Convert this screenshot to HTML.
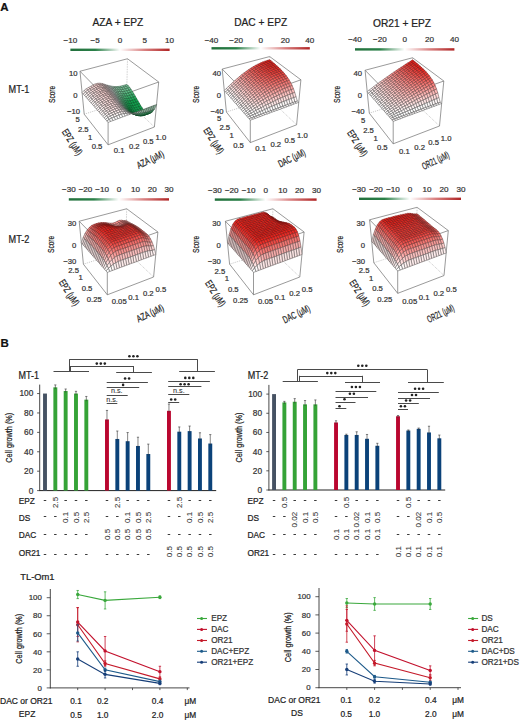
<!DOCTYPE html>
<html><head><meta charset="utf-8"><style>
html,body{margin:0;padding:0;background:#fff;}
svg{display:block;font-family:"Liberation Sans", sans-serif;}
text{stroke:currentColor;stroke-width:0.22px;}
</style></head><body>
<svg width="520" height="720" viewBox="0 0 520 720">
<rect width="520" height="720" fill="#fff"/>
<text x="0.30" y="11.30" font-size="11.5" text-anchor="start" font-weight="bold" fill="#111" color="#111" >A</text>
<defs><linearGradient id="cbg" x1="0" x2="1" y1="0" y2="0"><stop offset="0" stop-color="#22703c"/><stop offset="0.25" stop-color="#2a8048"/><stop offset="0.5" stop-color="#ffffff"/><stop offset="0.75" stop-color="#d98080"/><stop offset="1" stop-color="#b02424"/></linearGradient></defs>
<text x="117.90" y="26.20" font-size="10.2" text-anchor="middle" font-weight="normal" fill="#222" color="#222" >AZA + EPZ</text>
<text x="260.70" y="26.20" font-size="10.2" text-anchor="middle" font-weight="normal" fill="#222" color="#222" >DAC + EPZ</text>
<text x="402.00" y="26.50" font-size="10.2" text-anchor="middle" font-weight="normal" fill="#222" color="#222" >OR21 + EPZ</text>
<rect x="70.40" y="48.60" width="99.20" height="2.4" fill="url(#cbg)"/>
<text x="70.40" y="42.70" font-size="8.1" text-anchor="middle" font-weight="normal" fill="#333" color="#333" >−10</text>
<text x="95.20" y="42.70" font-size="8.1" text-anchor="middle" font-weight="normal" fill="#333" color="#333" >−5</text>
<text x="120.00" y="42.70" font-size="8.1" text-anchor="middle" font-weight="normal" fill="#333" color="#333" >0</text>
<text x="144.80" y="42.70" font-size="8.1" text-anchor="middle" font-weight="normal" fill="#333" color="#333" >5</text>
<text x="169.60" y="42.70" font-size="8.1" text-anchor="middle" font-weight="normal" fill="#333" color="#333" >10</text>
<rect x="211.50" y="47.10" width="98.30" height="2.4" fill="url(#cbg)"/>
<text x="211.50" y="42.70" font-size="8.1" text-anchor="middle" font-weight="normal" fill="#333" color="#333" >−40</text>
<text x="236.07" y="42.70" font-size="8.1" text-anchor="middle" font-weight="normal" fill="#333" color="#333" >−20</text>
<text x="260.65" y="42.70" font-size="8.1" text-anchor="middle" font-weight="normal" fill="#333" color="#333" >0</text>
<text x="285.23" y="42.70" font-size="8.1" text-anchor="middle" font-weight="normal" fill="#333" color="#333" >20</text>
<text x="309.80" y="42.70" font-size="8.1" text-anchor="middle" font-weight="normal" fill="#333" color="#333" >40</text>
<rect x="355.00" y="48.20" width="99.40" height="2.4" fill="url(#cbg)"/>
<text x="355.00" y="42.30" font-size="8.1" text-anchor="middle" font-weight="normal" fill="#333" color="#333" >−40</text>
<text x="379.85" y="42.30" font-size="8.1" text-anchor="middle" font-weight="normal" fill="#333" color="#333" >−20</text>
<text x="404.70" y="42.30" font-size="8.1" text-anchor="middle" font-weight="normal" fill="#333" color="#333" >0</text>
<text x="429.55" y="42.30" font-size="8.1" text-anchor="middle" font-weight="normal" fill="#333" color="#333" >20</text>
<text x="454.40" y="42.30" font-size="8.1" text-anchor="middle" font-weight="normal" fill="#333" color="#333" >40</text>
<rect x="68.80" y="198.20" width="100.20" height="2.4" fill="url(#cbg)"/>
<text x="68.80" y="192.30" font-size="8.1" text-anchor="middle" font-weight="normal" fill="#333" color="#333" >−30</text>
<text x="85.50" y="192.30" font-size="8.1" text-anchor="middle" font-weight="normal" fill="#333" color="#333" >−20</text>
<text x="102.20" y="192.30" font-size="8.1" text-anchor="middle" font-weight="normal" fill="#333" color="#333" >−10</text>
<text x="118.90" y="192.30" font-size="8.1" text-anchor="middle" font-weight="normal" fill="#333" color="#333" >0</text>
<text x="135.60" y="192.30" font-size="8.1" text-anchor="middle" font-weight="normal" fill="#333" color="#333" >10</text>
<text x="152.30" y="192.30" font-size="8.1" text-anchor="middle" font-weight="normal" fill="#333" color="#333" >20</text>
<text x="169.00" y="192.30" font-size="8.1" text-anchor="middle" font-weight="normal" fill="#333" color="#333" >30</text>
<rect x="214.80" y="198.40" width="101.80" height="2.4" fill="url(#cbg)"/>
<text x="214.80" y="192.50" font-size="8.1" text-anchor="middle" font-weight="normal" fill="#333" color="#333" >−30</text>
<text x="231.77" y="192.50" font-size="8.1" text-anchor="middle" font-weight="normal" fill="#333" color="#333" >−20</text>
<text x="248.73" y="192.50" font-size="8.1" text-anchor="middle" font-weight="normal" fill="#333" color="#333" >−10</text>
<text x="265.70" y="192.50" font-size="8.1" text-anchor="middle" font-weight="normal" fill="#333" color="#333" >0</text>
<text x="282.67" y="192.50" font-size="8.1" text-anchor="middle" font-weight="normal" fill="#333" color="#333" >10</text>
<text x="299.63" y="192.50" font-size="8.1" text-anchor="middle" font-weight="normal" fill="#333" color="#333" >20</text>
<text x="316.60" y="192.50" font-size="8.1" text-anchor="middle" font-weight="normal" fill="#333" color="#333" >30</text>
<rect x="359.00" y="197.60" width="102.00" height="2.4" fill="url(#cbg)"/>
<text x="359.00" y="191.70" font-size="8.1" text-anchor="middle" font-weight="normal" fill="#333" color="#333" >−30</text>
<text x="376.00" y="191.70" font-size="8.1" text-anchor="middle" font-weight="normal" fill="#333" color="#333" >−20</text>
<text x="393.00" y="191.70" font-size="8.1" text-anchor="middle" font-weight="normal" fill="#333" color="#333" >−10</text>
<text x="410.00" y="191.70" font-size="8.1" text-anchor="middle" font-weight="normal" fill="#333" color="#333" >0</text>
<text x="427.00" y="191.70" font-size="8.1" text-anchor="middle" font-weight="normal" fill="#333" color="#333" >10</text>
<text x="444.00" y="191.70" font-size="8.1" text-anchor="middle" font-weight="normal" fill="#333" color="#333" >20</text>
<text x="461.00" y="191.70" font-size="8.1" text-anchor="middle" font-weight="normal" fill="#333" color="#333" >30</text>
<text x="8.60" y="92.60" font-size="10" text-anchor="start" font-weight="normal" fill="#222" color="#222" textLength="20.8" lengthAdjust="spacingAndGlyphs">MT-1</text>
<text x="8.60" y="243.00" font-size="10" text-anchor="start" font-weight="normal" fill="#222" color="#222" textLength="20.8" lengthAdjust="spacingAndGlyphs">MT-2</text>
<line x1="80.00" y1="71.25" x2="127.50" y2="58.75" stroke="#6e6e6e" stroke-width="0.7" />
<line x1="127.50" y1="58.75" x2="158.70" y2="82.00" stroke="#6e6e6e" stroke-width="0.7" />
<line x1="158.70" y1="82.00" x2="108.10" y2="100.00" stroke="#6e6e6e" stroke-width="0.7" />
<line x1="108.10" y1="100.00" x2="80.00" y2="71.25" stroke="#6e6e6e" stroke-width="0.7" />
<line x1="84.20" y1="114.20" x2="108.10" y2="144.80" stroke="#6e6e6e" stroke-width="0.7" />
<line x1="108.10" y1="144.80" x2="154.40" y2="127.00" stroke="#6e6e6e" stroke-width="0.7" />
<line x1="84.20" y1="114.20" x2="126.50" y2="100.50" stroke="#999" stroke-width="0.55" stroke-dasharray="1,1"/>
<line x1="126.50" y1="100.50" x2="154.40" y2="127.00" stroke="#999" stroke-width="0.55" stroke-dasharray="1,1"/>
<line x1="80.00" y1="71.25" x2="84.20" y2="114.20" stroke="#6e6e6e" stroke-width="0.7" />
<line x1="158.70" y1="82.00" x2="154.40" y2="127.00" stroke="#6e6e6e" stroke-width="0.7" />
<line x1="108.10" y1="100.00" x2="108.10" y2="144.80" stroke="#6e6e6e" stroke-width="0.7" />
<line x1="127.50" y1="58.75" x2="126.50" y2="100.50" stroke="#aaa" stroke-width="0.55" stroke-dasharray="1.5,1"/>
<g stroke-width="0.55">
<polygon points="126.1,86.5 128.3,85.8 126.9,84.4 124.7,85.0" fill="#7dcb9e" stroke="#385c47"/>
<polygon points="123.9,87.1 126.1,86.5 124.7,85.0 122.5,85.7" fill="#7dcb9e" stroke="#385c47"/>
<polygon points="127.6,88.2 129.8,87.5 128.3,85.8 126.1,86.5" fill="#78cc9b" stroke="#365d46"/>
<polygon points="121.7,87.7 123.9,87.1 122.5,85.7 120.2,86.2" fill="#7ecb9e" stroke="#395c47"/>
<polygon points="125.3,88.8 127.6,88.2 126.1,86.5 123.9,87.1" fill="#79cc9b" stroke="#375c46"/>
<polygon points="119.4,88.0 121.7,87.7 120.2,86.2 118.0,86.5" fill="#81caa0" stroke="#3a5b48"/>
<polygon points="129.0,90.2 131.2,89.5 129.8,87.5 127.6,88.2" fill="#6dc994" stroke="#325d44"/>
<polygon points="123.1,89.4 125.3,88.8 123.9,87.1 121.7,87.7" fill="#7acc9c" stroke="#375c47"/>
<polygon points="117.2,88.1 119.4,88.0 118.0,86.5 115.8,86.6" fill="#89cba5" stroke="#3d5b4a"/>
<polygon points="126.7,90.8 129.0,90.2 127.6,88.2 125.3,88.8" fill="#6ec994" stroke="#325c44"/>
<polygon points="120.9,89.8 123.1,89.4 121.7,87.7 119.4,88.0" fill="#7dcb9d" stroke="#385c47"/>
<polygon points="115.0,87.9 117.2,88.1 115.8,86.6 113.6,86.5" fill="#96cead" stroke="#425a4c"/>
<polygon points="130.4,92.4 132.6,91.7 131.2,89.5 129.0,90.2" fill="#5dc488" stroke="#2c5c40"/>
<polygon points="124.5,91.4 126.7,90.8 125.3,88.8 123.1,89.4" fill="#6fc994" stroke="#335c44"/>
<polygon points="118.6,89.8 120.9,89.8 119.4,88.0 117.2,88.1" fill="#85cba2" stroke="#3c5b49"/>
<polygon points="112.7,87.6 115.0,87.9 113.6,86.5 111.3,86.1" fill="#a8d2ba" stroke="#485a50"/>
<polygon points="128.2,93.0 130.4,92.4 129.0,90.2 126.7,90.8" fill="#5ec488" stroke="#2c5c40"/>
<polygon points="122.3,91.7 124.5,91.4 123.1,89.4 120.9,89.8" fill="#72c896" stroke="#345c45"/>
<polygon points="110.5,87.1 112.7,87.6 111.3,86.1 109.1,85.6" fill="#c0dacb" stroke="#4f5a54"/>
<polygon points="116.4,89.6 118.6,89.8 117.2,88.1 115.0,87.9" fill="#92ceab" stroke="#405b4b"/>
<polygon points="131.8,94.7 134.0,94.0 132.6,91.7 130.4,92.4" fill="#4abc7a" stroke="#245b3b"/>
<polygon points="125.9,93.6 128.2,93.0 126.7,90.8 124.5,91.4" fill="#5fc389" stroke="#2c5c40"/>
<polygon points="120.0,91.7 122.3,91.7 120.9,89.8 118.6,89.8" fill="#7bc99b" stroke="#385b46"/>
<polygon points="108.2,86.4 110.5,87.1 109.1,85.6 106.8,85.0" fill="#e0e5e2" stroke="#575958"/>
<polygon points="114.1,89.2 116.4,89.6 115.0,87.9 112.7,87.6" fill="#a4d2b8" stroke="#465a4f"/>
<polygon points="129.6,95.4 131.8,94.7 130.4,92.4 128.2,93.0" fill="#4abd7a" stroke="#245c3b"/>
<polygon points="123.7,93.9 125.9,93.6 124.5,91.4 122.3,91.7" fill="#63c38b" stroke="#2e5b41"/>
<polygon points="105.9,85.6 108.2,86.4 106.8,85.0 104.5,84.2" fill="#e6dddd" stroke="#5b5757"/>
<polygon points="117.8,91.5 120.0,91.7 118.6,89.8 116.4,89.6" fill="#89cba4" stroke="#3d5b49"/>
<polygon points="111.9,88.7 114.1,89.2 112.7,87.6 110.5,87.1" fill="#bddac9" stroke="#4e5a53"/>
<polygon points="133.2,97.1 135.4,96.4 134.0,94.0 131.8,94.7" fill="#35b46a" stroke="#1a5a35"/>
<polygon points="127.3,96.0 129.6,95.4 128.2,93.0 125.9,93.6" fill="#4cbc7b" stroke="#245b3b"/>
<polygon points="121.5,93.8 123.7,93.9 122.3,91.7 120.0,91.7" fill="#6cc390" stroke="#325b43"/>
<polygon points="103.6,84.9 105.9,85.6 104.5,84.2 102.2,83.5" fill="#e6d4d4" stroke="#5c5555"/>
<polygon points="115.5,91.0 117.8,91.5 116.4,89.6 114.1,89.2" fill="#9cd0b1" stroke="#445b4d"/>
<polygon points="109.6,87.9 111.9,88.7 110.5,87.1 108.2,86.4" fill="#dde4e0" stroke="#575a58"/>
<polygon points="130.9,97.8 133.2,97.1 131.8,94.7 129.6,95.4" fill="#35b46a" stroke="#1a5a35"/>
<polygon points="125.1,96.2 127.3,96.0 125.9,93.6 123.7,93.9" fill="#50bb7d" stroke="#265a3c"/>
<polygon points="101.2,84.6 103.6,84.9 102.2,83.5 99.8,83.2" fill="#eacecd" stroke="#5f5453"/>
<polygon points="119.2,93.5 121.5,93.8 120.0,91.7 117.8,91.5" fill="#7bc69a" stroke="#385a46"/>
<polygon points="107.3,87.1 109.6,87.9 108.2,86.4 105.9,85.6" fill="#e7dfdf" stroke="#5b5858"/>
<polygon points="113.3,90.4 115.5,91.0 114.1,89.2 111.9,88.7" fill="#b5d8c3" stroke="#4c5a52"/>
<polygon points="134.6,99.6 136.8,98.9 135.4,96.4 133.2,97.1" fill="#1fac59" stroke="#10592e"/>
<polygon points="128.7,98.4 130.9,97.8 129.6,95.4 127.3,96.0" fill="#36b46b" stroke="#1b5a35"/>
<polygon points="122.8,96.1 125.1,96.2 123.7,93.9 121.5,93.8" fill="#5bbc83" stroke="#2b5a3e"/>
<polygon points="98.9,84.7 101.2,84.6 99.8,83.2 97.5,83.3" fill="#f0cccb" stroke="#615352"/>
<polygon points="117.0,92.9 119.2,93.5 117.8,91.5 115.5,91.0" fill="#90cba8" stroke="#405a4b"/>
<polygon points="105.0,86.4 107.3,87.1 105.9,85.6 103.6,84.9" fill="#e7d5d5" stroke="#5d5555"/>
<polygon points="111.0,89.6 113.3,90.4 111.9,88.7 109.6,87.9" fill="#d4e1da" stroke="#545a57"/>
<polygon points="132.3,100.3 134.6,99.6 133.2,97.1 130.9,97.8" fill="#1fac5a" stroke="#10592e"/>
<polygon points="126.5,98.6 128.7,98.4 127.3,96.0 125.1,96.2" fill="#3cb36d" stroke="#1e5936"/>
<polygon points="96.6,85.3 98.9,84.7 97.5,83.3 95.3,83.9" fill="#f6cfcd" stroke="#635352"/>
<polygon points="120.6,95.6 122.8,96.1 121.5,93.8 119.2,93.5" fill="#6bbf8e" stroke="#325a42"/>
<polygon points="102.6,86.0 105.0,86.4 103.6,84.9 101.2,84.6" fill="#eacece" stroke="#5f5353"/>
<polygon points="114.7,92.2 117.0,92.9 115.5,91.0 113.3,90.4" fill="#aad3bb" stroke="#485a50"/>
<polygon points="108.7,88.7 111.0,89.6 109.6,87.9 107.3,87.1" fill="#e7e0e0" stroke="#5b5858"/>
<polygon points="135.9,102.1 138.2,101.3 136.8,98.9 134.6,99.6" fill="#10a64f" stroke="#085729"/>
<polygon points="130.1,100.9 132.3,100.3 130.9,97.8 128.7,98.4" fill="#21ac5b" stroke="#11582f"/>
<polygon points="124.2,98.4 126.5,98.6 125.1,96.2 122.8,96.1" fill="#47b475" stroke="#235939"/>
<polygon points="94.4,86.4 96.6,85.3 95.3,83.9 93.0,84.9" fill="#fad4d3" stroke="#635453"/>
<polygon points="118.4,94.9 120.6,95.6 119.2,93.5 117.0,92.9" fill="#81c59d" stroke="#3b5a47"/>
<polygon points="100.3,86.1 102.6,86.0 101.2,84.6 98.9,84.7" fill="#f0cccb" stroke="#615352"/>
<polygon points="112.4,91.3 114.7,92.2 113.3,90.4 111.0,89.6" fill="#c9ddd2" stroke="#525a55"/>
<polygon points="106.4,87.9 108.7,88.7 107.3,87.1 105.0,86.4" fill="#e7d6d5" stroke="#5c5655"/>
<polygon points="133.7,102.8 135.9,102.1 134.6,99.6 132.3,100.3" fill="#10a64f" stroke="#085729"/>
<polygon points="127.8,101.1 130.1,100.9 128.7,98.4 126.5,98.6" fill="#26ab5d" stroke="#13582f"/>
<polygon points="92.1,87.6 94.4,86.4 93.0,84.9 90.8,86.2" fill="#fcdad9" stroke="#625554"/>
<polygon points="122.0,97.9 124.2,98.4 122.8,96.1 120.6,95.6" fill="#59b780" stroke="#2b583e"/>
<polygon points="98.0,86.7 100.3,86.1 98.9,84.7 96.6,85.3" fill="#f6cfcd" stroke="#635352"/>
<polygon points="116.1,94.1 118.4,94.9 117.0,92.9 114.7,92.2" fill="#9ccdb1" stroke="#445a4d"/>
<polygon points="104.0,87.4 106.4,87.9 105.0,86.4 102.6,86.0" fill="#eacfce" stroke="#5f5453"/>
<polygon points="110.1,90.3 112.4,91.3 111.0,89.6 108.7,88.7" fill="#e7e1e1" stroke="#5a5858"/>
<polygon points="137.3,104.5 139.6,103.7 138.2,101.3 135.9,102.1" fill="#10a64f" stroke="#085729"/>
<polygon points="131.4,103.4 133.7,102.8 132.3,100.3 130.1,100.9" fill="#10a54e" stroke="#085729"/>
<polygon points="125.6,100.8 127.8,101.1 126.5,98.6 124.2,98.4" fill="#33ac65" stroke="#195733"/>
<polygon points="89.9,88.8 92.1,87.6 90.8,86.2 88.6,87.4" fill="#fde0df" stroke="#615656"/>
<polygon points="119.7,97.0 122.0,97.9 120.6,95.6 118.4,94.9" fill="#71bd91" stroke="#355844"/>
<polygon points="95.7,87.8 98.0,86.7 96.6,85.3 94.4,86.4" fill="#fad4d3" stroke="#635453"/>
<polygon points="113.8,93.1 116.1,94.1 114.7,92.2 112.4,91.3" fill="#bdd7c8" stroke="#4f5953"/>
<polygon points="101.7,87.5 104.0,87.4 102.6,86.0 100.3,86.1" fill="#efcccb" stroke="#615352"/>
<polygon points="107.7,89.4 110.1,90.3 108.7,88.7 106.4,87.9" fill="#e6d7d6" stroke="#5c5656"/>
<polygon points="135.0,105.3 137.3,104.5 135.9,102.1 133.7,102.8" fill="#10a64f" stroke="#085729"/>
<polygon points="129.2,103.5 131.4,103.4 130.1,100.9 127.8,101.1" fill="#11a24e" stroke="#095629"/>
<polygon points="87.7,90.2 89.9,88.8 88.6,87.4 86.4,88.7" fill="#fee6e6" stroke="#605757"/>
<polygon points="123.4,100.1 125.6,100.8 124.2,98.4 122.0,97.9" fill="#47af72" stroke="#235738"/>
<polygon points="93.5,89.0 95.7,87.8 94.4,86.4 92.1,87.6" fill="#fcdad9" stroke="#625554"/>
<polygon points="117.5,96.1 119.7,97.0 118.4,94.9 116.1,94.1" fill="#8ec6a5" stroke="#40594a"/>
<polygon points="99.4,88.1 101.7,87.5 100.3,86.1 98.0,86.7" fill="#f6cfcd" stroke="#635352"/>
<polygon points="111.5,91.9 113.8,93.1 112.4,91.3 110.1,90.3" fill="#e6e2e2" stroke="#5a5858"/>
<polygon points="105.4,88.9 107.7,89.4 106.4,87.9 104.0,87.4" fill="#e9cfce" stroke="#5e5453"/>
<polygon points="138.7,106.8 140.9,106.0 139.6,103.7 137.3,104.5" fill="#10a64e" stroke="#085729"/>
<polygon points="132.8,105.9 135.0,105.3 133.7,102.8 131.4,103.4" fill="#10a54e" stroke="#085729"/>
<polygon points="127.0,103.2 129.2,103.5 127.8,101.1 125.6,100.8" fill="#1fa356" stroke="#10552d"/>
<polygon points="85.5,91.8 87.7,90.2 86.4,88.7 84.2,90.4" fill="#ffeeee" stroke="#5f5959"/>
<polygon points="121.1,99.2 123.4,100.1 122.0,97.9 119.7,97.0" fill="#60b684" stroke="#2e573f"/>
<polygon points="91.3,90.3 93.5,89.0 92.1,87.6 89.9,88.8" fill="#fde0df" stroke="#615656"/>
<polygon points="115.2,94.9 117.5,96.1 116.1,94.1 113.8,93.1" fill="#b0d1be" stroke="#4b5951"/>
<polygon points="97.1,89.2 99.4,88.1 98.0,86.7 95.7,87.8" fill="#fad4d3" stroke="#635453"/>
<polygon points="109.1,90.9 111.5,91.9 110.1,90.3 107.7,89.4" fill="#e5d7d7" stroke="#5c5656"/>
<polygon points="103.1,88.9 105.4,88.9 104.0,87.4 101.7,87.5" fill="#efcccb" stroke="#615352"/>
<polygon points="136.4,107.6 138.7,106.8 137.3,104.5 135.0,105.3" fill="#10a64e" stroke="#085729"/>
<polygon points="130.6,106.0 132.8,105.9 131.4,103.4 129.2,103.5" fill="#10a14c" stroke="#085528"/>
<polygon points="83.4,94.2 85.5,91.8 84.2,90.4 82.1,92.7" fill="#fff8f7" stroke="#5d5a5a"/>
<polygon points="124.8,102.4 127.0,103.2 125.6,100.8 123.4,100.1" fill="#34a764" stroke="#1a5533"/>
<polygon points="89.0,91.6 91.3,90.3 89.9,88.8 87.7,90.2" fill="#fee6e6" stroke="#605757"/>
<polygon points="118.9,98.1 121.1,99.2 119.7,97.0 117.5,96.1" fill="#7fc09a" stroke="#3a5847"/>
<polygon points="140.0,108.9 142.3,108.1 140.9,106.0 138.7,106.8" fill="#10a54e" stroke="#085729"/>
<polygon points="94.9,90.5 97.1,89.2 95.7,87.8 93.5,89.0" fill="#fcdad9" stroke="#625554"/>
<polygon points="112.9,93.6 115.2,94.9 113.8,93.1 111.5,91.9" fill="#e1e2e1" stroke="#585958"/>
<polygon points="100.8,89.5 103.1,88.9 101.7,87.5 99.4,88.1" fill="#f6cfcd" stroke="#635352"/>
<polygon points="106.8,90.3 109.1,90.9 107.7,89.4 105.4,88.9" fill="#e8cfce" stroke="#5e5454"/>
<polygon points="134.2,108.2 136.4,107.6 135.0,105.3 132.8,105.9" fill="#10a54e" stroke="#085729"/>
<polygon points="128.3,105.5 130.6,106.0 129.2,103.5 127.0,103.2" fill="#0f9c4a" stroke="#085327"/>
<polygon points="122.5,101.4 124.8,102.4 123.4,100.1 121.1,99.2" fill="#4fae77" stroke="#27563b"/>
<polygon points="86.8,93.3 89.0,91.6 87.7,90.2 85.5,91.8" fill="#ffeeee" stroke="#5f5959"/>
<polygon points="116.6,96.7 118.9,98.1 117.5,96.1 115.2,94.9" fill="#a2cbb3" stroke="#47594e"/>
<polygon points="92.6,91.7 94.9,90.5 93.5,89.0 91.3,90.3" fill="#fde0df" stroke="#615656"/>
<polygon points="110.5,92.5 112.9,93.6 111.5,91.9 109.1,90.9" fill="#e4d8d7" stroke="#5b5656"/>
<polygon points="98.5,90.6 100.8,89.5 99.4,88.1 97.1,89.2" fill="#fad4d3" stroke="#635453"/>
<polygon points="137.8,109.7 140.0,108.9 138.7,106.8 136.4,107.6" fill="#10a54e" stroke="#085729"/>
<polygon points="104.5,90.3 106.8,90.3 105.4,88.9 103.1,88.9" fill="#eecccb" stroke="#615352"/>
<polygon points="131.9,108.2 134.2,108.2 132.8,105.9 130.6,106.0" fill="#10a04c" stroke="#085528"/>
<polygon points="126.1,104.7 128.3,105.5 127.0,103.2 124.8,102.4" fill="#239f57" stroke="#12532d"/>
<polygon points="141.4,110.7 143.7,109.9 142.3,108.1 140.0,108.9" fill="#10a34d" stroke="#085628"/>
<polygon points="84.7,95.6 86.8,93.3 85.5,91.8 83.4,94.2" fill="#fff8f7" stroke="#5d5a5a"/>
<polygon points="120.3,100.1 122.5,101.4 121.1,99.2 118.9,98.1" fill="#6fb98e" stroke="#345743"/>
<polygon points="90.4,93.1 92.6,91.7 91.3,90.3 89.0,91.6" fill="#fee6e6" stroke="#605757"/>
<polygon points="114.3,95.3 116.6,96.7 115.2,94.9 112.9,93.6" fill="#d1dbd5" stroke="#545956"/>
<polygon points="96.2,91.9 98.5,90.6 97.1,89.2 94.9,90.5" fill="#fcdad9" stroke="#625554"/>
<polygon points="108.2,91.8 110.5,92.5 109.1,90.9 106.8,90.3" fill="#e7cfce" stroke="#5e5454"/>
<polygon points="102.1,90.9 104.5,90.3 103.1,88.9 100.8,89.5" fill="#f6cfcd" stroke="#635352"/>
<polygon points="135.5,110.3 137.8,109.7 136.4,107.6 134.2,108.2" fill="#10a44e" stroke="#085629"/>
<polygon points="129.7,107.8 131.9,108.2 130.6,106.0 128.3,105.5" fill="#0f9b49" stroke="#085327"/>
<polygon points="123.9,103.5 126.1,104.7 124.8,102.4 122.5,101.4" fill="#3fa76b" stroke="#205436"/>
<polygon points="118.0,98.7 120.3,100.1 118.9,98.1 116.6,96.7" fill="#95c5a9" stroke="#42584b"/>
<polygon points="139.1,111.5 141.4,110.7 140.0,108.9 137.8,109.7" fill="#10a34d" stroke="#085628"/>
<polygon points="88.1,94.8 90.4,93.1 89.0,91.6 86.8,93.3" fill="#ffeeee" stroke="#5f5959"/>
<polygon points="111.9,94.1 114.3,95.3 112.9,93.6 110.5,92.5" fill="#e3d9d8" stroke="#5b5756"/>
<polygon points="93.9,93.2 96.2,91.9 94.9,90.5 92.6,91.7" fill="#fde0df" stroke="#615656"/>
<polygon points="105.9,91.7 108.2,91.8 106.8,90.3 104.5,90.3" fill="#edcccb" stroke="#605352"/>
<polygon points="99.8,92.0 102.1,90.9 100.8,89.5 98.5,90.6" fill="#fad4d3" stroke="#635453"/>
<polygon points="133.3,110.4 135.5,110.3 134.2,108.2 131.9,108.2" fill="#0f9f4b" stroke="#085528"/>
<polygon points="127.5,106.9 129.7,107.8 128.3,105.5 126.1,104.7" fill="#14984b" stroke="#0a5128"/>
<polygon points="142.8,112.2 145.1,111.4 143.7,109.9 141.4,110.7" fill="#10a14c" stroke="#085528"/>
<polygon points="121.6,102.2 123.9,103.5 122.5,101.4 120.3,100.1" fill="#61b283" stroke="#2f563f"/>
<polygon points="86.0,97.1 88.1,94.8 86.8,93.3 84.7,95.6" fill="#fff8f7" stroke="#5d5a5a"/>
<polygon points="115.7,97.1 118.0,98.7 116.6,96.7 114.3,95.3" fill="#c3d5cb" stroke="#515854"/>
<polygon points="136.9,112.2 139.1,111.5 137.8,109.7 135.5,110.3" fill="#10a24d" stroke="#085628"/>
<polygon points="91.7,94.5 93.9,93.2 92.6,91.7 90.4,93.1" fill="#fee6e6" stroke="#605757"/>
<polygon points="109.6,93.3 111.9,94.1 110.5,92.5 108.2,91.8" fill="#e6d0cf" stroke="#5d5454"/>
<polygon points="97.6,93.3 99.8,92.0 98.5,90.6 96.2,91.9" fill="#fcdad9" stroke="#625554"/>
<polygon points="103.5,92.3 105.9,91.7 104.5,90.3 102.1,90.9" fill="#f5cecd" stroke="#625352"/>
<polygon points="131.1,109.9 133.3,110.4 131.9,108.2 129.7,107.8" fill="#0f9949" stroke="#085227"/>
<polygon points="125.3,105.6 127.5,106.9 126.1,104.7 123.9,103.5" fill="#31a05f" stroke="#195331"/>
<polygon points="140.5,113.0 142.8,112.2 141.4,110.7 139.1,111.5" fill="#10a14c" stroke="#085528"/>
<polygon points="119.4,100.6 121.6,102.2 120.3,100.1 118.0,98.7" fill="#87bf9e" stroke="#3e5748"/>
<polygon points="113.3,95.8 115.7,97.1 114.3,95.3 111.9,94.1" fill="#e2dada" stroke="#5a5757"/>
<polygon points="89.5,96.2 91.7,94.5 90.4,93.1 88.1,94.8" fill="#ffeeee" stroke="#5f5959"/>
<polygon points="107.2,93.1 109.6,93.3 108.2,91.8 105.9,91.7" fill="#edcccb" stroke="#605352"/>
<polygon points="95.3,94.6 97.6,93.3 96.2,91.9 93.9,93.2" fill="#fde0df" stroke="#615656"/>
<polygon points="101.2,93.4 103.5,92.3 102.1,90.9 99.8,92.0" fill="#fad4d3" stroke="#635453"/>
<polygon points="134.6,112.2 136.9,112.2 135.5,110.3 133.3,110.4" fill="#0f9d4a" stroke="#085427"/>
<polygon points="128.8,108.9 131.1,109.9 129.7,107.8 127.5,106.9" fill="#0e9546" stroke="#075025"/>
<polygon points="144.2,113.2 146.5,112.4 145.1,111.4 142.8,112.2" fill="#0f9c4a" stroke="#085327"/>
<polygon points="123.0,104.2 125.3,105.6 123.9,103.5 121.6,102.2" fill="#53ab78" stroke="#29543b"/>
<polygon points="138.3,113.7 140.5,113.0 139.1,111.5 136.9,112.2" fill="#10a04c" stroke="#085528"/>
<polygon points="117.0,99.0 119.4,100.6 118.0,98.7 115.7,97.1" fill="#b6cfc0" stroke="#4d5852"/>
<polygon points="87.3,98.6 89.5,96.2 88.1,94.8 86.0,97.1" fill="#fff8f7" stroke="#5d5a5a"/>
<polygon points="111.0,94.9 113.3,95.8 111.9,94.1 109.6,93.3" fill="#e6d1d0" stroke="#5d5554"/>
<polygon points="93.0,96.0 95.3,94.6 93.9,93.2 91.7,94.5" fill="#fee6e6" stroke="#605757"/>
<polygon points="104.9,93.7 107.2,93.1 105.9,91.7 103.5,92.3" fill="#f6cfce" stroke="#635352"/>
<polygon points="98.9,94.7 101.2,93.4 99.8,92.0 97.6,93.3" fill="#fcdad9" stroke="#625554"/>
<polygon points="132.4,111.7 134.6,112.2 133.3,110.4 131.1,109.9" fill="#0f9748" stroke="#085126"/>
<polygon points="126.6,107.6 128.8,108.9 127.5,106.9 125.3,105.6" fill="#259a55" stroke="#13512c"/>
<polygon points="142.0,114.0 144.2,113.2 142.8,112.2 140.5,113.0" fill="#0f9c4a" stroke="#085327"/>
<polygon points="120.7,102.6 123.0,104.2 121.6,102.2 119.4,100.6" fill="#7ab994" stroke="#395645"/>
<polygon points="114.7,97.5 117.0,99.0 115.7,97.1 113.3,95.8" fill="#e2dcdb" stroke="#5a5757"/>
<polygon points="136.0,113.7 138.3,113.7 136.9,112.2 134.6,112.2" fill="#0f9a49" stroke="#085227"/>
<polygon points="108.6,94.7 111.0,94.9 109.6,93.3 107.2,93.1" fill="#edcdcc" stroke="#605353"/>
<polygon points="90.8,97.7 93.0,96.0 91.7,94.5 89.5,96.2" fill="#ffeeee" stroke="#5f5959"/>
<polygon points="102.6,94.9 104.9,93.7 103.5,92.3 101.2,93.4" fill="#fbd4d3" stroke="#635453"/>
<polygon points="96.6,96.0 98.9,94.7 97.6,93.3 95.3,94.6" fill="#fde0df" stroke="#615656"/>
<polygon points="145.7,113.8 148.0,113.0 146.5,112.4 144.2,113.2" fill="#0f9747" stroke="#085126"/>
<polygon points="130.2,110.7 132.4,111.7 131.1,109.9 128.8,108.9" fill="#0e9345" stroke="#074f25"/>
<polygon points="124.4,106.1 126.6,107.6 125.3,105.6 123.0,104.2" fill="#47a66f" stroke="#235338"/>
<polygon points="139.7,114.7 142.0,114.0 140.5,113.0 138.3,113.7" fill="#0f9b49" stroke="#085327"/>
<polygon points="118.4,100.8 120.7,102.6 119.4,100.6 117.0,99.0" fill="#a9c9b6" stroke="#49574f"/>
<polygon points="112.4,96.5 114.7,97.5 113.3,95.8 111.0,94.9" fill="#e5d2d2" stroke="#5d5555"/>
<polygon points="88.6,100.1 90.8,97.7 89.5,96.2 87.3,98.6" fill="#fff8f7" stroke="#5d5a5a"/>
<polygon points="133.8,113.2 136.0,113.7 134.6,112.2 132.4,111.7" fill="#0e9546" stroke="#075025"/>
<polygon points="106.3,95.2 108.6,94.7 107.2,93.1 104.9,93.7" fill="#f6d0cf" stroke="#625353"/>
<polygon points="94.3,97.5 96.6,96.0 95.3,94.6 93.0,96.0" fill="#fee6e6" stroke="#605757"/>
<polygon points="100.3,96.2 102.6,94.9 101.2,93.4 98.9,94.7" fill="#fcdad9" stroke="#625554"/>
<polygon points="128.0,109.4 130.2,110.7 128.8,108.9 126.6,107.6" fill="#1b954e" stroke="#0e5029"/>
<polygon points="143.4,114.6 145.7,113.8 144.2,113.2 142.0,114.0" fill="#0f9747" stroke="#085126"/>
<polygon points="122.1,104.5 124.4,106.1 123.0,104.2 120.7,102.6" fill="#6fb38b" stroke="#355542"/>
<polygon points="137.4,114.8 139.7,114.7 138.3,113.7 136.0,113.7" fill="#0f9647" stroke="#085126"/>
<polygon points="116.1,99.3 118.4,100.8 117.0,99.0 114.7,97.5" fill="#e1dddd" stroke="#595858"/>
<polygon points="110.0,96.2 112.4,96.5 111.0,94.9 108.6,94.7" fill="#eccecd" stroke="#605353"/>
<polygon points="147.2,114.0 149.5,113.2 148.0,113.0 145.7,113.8" fill="#0e9245" stroke="#074f25"/>
<polygon points="103.9,96.3 106.3,95.2 104.9,93.7 102.6,94.9" fill="#fbd5d4" stroke="#635453"/>
<polygon points="92.1,99.2 94.3,97.5 93.0,96.0 90.8,97.7" fill="#ffeeee" stroke="#5f5959"/>
<polygon points="98.0,97.5 100.3,96.2 98.9,94.7 96.6,96.0" fill="#fde0df" stroke="#615656"/>
<polygon points="131.6,112.3 133.8,113.2 132.4,111.7 130.2,110.7" fill="#0e9144" stroke="#074f25"/>
<polygon points="125.7,108.0 128.0,109.4 126.6,107.6 124.4,106.1" fill="#3ea167" stroke="#1f5234"/>
<polygon points="141.1,115.3 143.4,114.6 142.0,114.0 139.7,114.7" fill="#0f9647" stroke="#085126"/>
<polygon points="119.8,102.7 122.1,104.5 120.7,102.6 118.4,100.8" fill="#9dc4ad" stroke="#46574d"/>
<polygon points="113.8,98.2 116.1,99.3 114.7,97.5 112.4,96.5" fill="#e4d4d4" stroke="#5c5555"/>
<polygon points="135.2,114.4 137.4,114.8 136.0,113.7 133.8,113.2" fill="#0e9145" stroke="#074f25"/>
<polygon points="107.7,96.7 110.0,96.2 108.6,94.7 106.3,95.2" fill="#f6d1d0" stroke="#625353"/>
<polygon points="89.9,101.6 92.1,99.2 90.8,97.7 88.6,100.1" fill="#fff8f7" stroke="#5d5a5a"/>
<polygon points="101.6,97.6 103.9,96.3 102.6,94.9 100.3,96.2" fill="#fcdbda" stroke="#625555"/>
<polygon points="95.7,98.9 98.0,97.5 96.6,96.0 94.3,97.5" fill="#fee6e6" stroke="#605757"/>
<polygon points="144.9,114.9 147.2,114.0 145.7,113.8 143.4,114.6" fill="#0e9245" stroke="#074f25"/>
<polygon points="129.4,111.0 131.6,112.3 130.2,110.7 128.0,109.4" fill="#159149" stroke="#0b4e27"/>
<polygon points="123.5,106.3 125.7,108.0 124.4,106.1 122.1,104.5" fill="#65af84" stroke="#315540"/>
<polygon points="138.8,115.5 141.1,115.3 139.7,114.7 137.4,114.8" fill="#0e9245" stroke="#074f25"/>
<polygon points="117.5,101.1 119.8,102.7 118.4,100.8 116.1,99.3" fill="#dbdddc" stroke="#575858"/>
<polygon points="148.8,113.7 151.1,112.8 149.5,113.2 147.2,114.0" fill="#0d8b42" stroke="#074c24"/>
<polygon points="111.4,97.8 113.8,98.2 112.4,96.5 110.0,96.2" fill="#ecd0cf" stroke="#5f5453"/>
<polygon points="133.0,113.5 135.2,114.4 133.8,113.2 131.6,112.3" fill="#0e8e43" stroke="#074d24"/>
<polygon points="105.3,97.8 107.7,96.7 106.3,95.2 103.9,96.3" fill="#fcd6d5" stroke="#635454"/>
<polygon points="99.3,99.0 101.6,97.6 100.3,96.2 98.0,97.5" fill="#fde0e0" stroke="#615656"/>
<polygon points="93.4,100.6 95.7,98.9 94.3,97.5 92.1,99.2" fill="#ffeeee" stroke="#5f5959"/>
<polygon points="142.6,115.6 144.9,114.9 143.4,114.6 141.1,115.3" fill="#0e9145" stroke="#074f25"/>
<polygon points="127.1,109.6 129.4,111.0 128.0,109.4 125.7,108.0" fill="#379d62" stroke="#1c5132"/>
<polygon points="121.2,104.5 123.5,106.3 122.1,104.5 119.8,102.7" fill="#93c0a5" stroke="#42574a"/>
<polygon points="136.6,115.1 138.8,115.5 137.4,114.8 135.2,114.4" fill="#0e8e43" stroke="#074d24"/>
<polygon points="115.1,99.9 117.5,101.1 116.1,99.3 113.8,98.2" fill="#e4d6d6" stroke="#5b5656"/>
<polygon points="146.4,114.5 148.8,113.7 147.2,114.0 144.9,114.9" fill="#0d8b42" stroke="#074c24"/>
<polygon points="109.0,98.3 111.4,97.8 110.0,96.2 107.7,96.7" fill="#f6d3d2" stroke="#625453"/>
<polygon points="103.0,99.1 105.3,97.8 103.9,96.3 101.6,97.6" fill="#fddcdb" stroke="#625555"/>
<polygon points="130.7,112.3 133.0,113.5 131.6,112.3 129.4,111.0" fill="#148f47" stroke="#0a4d26"/>
<polygon points="91.2,103.1 93.4,100.6 92.1,99.2 89.9,101.6" fill="#fff8f7" stroke="#5d5a5a"/>
<polygon points="97.0,100.4 99.3,99.0 98.0,97.5 95.7,98.9" fill="#fee7e6" stroke="#605757"/>
<polygon points="124.8,108.0 127.1,109.6 125.7,108.0 123.5,106.3" fill="#5eab7e" stroke="#2e543d"/>
<polygon points="140.3,115.8 142.6,115.6 141.1,115.3 138.8,115.5" fill="#0e8e43" stroke="#074d24"/>
<polygon points="150.4,112.5 152.7,111.6 151.1,112.8 148.8,113.7" fill="#118541" stroke="#094923"/>
<polygon points="118.9,102.8 121.2,104.5 119.8,102.7 117.5,101.1" fill="#ccd7d1" stroke="#535856"/>
<polygon points="134.4,114.4 136.6,115.1 135.2,114.4 133.0,113.5" fill="#0e8c42" stroke="#074c24"/>
<polygon points="112.8,99.5 115.1,99.9 113.8,98.2 111.4,97.8" fill="#ebd1d1" stroke="#5f5454"/>
<polygon points="106.7,99.3 109.0,98.3 107.7,96.7 105.3,97.8" fill="#fcd8d7" stroke="#635454"/>
<polygon points="144.1,115.3 146.4,114.5 144.9,114.9 142.6,115.6" fill="#0d8b42" stroke="#074c24"/>
<polygon points="100.7,100.4 103.0,99.1 101.6,97.6 99.3,99.0" fill="#fde1e0" stroke="#615656"/>
<polygon points="94.7,102.1 97.0,100.4 95.7,98.9 93.4,100.6" fill="#ffeeee" stroke="#5f5959"/>
<polygon points="128.5,111.0 130.7,112.3 129.4,111.0 127.1,109.6" fill="#359b5f" stroke="#1b5031"/>
<polygon points="122.6,106.2 124.8,108.0 123.5,106.3 121.2,104.5" fill="#8bbc9f" stroke="#3f5649"/>
<polygon points="138.0,115.6 140.3,115.8 138.8,115.5 136.6,115.1" fill="#0d8b42" stroke="#074c24"/>
<polygon points="116.5,101.6 118.9,102.8 117.5,101.1 115.1,99.9" fill="#e3d8d7" stroke="#5b5656"/>
<polygon points="148.0,113.3 150.4,112.5 148.8,113.7 146.4,114.5" fill="#118541" stroke="#094923"/>
<polygon points="110.4,99.8 112.8,99.5 111.4,97.8 109.0,98.3" fill="#f6d4d3" stroke="#625454"/>
<polygon points="132.1,113.4 134.4,114.4 133.0,113.5 130.7,112.3" fill="#188e49" stroke="#0d4d27"/>
<polygon points="104.3,100.6 106.7,99.3 105.3,97.8 103.0,99.1" fill="#fddddc" stroke="#625555"/>
<polygon points="98.3,101.9 100.7,100.4 99.3,99.0 97.0,100.4" fill="#fee7e6" stroke="#605757"/>
<polygon points="92.5,104.5 94.7,102.1 93.4,100.6 91.2,103.1" fill="#fff8f8" stroke="#5d5a5a"/>
<polygon points="141.8,115.6 144.1,115.3 142.6,115.6 140.3,115.8" fill="#0d8941" stroke="#074b23"/>
<polygon points="126.2,109.4 128.5,111.0 127.1,109.6 124.8,108.0" fill="#5aa97b" stroke="#2c533c"/>
<polygon points="152.2,109.9 154.5,109.1 152.7,111.6 150.4,112.5" fill="#3d9261" stroke="#1f4c32"/>
<polygon points="120.2,104.5 122.6,106.2 121.2,104.5 118.9,102.8" fill="#c2d2c9" stroke="#515854"/>
<polygon points="135.8,115.0 138.0,115.6 136.6,115.1 134.4,114.4" fill="#0d8a41" stroke="#074c23"/>
<polygon points="114.2,101.1 116.5,101.6 115.1,99.9 112.8,99.5" fill="#ead3d3" stroke="#5e5555"/>
<polygon points="145.7,114.1 148.0,113.3 146.4,114.5 144.1,115.3" fill="#128542" stroke="#094924"/>
<polygon points="108.0,100.9 110.4,99.8 109.0,98.3 106.7,99.3" fill="#fcd9d8" stroke="#625554"/>
<polygon points="129.9,112.2 132.1,113.4 130.7,112.3 128.5,111.0" fill="#379a60" stroke="#1c5032"/>
<polygon points="102.0,101.9 104.3,100.6 103.0,99.1 100.7,100.4" fill="#fde1e1" stroke="#615656"/>
<polygon points="96.0,103.6 98.3,101.9 97.0,100.4 94.7,102.1" fill="#ffefee" stroke="#5f5958"/>
<polygon points="139.5,115.5 141.8,115.6 140.3,115.8 138.0,115.6" fill="#0d8740" stroke="#074a23"/>
<polygon points="123.9,107.8 126.2,109.4 124.8,108.0 122.6,106.2" fill="#85b99b" stroke="#3d5548"/>
<polygon points="149.8,110.8 152.2,109.9 150.4,112.5 148.0,113.3" fill="#3d9261" stroke="#1f4c32"/>
<polygon points="117.9,103.3 120.2,104.5 118.9,102.8 116.5,101.6" fill="#e2d9d9" stroke="#5a5757"/>
<polygon points="133.5,114.1 135.8,115.0 134.4,114.4 132.1,113.4" fill="#20904f" stroke="#114d2a"/>
<polygon points="111.8,101.4 114.2,101.1 112.8,99.5 110.4,99.8" fill="#f6d6d5" stroke="#615454"/>
<polygon points="105.7,102.1 108.0,100.9 106.7,99.3 104.3,100.6" fill="#fddedd" stroke="#625655"/>
<polygon points="143.3,114.6 145.7,114.1 144.1,115.3 141.8,115.6" fill="#168544" stroke="#0c4925"/>
<polygon points="99.7,103.3 102.0,101.9 100.7,100.4 98.3,101.9" fill="#fee7e7" stroke="#605757"/>
<polygon points="154.1,105.4 156.6,104.5 154.5,109.1 152.2,109.9" fill="#89b099" stroke="#405247"/>
<polygon points="127.6,110.8 129.9,112.2 128.5,111.0 126.2,109.4" fill="#5aa87a" stroke="#2c533c"/>
<polygon points="93.8,106.0 96.0,103.6 94.7,102.1 92.5,104.5" fill="#fff8f8" stroke="#5d5a5a"/>
<polygon points="121.6,106.2 123.9,107.8 122.6,106.2 120.2,104.5" fill="#bacfc3" stroke="#4f5852"/>
<polygon points="137.2,115.1 139.5,115.5 138.0,115.6 135.8,115.0" fill="#168a47" stroke="#0c4b26"/>
<polygon points="147.4,111.7 149.8,110.8 148.0,113.3 145.7,114.1" fill="#3d9361" stroke="#1f4d32"/>
<polygon points="115.5,102.8 117.9,103.3 116.5,101.6 114.2,101.1" fill="#ead5d5" stroke="#5e5555"/>
<polygon points="131.3,113.1 133.5,114.1 132.1,113.4 129.9,112.2" fill="#3c9c64" stroke="#1f5033"/>
<polygon points="109.4,102.5 111.8,101.4 110.4,99.8 108.0,100.9" fill="#fddbda" stroke="#625555"/>
<polygon points="103.3,103.4 105.7,102.1 104.3,100.6 102.0,101.9" fill="#fde2e1" stroke="#615656"/>
<polygon points="97.4,105.1 99.7,103.3 98.3,101.9 96.0,103.6" fill="#ffefee" stroke="#5f5958"/>
<polygon points="141.0,114.7 143.3,114.6 141.8,115.6 139.5,115.5" fill="#1f894b" stroke="#104a28"/>
<polygon points="125.3,109.2 127.6,110.8 126.2,109.4 123.9,107.8" fill="#83b899" stroke="#3d5547"/>
<polygon points="151.7,106.3 154.1,105.4 152.2,109.9 149.8,110.8" fill="#89b099" stroke="#405247"/>
<polygon points="119.3,105.0 121.6,106.2 120.2,104.5 117.9,103.3" fill="#e2dbdb" stroke="#5a5757"/>
<polygon points="135.0,114.5 137.2,115.1 135.8,115.0 133.5,114.1" fill="#2c9357" stroke="#174e2e"/>
<polygon points="113.2,103.1 115.5,102.8 114.2,101.1 111.8,101.4" fill="#f6d8d7" stroke="#615555"/>
<polygon points="145.0,112.3 147.4,111.7 145.7,114.1 143.3,114.6" fill="#409463" stroke="#214d33"/>
<polygon points="107.0,103.7 109.4,102.5 108.0,100.9 105.7,102.1" fill="#fedfde" stroke="#625655"/>
<polygon points="129.0,111.9 131.3,113.1 129.9,112.2 127.6,110.8" fill="#5da97d" stroke="#2d533d"/>
<polygon points="101.0,104.8 103.3,103.4 102.0,101.9 99.7,103.3" fill="#fee8e7" stroke="#605857"/>
<polygon points="95.1,107.5 97.4,105.1 96.0,103.6 93.8,106.0" fill="#fff8f8" stroke="#5d5a5a"/>
<polygon points="138.7,114.6 141.0,114.7 139.5,115.5 137.2,115.1" fill="#2d8f56" stroke="#184c2d"/>
<polygon points="123.0,107.8 125.3,109.2 123.9,107.8 121.6,106.2" fill="#b5cdbf" stroke="#4d5751"/>
<polygon points="149.3,107.2 151.7,106.3 149.8,110.8 147.4,111.7" fill="#89b099" stroke="#405247"/>
<polygon points="116.9,104.5 119.3,105.0 117.9,103.3 115.5,102.8" fill="#ead7d7" stroke="#5d5656"/>
<polygon points="132.7,113.8 135.0,114.5 133.5,114.1 131.3,113.1" fill="#469e6b" stroke="#235036"/>
<polygon points="110.8,104.0 113.2,103.1 111.8,101.4 109.4,102.5" fill="#fddddc" stroke="#625555"/>
<polygon points="142.7,112.7 145.0,112.3 143.3,114.6 141.0,114.7" fill="#479768" stroke="#244e35"/>
<polygon points="104.7,104.9 107.0,103.7 105.7,102.1 103.3,103.4" fill="#fee3e2" stroke="#615756"/>
<polygon points="126.7,110.6 129.0,111.9 127.6,110.8 125.3,109.2" fill="#84b99a" stroke="#3d5647"/>
<polygon points="98.7,106.6 101.0,104.8 99.7,103.3 97.4,105.1" fill="#ffefef" stroke="#5f5959"/>
<polygon points="120.7,106.7 123.0,107.8 121.6,106.2 119.3,105.0" fill="#e3dddd" stroke="#5a5757"/>
<polygon points="136.4,114.3 138.7,114.6 137.2,115.1 135.0,114.5" fill="#409764" stroke="#214e33"/>
<polygon points="146.9,108.1 149.3,107.2 147.4,111.7 145.0,112.3" fill="#8bb19a" stroke="#415248"/>
<polygon points="114.5,104.7 116.9,104.5 115.5,102.8 113.2,103.1" fill="#f6dada" stroke="#605555"/>
<polygon points="130.4,112.9 132.7,113.8 131.3,113.1 129.0,111.9" fill="#64ab82" stroke="#30533f"/>
<polygon points="108.4,105.2 110.8,104.0 109.4,102.5 107.0,103.7" fill="#fee0e0" stroke="#625656"/>
<polygon points="102.3,106.3 104.7,104.9 103.3,103.4 101.0,104.8" fill="#fee8e8" stroke="#605757"/>
<polygon points="140.3,113.0 142.7,112.7 141.0,114.7 138.7,114.6" fill="#529b70" stroke="#294e39"/>
<polygon points="96.4,109.0 98.7,106.6 97.4,105.1 95.1,107.5" fill="#fff8f8" stroke="#5d5a5a"/>
<polygon points="124.4,109.3 126.7,110.6 125.3,109.2 123.0,107.8" fill="#b3cdbe" stroke="#4c5851"/>
<polygon points="118.3,106.2 120.7,106.7 119.3,105.0 116.9,104.5" fill="#eadad9" stroke="#5d5656"/>
<polygon points="134.1,113.9 136.4,114.3 135.0,114.5 132.7,113.8" fill="#56a276" stroke="#2b513b"/>
<polygon points="144.4,109.0 146.9,108.1 145.0,112.3 142.7,112.7" fill="#8eb29d" stroke="#425249"/>
<polygon points="112.1,105.7 114.5,104.7 113.2,103.1 110.8,104.0" fill="#fddfde" stroke="#615655"/>
<polygon points="128.1,111.8 130.4,112.9 129.0,111.9 126.7,110.6" fill="#88ba9d" stroke="#3e5648"/>
<polygon points="106.0,106.4 108.4,105.2 107.0,103.7 104.7,104.9" fill="#fee4e3" stroke="#615756"/>
<polygon points="100.0,108.1 102.3,106.3 101.0,104.8 98.7,106.6" fill="#fff0ef" stroke="#5e5959"/>
<polygon points="138.0,113.2 140.3,113.0 138.7,114.6 136.4,114.3" fill="#5fa07a" stroke="#2f4f3c"/>
<polygon points="122.0,108.4 124.4,109.3 123.0,107.8 120.7,106.7" fill="#e4dfdf" stroke="#5a5858"/>
<polygon points="115.9,106.4 118.3,106.2 116.9,104.5 114.5,104.7" fill="#f6dddc" stroke="#605656"/>
<polygon points="131.8,113.4 134.1,113.9 132.7,113.8 130.4,112.9" fill="#71af8a" stroke="#365442"/>
<polygon points="109.8,106.8 112.1,105.7 110.8,104.0 108.4,105.2" fill="#fee2e1" stroke="#615656"/>
<polygon points="142.0,109.9 144.4,109.0 142.7,112.7 140.3,113.0" fill="#92b4a0" stroke="#43534a"/>
<polygon points="103.7,107.8 106.0,106.4 104.7,104.9 102.3,106.3" fill="#ffe9e8" stroke="#605857"/>
<polygon points="125.7,110.8 128.1,111.8 126.7,110.6 124.4,109.3" fill="#b4cebe" stroke="#4d5851"/>
<polygon points="97.7,110.5 100.0,108.1 98.7,106.6 96.4,109.0" fill="#fff8f8" stroke="#5d5a5a"/>
<polygon points="135.6,113.3 138.0,113.2 136.4,114.3 134.1,113.9" fill="#70a887" stroke="#365141"/>
<polygon points="119.7,107.9 122.0,108.4 120.7,106.7 118.3,106.2" fill="#ebdddd" stroke="#5c5757"/>
<polygon points="113.5,107.3 115.9,106.4 114.5,104.7 112.1,105.7" fill="#fde1e1" stroke="#615656"/>
<polygon points="129.5,112.8 131.8,113.4 130.4,112.9 128.1,111.8" fill="#91bea3" stroke="#42564a"/>
<polygon points="107.4,108.0 109.8,106.8 108.4,105.2 106.0,106.4" fill="#fee5e5" stroke="#605757"/>
<polygon points="139.6,110.8 142.0,109.9 140.3,113.0 138.0,113.2" fill="#98b6a5" stroke="#45534b"/>
<polygon points="101.3,109.6 103.7,107.8 102.3,106.3 100.0,108.1" fill="#fff0f0" stroke="#5e5959"/>
<polygon points="123.4,110.0 125.7,110.8 124.4,109.3 122.0,108.4" fill="#e6e2e2" stroke="#5a5858"/>
<polygon points="117.3,108.2 119.7,107.9 118.3,106.2 115.9,106.4" fill="#f7e0e0" stroke="#5f5656"/>
<polygon points="133.2,113.4 135.6,113.3 134.1,113.9 131.8,113.4" fill="#85b499" stroke="#3e5447"/>
<polygon points="111.1,108.4 113.5,107.3 112.1,105.7 109.8,106.8" fill="#fee4e3" stroke="#615756"/>
<polygon points="127.1,112.1 129.5,112.8 128.1,111.8 125.7,110.8" fill="#b8d1c2" stroke="#4e5852"/>
<polygon points="105.0,109.4 107.4,108.0 106.0,106.4 103.7,107.8" fill="#ffeae9" stroke="#605857"/>
<polygon points="99.0,112.0 101.3,109.6 100.0,108.1 97.7,110.5" fill="#fff8f8" stroke="#5d5a5a"/>
<polygon points="137.2,111.7 139.6,110.8 138.0,113.2 135.6,113.3" fill="#9fb9aa" stroke="#48534d"/>
<polygon points="121.0,109.7 123.4,110.0 122.0,108.4 119.7,107.9" fill="#eee1e1" stroke="#5c5757"/>
<polygon points="114.9,109.0 117.3,108.2 115.9,106.4 113.5,107.3" fill="#fee4e4" stroke="#615757"/>
<polygon points="130.9,113.4 133.2,113.4 131.8,113.4 129.5,112.8" fill="#a0c3af" stroke="#47564d"/>
<polygon points="108.7,109.6 111.1,108.4 109.8,106.8 107.4,108.0" fill="#ffe7e6" stroke="#605757"/>
<polygon points="102.6,111.1 105.0,109.4 103.7,107.8 101.3,109.6" fill="#fff1f0" stroke="#5e5959"/>
<polygon points="124.8,111.7 127.1,112.1 125.7,110.8 123.4,110.0" fill="#e9e5e5" stroke="#5a5959"/>
<polygon points="134.7,112.6 137.2,111.7 135.6,113.3 133.2,113.4" fill="#a9beb2" stroke="#4b544f"/>
<polygon points="118.6,110.0 121.0,109.7 119.7,107.9 117.3,108.2" fill="#f8e5e4" stroke="#5f5757"/>
<polygon points="112.5,110.1 114.9,109.0 113.5,107.3 111.1,108.4" fill="#ffe7e6" stroke="#605757"/>
<polygon points="128.5,113.3 130.9,113.4 129.5,112.8 127.1,112.1" fill="#c3d6cb" stroke="#515954"/>
<polygon points="106.3,110.9 108.7,109.6 107.4,108.0 105.0,109.4" fill="#ffebeb" stroke="#605858"/>
<polygon points="100.3,113.5 102.6,111.1 101.3,109.6 99.0,112.0" fill="#fff9f9" stroke="#5d5a5a"/>
<polygon points="122.4,111.6 124.8,111.7 123.4,110.0 121.0,109.7" fill="#f1e7e7" stroke="#5c5858"/>
<polygon points="132.3,113.5 134.7,112.6 133.2,113.4 130.9,113.4" fill="#bdccc3" stroke="#505653"/>
<polygon points="116.2,110.9 118.6,110.0 117.3,108.2 114.9,109.0" fill="#ffe9e8" stroke="#605857"/>
<polygon points="110.1,111.2 112.5,110.1 111.1,108.4 108.7,109.6" fill="#ffe9e9" stroke="#605858"/>
<polygon points="126.1,113.4 128.5,113.3 127.1,112.1 124.8,111.7" fill="#eeebeb" stroke="#5b5959"/>
<polygon points="103.9,112.6 106.3,110.9 105.0,109.4 102.6,111.1" fill="#fff2f1" stroke="#5e5959"/>
<polygon points="120.0,112.0 122.4,111.6 121.0,109.7 118.6,110.0" fill="#fbebea" stroke="#5e5858"/>
<polygon points="113.8,111.9 116.2,110.9 114.9,109.0 112.5,110.1" fill="#ffebea" stroke="#605858"/>
<polygon points="129.9,114.3 132.3,113.5 130.9,113.4 128.5,113.3" fill="#d7e1db" stroke="#555957"/>
<polygon points="107.7,112.5 110.1,111.2 108.7,109.6 106.3,110.9" fill="#ffeded" stroke="#5f5858"/>
<polygon points="123.7,113.7 126.1,113.4 124.8,111.7 122.4,111.6" fill="#f8f0f0" stroke="#5c5959"/>
<polygon points="101.6,115.0 103.9,112.6 102.6,111.1 100.3,113.5" fill="#fff9f9" stroke="#5d5a5a"/>
<polygon points="117.6,112.8 120.0,112.0 118.6,110.0 116.2,110.9" fill="#ffeeee" stroke="#5f5959"/>
<polygon points="111.4,113.0 113.8,111.9 112.5,110.1 110.1,111.2" fill="#ffedec" stroke="#5f5858"/>
<polygon points="127.5,115.2 129.9,114.3 128.5,113.3 126.1,113.4" fill="#f8f5f5" stroke="#5b5a5a"/>
<polygon points="105.3,114.2 107.7,112.5 106.3,110.9 103.9,112.6" fill="#fff3f3" stroke="#5e5959"/>
<polygon points="121.3,114.3 123.7,113.7 122.4,111.6 120.0,112.0" fill="#fff4f4" stroke="#5e5a5a"/>
<polygon points="115.1,113.8 117.6,112.8 116.2,110.9 113.8,111.9" fill="#fff0f0" stroke="#5e5959"/>
<polygon points="109.0,114.2 111.4,113.0 110.1,111.2 107.7,112.5" fill="#fff0ef" stroke="#5e5959"/>
<polygon points="125.1,116.1 127.5,115.2 126.1,113.4 123.7,113.7" fill="#fffdfd" stroke="#5c5b5b"/>
<polygon points="102.9,116.5 105.3,114.2 103.9,112.6 101.6,115.0" fill="#fffafa" stroke="#5c5b5b"/>
<polygon points="118.9,115.1 121.3,114.3 120.0,112.0 117.6,112.8" fill="#fff7f6" stroke="#5d5a5a"/>
<polygon points="112.7,114.9 115.1,113.8 113.8,111.9 111.4,113.0" fill="#fff2f1" stroke="#5e5959"/>
<polygon points="106.6,115.8 109.0,114.2 107.7,112.5 105.3,114.2" fill="#fff5f5" stroke="#5d5a5a"/>
<polygon points="122.6,117.0 125.1,116.1 123.7,113.7 121.3,114.3" fill="#ffffff" stroke="#5b5b5b"/>
<polygon points="116.5,116.1 118.9,115.1 117.6,112.8 115.1,113.8" fill="#fff8f7" stroke="#5d5a5a"/>
<polygon points="110.3,116.1 112.7,114.9 111.4,113.0 109.0,114.2" fill="#fff4f4" stroke="#5e5a5a"/>
<polygon points="104.2,117.9 106.6,115.8 105.3,114.2 102.9,116.5" fill="#fffbfb" stroke="#5c5b5b"/>
<polygon points="120.2,117.9 122.6,117.0 121.3,114.3 118.9,115.1" fill="#ffffff" stroke="#5b5b5b"/>
<polygon points="114.1,117.1 116.5,116.1 115.1,113.8 112.7,114.9" fill="#fff9f8" stroke="#5d5a5a"/>
<polygon points="107.9,117.5 110.3,116.1 109.0,114.2 106.6,115.8" fill="#fff8f8" stroke="#5d5a5a"/>
<polygon points="117.8,118.8 120.2,117.9 118.9,115.1 116.5,116.1" fill="#ffffff" stroke="#5b5b5b"/>
<polygon points="111.6,118.1 114.1,117.1 112.7,114.9 110.3,116.1" fill="#fffafa" stroke="#5c5b5b"/>
<polygon points="105.5,119.4 107.9,117.5 106.6,115.8 104.2,117.9" fill="#fffdfd" stroke="#5c5b5b"/>
<polygon points="115.4,119.7 117.8,118.8 116.5,116.1 114.1,117.1" fill="#ffffff" stroke="#5b5b5b"/>
<polygon points="109.2,119.4 111.6,118.1 110.3,116.1 107.9,117.5" fill="#fffdfd" stroke="#5c5b5b"/>
<polygon points="112.9,120.6 115.4,119.7 114.1,117.1 111.6,118.1" fill="#ffffff" stroke="#5b5b5b"/>
<polygon points="106.8,120.9 109.2,119.4 107.9,117.5 105.5,119.4" fill="#ffffff" stroke="#5b5b5b"/>
<polygon points="110.5,121.5 112.9,120.6 111.6,118.1 109.2,119.4" fill="#ffffff" stroke="#5b5b5b"/>
<polygon points="108.1,122.4 110.5,121.5 109.2,119.4 106.8,120.9" fill="#ffffff" stroke="#5b5b5b"/>
</g>
<text x="77.50" y="75.80" font-size="7.7" text-anchor="end" font-weight="normal" fill="#333" color="#333" >10</text>
<text x="77.50" y="97.50" font-size="7.7" text-anchor="end" font-weight="normal" fill="#333" color="#333" >0</text>
<text x="80.00" y="113.75" font-size="7.7" text-anchor="end" font-weight="normal" fill="#333" color="#333" >−10</text>
<text transform="translate(52.00,94.40) rotate(-90)" x="0" y="3.31" font-size="9.2" text-anchor="middle" fill="#222" color="#222" textLength="17.2" lengthAdjust="spacingAndGlyphs">Score</text>
<text x="77.75" y="122.00" font-size="7.7" text-anchor="middle" font-weight="normal" fill="#333" color="#333" >5</text>
<text x="83.25" y="131.90" font-size="7.7" text-anchor="middle" font-weight="normal" fill="#333" color="#333" >2.5</text>
<text x="90.25" y="139.50" font-size="7.7" text-anchor="middle" font-weight="normal" fill="#333" color="#333" >1</text>
<text x="97.00" y="149.10" font-size="7.7" text-anchor="middle" font-weight="normal" fill="#333" color="#333" >0.5</text>
<text x="119.10" y="152.50" font-size="7.7" text-anchor="middle" font-weight="normal" fill="#333" color="#333" >0.1</text>
<text x="134.30" y="148.90" font-size="7.7" text-anchor="middle" font-weight="normal" fill="#333" color="#333" >0.2</text>
<text x="148.30" y="144.20" font-size="7.7" text-anchor="middle" font-weight="normal" fill="#333" color="#333" >0.5</text>
<text x="160.90" y="139.50" font-size="7.7" text-anchor="middle" font-weight="normal" fill="#333" color="#333" >1.0</text>
<text transform="translate(72.30,142.00) rotate(57)" x="0" y="3.60" font-size="10.0" text-anchor="middle" fill="#222" color="#222" textLength="29" lengthAdjust="spacingAndGlyphs">EPZ (μM)</text>
<text transform="translate(150.10,159.35) rotate(-26)" x="0" y="3.60" font-size="10.0" text-anchor="middle" fill="#222" color="#222" textLength="29" lengthAdjust="spacingAndGlyphs">AZA (μM)</text>
<line x1="222.20" y1="69.05" x2="269.70" y2="56.55" stroke="#6e6e6e" stroke-width="0.7" />
<line x1="269.70" y1="56.55" x2="300.90" y2="79.80" stroke="#6e6e6e" stroke-width="0.7" />
<line x1="300.90" y1="79.80" x2="250.30" y2="97.80" stroke="#6e6e6e" stroke-width="0.7" />
<line x1="250.30" y1="97.80" x2="222.20" y2="69.05" stroke="#6e6e6e" stroke-width="0.7" />
<line x1="226.40" y1="112.00" x2="250.30" y2="142.60" stroke="#6e6e6e" stroke-width="0.7" />
<line x1="250.30" y1="142.60" x2="296.60" y2="124.80" stroke="#6e6e6e" stroke-width="0.7" />
<line x1="226.40" y1="112.00" x2="268.70" y2="98.30" stroke="#999" stroke-width="0.55" stroke-dasharray="1,1"/>
<line x1="268.70" y1="98.30" x2="296.60" y2="124.80" stroke="#999" stroke-width="0.55" stroke-dasharray="1,1"/>
<line x1="222.20" y1="69.05" x2="226.40" y2="112.00" stroke="#6e6e6e" stroke-width="0.7" />
<line x1="300.90" y1="79.80" x2="296.60" y2="124.80" stroke="#6e6e6e" stroke-width="0.7" />
<line x1="250.30" y1="97.80" x2="250.30" y2="142.60" stroke="#6e6e6e" stroke-width="0.7" />
<line x1="269.70" y1="56.55" x2="268.70" y2="98.30" stroke="#aaa" stroke-width="0.55" stroke-dasharray="1.5,1"/>
<g stroke-width="0.55">
<polygon points="268.8,61.6 271.2,60.9 269.6,59.7 267.3,60.4" fill="#e3231d" stroke="#7d1310"/>
<polygon points="266.4,62.4 268.8,61.6 267.3,60.4 264.9,61.2" fill="#e4251f" stroke="#7d1411"/>
<polygon points="270.3,62.9 272.7,62.2 271.2,60.9 268.8,61.6" fill="#e3241e" stroke="#7d1310"/>
<polygon points="264.1,63.4 266.4,62.4 264.9,61.2 262.6,62.1" fill="#e52822" stroke="#7d1512"/>
<polygon points="268.0,63.8 270.3,62.9 268.8,61.6 266.4,62.4" fill="#e42620" stroke="#7d1411"/>
<polygon points="261.7,64.4 264.1,63.4 262.6,62.1 260.2,63.1" fill="#e62d27" stroke="#7c1815"/>
<polygon points="271.9,64.2 274.3,63.5 272.7,62.2 270.3,62.9" fill="#e42620" stroke="#7d1411"/>
<polygon points="265.6,64.7 268.0,63.8 266.4,62.4 264.1,63.4" fill="#e62924" stroke="#7d1613"/>
<polygon points="259.4,65.5 261.7,64.4 260.2,63.1 257.9,64.2" fill="#e8342e" stroke="#7c1b18"/>
<polygon points="269.5,65.1 271.9,64.2 270.3,62.9 268.0,63.8" fill="#e52822" stroke="#7d1512"/>
<polygon points="263.2,65.7 265.6,64.7 264.1,63.4 261.7,64.4" fill="#e72f29" stroke="#7c1916"/>
<polygon points="257.0,66.7 259.4,65.5 257.9,64.2 255.5,65.4" fill="#e93c37" stroke="#7b1f1d"/>
<polygon points="273.4,65.6 275.8,64.9 274.3,63.5 271.9,64.2" fill="#e52822" stroke="#7d1512"/>
<polygon points="267.1,66.0 269.5,65.1 268.0,63.8 265.6,64.7" fill="#e62b25" stroke="#7d1714"/>
<polygon points="260.9,66.9 263.2,65.7 261.7,64.4 259.4,65.5" fill="#e83530" stroke="#7c1c19"/>
<polygon points="254.7,68.1 257.0,66.7 255.5,65.4 253.2,66.7" fill="#eb4540" stroke="#7a2321"/>
<polygon points="271.0,66.4 273.4,65.6 271.9,64.2 269.5,65.1" fill="#e62a24" stroke="#7d1613"/>
<polygon points="264.7,67.1 267.1,66.0 265.6,64.7 263.2,65.7" fill="#e7302b" stroke="#7c1917"/>
<polygon points="252.3,69.5 254.7,68.1 253.2,66.7 250.9,68.1" fill="#ec504c" stroke="#782826"/>
<polygon points="258.5,68.1 260.9,66.9 259.4,65.5 257.0,66.7" fill="#ea3d38" stroke="#7b201d"/>
<polygon points="274.9,67.0 277.3,66.2 275.8,64.9 273.4,65.6" fill="#e52b25" stroke="#7c1714"/>
<polygon points="268.6,67.4 271.0,66.4 269.5,65.1 267.1,66.0" fill="#e72d28" stroke="#7d1815"/>
<polygon points="262.4,68.2 264.7,67.1 263.2,65.7 260.9,66.9" fill="#e93731" stroke="#7c1d1a"/>
<polygon points="250.0,71.0 252.3,69.5 250.9,68.1 248.6,69.7" fill="#ee5c58" stroke="#772e2c"/>
<polygon points="256.2,69.4 258.5,68.1 257.0,66.7 254.7,68.1" fill="#eb4742" stroke="#7a2422"/>
<polygon points="272.5,67.8 274.9,67.0 273.4,65.6 271.0,66.4" fill="#e62d27" stroke="#7c1815"/>
<polygon points="266.2,68.5 268.6,67.4 267.1,66.0 264.7,67.1" fill="#e8322d" stroke="#7c1a18"/>
<polygon points="247.7,72.6 250.0,71.0 248.6,69.7 246.3,71.2" fill="#ef6965" stroke="#753331"/>
<polygon points="260.0,69.5 262.4,68.2 260.9,66.9 258.5,68.1" fill="#ea3f3a" stroke="#7b211e"/>
<polygon points="253.8,70.9 256.2,69.4 254.7,68.1 252.3,69.5" fill="#ec524d" stroke="#782927"/>
<polygon points="276.5,68.4 278.9,67.6 277.3,66.2 274.9,67.0" fill="#e62e29" stroke="#7c1816"/>
<polygon points="270.1,68.8 272.5,67.8 271.0,66.4 268.6,67.4" fill="#e8302a" stroke="#7d1916"/>
<polygon points="263.9,69.6 266.2,68.5 264.7,67.1 262.4,68.2" fill="#e93933" stroke="#7b1e1b"/>
<polygon points="245.4,74.3 247.7,72.6 246.3,71.2 244.0,72.9" fill="#f17774" stroke="#733837"/>
<polygon points="257.6,70.8 260.0,69.5 258.5,68.1 256.2,69.4" fill="#eb4843" stroke="#792522"/>
<polygon points="251.5,72.4 253.8,70.9 252.3,69.5 250.0,71.0" fill="#ee5e59" stroke="#762e2c"/>
<polygon points="274.1,69.3 276.5,68.4 274.9,67.0 272.5,67.8" fill="#e7302a" stroke="#7c1916"/>
<polygon points="267.8,69.9 270.1,68.8 268.6,67.4 266.2,68.5" fill="#e9352f" stroke="#7c1c19"/>
<polygon points="243.2,76.1 245.4,74.3 244.0,72.9 241.7,74.7" fill="#f38683" stroke="#703e3c"/>
<polygon points="261.5,70.9 263.9,69.6 262.4,68.2 260.0,69.5" fill="#eb413c" stroke="#7b221f"/>
<polygon points="249.2,74.0 251.5,72.4 250.0,71.0 247.7,72.6" fill="#f06b66" stroke="#753431"/>
<polygon points="255.3,72.3 257.6,70.8 256.2,69.4 253.8,70.9" fill="#ed534e" stroke="#782a27"/>
<polygon points="278.0,69.9 280.4,69.1 278.9,67.6 276.5,68.4" fill="#e8332d" stroke="#7c1b18"/>
<polygon points="271.7,70.3 274.1,69.3 272.5,67.8 270.1,68.8" fill="#e9332e" stroke="#7c1b18"/>
<polygon points="265.4,71.0 267.8,69.9 266.2,68.5 263.9,69.6" fill="#ea3c36" stroke="#7b1f1c"/>
<polygon points="240.9,77.9 243.2,76.1 241.7,74.7 239.5,76.5" fill="#f49592" stroke="#6e4341"/>
<polygon points="259.1,72.2 261.5,70.9 260.0,69.5 257.6,70.8" fill="#ec4a45" stroke="#792623"/>
<polygon points="246.9,75.7 249.2,74.0 247.7,72.6 245.4,74.3" fill="#f17875" stroke="#723937"/>
<polygon points="252.9,73.8 255.3,72.3 253.8,70.9 251.5,72.4" fill="#ee5f5a" stroke="#762f2c"/>
<polygon points="275.6,70.8 278.0,69.9 276.5,68.4 274.1,69.3" fill="#e9342f" stroke="#7c1b19"/>
<polygon points="269.3,71.3 271.7,70.3 270.1,68.8 267.8,69.9" fill="#ea3833" stroke="#7c1d1b"/>
<polygon points="238.7,79.8 240.9,77.9 239.5,76.5 237.3,78.4" fill="#f6a5a2" stroke="#6b4846"/>
<polygon points="263.0,72.3 265.4,71.0 263.9,69.6 261.5,70.9" fill="#eb433e" stroke="#7a2320"/>
<polygon points="244.6,77.5 246.9,75.7 245.4,74.3 243.2,76.1" fill="#f38784" stroke="#703e3d"/>
<polygon points="256.7,73.7 259.1,72.2 257.6,70.8 255.3,72.3" fill="#ed5550" stroke="#782b28"/>
<polygon points="250.6,75.5 252.9,73.8 251.5,72.4 249.2,74.0" fill="#f06c68" stroke="#743432"/>
<polygon points="279.5,71.5 281.9,70.7 280.4,69.1 278.0,69.9" fill="#e93832" stroke="#7c1d1a"/>
<polygon points="273.2,71.8 275.6,70.8 274.1,69.3 271.7,70.3" fill="#ea3832" stroke="#7c1d1a"/>
<polygon points="266.9,72.5 269.3,71.3 267.8,69.9 265.4,71.0" fill="#eb3f39" stroke="#7b211d"/>
<polygon points="236.4,81.8 238.7,79.8 237.3,78.4 235.1,80.3" fill="#f8b4b2" stroke="#694c4b"/>
<polygon points="260.6,73.7 263.0,72.3 261.5,70.9 259.1,72.2" fill="#ed4d48" stroke="#792724"/>
<polygon points="242.3,79.3 244.6,77.5 243.2,76.1 240.9,77.9" fill="#f59693" stroke="#6e4342"/>
<polygon points="254.4,75.3 256.7,73.7 255.3,72.3 252.9,73.8" fill="#ef615c" stroke="#76302d"/>
<polygon points="248.3,77.2 250.6,75.5 249.2,74.0 246.9,75.7" fill="#f27a76" stroke="#723938"/>
<polygon points="277.1,72.4 279.5,71.5 278.0,69.9 275.6,70.8" fill="#ea3934" stroke="#7c1e1b"/>
<polygon points="270.8,72.9 273.2,71.8 271.7,70.3 269.3,71.3" fill="#eb3c37" stroke="#7c1f1d"/>
<polygon points="234.2,83.7 236.4,81.8 235.1,80.3 232.9,82.3" fill="#fac4c2" stroke="#66504f"/>
<polygon points="264.5,73.8 266.9,72.5 265.4,71.0 263.0,72.3" fill="#ec4741" stroke="#7a2421"/>
<polygon points="240.0,81.2 242.3,79.3 240.9,77.9 238.7,79.8" fill="#f6a5a3" stroke="#6b4847"/>
<polygon points="258.2,75.2 260.6,73.7 259.1,72.2 256.7,73.7" fill="#ee5753" stroke="#782b29"/>
<polygon points="246.0,78.9 248.3,77.2 246.9,75.7 244.6,77.5" fill="#f38885" stroke="#703e3d"/>
<polygon points="252.1,76.9 254.4,75.3 252.9,73.8 250.6,75.5" fill="#f06d69" stroke="#743433"/>
<polygon points="281.0,73.1 283.4,72.3 281.9,70.7 279.5,71.5" fill="#eb3e39" stroke="#7b201e"/>
<polygon points="274.7,73.4 277.1,72.4 275.6,70.8 273.2,71.8" fill="#eb3d37" stroke="#7b201d"/>
<polygon points="268.3,74.0 270.8,72.9 269.3,71.3 266.9,72.5" fill="#ec433d" stroke="#7b221f"/>
<polygon points="232.0,85.8 234.2,83.7 232.9,82.3 230.7,84.3" fill="#fbd3d2" stroke="#635353"/>
<polygon points="262.1,75.2 264.5,73.8 263.0,72.3 260.6,73.7" fill="#ee504b" stroke="#792826"/>
<polygon points="237.8,83.2 240.0,81.2 238.7,79.8 236.4,81.8" fill="#f8b5b3" stroke="#694c4b"/>
<polygon points="255.9,76.7 258.2,75.2 256.7,73.7 254.4,75.3" fill="#f0635e" stroke="#76302e"/>
<polygon points="243.7,80.8 246.0,78.9 244.6,77.5 242.3,79.3" fill="#f59794" stroke="#6e4342"/>
<polygon points="249.7,78.6 252.1,76.9 250.6,75.5 248.3,77.2" fill="#f27b77" stroke="#723a38"/>
<polygon points="278.6,74.0 281.0,73.1 279.5,71.5 277.1,72.4" fill="#ec403a" stroke="#7b211e"/>
<polygon points="272.3,74.4 274.7,73.4 273.2,71.8 270.8,72.9" fill="#ec413c" stroke="#7b221f"/>
<polygon points="229.9,87.8 232.0,85.8 230.7,84.3 228.5,86.4" fill="#fde1e0" stroke="#615656"/>
<polygon points="265.9,75.3 268.3,74.0 266.9,72.5 264.5,73.8" fill="#ed4a45" stroke="#7a2623"/>
<polygon points="235.6,85.2 237.8,83.2 236.4,81.8 234.2,83.7" fill="#fac4c3" stroke="#665050"/>
<polygon points="259.7,76.7 262.1,75.2 260.6,73.7 258.2,75.2" fill="#ef5a55" stroke="#782d2a"/>
<polygon points="241.4,82.7 243.7,80.8 242.3,79.3 240.0,81.2" fill="#f7a6a4" stroke="#6b4847"/>
<polygon points="253.5,78.4 255.9,76.7 254.4,75.3 252.1,76.9" fill="#f16f6b" stroke="#743533"/>
<polygon points="247.4,80.4 249.7,78.6 248.3,77.2 246.0,78.9" fill="#f48986" stroke="#703f3d"/>
<polygon points="282.5,74.9 284.9,74.1 283.4,72.3 281.0,73.1" fill="#ed4640" stroke="#7b2421"/>
<polygon points="276.2,75.0 278.6,74.0 277.1,72.4 274.7,73.4" fill="#ed433e" stroke="#7b2220"/>
<polygon points="269.8,75.6 272.3,74.4 270.8,72.9 268.3,74.0" fill="#ed4742" stroke="#7a2422"/>
<polygon points="227.7,89.9 229.9,87.8 228.5,86.4 226.4,88.4" fill="#ffeeee" stroke="#5f5959"/>
<polygon points="263.5,76.7 265.9,75.3 264.5,73.8 262.1,75.2" fill="#ef534e" stroke="#792a27"/>
<polygon points="233.4,87.2 235.6,85.2 234.2,83.7 232.0,85.8" fill="#fcd3d2" stroke="#645353"/>
<polygon points="257.3,78.2 259.7,76.7 258.2,75.2 255.9,76.7" fill="#f06561" stroke="#76312f"/>
<polygon points="239.2,84.7 241.4,82.7 240.0,81.2 237.8,83.2" fill="#f8b6b4" stroke="#684c4c"/>
<polygon points="251.2,80.1 253.5,78.4 252.1,76.9 249.7,78.6" fill="#f37d79" stroke="#723a39"/>
<polygon points="245.1,82.2 247.4,80.4 246.0,78.9 243.7,80.8" fill="#f59895" stroke="#6d4442"/>
<polygon points="280.1,75.8 282.5,74.9 281.0,73.1 278.6,74.0" fill="#ed4742" stroke="#7a2422"/>
<polygon points="273.7,76.1 276.2,75.0 274.7,73.4 272.3,74.4" fill="#ee4742" stroke="#7b2422"/>
<polygon points="225.6,92.0 227.7,89.9 226.4,88.4 224.3,90.5" fill="#fff9f9" stroke="#5d5a5a"/>
<polygon points="267.4,76.9 269.8,75.6 268.3,74.0 265.9,75.3" fill="#ef4f4a" stroke="#7a2825"/>
<polygon points="231.2,89.3 233.4,87.2 232.0,85.8 229.9,87.8" fill="#fde1e1" stroke="#615656"/>
<polygon points="261.1,78.2 263.5,76.7 262.1,75.2 259.7,76.7" fill="#f05d59" stroke="#772e2c"/>
<polygon points="284.0,76.8 286.4,75.9 284.9,74.1 282.5,74.9" fill="#ef4f4a" stroke="#7a2825"/>
<polygon points="237.0,86.7 239.2,84.7 237.8,83.2 235.6,85.2" fill="#fac5c3" stroke="#66504f"/>
<polygon points="254.9,79.9 257.3,78.2 255.9,76.7 253.5,78.4" fill="#f2726e" stroke="#743634"/>
<polygon points="242.8,84.2 245.1,82.2 243.7,80.8 241.4,82.7" fill="#f7a7a5" stroke="#6b4847"/>
<polygon points="248.8,81.9 251.2,80.1 249.7,78.6 247.4,80.4" fill="#f48b88" stroke="#703f3e"/>
<polygon points="277.7,76.8 280.1,75.8 278.6,74.0 276.2,75.0" fill="#ee4a45" stroke="#7a2623"/>
<polygon points="271.3,77.3 273.7,76.1 272.3,74.4 269.8,75.6" fill="#ef4d48" stroke="#7a2724"/>
<polygon points="265.0,78.3 267.4,76.9 265.9,75.3 263.5,76.7" fill="#f05853" stroke="#782c29"/>
<polygon points="229.0,91.4 231.2,89.3 229.9,87.8 227.7,89.9" fill="#ffefee" stroke="#5f5958"/>
<polygon points="258.8,79.8 261.1,78.2 259.7,76.7 257.3,78.2" fill="#f16964" stroke="#753330"/>
<polygon points="234.7,88.7 237.0,86.7 235.6,85.2 233.4,87.2" fill="#fcd4d2" stroke="#635453"/>
<polygon points="252.6,81.6 254.9,79.9 253.5,78.4 251.2,80.1" fill="#f37f7c" stroke="#723b3a"/>
<polygon points="240.6,86.1 242.8,84.2 241.4,82.7 239.2,84.7" fill="#f9b6b4" stroke="#694c4c"/>
<polygon points="281.6,77.7 284.0,76.8 282.5,74.9 280.1,75.8" fill="#f0514c" stroke="#7a2926"/>
<polygon points="246.5,83.7 248.8,81.9 247.4,80.4 245.1,82.2" fill="#f69a97" stroke="#6d4443"/>
<polygon points="275.2,77.9 277.7,76.8 276.2,75.0 273.7,76.1" fill="#f04f4a" stroke="#7a2825"/>
<polygon points="268.9,78.6 271.3,77.3 269.8,75.6 267.4,76.9" fill="#f05550" stroke="#792b28"/>
<polygon points="285.5,78.8 287.9,78.0 286.4,75.9 284.0,76.8" fill="#f15b56" stroke="#782d2b"/>
<polygon points="226.9,93.5 229.0,91.4 227.7,89.9 225.6,92.0" fill="#fffaf9" stroke="#5c5b5a"/>
<polygon points="262.6,79.8 265.0,78.3 263.5,76.7 261.1,78.2" fill="#f1625d" stroke="#77302e"/>
<polygon points="232.5,90.8 234.7,88.7 233.4,87.2 231.2,89.3" fill="#fde2e1" stroke="#615656"/>
<polygon points="256.4,81.4 258.8,79.8 257.3,78.2 254.9,79.9" fill="#f37571" stroke="#743736"/>
<polygon points="238.3,88.1 240.6,86.1 239.2,84.7 237.0,86.7" fill="#fac6c4" stroke="#665050"/>
<polygon points="250.3,83.4 252.6,81.6 251.2,80.1 248.8,81.9" fill="#f58d8a" stroke="#70403f"/>
<polygon points="244.2,85.6 246.5,83.7 245.1,82.2 242.8,84.2" fill="#f7a9a6" stroke="#6b4948"/>
<polygon points="279.1,78.7 281.6,77.7 280.1,75.8 277.7,76.8" fill="#f1544f" stroke="#7a2a28"/>
<polygon points="272.8,79.1 275.2,77.9 273.7,76.1 271.3,77.3" fill="#f15550" stroke="#792a28"/>
<polygon points="266.5,80.0 268.9,78.6 267.4,76.9 265.0,78.3" fill="#f15d59" stroke="#782e2c"/>
<polygon points="260.2,81.4 262.6,79.8 261.1,78.2 258.8,79.8" fill="#f26d69" stroke="#753432"/>
<polygon points="283.0,79.8 285.5,78.8 284.0,76.8 281.6,77.7" fill="#f25c58" stroke="#782d2b"/>
<polygon points="230.4,92.9 232.5,90.8 231.2,89.3 229.0,91.4" fill="#ffefee" stroke="#5f5958"/>
<polygon points="254.0,83.1 256.4,81.4 254.9,79.9 252.6,81.6" fill="#f4827e" stroke="#723c3a"/>
<polygon points="236.1,90.2 238.3,88.1 237.0,86.7 234.7,88.7" fill="#fcd4d3" stroke="#635453"/>
<polygon points="247.9,85.2 250.3,83.4 248.8,81.9 246.5,83.7" fill="#f69b99" stroke="#6d4544"/>
<polygon points="241.9,87.6 244.2,85.6 242.8,84.2 240.6,86.1" fill="#f9b8b6" stroke="#684d4c"/>
<polygon points="276.7,79.8 279.1,78.7 277.7,76.8 275.2,77.9" fill="#f15853" stroke="#792c29"/>
<polygon points="270.4,80.4 272.8,79.1 271.3,77.3 268.9,78.6" fill="#f25c57" stroke="#782d2b"/>
<polygon points="286.9,81.1 289.4,80.3 287.9,78.0 285.5,78.8" fill="#f36964" stroke="#763330"/>
<polygon points="264.1,81.5 266.5,80.0 265.0,78.3 262.6,79.8" fill="#f26763" stroke="#763230"/>
<polygon points="228.2,95.0 230.4,92.9 229.0,91.4 226.9,93.5" fill="#fffaf9" stroke="#5c5b5a"/>
<polygon points="257.8,83.0 260.2,81.4 258.8,79.8 256.4,81.4" fill="#f47975" stroke="#733937"/>
<polygon points="280.6,80.8 283.0,79.8 281.6,77.7 279.1,78.7" fill="#f25f5a" stroke="#782f2c"/>
<polygon points="233.9,92.3 236.1,90.2 234.7,88.7 232.5,90.8" fill="#fde2e1" stroke="#615656"/>
<polygon points="251.7,84.9 254.0,83.1 252.6,81.6 250.3,83.4" fill="#f5908c" stroke="#6f413f"/>
<polygon points="239.7,89.6 241.9,87.6 240.6,86.1 238.3,88.1" fill="#fbc6c5" stroke="#665050"/>
<polygon points="245.6,87.1 247.9,85.2 246.5,83.7 244.2,85.6" fill="#f8aaa8" stroke="#6b4948"/>
<polygon points="274.3,81.0 276.7,79.8 275.2,77.9 272.8,79.1" fill="#f25d59" stroke="#782e2c"/>
<polygon points="267.9,81.8 270.4,80.4 268.9,78.6 266.5,80.0" fill="#f3645f" stroke="#77312e"/>
<polygon points="284.5,82.0 286.9,81.1 285.5,78.8 283.0,79.8" fill="#f36a65" stroke="#763331"/>
<polygon points="261.7,83.0 264.1,81.5 262.6,79.8 260.2,81.4" fill="#f4726e" stroke="#753634"/>
<polygon points="255.5,84.7 257.8,83.0 256.4,81.4 254.0,83.1" fill="#f58582" stroke="#713d3c"/>
<polygon points="231.7,94.4 233.9,92.3 232.5,90.8 230.4,92.9" fill="#ffefef" stroke="#5f5959"/>
<polygon points="249.3,86.8 251.7,84.9 250.3,83.4 247.9,85.2" fill="#f79e9b" stroke="#6d4644"/>
<polygon points="237.4,91.7 239.7,89.6 238.3,88.1 236.1,90.2" fill="#fcd5d4" stroke="#635453"/>
<polygon points="243.3,89.1 245.6,87.1 244.2,85.6 241.9,87.6" fill="#f9b9b7" stroke="#684d4c"/>
<polygon points="278.2,81.9 280.6,80.8 279.1,78.7 276.7,79.8" fill="#f3635e" stroke="#77302e"/>
<polygon points="271.8,82.3 274.3,81.0 272.8,79.1 270.4,80.4" fill="#f3645f" stroke="#77312e"/>
<polygon points="288.4,83.6 290.8,82.8 289.4,80.3 286.9,81.1" fill="#f57975" stroke="#743937"/>
<polygon points="265.5,83.2 267.9,81.8 266.5,80.0 264.1,81.5" fill="#f46d69" stroke="#763432"/>
<polygon points="282.1,83.0 284.5,82.0 283.0,79.8 280.6,80.8" fill="#f46c68" stroke="#763432"/>
<polygon points="259.3,84.6 261.7,83.0 260.2,81.4 257.8,83.0" fill="#f57d79" stroke="#733a39"/>
<polygon points="229.5,96.5 231.7,94.4 230.4,92.9 228.2,95.0" fill="#fffafa" stroke="#5c5b5b"/>
<polygon points="253.1,86.5 255.5,84.7 254.0,83.1 251.7,84.9" fill="#f69390" stroke="#6f4241"/>
<polygon points="235.2,93.7 237.4,91.7 236.1,90.2 233.9,92.3" fill="#fee3e2" stroke="#615756"/>
<polygon points="247.0,88.7 249.3,86.8 247.9,85.2 245.6,87.1" fill="#f8acaa" stroke="#6a4a49"/>
<polygon points="241.0,91.1 243.3,89.1 241.9,87.6 239.7,89.6" fill="#fbc7c6" stroke="#665150"/>
<polygon points="275.7,83.1 278.2,81.9 276.7,79.8 274.3,81.0" fill="#f36863" stroke="#763230"/>
<polygon points="269.4,83.6 271.8,82.3 270.4,80.4 267.9,81.8" fill="#f46c67" stroke="#763432"/>
<polygon points="285.9,84.6 288.4,83.6 286.9,81.1 284.5,82.0" fill="#f57a76" stroke="#743937"/>
<polygon points="263.1,84.8 265.5,83.2 264.1,81.5 261.7,83.0" fill="#f57874" stroke="#743937"/>
<polygon points="256.9,86.3 259.3,84.6 257.8,83.0 255.5,84.7" fill="#f68986" stroke="#713f3d"/>
<polygon points="279.6,84.1 282.1,83.0 280.6,80.8 278.2,81.9" fill="#f4706c" stroke="#753634"/>
<polygon points="250.7,88.3 253.1,86.5 251.7,84.9 249.3,86.8" fill="#f8a09e" stroke="#6d4645"/>
<polygon points="233.0,95.8 235.2,93.7 233.9,92.3 231.7,94.4" fill="#ffefef" stroke="#5f5959"/>
<polygon points="244.7,90.6 247.0,88.7 245.6,87.1 243.3,89.1" fill="#fabab9" stroke="#684d4d"/>
<polygon points="238.8,93.2 241.0,91.1 239.7,89.6 237.4,91.7" fill="#fcd6d5" stroke="#635454"/>
<polygon points="289.8,86.5 292.2,85.6 290.8,82.8 288.4,83.6" fill="#f88d89" stroke="#71403e"/>
<polygon points="273.3,84.3 275.7,83.1 274.3,81.0 271.8,82.3" fill="#f46e6a" stroke="#763533"/>
<polygon points="267.0,85.1 269.4,83.6 267.9,81.8 265.5,83.2" fill="#f57571" stroke="#753735"/>
<polygon points="283.5,85.6 285.9,84.6 284.5,82.0 282.1,83.0" fill="#f67c78" stroke="#743a38"/>
<polygon points="260.7,86.4 263.1,84.8 261.7,83.0 259.3,84.6" fill="#f6837f" stroke="#723d3b"/>
<polygon points="254.5,88.1 256.9,86.3 255.5,84.7 253.1,86.5" fill="#f79693" stroke="#6f4342"/>
<polygon points="230.8,97.9 233.0,95.8 231.7,94.4 229.5,96.5" fill="#fffafa" stroke="#5c5b5b"/>
<polygon points="277.2,85.3 279.6,84.1 278.2,81.9 275.7,83.1" fill="#f57470" stroke="#753735"/>
<polygon points="248.4,90.2 250.7,88.3 249.3,86.8 247.0,88.7" fill="#f9aeac" stroke="#6a4a49"/>
<polygon points="236.5,95.2 238.8,93.2 237.4,91.7 235.2,93.7" fill="#fee3e2" stroke="#615756"/>
<polygon points="242.4,92.6 244.7,90.6 243.3,89.1 241.0,91.1" fill="#fbc9c7" stroke="#655150"/>
<polygon points="270.8,85.7 273.3,84.3 271.8,82.3 269.4,83.6" fill="#f57571" stroke="#753735"/>
<polygon points="287.3,87.4 289.8,86.5 288.4,83.6 285.9,84.6" fill="#f88e8a" stroke="#71403e"/>
<polygon points="264.6,86.6 267.0,85.1 265.5,83.2 263.1,84.8" fill="#f67e7b" stroke="#733b39"/>
<polygon points="281.0,86.6 283.5,85.6 282.1,83.0 279.6,84.1" fill="#f67f7c" stroke="#733b3a"/>
<polygon points="258.3,88.1 260.7,86.4 259.3,84.6 256.9,86.3" fill="#f78f8b" stroke="#70413f"/>
<polygon points="252.1,89.9 254.5,88.1 253.1,86.5 250.7,88.3" fill="#f9a4a1" stroke="#6c4746"/>
<polygon points="291.1,89.7 293.5,88.8 292.2,85.6 289.8,86.5" fill="#fba4a2" stroke="#6d4746"/>
<polygon points="246.1,92.2 248.4,90.2 247.0,88.7 244.7,90.6" fill="#fbbcbb" stroke="#684e4d"/>
<polygon points="234.3,97.3 236.5,95.2 235.2,93.7 233.0,95.8" fill="#fff0ef" stroke="#5e5959"/>
<polygon points="240.1,94.7 242.4,92.6 241.0,91.1 238.8,93.2" fill="#fdd7d6" stroke="#635454"/>
<polygon points="274.7,86.6 277.2,85.3 275.7,83.1 273.3,84.3" fill="#f57a76" stroke="#743937"/>
<polygon points="268.4,87.1 270.8,85.7 269.4,83.6 267.0,85.1" fill="#f67d7a" stroke="#733a39"/>
<polygon points="284.9,88.4 287.3,87.4 285.9,84.6 283.5,85.6" fill="#f88f8c" stroke="#70413f"/>
<polygon points="262.1,88.2 264.6,86.6 263.1,84.8 260.7,86.4" fill="#f78986" stroke="#713f3d"/>
<polygon points="255.9,89.8 258.3,88.1 256.9,86.3 254.5,88.1" fill="#f99b98" stroke="#6e4443"/>
<polygon points="278.6,87.8 281.0,86.6 279.6,84.1 277.2,85.3" fill="#f78380" stroke="#723c3b"/>
<polygon points="249.8,91.8 252.1,89.9 250.7,88.3 248.4,90.2" fill="#fab1af" stroke="#6a4b4a"/>
<polygon points="232.1,99.4 234.3,97.3 233.0,95.8 230.8,97.9" fill="#fffafa" stroke="#5c5b5b"/>
<polygon points="243.8,94.2 246.1,92.2 244.7,90.6 242.4,92.6" fill="#fccac9" stroke="#665151"/>
<polygon points="237.9,96.7 240.1,94.7 238.8,93.2 236.5,95.2" fill="#fee4e3" stroke="#615756"/>
<polygon points="288.7,90.6 291.1,89.7 289.8,86.5 287.3,87.4" fill="#fba5a2" stroke="#6d4746"/>
<polygon points="272.3,87.9 274.7,86.6 273.3,84.3 270.8,85.7" fill="#f6817d" stroke="#723c3a"/>
<polygon points="266.0,88.6 268.4,87.1 267.0,85.1 264.6,86.6" fill="#f78783" stroke="#723e3c"/>
<polygon points="282.4,89.4 284.9,88.4 283.5,85.6 281.0,86.6" fill="#f8928f" stroke="#704240"/>
<polygon points="259.7,89.9 262.1,88.2 260.7,86.4 258.3,88.1" fill="#f99592" stroke="#704341"/>
<polygon points="292.4,93.4 294.8,92.5 293.5,88.8 291.1,89.7" fill="#febfbd" stroke="#684e4e"/>
<polygon points="253.6,91.6 255.9,89.8 254.5,88.1 252.1,89.9" fill="#faa8a5" stroke="#6c4847"/>
<polygon points="276.1,89.0 278.6,87.8 277.2,85.3 274.7,86.6" fill="#f78985" stroke="#713f3d"/>
<polygon points="247.5,93.8 249.8,91.8 248.4,90.2 246.1,92.2" fill="#fbbfbd" stroke="#684f4e"/>
<polygon points="241.5,96.2 243.8,94.2 242.4,92.6 240.1,94.7" fill="#fdd8d7" stroke="#635454"/>
<polygon points="235.6,98.8 237.9,96.7 236.5,95.2 234.3,97.3" fill="#fff0f0" stroke="#5e5959"/>
<polygon points="286.2,91.6 288.7,90.6 287.3,87.4 284.9,88.4" fill="#fba6a4" stroke="#6d4847"/>
<polygon points="269.8,89.3 272.3,87.9 270.8,85.7 268.4,87.1" fill="#f78885" stroke="#713e3d"/>
<polygon points="263.6,90.1 266.0,88.6 264.6,86.6 262.1,88.2" fill="#f8918e" stroke="#704140"/>
<polygon points="280.0,90.6 282.4,89.4 281.0,86.6 278.6,87.8" fill="#f99693" stroke="#6f4341"/>
<polygon points="257.3,91.6 259.7,89.9 258.3,88.1 255.9,89.8" fill="#faa19e" stroke="#6d4645"/>
<polygon points="290.0,94.3 292.4,93.4 291.1,89.7 288.7,90.6" fill="#fec0be" stroke="#684f4e"/>
<polygon points="251.2,93.5 253.6,91.6 252.1,89.9 249.8,91.8" fill="#fbb5b3" stroke="#6a4c4b"/>
<polygon points="245.1,95.7 247.5,93.8 246.1,92.2 243.8,94.2" fill="#fdcccb" stroke="#655251"/>
<polygon points="273.7,90.3 276.1,89.0 274.7,86.6 272.3,87.9" fill="#f88f8b" stroke="#70413f"/>
<polygon points="233.4,100.9 235.6,98.8 234.3,97.3 232.1,99.4" fill="#fffafa" stroke="#5c5b5b"/>
<polygon points="239.2,98.2 241.5,96.2 240.1,94.7 237.9,96.7" fill="#fee5e4" stroke="#615757"/>
<polygon points="267.4,90.7 269.8,89.3 268.4,87.1 266.0,88.6" fill="#f8918e" stroke="#704140"/>
<polygon points="283.8,92.6 286.2,91.6 284.9,88.4 282.4,89.4" fill="#fba9a6" stroke="#6c4947"/>
<polygon points="293.6,97.7 296.1,96.8 294.8,92.5 292.4,93.4" fill="#ffdddc" stroke="#625555"/>
<polygon points="261.2,91.8 263.6,90.1 262.1,88.2 259.7,89.9" fill="#fa9c99" stroke="#6e4543"/>
<polygon points="277.5,91.7 280.0,90.6 278.6,87.8 276.1,89.0" fill="#f99a97" stroke="#6e4443"/>
<polygon points="255.0,93.4 257.3,91.6 255.9,89.8 253.6,91.6" fill="#fbadaa" stroke="#6b4a48"/>
<polygon points="248.8,95.4 251.2,93.5 249.8,91.8 247.5,93.8" fill="#fcc2c0" stroke="#674f4f"/>
<polygon points="287.5,95.3 290.0,94.3 288.7,90.6 286.2,91.6" fill="#fec1bf" stroke="#684f4e"/>
<polygon points="242.8,97.7 245.1,95.7 243.8,94.2 241.5,96.2" fill="#fed9d8" stroke="#635554"/>
<polygon points="236.9,100.3 239.2,98.2 237.9,96.7 235.6,98.8" fill="#fff0f0" stroke="#5e5959"/>
<polygon points="271.3,91.6 273.7,90.3 272.3,87.9 269.8,89.3" fill="#f99592" stroke="#704341"/>
<polygon points="265.0,92.2 267.4,90.7 266.0,88.6 263.6,90.1" fill="#f99a97" stroke="#6e4443"/>
<polygon points="281.4,93.7 283.8,92.6 282.4,89.4 280.0,90.6" fill="#fcaba9" stroke="#6c4948"/>
<polygon points="258.7,93.5 261.2,91.8 259.7,89.9 257.3,91.6" fill="#fba7a4" stroke="#6d4847"/>
<polygon points="291.2,98.6 293.6,97.7 292.4,93.4 290.0,94.3" fill="#ffdddc" stroke="#625555"/>
<polygon points="252.6,95.2 255.0,93.4 253.6,91.6 251.2,93.5" fill="#fcb9b7" stroke="#694d4c"/>
<polygon points="275.1,93.0 277.5,91.7 276.1,89.0 273.7,90.3" fill="#fa9f9c" stroke="#6e4644"/>
<polygon points="246.5,97.3 248.8,95.4 247.5,93.8 245.1,95.7" fill="#fdcfcd" stroke="#655252"/>
<polygon points="240.5,99.8 242.8,97.7 241.5,96.2 239.2,98.2" fill="#ffe6e5" stroke="#615757"/>
<polygon points="234.7,102.4 236.9,100.3 235.6,98.8 233.4,100.9" fill="#fffafa" stroke="#5c5b5b"/>
<polygon points="285.1,96.3 287.5,95.3 286.2,91.6 283.8,92.6" fill="#ffc3c1" stroke="#684f4f"/>
<polygon points="268.8,93.0 271.3,91.6 269.8,89.3 267.4,90.7" fill="#fa9d9a" stroke="#6e4544"/>
<polygon points="294.9,101.9 297.3,101.1 296.1,96.8 293.6,97.7" fill="#fff9f8" stroke="#5d5a5a"/>
<polygon points="262.6,93.8 265.0,92.2 263.6,90.1 261.2,91.8" fill="#fba4a1" stroke="#6d4746"/>
<polygon points="278.9,94.8 281.4,93.7 280.0,90.6 277.5,91.7" fill="#fcafad" stroke="#6b4a49"/>
<polygon points="256.4,95.2 258.7,93.5 257.3,91.6 255.0,93.4" fill="#fdb3b0" stroke="#6b4b4a"/>
<polygon points="288.8,99.5 291.2,98.6 290.0,94.3 287.5,95.3" fill="#ffdedd" stroke="#625555"/>
<polygon points="250.2,97.1 252.6,95.2 251.2,93.5 248.8,95.4" fill="#fdc6c4" stroke="#67504f"/>
<polygon points="272.7,94.3 275.1,93.0 273.7,90.3 271.3,91.6" fill="#fba5a2" stroke="#6d4746"/>
<polygon points="244.2,99.3 246.5,97.3 245.1,95.7 242.8,97.7" fill="#fedbda" stroke="#635555"/>
<polygon points="238.3,101.8 240.5,99.8 239.2,98.2 236.9,100.3" fill="#fff1f1" stroke="#5e5959"/>
<polygon points="282.7,97.3 285.1,96.3 283.8,92.6 281.4,93.7" fill="#ffc5c3" stroke="#68504f"/>
<polygon points="266.4,94.5 268.8,93.0 267.4,90.7 265.0,92.2" fill="#fba5a3" stroke="#6d4747"/>
<polygon points="292.4,102.8 294.9,101.9 293.6,97.7 291.2,98.6" fill="#fff9f8" stroke="#5d5a5a"/>
<polygon points="260.2,95.5 262.6,93.8 261.2,91.8 258.7,93.5" fill="#fcaeac" stroke="#6b4a49"/>
<polygon points="276.5,96.0 278.9,94.8 277.5,91.7 275.1,93.0" fill="#fdb3b1" stroke="#6b4b4a"/>
<polygon points="254.0,97.0 256.4,95.2 255.0,93.4 252.6,95.2" fill="#febebc" stroke="#694e4d"/>
<polygon points="247.9,99.0 250.2,97.1 248.8,95.4 246.5,97.3" fill="#fed2d0" stroke="#655352"/>
<polygon points="286.4,100.5 288.8,99.5 287.5,95.3 285.1,96.3" fill="#ffdfde" stroke="#625655"/>
<polygon points="241.9,101.3 244.2,99.3 242.8,97.7 240.5,99.8" fill="#ffe7e6" stroke="#605757"/>
<polygon points="296.3,103.2 298.8,102.3 297.3,101.1 294.9,101.9" fill="#fcf9f9" stroke="#5c5b5b"/>
<polygon points="270.2,95.6 272.7,94.3 271.3,91.6 268.8,93.0" fill="#fcaca9" stroke="#6c4948"/>
<polygon points="236.0,103.9 238.3,101.8 236.9,100.3 234.7,102.4" fill="#fffafa" stroke="#5c5b5b"/>
<polygon points="264.0,96.0 266.4,94.5 265.0,92.2 262.6,93.8" fill="#fcaeac" stroke="#6b4a49"/>
<polygon points="280.2,98.3 282.7,97.3 281.4,93.7 278.9,94.8" fill="#ffc7c5" stroke="#675050"/>
<polygon points="290.0,103.7 292.4,102.8 291.2,98.6 288.8,99.5" fill="#fff9f9" stroke="#5d5a5a"/>
<polygon points="257.7,97.1 260.2,95.5 258.7,93.5 256.4,95.2" fill="#fdb9b7" stroke="#694d4c"/>
<polygon points="274.0,97.2 276.5,96.0 275.1,93.0 272.7,94.3" fill="#fdb8b6" stroke="#6a4d4c"/>
<polygon points="251.6,98.8 254.0,97.0 252.6,95.2 250.2,97.1" fill="#ffcac8" stroke="#665150"/>
<polygon points="245.5,100.9 247.9,99.0 246.5,97.3 244.2,99.3" fill="#ffdedd" stroke="#625555"/>
<polygon points="239.6,103.3 241.9,101.3 240.5,99.8 238.3,101.8" fill="#fff2f1" stroke="#5e5959"/>
<polygon points="283.9,101.4 286.4,100.5 285.1,96.3 282.7,97.3" fill="#ffe0df" stroke="#625656"/>
<polygon points="267.8,97.0 270.2,95.6 268.8,93.0 266.4,94.5" fill="#fdb3b0" stroke="#6b4b4a"/>
<polygon points="293.9,104.1 296.3,103.2 294.9,101.9 292.4,102.8" fill="#fcf9f9" stroke="#5c5b5b"/>
<polygon points="261.5,97.6 264.0,96.0 262.6,93.8 260.2,95.5" fill="#fdb7b5" stroke="#6a4c4c"/>
<polygon points="277.8,99.4 280.2,98.3 278.9,94.8 276.5,96.0" fill="#ffcac9" stroke="#665151"/>
<polygon points="255.4,98.9 257.7,97.1 256.4,95.2 254.0,97.0" fill="#ffc4c2" stroke="#68504f"/>
<polygon points="287.6,104.6 290.0,103.7 288.8,99.5 286.4,100.5" fill="#fff9f9" stroke="#5d5a5a"/>
<polygon points="249.2,100.7 251.6,98.8 250.2,97.1 247.9,99.0" fill="#ffd5d4" stroke="#645453"/>
<polygon points="271.6,98.5 274.0,97.2 272.7,94.3 270.2,95.6" fill="#febdbb" stroke="#694e4d"/>
<polygon points="243.2,102.9 245.5,100.9 244.2,99.3 241.9,101.3" fill="#ffe9e8" stroke="#605857"/>
<polygon points="237.3,105.4 239.6,103.3 238.3,101.8 236.0,103.9" fill="#fffbfb" stroke="#5c5b5b"/>
<polygon points="281.5,102.4 283.9,101.4 282.7,97.3 280.2,98.3" fill="#ffe2e1" stroke="#615656"/>
<polygon points="265.4,98.4 267.8,97.0 266.4,94.5 264.0,96.0" fill="#fdbab8" stroke="#694d4c"/>
<polygon points="291.5,105.0 293.9,104.1 292.4,102.8 290.0,103.7" fill="#fcf9f9" stroke="#5c5b5b"/>
<polygon points="259.1,99.2 261.5,97.6 260.2,95.5 257.7,97.1" fill="#fec1bf" stroke="#684f4e"/>
<polygon points="275.4,100.6 277.8,99.4 276.5,96.0 274.0,97.2" fill="#ffcdcc" stroke="#665251"/>
<polygon points="253.0,100.6 255.4,98.9 254.0,97.0 251.6,98.8" fill="#ffcfce" stroke="#655252"/>
<polygon points="285.2,105.5 287.6,104.6 286.4,100.5 283.9,101.4" fill="#fffafa" stroke="#5c5b5b"/>
<polygon points="246.9,102.6 249.2,100.7 247.9,99.0 245.5,100.9" fill="#ffe0df" stroke="#625656"/>
<polygon points="269.2,99.8 271.6,98.5 270.2,95.6 267.8,97.0" fill="#ffc3c1" stroke="#684f4f"/>
<polygon points="240.9,104.9 243.2,102.9 241.9,101.3 239.6,103.3" fill="#fff3f2" stroke="#5e5959"/>
<polygon points="262.9,99.9 265.4,98.4 264.0,96.0 261.5,97.6" fill="#fec2c0" stroke="#684f4e"/>
<polygon points="279.1,103.4 281.5,102.4 280.2,98.3 277.8,99.4" fill="#ffe4e3" stroke="#615756"/>
<polygon points="289.1,105.9 291.5,105.0 290.0,103.7 287.6,104.6" fill="#fcf9f9" stroke="#5c5b5b"/>
<polygon points="256.7,100.9 259.1,99.2 257.7,97.1 255.4,98.9" fill="#ffcbc9" stroke="#665151"/>
<polygon points="272.9,101.7 275.4,100.6 274.0,97.2 271.6,98.5" fill="#ffd1d0" stroke="#655352"/>
<polygon points="250.6,102.4 253.0,100.6 251.6,98.8 249.2,100.7" fill="#ffdad8" stroke="#635554"/>
<polygon points="244.5,104.5 246.9,102.6 245.5,100.9 243.2,102.9" fill="#ffebea" stroke="#605858"/>
<polygon points="282.8,106.4 285.2,105.5 283.9,101.4 281.5,102.4" fill="#fffbfa" stroke="#5c5b5a"/>
<polygon points="238.6,106.8 240.9,104.9 239.6,103.3 237.3,105.4" fill="#fffbfb" stroke="#5c5b5b"/>
<polygon points="266.7,101.1 269.2,99.8 267.8,97.0 265.4,98.4" fill="#ffc9c7" stroke="#675150"/>
<polygon points="260.5,101.4 262.9,99.9 261.5,97.6 259.1,99.2" fill="#ffcac9" stroke="#665151"/>
<polygon points="276.7,104.4 279.1,103.4 277.8,99.4 275.4,100.6" fill="#ffe6e5" stroke="#615757"/>
<polygon points="286.6,106.8 289.1,105.9 287.6,104.6 285.2,105.5" fill="#fcf9f9" stroke="#5c5b5b"/>
<polygon points="254.3,102.5 256.7,100.9 255.4,98.9 253.0,100.6" fill="#ffd5d4" stroke="#645453"/>
<polygon points="270.5,102.9 272.9,101.7 271.6,98.5 269.2,99.8" fill="#ffd5d4" stroke="#645453"/>
<polygon points="248.2,104.2 250.6,102.4 249.2,100.7 246.9,102.6" fill="#ffe4e3" stroke="#615756"/>
<polygon points="242.2,106.4 244.5,104.5 243.2,102.9 240.9,104.9" fill="#fff4f3" stroke="#5e5a59"/>
<polygon points="280.4,107.2 282.8,106.4 281.5,102.4 279.1,103.4" fill="#fffbfb" stroke="#5c5b5b"/>
<polygon points="264.3,102.5 266.7,101.1 265.4,98.4 262.9,99.9" fill="#ffcfce" stroke="#655252"/>
<polygon points="258.1,103.0 260.5,101.4 259.1,99.2 256.7,100.9" fill="#ffd3d2" stroke="#655353"/>
<polygon points="274.3,105.4 276.7,104.4 275.4,100.6 272.9,101.7" fill="#ffe8e7" stroke="#605757"/>
<polygon points="251.9,104.3 254.3,102.5 253.0,100.6 250.6,102.4" fill="#ffdfde" stroke="#625655"/>
<polygon points="284.2,107.7 286.6,106.8 285.2,105.5 282.8,106.4" fill="#fcf9f9" stroke="#5c5b5b"/>
<polygon points="245.9,106.1 248.2,104.2 246.9,102.6 244.5,104.5" fill="#ffedec" stroke="#5f5858"/>
<polygon points="268.1,104.1 270.5,102.9 269.2,99.8 266.7,101.1" fill="#ffdad8" stroke="#635554"/>
<polygon points="239.9,108.3 242.2,106.4 240.9,104.9 238.6,106.8" fill="#fffbfb" stroke="#5c5b5b"/>
<polygon points="278.0,108.1 280.4,107.2 279.1,103.4 276.7,104.4" fill="#fffcfc" stroke="#5c5b5b"/>
<polygon points="261.9,103.9 264.3,102.5 262.9,99.9 260.5,101.4" fill="#ffd6d4" stroke="#645453"/>
<polygon points="255.7,104.6 258.1,103.0 256.7,100.9 254.3,102.5" fill="#ffdbda" stroke="#635554"/>
<polygon points="271.8,106.4 274.3,105.4 272.9,101.7 270.5,102.9" fill="#ffeae9" stroke="#605857"/>
<polygon points="249.6,106.0 251.9,104.3 250.6,102.4 248.2,104.2" fill="#ffe7e7" stroke="#605757"/>
<polygon points="281.8,108.6 284.2,107.7 282.8,106.4 280.4,107.2" fill="#fcf9f9" stroke="#5c5b5b"/>
<polygon points="243.5,107.9 245.9,106.1 244.5,104.5 242.2,106.4" fill="#fff5f5" stroke="#5d5a5a"/>
<polygon points="265.7,105.3 268.1,104.1 266.7,101.1 264.3,102.5" fill="#ffdedd" stroke="#625555"/>
<polygon points="259.5,105.3 261.9,103.9 260.5,101.4 258.1,103.0" fill="#ffdddb" stroke="#635555"/>
<polygon points="275.5,109.0 278.0,108.1 276.7,104.4 274.3,105.4" fill="#fffdfc" stroke="#5c5b5b"/>
<polygon points="253.3,106.2 255.7,104.6 254.3,102.5 251.9,104.3" fill="#ffe4e3" stroke="#615756"/>
<polygon points="269.4,107.5 271.8,106.4 270.5,102.9 268.1,104.1" fill="#ffedec" stroke="#5f5858"/>
<polygon points="247.2,107.8 249.6,106.0 248.2,104.2 245.9,106.1" fill="#fff0ef" stroke="#5e5959"/>
<polygon points="241.2,109.8 243.5,107.9 242.2,106.4 239.9,108.3" fill="#fffcfc" stroke="#5c5b5b"/>
<polygon points="279.4,109.5 281.8,108.6 280.4,107.2 278.0,108.1" fill="#fcf9f9" stroke="#5c5b5b"/>
<polygon points="263.2,106.6 265.7,105.3 264.3,102.5 261.9,103.9" fill="#ffe3e2" stroke="#615656"/>
<polygon points="257.1,106.8 259.5,105.3 258.1,103.0 255.7,104.6" fill="#ffe3e2" stroke="#615656"/>
<polygon points="273.1,109.9 275.5,109.0 274.3,105.4 271.8,106.4" fill="#fffdfd" stroke="#5c5b5b"/>
<polygon points="250.9,107.8 253.3,106.2 251.9,104.3 249.6,106.0" fill="#ffeceb" stroke="#5f5858"/>
<polygon points="244.8,109.5 247.2,107.8 245.9,106.1 243.5,107.9" fill="#fff7f6" stroke="#5d5a5a"/>
<polygon points="267.0,108.5 269.4,107.5 268.1,104.1 265.7,105.3" fill="#ffefee" stroke="#5f5958"/>
<polygon points="276.9,110.4 279.4,109.5 278.0,108.1 275.5,109.0" fill="#fcf9f9" stroke="#5c5b5b"/>
<polygon points="260.8,107.9 263.2,106.6 261.9,103.9 259.5,105.3" fill="#ffe8e7" stroke="#605757"/>
<polygon points="254.7,108.2 257.1,106.8 255.7,104.6 253.3,106.2" fill="#ffeae9" stroke="#605857"/>
<polygon points="270.7,110.8 273.1,109.9 271.8,106.4 269.4,107.5" fill="#fffefe" stroke="#5c5b5b"/>
<polygon points="248.5,109.5 250.9,107.8 249.6,106.0 247.2,107.8" fill="#fff3f2" stroke="#5e5959"/>
<polygon points="242.5,111.3 244.8,109.5 243.5,107.9 241.2,109.8" fill="#fffcfc" stroke="#5c5b5b"/>
<polygon points="264.6,109.6 267.0,108.5 265.7,105.3 263.2,106.6" fill="#fff2f1" stroke="#5e5959"/>
<polygon points="274.5,111.2 276.9,110.4 275.5,109.0 273.1,109.9" fill="#fcf9f9" stroke="#5c5b5b"/>
<polygon points="258.4,109.1 260.8,107.9 259.5,105.3 257.1,106.8" fill="#ffedec" stroke="#5f5858"/>
<polygon points="252.3,109.7 254.7,108.2 253.3,106.2 250.9,107.8" fill="#fff1f0" stroke="#5e5959"/>
<polygon points="268.3,111.7 270.7,110.8 269.4,107.5 267.0,108.5" fill="#fffefe" stroke="#5c5b5b"/>
<polygon points="246.2,111.1 248.5,109.5 247.2,107.8 244.8,109.5" fill="#fff8f8" stroke="#5d5a5a"/>
<polygon points="262.2,110.7 264.6,109.6 263.2,106.6 260.8,107.9" fill="#fff4f4" stroke="#5e5a5a"/>
<polygon points="256.0,110.4 258.4,109.1 257.1,106.8 254.7,108.2" fill="#fff1f1" stroke="#5e5959"/>
<polygon points="272.1,112.1 274.5,111.2 273.1,109.9 270.7,110.8" fill="#fcf9f9" stroke="#5c5b5b"/>
<polygon points="249.9,111.2 252.3,109.7 250.9,107.8 248.5,109.5" fill="#fff6f6" stroke="#5d5a5a"/>
<polygon points="265.9,112.5 268.3,111.7 267.0,108.5 264.6,109.6" fill="#ffffff" stroke="#5b5b5b"/>
<polygon points="243.8,112.8 246.2,111.1 244.8,109.5 242.5,111.3" fill="#fffdfd" stroke="#5c5b5b"/>
<polygon points="259.7,111.7 262.2,110.7 260.8,107.9 258.4,109.1" fill="#fff7f7" stroke="#5d5a5a"/>
<polygon points="253.6,111.8 256.0,110.4 254.7,108.2 252.3,109.7" fill="#fff6f6" stroke="#5d5a5a"/>
<polygon points="269.7,113.0 272.1,112.1 270.7,110.8 268.3,111.7" fill="#fcf9f9" stroke="#5c5b5b"/>
<polygon points="247.5,112.7 249.9,111.2 248.5,109.5 246.2,111.1" fill="#fffafa" stroke="#5c5b5b"/>
<polygon points="263.5,113.4 265.9,112.5 264.6,109.6 262.2,110.7" fill="#ffffff" stroke="#5b5b5b"/>
<polygon points="257.3,112.8 259.7,111.7 258.4,109.1 256.0,110.4" fill="#fffaf9" stroke="#5c5b5a"/>
<polygon points="251.2,113.1 253.6,111.8 252.3,109.7 249.9,111.2" fill="#fffafa" stroke="#5c5b5b"/>
<polygon points="267.3,113.9 269.7,113.0 268.3,111.7 265.9,112.5" fill="#fcf9f9" stroke="#5c5b5b"/>
<polygon points="245.1,114.3 247.5,112.7 246.2,111.1 243.8,112.8" fill="#fffdfd" stroke="#5c5b5b"/>
<polygon points="261.1,114.3 263.5,113.4 262.2,110.7 259.7,111.7" fill="#ffffff" stroke="#5b5b5b"/>
<polygon points="254.9,113.9 257.3,112.8 256.0,110.4 253.6,111.8" fill="#fffcfc" stroke="#5c5b5b"/>
<polygon points="248.8,114.4 251.2,113.1 249.9,111.2 247.5,112.7" fill="#fffcfc" stroke="#5c5b5b"/>
<polygon points="264.8,114.8 267.3,113.9 265.9,112.5 263.5,113.4" fill="#fcf9f9" stroke="#5c5b5b"/>
<polygon points="258.7,115.2 261.1,114.3 259.7,111.7 257.3,112.8" fill="#ffffff" stroke="#5b5b5b"/>
<polygon points="252.5,115.0 254.9,113.9 253.6,111.8 251.2,113.1" fill="#fffefe" stroke="#5c5b5b"/>
<polygon points="246.4,115.7 248.8,114.4 247.5,112.7 245.1,114.3" fill="#fffdfd" stroke="#5c5b5b"/>
<polygon points="262.4,115.7 264.8,114.8 263.5,113.4 261.1,114.3" fill="#fcf9f9" stroke="#5c5b5b"/>
<polygon points="256.2,116.1 258.7,115.2 257.3,112.8 254.9,113.9" fill="#ffffff" stroke="#5b5b5b"/>
<polygon points="250.1,116.1 252.5,115.0 251.2,113.1 248.8,114.4" fill="#fffefe" stroke="#5c5b5b"/>
<polygon points="260.0,116.6 262.4,115.7 261.1,114.3 258.7,115.2" fill="#fcf9f9" stroke="#5c5b5b"/>
<polygon points="253.8,117.0 256.2,116.1 254.9,113.9 252.5,115.0" fill="#ffffff" stroke="#5b5b5b"/>
<polygon points="247.7,117.2 250.1,116.1 248.8,114.4 246.4,115.7" fill="#fffdfd" stroke="#5c5b5b"/>
<polygon points="257.6,117.5 260.0,116.6 258.7,115.2 256.2,116.1" fill="#fcf9f9" stroke="#5c5b5b"/>
<polygon points="251.4,117.8 253.8,117.0 252.5,115.0 250.1,116.1" fill="#fffefe" stroke="#5c5b5b"/>
<polygon points="255.1,118.4 257.6,117.5 256.2,116.1 253.8,117.0" fill="#fcf9f9" stroke="#5c5b5b"/>
<polygon points="249.0,118.7 251.4,117.8 250.1,116.1 247.7,117.2" fill="#fffcfc" stroke="#5c5b5b"/>
<polygon points="252.7,119.3 255.1,118.4 253.8,117.0 251.4,117.8" fill="#fcf9f9" stroke="#5c5b5b"/>
<polygon points="250.3,120.2 252.7,119.3 251.4,117.8 249.0,118.7" fill="#fcf9f9" stroke="#5c5b5b"/>
</g>
<text x="221.00" y="75.80" font-size="7.7" text-anchor="end" font-weight="normal" fill="#333" color="#333" >40</text>
<text x="221.00" y="97.50" font-size="7.7" text-anchor="end" font-weight="normal" fill="#333" color="#333" >0</text>
<text x="223.50" y="113.75" font-size="7.7" text-anchor="end" font-weight="normal" fill="#333" color="#333" >−40</text>
<text transform="translate(195.50,94.40) rotate(-90)" x="0" y="3.31" font-size="9.2" text-anchor="middle" fill="#222" color="#222" textLength="17.2" lengthAdjust="spacingAndGlyphs">Score</text>
<text x="219.25" y="120.50" font-size="7.7" text-anchor="middle" font-weight="normal" fill="#333" color="#333" >5</text>
<text x="224.75" y="130.40" font-size="7.7" text-anchor="middle" font-weight="normal" fill="#333" color="#333" >2.5</text>
<text x="231.75" y="138.00" font-size="7.7" text-anchor="middle" font-weight="normal" fill="#333" color="#333" >1</text>
<text x="238.50" y="147.60" font-size="7.7" text-anchor="middle" font-weight="normal" fill="#333" color="#333" >0.5</text>
<text x="260.60" y="151.00" font-size="7.7" text-anchor="middle" font-weight="normal" fill="#333" color="#333" >0.1</text>
<text x="275.80" y="147.40" font-size="7.7" text-anchor="middle" font-weight="normal" fill="#333" color="#333" >0.2</text>
<text x="289.80" y="142.70" font-size="7.7" text-anchor="middle" font-weight="normal" fill="#333" color="#333" >0.5</text>
<text x="302.40" y="138.00" font-size="7.7" text-anchor="middle" font-weight="normal" fill="#333" color="#333" >1.0</text>
<text transform="translate(213.80,140.50) rotate(57)" x="0" y="3.60" font-size="10.0" text-anchor="middle" fill="#222" color="#222" textLength="29" lengthAdjust="spacingAndGlyphs">EPZ (μM)</text>
<text transform="translate(291.60,157.85) rotate(-26)" x="0" y="3.60" font-size="10.0" text-anchor="middle" fill="#222" color="#222" textLength="29" lengthAdjust="spacingAndGlyphs">DAC (μM)</text>
<line x1="365.10" y1="70.25" x2="412.60" y2="57.75" stroke="#6e6e6e" stroke-width="0.7" />
<line x1="412.60" y1="57.75" x2="443.80" y2="81.00" stroke="#6e6e6e" stroke-width="0.7" />
<line x1="443.80" y1="81.00" x2="393.20" y2="99.00" stroke="#6e6e6e" stroke-width="0.7" />
<line x1="393.20" y1="99.00" x2="365.10" y2="70.25" stroke="#6e6e6e" stroke-width="0.7" />
<line x1="369.30" y1="113.20" x2="393.20" y2="143.80" stroke="#6e6e6e" stroke-width="0.7" />
<line x1="393.20" y1="143.80" x2="439.50" y2="126.00" stroke="#6e6e6e" stroke-width="0.7" />
<line x1="369.30" y1="113.20" x2="411.60" y2="99.50" stroke="#999" stroke-width="0.55" stroke-dasharray="1,1"/>
<line x1="411.60" y1="99.50" x2="439.50" y2="126.00" stroke="#999" stroke-width="0.55" stroke-dasharray="1,1"/>
<line x1="365.10" y1="70.25" x2="369.30" y2="113.20" stroke="#6e6e6e" stroke-width="0.7" />
<line x1="443.80" y1="81.00" x2="439.50" y2="126.00" stroke="#6e6e6e" stroke-width="0.7" />
<line x1="393.20" y1="99.00" x2="393.20" y2="143.80" stroke="#6e6e6e" stroke-width="0.7" />
<line x1="412.60" y1="57.75" x2="411.60" y2="99.50" stroke="#aaa" stroke-width="0.55" stroke-dasharray="1.5,1"/>
<g stroke-width="0.55">
<polygon points="411.7,62.6 414.1,61.1 412.6,59.8 410.2,61.4" fill="#e6221c" stroke="#7e120f"/>
<polygon points="409.3,64.2 411.7,62.6 410.2,61.4 407.8,62.9" fill="#e72721" stroke="#7e1512"/>
<polygon points="413.2,63.9 415.6,62.3 414.1,61.1 411.7,62.6" fill="#e7221c" stroke="#7f120f"/>
<polygon points="407.0,65.7 409.3,64.2 407.8,62.9 405.4,64.4" fill="#e9352f" stroke="#7c1c19"/>
<polygon points="410.9,65.4 413.2,63.9 411.7,62.6 409.3,64.2" fill="#e72823" stroke="#7e1513"/>
<polygon points="404.6,67.3 407.0,65.7 405.4,64.4 403.1,66.0" fill="#ea433d" stroke="#7a231f"/>
<polygon points="414.8,65.2 417.2,63.6 415.6,62.3 413.2,63.9" fill="#e7221c" stroke="#7f120f"/>
<polygon points="408.5,67.0 410.9,65.4 409.3,64.2 407.0,65.7" fill="#e93631" stroke="#7c1c1a"/>
<polygon points="402.3,68.8 404.6,67.3 403.1,66.0 400.8,67.5" fill="#ec504b" stroke="#782826"/>
<polygon points="412.4,66.7 414.8,65.2 413.2,63.9 410.9,65.4" fill="#e82a24" stroke="#7e1613"/>
<polygon points="406.1,68.6 408.5,67.0 407.0,65.7 404.6,67.3" fill="#eb443e" stroke="#7a2320"/>
<polygon points="399.9,70.4 402.3,68.8 400.8,67.5 398.5,69.1" fill="#ee5d59" stroke="#762e2c"/>
<polygon points="416.3,66.5 418.7,64.9 417.2,63.6 414.8,65.2" fill="#e7221c" stroke="#7f120f"/>
<polygon points="410.0,68.3 412.4,66.7 410.9,65.4 408.5,67.0" fill="#e93832" stroke="#7c1d1a"/>
<polygon points="403.8,70.1 406.1,68.6 404.6,67.3 402.3,68.8" fill="#ec514c" stroke="#782926"/>
<polygon points="397.6,71.9 399.9,70.4 398.5,69.1 396.1,70.6" fill="#ef6a66" stroke="#743331"/>
<polygon points="413.9,68.1 416.3,66.5 414.8,65.2 412.4,66.7" fill="#e82c26" stroke="#7d1714"/>
<polygon points="407.6,69.9 410.0,68.3 408.5,67.0 406.1,68.6" fill="#eb4540" stroke="#7a2321"/>
<polygon points="395.3,73.5 397.6,71.9 396.1,70.6 393.8,72.2" fill="#f17774" stroke="#733837"/>
<polygon points="401.4,71.7 403.8,70.1 402.3,68.8 399.9,70.4" fill="#ee5e5a" stroke="#762e2c"/>
<polygon points="417.9,67.8 420.3,66.3 418.7,64.9 416.3,66.5" fill="#e8221c" stroke="#7f120f"/>
<polygon points="411.5,69.6 413.9,68.1 412.4,66.7 410.0,68.3" fill="#ea3934" stroke="#7c1e1b"/>
<polygon points="405.3,71.5 407.6,69.9 406.1,68.6 403.8,70.1" fill="#ed524d" stroke="#782927"/>
<polygon points="393.0,75.1 395.3,73.5 393.8,72.2 391.6,73.7" fill="#f28481" stroke="#703d3c"/>
<polygon points="399.1,73.3 401.4,71.7 399.9,70.4 397.6,71.9" fill="#ef6b67" stroke="#743432"/>
<polygon points="415.4,69.4 417.9,67.8 416.3,66.5 413.9,68.1" fill="#e92e28" stroke="#7d1815"/>
<polygon points="409.1,71.2 411.5,69.6 410.0,68.3 407.6,69.9" fill="#ec4741" stroke="#7a2421"/>
<polygon points="390.7,76.7 393.0,75.1 391.6,73.7 389.3,75.3" fill="#f4918e" stroke="#6e4140"/>
<polygon points="402.9,73.1 405.3,71.5 403.8,70.1 401.4,71.7" fill="#ee5f5b" stroke="#762f2d"/>
<polygon points="396.8,74.9 399.1,73.3 397.6,71.9 395.3,73.5" fill="#f17874" stroke="#723937"/>
<polygon points="419.4,69.2 421.8,67.7 420.3,66.3 417.9,67.8" fill="#e8231d" stroke="#7f130f"/>
<polygon points="413.0,71.0 415.4,69.4 413.9,68.1 411.5,69.6" fill="#eb3b36" stroke="#7c1f1c"/>
<polygon points="406.7,72.8 409.1,71.2 407.6,69.9 405.3,71.5" fill="#ed544f" stroke="#782a28"/>
<polygon points="388.4,78.3 390.7,76.7 389.3,75.3 387.0,76.9" fill="#f59d9a" stroke="#6c4544"/>
<polygon points="400.5,74.6 402.9,73.1 401.4,71.7 399.1,73.3" fill="#f06c68" stroke="#743432"/>
<polygon points="394.4,76.5 396.8,74.9 395.3,73.5 393.0,75.1" fill="#f28581" stroke="#703d3c"/>
<polygon points="417.0,70.8 419.4,69.2 417.9,67.8 415.4,69.4" fill="#ea312b" stroke="#7d1a17"/>
<polygon points="410.6,72.6 413.0,71.0 411.5,69.6 409.1,71.2" fill="#ec4943" stroke="#7a2522"/>
<polygon points="386.2,79.9 388.4,78.3 387.0,76.9 384.8,78.5" fill="#f7a9a7" stroke="#6b4948"/>
<polygon points="404.4,74.4 406.7,72.8 405.3,71.5 402.9,73.1" fill="#ef615c" stroke="#76302d"/>
<polygon points="392.1,78.1 394.4,76.5 393.0,75.1 390.7,76.7" fill="#f4918e" stroke="#6e4140"/>
<polygon points="398.2,76.2 400.5,74.6 399.1,73.3 396.8,74.9" fill="#f17975" stroke="#723937"/>
<polygon points="420.9,70.7 423.4,69.1 421.8,67.7 419.4,69.2" fill="#e92721" stroke="#7f1512"/>
<polygon points="414.5,72.4 417.0,70.8 415.4,69.4 413.0,71.0" fill="#eb3e39" stroke="#7b201e"/>
<polygon points="408.2,74.2 410.6,72.6 409.1,71.2 406.7,72.8" fill="#ee5651" stroke="#782b28"/>
<polygon points="383.9,81.5 386.2,79.9 384.8,78.5 382.5,80.1" fill="#f8b5b3" stroke="#694c4b"/>
<polygon points="402.0,76.0 404.4,74.4 402.9,73.1 400.5,74.6" fill="#f06e6a" stroke="#743533"/>
<polygon points="389.9,79.7 392.1,78.1 390.7,76.7 388.4,78.3" fill="#f59d9b" stroke="#6c4544"/>
<polygon points="395.9,77.8 398.2,76.2 396.8,74.9 394.4,76.5" fill="#f38682" stroke="#703e3c"/>
<polygon points="418.5,72.3 420.9,70.7 419.4,69.2 417.0,70.8" fill="#eb342f" stroke="#7d1b19"/>
<polygon points="412.1,74.0 414.5,72.4 413.0,71.0 410.6,72.6" fill="#ed4b46" stroke="#7a2624"/>
<polygon points="381.7,83.1 383.9,81.5 382.5,80.1 380.3,81.7" fill="#fac0be" stroke="#674f4e"/>
<polygon points="405.9,75.8 408.2,74.2 406.7,72.8 404.4,74.4" fill="#ef635e" stroke="#76302e"/>
<polygon points="387.6,81.3 389.9,79.7 388.4,78.3 386.2,79.9" fill="#f7a9a7" stroke="#6b4948"/>
<polygon points="399.7,77.6 402.0,76.0 400.5,74.6 398.2,76.2" fill="#f27a77" stroke="#723938"/>
<polygon points="393.6,79.4 395.9,77.8 394.4,76.5 392.1,78.1" fill="#f4928f" stroke="#6e4240"/>
<polygon points="422.4,72.2 424.9,70.6 423.4,69.1 420.9,70.7" fill="#eb2c26" stroke="#7f1714"/>
<polygon points="416.0,73.9 418.5,72.3 417.0,70.8 414.5,72.4" fill="#ec413c" stroke="#7b221f"/>
<polygon points="409.7,75.6 412.1,74.0 410.6,72.6 408.2,74.2" fill="#ee5853" stroke="#772c29"/>
<polygon points="379.4,84.7 381.7,83.1 380.3,81.7 378.1,83.3" fill="#fbcbca" stroke="#655251"/>
<polygon points="403.5,77.4 405.9,75.8 404.4,74.4 402.0,76.0" fill="#f16f6b" stroke="#743533"/>
<polygon points="385.3,82.9 387.6,81.3 386.2,79.9 383.9,81.5" fill="#f8b5b3" stroke="#694c4b"/>
<polygon points="397.3,79.2 399.7,77.6 398.2,76.2 395.9,77.8" fill="#f38783" stroke="#703e3c"/>
<polygon points="391.3,81.1 393.6,79.4 392.1,78.1 389.9,79.7" fill="#f69e9c" stroke="#6d4645"/>
<polygon points="420.0,73.8 422.4,72.2 420.9,70.7 418.5,72.3" fill="#ec3933" stroke="#7d1e1b"/>
<polygon points="413.6,75.5 416.0,73.9 414.5,72.4 412.1,74.0" fill="#ee4e49" stroke="#792725"/>
<polygon points="377.2,86.4 379.4,84.7 378.1,83.3 375.9,84.9" fill="#fcd6d5" stroke="#635454"/>
<polygon points="407.3,77.2 409.7,75.6 408.2,74.2 405.9,75.8" fill="#f06560" stroke="#76312f"/>
<polygon points="383.1,84.5 385.3,82.9 383.9,81.5 381.7,83.1" fill="#fac1bf" stroke="#674f4e"/>
<polygon points="401.1,79.0 403.5,77.4 402.0,76.0 399.7,77.6" fill="#f27c78" stroke="#723a38"/>
<polygon points="389.0,82.7 391.3,81.1 389.9,79.7 387.6,81.3" fill="#f7aaa8" stroke="#6a4948"/>
<polygon points="395.0,80.9 397.3,79.2 395.9,77.8 393.6,79.4" fill="#f59390" stroke="#6e4241"/>
<polygon points="423.9,73.8 426.4,72.2 424.9,70.6 422.4,72.2" fill="#ec322c" stroke="#7e1a17"/>
<polygon points="417.5,75.4 420.0,73.8 418.5,72.3 416.0,73.9" fill="#ee4640" stroke="#7b2421"/>
<polygon points="411.2,77.1 413.6,75.5 412.1,74.0 409.7,75.6" fill="#ef5b56" stroke="#772d2b"/>
<polygon points="375.0,88.0 377.2,86.4 375.9,84.9 373.7,86.6" fill="#fde0e0" stroke="#615656"/>
<polygon points="405.0,78.9 407.3,77.2 405.9,75.8 403.5,77.4" fill="#f1716d" stroke="#743634"/>
<polygon points="380.8,86.2 383.1,84.5 381.7,83.1 379.4,84.7" fill="#fbccca" stroke="#655251"/>
<polygon points="398.8,80.7 401.1,79.0 399.7,77.6 397.3,79.2" fill="#f48885" stroke="#703e3d"/>
<polygon points="386.7,84.3 389.0,82.7 387.6,81.3 385.3,82.9" fill="#f8b6b4" stroke="#684c4c"/>
<polygon points="392.7,82.5 395.0,80.9 393.6,79.4 391.3,81.1" fill="#f69f9c" stroke="#6c4645"/>
<polygon points="421.5,75.4 423.9,73.8 422.4,72.2 420.0,73.8" fill="#ee3e39" stroke="#7d201d"/>
<polygon points="415.1,77.0 417.5,75.4 416.0,73.9 413.6,75.5" fill="#ef524d" stroke="#792927"/>
<polygon points="372.8,89.7 375.0,88.0 373.7,86.6 371.5,88.3" fill="#ffeaea" stroke="#605858"/>
<polygon points="408.8,78.7 411.2,77.1 409.7,75.6 407.3,77.2" fill="#f16863" stroke="#763230"/>
<polygon points="378.6,87.8 380.8,86.2 379.4,84.7 377.2,86.4" fill="#fcd6d5" stroke="#635454"/>
<polygon points="402.6,80.5 405.0,78.9 403.5,77.4 401.1,79.0" fill="#f37e7a" stroke="#723b39"/>
<polygon points="384.4,86.0 386.7,84.3 385.3,82.9 383.1,84.5" fill="#fac1bf" stroke="#674f4e"/>
<polygon points="396.4,82.3 398.8,80.7 397.3,79.2 395.0,80.9" fill="#f59491" stroke="#6e4241"/>
<polygon points="390.4,84.1 392.7,82.5 391.3,81.1 389.0,82.7" fill="#f7aba9" stroke="#6a4949"/>
<polygon points="425.4,75.5 427.9,73.9 426.4,72.2 423.9,73.8" fill="#ed3933" stroke="#7d1e1b"/>
<polygon points="419.0,77.0 421.5,75.4 420.0,73.8 417.5,75.4" fill="#ef4b46" stroke="#7a2624"/>
<polygon points="412.7,78.6 415.1,77.0 413.6,75.5 411.2,77.1" fill="#f05f5a" stroke="#772f2c"/>
<polygon points="370.7,91.4 372.8,89.7 371.5,88.3 369.3,89.9" fill="#fff3f3" stroke="#5e5959"/>
<polygon points="406.4,80.3 408.8,78.7 407.3,77.2 405.0,78.9" fill="#f27470" stroke="#743735"/>
<polygon points="376.4,89.5 378.6,87.8 377.2,86.4 375.0,88.0" fill="#fde1e0" stroke="#615656"/>
<polygon points="400.2,82.1 402.6,80.5 401.1,79.0 398.8,80.7" fill="#f48a87" stroke="#703f3e"/>
<polygon points="382.2,87.6 384.4,86.0 383.1,84.5 380.8,86.2" fill="#fbcccb" stroke="#655251"/>
<polygon points="394.1,83.9 396.4,82.3 395.0,80.9 392.7,82.5" fill="#f6a09e" stroke="#6c4645"/>
<polygon points="388.1,85.8 390.4,84.1 389.0,82.7 386.7,84.3" fill="#f9b6b4" stroke="#694c4c"/>
<polygon points="423.0,77.1 425.4,75.5 423.9,73.8 421.5,75.4" fill="#ef4540" stroke="#7c2321"/>
<polygon points="416.6,78.6 419.0,77.0 417.5,75.4 415.1,77.0" fill="#f05752" stroke="#792b29"/>
<polygon points="368.5,93.2 370.7,91.4 369.3,89.9 367.2,91.7" fill="#fffbfb" stroke="#5c5b5b"/>
<polygon points="410.3,80.2 412.7,78.6 411.2,77.1 408.8,78.7" fill="#f26b67" stroke="#753432"/>
<polygon points="374.2,91.2 376.4,89.5 375.0,88.0 372.8,89.7" fill="#ffeaea" stroke="#605858"/>
<polygon points="404.0,81.9 406.4,80.3 405.0,78.9 402.6,80.5" fill="#f3807d" stroke="#723c3a"/>
<polygon points="426.9,77.4 429.4,75.8 427.9,73.9 425.4,75.5" fill="#ee423c" stroke="#7c221f"/>
<polygon points="379.9,89.3 382.2,87.6 380.8,86.2 378.6,87.8" fill="#fcd7d6" stroke="#635454"/>
<polygon points="397.9,83.7 400.2,82.1 398.8,80.7 396.4,82.3" fill="#f59693" stroke="#6e4342"/>
<polygon points="385.8,87.4 388.1,85.8 386.7,84.3 384.4,86.0" fill="#fac2c0" stroke="#674f4f"/>
<polygon points="391.8,85.6 394.1,83.9 392.7,82.5 390.4,84.1" fill="#f8acaa" stroke="#6a4a49"/>
<polygon points="420.5,78.7 423.0,77.1 421.5,75.4 419.0,77.0" fill="#f0514c" stroke="#7a2926"/>
<polygon points="414.2,80.2 416.6,78.6 415.1,77.0 412.7,78.6" fill="#f2635f" stroke="#77302e"/>
<polygon points="407.9,81.8 410.3,80.2 408.8,78.7 406.4,80.3" fill="#f37773" stroke="#733836"/>
<polygon points="372.0,92.9 374.2,91.2 372.8,89.7 370.7,91.4" fill="#fff3f3" stroke="#5e5959"/>
<polygon points="401.7,83.6 404.0,81.9 402.6,80.5 400.2,82.1" fill="#f58c89" stroke="#70403e"/>
<polygon points="377.7,91.0 379.9,89.3 378.6,87.8 376.4,89.5" fill="#fee1e0" stroke="#615656"/>
<polygon points="395.5,85.4 397.9,83.7 396.4,82.3 394.1,83.9" fill="#f7a29f" stroke="#6c4745"/>
<polygon points="383.6,89.1 385.8,87.4 384.4,86.0 382.2,87.6" fill="#fbcdcb" stroke="#655251"/>
<polygon points="424.5,78.9 426.9,77.4 425.4,75.5 423.0,77.1" fill="#f04e48" stroke="#7a2724"/>
<polygon points="389.5,87.2 391.8,85.6 390.4,84.1 388.1,85.8" fill="#f9b7b5" stroke="#684d4c"/>
<polygon points="418.1,80.3 420.5,78.7 419.0,77.0 416.6,78.6" fill="#f25d59" stroke="#782e2c"/>
<polygon points="411.8,81.8 414.2,80.2 412.7,78.6 410.3,80.2" fill="#f36f6b" stroke="#753533"/>
<polygon points="428.4,79.4 430.9,77.9 429.4,75.8 426.9,77.4" fill="#f04d48" stroke="#7b2724"/>
<polygon points="369.8,94.7 372.0,92.9 370.7,91.4 368.5,93.2" fill="#fffbfb" stroke="#5c5b5b"/>
<polygon points="405.5,83.5 407.9,81.8 406.4,80.3 404.0,81.9" fill="#f48380" stroke="#713d3b"/>
<polygon points="375.5,92.6 377.7,91.0 376.4,89.5 374.2,91.2" fill="#ffeaea" stroke="#605858"/>
<polygon points="399.3,85.2 401.7,83.6 400.2,82.1 397.9,83.7" fill="#f69895" stroke="#6e4442"/>
<polygon points="381.3,90.7 383.6,89.1 382.2,87.6 379.9,89.3" fill="#fdd7d6" stroke="#635454"/>
<polygon points="393.2,87.0 395.5,85.4 394.1,83.9 391.8,85.6" fill="#f8adab" stroke="#6a4a49"/>
<polygon points="387.2,88.9 389.5,87.2 388.1,85.8 385.8,87.4" fill="#fac2c1" stroke="#674f4f"/>
<polygon points="422.0,80.5 424.5,78.9 423.0,77.1 420.5,78.7" fill="#f15954" stroke="#792c2a"/>
<polygon points="415.6,81.9 418.1,80.3 416.6,78.6 414.2,80.2" fill="#f36965" stroke="#763331"/>
<polygon points="409.3,83.4 411.8,81.8 410.3,80.2 407.9,81.8" fill="#f47b77" stroke="#733a38"/>
<polygon points="403.1,85.1 405.5,83.5 404.0,81.9 401.7,83.6" fill="#f68f8c" stroke="#70413f"/>
<polygon points="425.9,80.9 428.4,79.4 426.9,77.4 424.5,78.9" fill="#f15853" stroke="#792c29"/>
<polygon points="373.3,94.4 375.5,92.6 374.2,91.2 372.0,92.9" fill="#fff3f3" stroke="#5e5959"/>
<polygon points="397.0,86.8 399.3,85.2 397.9,83.7 395.5,85.4" fill="#f7a3a1" stroke="#6c4746"/>
<polygon points="379.1,92.4 381.3,90.7 379.9,89.3 377.7,91.0" fill="#fee1e0" stroke="#615656"/>
<polygon points="390.9,88.7 393.2,87.0 391.8,85.6 389.5,87.2" fill="#f9b8b6" stroke="#684d4c"/>
<polygon points="384.9,90.5 387.2,88.9 385.8,87.4 383.6,89.1" fill="#fccdcc" stroke="#655252"/>
<polygon points="419.6,82.1 422.0,80.5 420.5,78.7 418.1,80.3" fill="#f36560" stroke="#77312f"/>
<polygon points="413.2,83.5 415.6,81.9 414.2,80.2 411.8,81.8" fill="#f47571" stroke="#743736"/>
<polygon points="429.9,81.6 432.4,80.1 430.9,77.9 428.4,79.4" fill="#f15b56" stroke="#782d2b"/>
<polygon points="406.9,85.0 409.3,83.4 407.9,81.8 405.5,83.5" fill="#f58783" stroke="#713e3c"/>
<polygon points="371.1,96.2 373.3,94.4 372.0,92.9 369.8,94.7" fill="#fffbfb" stroke="#5c5b5b"/>
<polygon points="400.7,86.7 403.1,85.1 401.7,83.6 399.3,85.2" fill="#f79a98" stroke="#6e4443"/>
<polygon points="423.5,82.5 425.9,80.9 424.5,78.9 422.0,80.5" fill="#f3635e" stroke="#77302e"/>
<polygon points="376.8,94.1 379.1,92.4 377.7,91.0 375.5,92.6" fill="#ffebea" stroke="#605858"/>
<polygon points="394.6,88.5 397.0,86.8 395.5,85.4 393.2,87.0" fill="#f9afad" stroke="#6a4a4a"/>
<polygon points="382.7,92.2 384.9,90.5 383.6,89.1 381.3,90.7" fill="#fdd8d6" stroke="#635454"/>
<polygon points="388.6,90.3 390.9,88.7 389.5,87.2 387.2,88.9" fill="#fbc3c2" stroke="#67504f"/>
<polygon points="417.1,83.7 419.6,82.1 418.1,80.3 415.6,81.9" fill="#f4706c" stroke="#753634"/>
<polygon points="410.8,85.1 413.2,83.5 411.8,81.8 409.3,83.4" fill="#f6807d" stroke="#733b3a"/>
<polygon points="427.4,83.1 429.9,81.6 428.4,79.4 425.9,80.9" fill="#f36560" stroke="#77312f"/>
<polygon points="404.5,86.7 406.9,85.0 405.5,83.5 403.1,85.1" fill="#f7928f" stroke="#6f4240"/>
<polygon points="398.4,88.4 400.7,86.7 399.3,85.2 397.0,86.8" fill="#f8a6a3" stroke="#6c4847"/>
<polygon points="374.6,95.8 376.8,94.1 375.5,92.6 373.3,94.4" fill="#fff3f3" stroke="#5e5959"/>
<polygon points="392.3,90.1 394.6,88.5 393.2,87.0 390.9,88.7" fill="#fabab8" stroke="#684d4d"/>
<polygon points="380.4,93.9 382.7,92.2 381.3,90.7 379.1,92.4" fill="#fee1e1" stroke="#615656"/>
<polygon points="386.3,92.0 388.6,90.3 387.2,88.9 384.9,90.5" fill="#fccecd" stroke="#655252"/>
<polygon points="421.0,84.0 423.5,82.5 422.0,80.5 419.6,82.1" fill="#f46e6a" stroke="#763533"/>
<polygon points="414.7,85.2 417.1,83.7 415.6,81.9 413.2,83.5" fill="#f67b77" stroke="#743a38"/>
<polygon points="431.3,84.1 433.8,82.7 432.4,80.1 429.9,81.6" fill="#f46b67" stroke="#763432"/>
<polygon points="408.4,86.7 410.8,85.1 409.3,83.4 406.9,85.0" fill="#f78b88" stroke="#713f3e"/>
<polygon points="424.9,84.7 427.4,83.1 425.9,80.9 423.5,82.5" fill="#f46f6b" stroke="#753533"/>
<polygon points="402.2,88.3 404.5,86.7 403.1,85.1 400.7,86.7" fill="#f89d9b" stroke="#6d4544"/>
<polygon points="372.4,97.7 374.6,95.8 373.3,94.4 371.1,96.2" fill="#fffbfb" stroke="#5c5b5b"/>
<polygon points="396.0,90.0 398.4,88.4 397.0,86.8 394.6,88.5" fill="#f9b1af" stroke="#6a4b4a"/>
<polygon points="378.1,95.6 380.4,93.9 379.1,92.4 376.8,94.1" fill="#ffebea" stroke="#605858"/>
<polygon points="390.0,91.8 392.3,90.1 390.9,88.7 388.6,90.3" fill="#fbc5c3" stroke="#66504f"/>
<polygon points="384.0,93.7 386.3,92.0 384.9,90.5 382.7,92.2" fill="#fdd8d7" stroke="#635454"/>
<polygon points="418.6,85.6 421.0,84.0 419.6,82.1 417.1,83.7" fill="#f57875" stroke="#743937"/>
<polygon points="412.2,86.8 414.7,85.2 413.2,83.5 410.8,85.1" fill="#f78683" stroke="#723e3c"/>
<polygon points="428.8,85.6 431.3,84.1 429.9,81.6 427.4,83.1" fill="#f57571" stroke="#753735"/>
<polygon points="406.0,88.3 408.4,86.7 406.9,85.0 404.5,86.7" fill="#f89694" stroke="#6f4342"/>
<polygon points="399.8,89.9 402.2,88.3 400.7,86.7 398.4,88.4" fill="#f9a8a6" stroke="#6c4848"/>
<polygon points="422.5,86.2 424.9,84.7 423.5,82.5 421.0,84.0" fill="#f57975" stroke="#743937"/>
<polygon points="393.7,91.6 396.0,90.0 394.6,88.5 392.3,90.1" fill="#fabcba" stroke="#684e4d"/>
<polygon points="375.9,97.3 378.1,95.6 376.8,94.1 374.6,95.8" fill="#fff4f3" stroke="#5e5a59"/>
<polygon points="387.7,93.5 390.0,91.8 388.6,90.3 386.3,92.0" fill="#fccfce" stroke="#645252"/>
<polygon points="381.7,95.4 384.0,93.7 382.7,92.2 380.4,93.9" fill="#fee2e1" stroke="#615656"/>
<polygon points="432.7,87.0 435.2,85.6 433.8,82.7 431.3,84.1" fill="#f6807c" stroke="#733b3a"/>
<polygon points="416.1,87.1 418.6,85.6 417.1,83.7 414.7,85.2" fill="#f7837f" stroke="#723c3b"/>
<polygon points="409.8,88.4 412.2,86.8 410.8,85.1 408.4,86.7" fill="#f8918e" stroke="#704140"/>
<polygon points="426.4,87.1 428.8,85.6 427.4,83.1 424.9,84.7" fill="#f67e7a" stroke="#733b39"/>
<polygon points="403.6,89.9 406.0,88.3 404.5,86.7 402.2,88.3" fill="#f9a19f" stroke="#6d4645"/>
<polygon points="397.4,91.5 399.8,89.9 398.4,88.4 396.0,90.0" fill="#fab3b1" stroke="#6a4c4b"/>
<polygon points="373.7,99.1 375.9,97.3 374.6,95.8 372.4,97.7" fill="#fffbfb" stroke="#5c5b5b"/>
<polygon points="420.0,87.7 422.5,86.2 421.0,84.0 418.6,85.6" fill="#f7837f" stroke="#723c3b"/>
<polygon points="391.4,93.3 393.7,91.6 392.3,90.1 390.0,91.8" fill="#fbc6c4" stroke="#665050"/>
<polygon points="379.5,97.1 381.7,95.4 380.4,93.9 378.1,95.6" fill="#ffebeb" stroke="#605858"/>
<polygon points="385.4,95.2 387.7,93.5 386.3,92.0 384.0,93.7" fill="#fdd9d8" stroke="#635554"/>
<polygon points="413.7,88.7 416.1,87.1 414.7,85.2 412.2,86.8" fill="#f88d8a" stroke="#71403f"/>
<polygon points="430.2,88.4 432.7,87.0 431.3,84.1 428.8,85.6" fill="#f78885" stroke="#713e3d"/>
<polygon points="407.4,90.0 409.8,88.4 408.4,86.7 406.0,88.3" fill="#f99c99" stroke="#6e4543"/>
<polygon points="423.9,88.5 426.4,87.1 424.9,84.7 422.5,86.2" fill="#f78783" stroke="#723e3c"/>
<polygon points="401.2,91.5 403.6,89.9 402.2,88.3 399.8,89.9" fill="#faacaa" stroke="#6b4a49"/>
<polygon points="395.1,93.2 397.4,91.5 396.0,90.0 393.7,91.6" fill="#fbbebc" stroke="#684e4e"/>
<polygon points="434.1,90.3 436.5,89.0 435.2,85.6 432.7,87.0" fill="#f99996" stroke="#6f4442"/>
<polygon points="389.0,95.0 391.4,93.3 390.0,91.8 387.7,93.5" fill="#fdd0cf" stroke="#655352"/>
<polygon points="377.2,98.8 379.5,97.1 378.1,95.6 375.9,97.3" fill="#fff4f3" stroke="#5e5a59"/>
<polygon points="383.1,96.8 385.4,95.2 384.0,93.7 381.7,95.4" fill="#fee3e2" stroke="#615756"/>
<polygon points="417.6,89.2 420.0,87.7 418.6,85.6 416.1,87.1" fill="#f88d89" stroke="#71403e"/>
<polygon points="411.3,90.3 413.7,88.7 412.2,86.8 409.8,88.4" fill="#f99895" stroke="#6f4342"/>
<polygon points="427.8,89.8 430.2,88.4 428.8,85.6 426.4,87.1" fill="#f8908d" stroke="#704140"/>
<polygon points="405.0,91.6 407.4,90.0 406.0,88.3 403.6,89.9" fill="#faa6a4" stroke="#6c4847"/>
<polygon points="398.8,93.1 401.2,91.5 399.8,89.9 397.4,91.5" fill="#fbb6b4" stroke="#694c4b"/>
<polygon points="421.4,90.0 423.9,88.5 422.5,86.2 420.0,87.7" fill="#f8908c" stroke="#70413f"/>
<polygon points="392.7,94.8 395.1,93.2 393.7,91.6 391.4,93.3" fill="#fcc8c6" stroke="#665150"/>
<polygon points="375.0,100.6 377.2,98.8 375.9,97.3 373.7,99.1" fill="#fffbfb" stroke="#5c5b5b"/>
<polygon points="386.7,96.7 389.0,95.0 387.7,93.5 385.4,95.2" fill="#fedad9" stroke="#635554"/>
<polygon points="380.8,98.6 383.1,96.8 381.7,95.4 379.5,97.1" fill="#ffeceb" stroke="#5f5858"/>
<polygon points="431.6,91.6 434.1,90.3 432.7,87.0 430.2,88.4" fill="#faa09d" stroke="#6e4645"/>
<polygon points="415.1,90.7 417.6,89.2 416.1,87.1 413.7,88.7" fill="#f99693" stroke="#6f4341"/>
<polygon points="408.8,91.8 411.3,90.3 409.8,88.4 407.4,90.0" fill="#faa29f" stroke="#6d4745"/>
<polygon points="425.3,91.2 427.8,89.8 426.4,87.1 423.9,88.5" fill="#f99895" stroke="#6f4342"/>
<polygon points="402.6,93.2 405.0,91.6 403.6,89.9 401.2,91.5" fill="#fbb0ae" stroke="#6b4b4a"/>
<polygon points="435.3,94.1 437.8,92.9 436.5,89.0 434.1,90.3" fill="#fdb7b5" stroke="#6a4c4c"/>
<polygon points="396.5,94.8 398.8,93.1 397.4,91.5 395.1,93.2" fill="#fcc0bf" stroke="#684f4e"/>
<polygon points="419.0,91.5 421.4,90.0 420.0,87.7 417.6,89.2" fill="#f99996" stroke="#6f4442"/>
<polygon points="390.4,96.5 392.7,94.8 391.4,93.3 389.0,95.0" fill="#fdd2d0" stroke="#645352"/>
<polygon points="384.4,98.3 386.7,96.7 385.4,95.2 383.1,96.8" fill="#fee3e3" stroke="#615757"/>
<polygon points="378.5,100.3 380.8,98.6 379.5,97.1 377.2,98.8" fill="#fff4f4" stroke="#5e5a5a"/>
<polygon points="429.1,92.9 431.6,91.6 430.2,88.4 427.8,89.8" fill="#fba6a3" stroke="#6d4846"/>
<polygon points="412.7,92.2 415.1,90.7 413.7,88.7 411.3,90.3" fill="#faa09d" stroke="#6e4645"/>
<polygon points="406.4,93.4 408.8,91.8 407.4,90.0 405.0,91.6" fill="#fcaca9" stroke="#6c4948"/>
<polygon points="422.8,92.6 425.3,91.2 423.9,88.5 421.4,90.0" fill="#fa9f9d" stroke="#6e4645"/>
<polygon points="400.2,94.8 402.6,93.2 401.2,91.5 398.8,93.1" fill="#fcbab8" stroke="#694d4c"/>
<polygon points="432.9,95.3 435.3,94.1 434.1,90.3 431.6,91.6" fill="#febcba" stroke="#694e4d"/>
<polygon points="394.1,96.4 396.5,94.8 395.1,93.2 392.7,94.8" fill="#fdcac9" stroke="#665151"/>
<polygon points="388.1,98.2 390.4,96.5 389.0,95.0 386.7,96.7" fill="#fedbda" stroke="#635555"/>
<polygon points="416.5,92.9 419.0,91.5 417.6,89.2 415.1,90.7" fill="#faa19f" stroke="#6d4645"/>
<polygon points="376.3,102.1 378.5,100.3 377.2,98.8 375.0,100.6" fill="#fffbfb" stroke="#5c5b5b"/>
<polygon points="382.1,100.1 384.4,98.3 383.1,96.8 380.8,98.6" fill="#ffecec" stroke="#5f5858"/>
<polygon points="410.3,93.8 412.7,92.2 411.3,90.3 408.8,91.8" fill="#fba9a7" stroke="#6c4948"/>
<polygon points="426.7,94.2 429.1,92.9 427.8,89.8 425.3,91.2" fill="#fcacaa" stroke="#6c4949"/>
<polygon points="436.6,98.7 439.0,97.6 437.8,92.9 435.3,94.1" fill="#ffd8d7" stroke="#645454"/>
<polygon points="404.0,95.0 406.4,93.4 405.0,91.6 402.6,93.2" fill="#fdb6b3" stroke="#6a4c4b"/>
<polygon points="420.4,94.0 422.8,92.6 421.4,90.0 419.0,91.5" fill="#fba7a4" stroke="#6d4847"/>
<polygon points="397.9,96.4 400.2,94.8 398.8,93.1 396.5,94.8" fill="#fdc4c2" stroke="#67504f"/>
<polygon points="391.8,98.1 394.1,96.4 392.7,94.8 390.4,96.5" fill="#fed4d2" stroke="#645353"/>
<polygon points="430.4,96.5 432.9,95.3 431.6,91.6 429.1,92.9" fill="#fec0be" stroke="#684f4e"/>
<polygon points="385.8,99.9 388.1,98.2 386.7,96.7 384.4,98.3" fill="#ffe4e4" stroke="#615757"/>
<polygon points="379.9,101.8 382.1,100.1 380.8,98.6 378.5,100.3" fill="#fff4f4" stroke="#5e5a5a"/>
<polygon points="414.1,94.4 416.5,92.9 415.1,90.7 412.7,92.2" fill="#fbaaa7" stroke="#6c4948"/>
<polygon points="407.8,95.3 410.3,93.8 408.8,91.8 406.4,93.4" fill="#fcb2b0" stroke="#6b4b4a"/>
<polygon points="424.2,95.5 426.7,94.2 425.3,91.2 422.8,92.6" fill="#fcb3b0" stroke="#6a4b4a"/>
<polygon points="401.6,96.5 404.0,95.0 402.6,93.2 400.2,94.8" fill="#fdbfbd" stroke="#684f4e"/>
<polygon points="434.1,99.7 436.6,98.7 435.3,94.1 432.9,95.3" fill="#ffdbda" stroke="#635554"/>
<polygon points="395.5,98.0 397.9,96.4 396.5,94.8 394.1,96.4" fill="#fecdcc" stroke="#665251"/>
<polygon points="417.9,95.4 420.4,94.0 419.0,91.5 416.5,92.9" fill="#fcafac" stroke="#6b4a49"/>
<polygon points="389.4,99.7 391.8,98.1 390.4,96.5 388.1,98.2" fill="#fedddc" stroke="#625555"/>
<polygon points="383.5,101.6 385.8,99.9 384.4,98.3 382.1,100.1" fill="#ffedec" stroke="#5f5858"/>
<polygon points="377.6,103.6 379.9,101.8 378.5,100.3 376.3,102.1" fill="#fffbfb" stroke="#5c5b5b"/>
<polygon points="428.0,97.7 430.4,96.5 429.1,92.9 426.7,94.2" fill="#ffc5c3" stroke="#68504f"/>
<polygon points="411.7,95.9 414.1,94.4 412.7,92.2 410.3,93.8" fill="#fcb2b0" stroke="#6b4b4a"/>
<polygon points="437.8,103.1 440.2,102.3 439.0,97.6 436.6,98.7" fill="#fff7f6" stroke="#5d5a5a"/>
<polygon points="405.4,96.8 407.8,95.3 406.4,93.4 404.0,95.0" fill="#febcba" stroke="#694e4d"/>
<polygon points="421.8,96.8 424.2,95.5 422.8,92.6 420.4,94.0" fill="#fdb9b7" stroke="#694d4c"/>
<polygon points="399.3,98.1 401.6,96.5 400.2,94.8 397.9,96.4" fill="#fec8c6" stroke="#675150"/>
<polygon points="431.7,100.7 434.1,99.7 432.9,95.3 430.4,96.5" fill="#ffdedd" stroke="#625555"/>
<polygon points="393.1,99.7 395.5,98.0 394.1,96.4 391.8,98.1" fill="#fed6d5" stroke="#645453"/>
<polygon points="415.5,96.8 417.9,95.4 416.5,92.9 414.1,94.4" fill="#fdb6b4" stroke="#6a4c4b"/>
<polygon points="387.1,101.4 389.4,99.7 388.1,98.2 385.8,99.9" fill="#ffe5e5" stroke="#615757"/>
<polygon points="381.2,103.3 383.5,101.6 382.1,100.1 379.9,101.8" fill="#fff5f4" stroke="#5d5a59"/>
<polygon points="425.6,98.9 428.0,97.7 426.7,94.2 424.2,95.5" fill="#ffc9c8" stroke="#675150"/>
<polygon points="409.3,97.3 411.7,95.9 410.3,93.8 407.8,95.3" fill="#febbb9" stroke="#694d4d"/>
<polygon points="435.3,104.0 437.8,103.1 436.6,98.7 434.1,99.7" fill="#fff8f8" stroke="#5d5a5a"/>
<polygon points="403.0,98.4 405.4,96.8 404.0,95.0 401.6,96.5" fill="#ffc4c3" stroke="#68504f"/>
<polygon points="419.3,98.1 421.8,96.8 420.4,94.0 417.9,95.4" fill="#febfbd" stroke="#684e4e"/>
<polygon points="396.9,99.7 399.3,98.1 397.9,96.4 395.5,98.0" fill="#ffd1cf" stroke="#655352"/>
<polygon points="390.8,101.3 393.1,99.7 391.8,98.1 389.4,99.7" fill="#ffdfde" stroke="#625655"/>
<polygon points="429.3,101.8 431.7,100.7 430.4,96.5 428.0,97.7" fill="#ffe1e0" stroke="#625656"/>
<polygon points="384.8,103.1 387.1,101.4 385.8,99.9 383.5,101.6" fill="#ffeeed" stroke="#5f5958"/>
<polygon points="439.2,104.4 441.7,103.5 440.2,102.3 437.8,103.1" fill="#fcf9f9" stroke="#5c5b5b"/>
<polygon points="413.1,98.2 415.5,96.8 414.1,94.4 411.7,95.9" fill="#febdbb" stroke="#694e4d"/>
<polygon points="378.9,105.1 381.2,103.3 379.9,101.8 377.6,103.6" fill="#fffcfb" stroke="#5c5b5b"/>
<polygon points="406.8,98.8 409.3,97.3 407.8,95.3 405.4,96.8" fill="#ffc3c1" stroke="#684f4f"/>
<polygon points="423.1,100.1 425.6,98.9 424.2,95.5 421.8,96.8" fill="#ffcecc" stroke="#665251"/>
<polygon points="432.9,104.9 435.3,104.0 434.1,99.7 431.7,100.7" fill="#fff9f9" stroke="#5d5a5a"/>
<polygon points="400.6,99.9 403.0,98.4 401.6,96.5 399.3,98.1" fill="#ffcdcb" stroke="#665251"/>
<polygon points="416.9,99.4 419.3,98.1 417.9,95.4 415.5,96.8" fill="#ffc5c3" stroke="#68504f"/>
<polygon points="394.5,101.3 396.9,99.7 395.5,98.0 393.1,99.7" fill="#ffd9d8" stroke="#635454"/>
<polygon points="388.5,102.9 390.8,101.3 389.4,99.7 387.1,101.4" fill="#ffe7e6" stroke="#605757"/>
<polygon points="382.5,104.8 384.8,103.1 383.5,101.6 381.2,103.3" fill="#fff5f5" stroke="#5d5a5a"/>
<polygon points="426.8,102.8 429.3,101.8 428.0,97.7 425.6,98.9" fill="#ffe3e2" stroke="#615656"/>
<polygon points="410.6,99.6 413.1,98.2 411.7,95.9 409.3,97.3" fill="#ffc4c3" stroke="#68504f"/>
<polygon points="436.8,105.3 439.2,104.4 437.8,103.1 435.3,104.0" fill="#fcf9f9" stroke="#5c5b5b"/>
<polygon points="404.4,100.3 406.8,98.8 405.4,96.8 403.0,98.4" fill="#ffcbc9" stroke="#665151"/>
<polygon points="420.7,101.3 423.1,100.1 421.8,96.8 419.3,98.1" fill="#ffd2d1" stroke="#655353"/>
<polygon points="398.3,101.5 400.6,99.9 399.3,98.1 396.9,99.7" fill="#ffd5d4" stroke="#645453"/>
<polygon points="430.5,105.8 432.9,104.9 431.7,100.7 429.3,101.8" fill="#fffafa" stroke="#5c5b5b"/>
<polygon points="392.1,102.9 394.5,101.3 393.1,99.7 390.8,101.3" fill="#ffe1e0" stroke="#625656"/>
<polygon points="414.5,100.7 416.9,99.4 415.5,96.8 413.1,98.2" fill="#ffcbc9" stroke="#665151"/>
<polygon points="386.1,104.6 388.5,102.9 387.1,101.4 384.8,103.1" fill="#ffefee" stroke="#5f5958"/>
<polygon points="380.2,106.6 382.5,104.8 381.2,103.3 378.9,105.1" fill="#fffcfc" stroke="#5c5b5b"/>
<polygon points="424.4,103.8 426.8,102.8 425.6,98.9 423.1,100.1" fill="#ffe6e5" stroke="#615757"/>
<polygon points="408.2,101.0 410.6,99.6 409.3,97.3 406.8,98.8" fill="#ffccca" stroke="#665251"/>
<polygon points="434.4,106.2 436.8,105.3 435.3,104.0 432.9,104.9" fill="#fcf9f9" stroke="#5c5b5b"/>
<polygon points="402.0,101.8 404.4,100.3 403.0,98.4 400.6,99.9" fill="#ffd3d1" stroke="#655352"/>
<polygon points="418.2,102.4 420.7,101.3 419.3,98.1 416.9,99.4" fill="#ffd6d5" stroke="#645453"/>
<polygon points="395.9,103.0 398.3,101.5 396.9,99.7 394.5,101.3" fill="#ffdddc" stroke="#625555"/>
<polygon points="428.1,106.7 430.5,105.8 429.3,101.8 426.8,102.8" fill="#fffbfb" stroke="#5c5b5b"/>
<polygon points="389.8,104.5 392.1,102.9 390.8,101.3 388.5,102.9" fill="#ffe9e8" stroke="#605857"/>
<polygon points="412.0,102.1 414.5,100.7 413.1,98.2 410.6,99.6" fill="#ffd1cf" stroke="#655352"/>
<polygon points="383.8,106.3 386.1,104.6 384.8,103.1 382.5,104.8" fill="#fff6f5" stroke="#5d5a5a"/>
<polygon points="405.8,102.4 408.2,101.0 406.8,98.8 404.4,100.3" fill="#ffd2d1" stroke="#655353"/>
<polygon points="422.0,104.9 424.4,103.8 423.1,100.1 420.7,101.3" fill="#ffe8e7" stroke="#605757"/>
<polygon points="432.0,107.1 434.4,106.2 432.9,104.9 430.5,105.8" fill="#fcf9f9" stroke="#5c5b5b"/>
<polygon points="399.6,103.3 402.0,101.8 400.6,99.9 398.3,101.5" fill="#ffdad9" stroke="#635554"/>
<polygon points="415.8,103.6 418.2,102.4 416.9,99.4 414.5,100.7" fill="#ffdbd9" stroke="#635554"/>
<polygon points="393.5,104.6 395.9,103.0 394.5,101.3 392.1,102.9" fill="#ffe4e3" stroke="#615756"/>
<polygon points="387.5,106.2 389.8,104.5 388.5,102.9 386.1,104.6" fill="#fff0ef" stroke="#5e5959"/>
<polygon points="425.7,107.6 428.1,106.7 426.8,102.8 424.4,103.8" fill="#fffcfc" stroke="#5c5b5b"/>
<polygon points="381.5,108.0 383.8,106.3 382.5,104.8 380.2,106.6" fill="#fffcfc" stroke="#5c5b5b"/>
<polygon points="409.6,103.4 412.0,102.1 410.6,99.6 408.2,101.0" fill="#ffd6d5" stroke="#645453"/>
<polygon points="403.4,103.8 405.8,102.4 404.4,100.3 402.0,101.8" fill="#ffd9d8" stroke="#635454"/>
<polygon points="419.6,105.9 422.0,104.9 420.7,101.3 418.2,102.4" fill="#ffebea" stroke="#605858"/>
<polygon points="429.5,108.0 432.0,107.1 430.5,105.8 428.1,106.7" fill="#fcf9f9" stroke="#5c5b5b"/>
<polygon points="397.2,104.8 399.6,103.3 398.3,101.5 395.9,103.0" fill="#ffe1e0" stroke="#625656"/>
<polygon points="413.4,104.8 415.8,103.6 414.5,100.7 412.0,102.1" fill="#ffdfde" stroke="#625655"/>
<polygon points="391.1,106.1 393.5,104.6 392.1,102.9 389.8,104.5" fill="#ffebea" stroke="#605858"/>
<polygon points="385.1,107.8 387.5,106.2 386.1,104.6 383.8,106.3" fill="#fff6f6" stroke="#5d5a5a"/>
<polygon points="423.3,108.4 425.7,107.6 424.4,103.8 422.0,104.9" fill="#fffdfc" stroke="#5c5b5b"/>
<polygon points="407.2,104.7 409.6,103.4 408.2,101.0 405.8,102.4" fill="#ffdcdb" stroke="#635555"/>
<polygon points="401.0,105.2 403.4,103.8 402.0,101.8 399.6,103.3" fill="#ffe0df" stroke="#625656"/>
<polygon points="417.1,106.9 419.6,105.9 418.2,102.4 415.8,103.6" fill="#ffedec" stroke="#5f5858"/>
<polygon points="394.9,106.3 397.2,104.8 395.9,103.0 393.5,104.6" fill="#ffe8e7" stroke="#605757"/>
<polygon points="427.1,108.9 429.5,108.0 428.1,106.7 425.7,107.6" fill="#fcf9f9" stroke="#5c5b5b"/>
<polygon points="388.8,107.7 391.1,106.1 389.8,104.5 387.5,106.2" fill="#fff1f1" stroke="#5e5959"/>
<polygon points="411.0,106.0 413.4,104.8 412.0,102.1 409.6,103.4" fill="#ffe3e2" stroke="#615656"/>
<polygon points="382.8,109.5 385.1,107.8 383.8,106.3 381.5,108.0" fill="#fffcfc" stroke="#5c5b5b"/>
<polygon points="420.9,109.3 423.3,108.4 422.0,104.9 419.6,105.9" fill="#fffdfd" stroke="#5c5b5b"/>
<polygon points="404.8,106.0 407.2,104.7 405.8,102.4 403.4,103.8" fill="#ffe1e0" stroke="#625656"/>
<polygon points="398.6,106.7 401.0,105.2 399.6,103.3 397.2,104.8" fill="#ffe6e5" stroke="#615757"/>
<polygon points="414.7,108.0 417.1,106.9 415.8,103.6 413.4,104.8" fill="#ffefef" stroke="#5f5959"/>
<polygon points="392.5,107.8 394.9,106.3 393.5,104.6 391.1,106.1" fill="#ffeeed" stroke="#5f5958"/>
<polygon points="424.7,109.8 427.1,108.9 425.7,107.6 423.3,108.4" fill="#fcf9f9" stroke="#5c5b5b"/>
<polygon points="386.4,109.3 388.8,107.7 387.5,106.2 385.1,107.8" fill="#fff7f7" stroke="#5d5a5a"/>
<polygon points="408.5,107.2 411.0,106.0 409.6,103.4 407.2,104.7" fill="#ffe7e6" stroke="#605757"/>
<polygon points="402.4,107.3 404.8,106.0 403.4,103.8 401.0,105.2" fill="#ffe7e6" stroke="#605757"/>
<polygon points="418.4,110.2 420.9,109.3 419.6,105.9 417.1,106.9" fill="#fffefe" stroke="#5c5b5b"/>
<polygon points="396.2,108.1 398.6,106.7 397.2,104.8 394.9,106.3" fill="#ffeceb" stroke="#5f5858"/>
<polygon points="412.3,109.0 414.7,108.0 413.4,104.8 411.0,106.0" fill="#fff1f1" stroke="#5e5959"/>
<polygon points="390.1,109.3 392.5,107.8 391.1,106.1 388.8,107.7" fill="#fff3f3" stroke="#5e5959"/>
<polygon points="384.1,111.0 386.4,109.3 385.1,107.8 382.8,109.5" fill="#fffcfc" stroke="#5c5b5b"/>
<polygon points="422.3,110.7 424.7,109.8 423.3,108.4 420.9,109.3" fill="#fcf9f9" stroke="#5c5b5b"/>
<polygon points="406.1,108.4 408.5,107.2 407.2,104.7 404.8,106.0" fill="#ffebea" stroke="#605858"/>
<polygon points="400.0,108.7 402.4,107.3 401.0,105.2 398.6,106.7" fill="#ffeceb" stroke="#5f5858"/>
<polygon points="416.0,111.1 418.4,110.2 417.1,106.9 414.7,108.0" fill="#fffefe" stroke="#5c5b5b"/>
<polygon points="393.8,109.5 396.2,108.1 394.9,106.3 392.5,107.8" fill="#fff1f0" stroke="#5e5959"/>
<polygon points="387.8,110.9 390.1,109.3 388.8,107.7 386.4,109.3" fill="#fff8f8" stroke="#5d5a5a"/>
<polygon points="409.9,110.0 412.3,109.0 411.0,106.0 408.5,107.2" fill="#fff4f3" stroke="#5e5a59"/>
<polygon points="419.8,111.6 422.3,110.7 420.9,109.3 418.4,110.2" fill="#fcf9f9" stroke="#5c5b5b"/>
<polygon points="403.7,109.6 406.1,108.4 404.8,106.0 402.4,107.3" fill="#ffefee" stroke="#5f5958"/>
<polygon points="397.6,110.0 400.0,108.7 398.6,106.7 396.2,108.1" fill="#fff1f0" stroke="#5e5959"/>
<polygon points="413.6,112.0 416.0,111.1 414.7,108.0 412.3,109.0" fill="#ffffff" stroke="#5b5b5b"/>
<polygon points="391.4,111.0 393.8,109.5 392.5,107.8 390.1,109.3" fill="#fff5f5" stroke="#5d5a5a"/>
<polygon points="385.4,112.5 387.8,110.9 386.4,109.3 384.1,111.0" fill="#fffcfc" stroke="#5c5b5b"/>
<polygon points="407.5,111.1 409.9,110.0 408.5,107.2 406.1,108.4" fill="#fff6f6" stroke="#5d5a5a"/>
<polygon points="417.4,112.5 419.8,111.6 418.4,110.2 416.0,111.1" fill="#fcf9f9" stroke="#5c5b5b"/>
<polygon points="401.3,110.8 403.7,109.6 402.4,107.3 400.0,108.7" fill="#fff2f2" stroke="#5e5959"/>
<polygon points="395.2,111.4 397.6,110.0 396.2,108.1 393.8,109.5" fill="#fff5f4" stroke="#5d5a59"/>
<polygon points="411.2,112.9 413.6,112.0 412.3,109.0 409.9,110.0" fill="#ffffff" stroke="#5b5b5b"/>
<polygon points="389.1,112.5 391.4,111.0 390.1,109.3 387.8,110.9" fill="#fff9f9" stroke="#5d5a5a"/>
<polygon points="405.1,112.1 407.5,111.1 406.1,108.4 403.7,109.6" fill="#fff8f8" stroke="#5d5a5a"/>
<polygon points="398.9,112.0 401.3,110.8 400.0,108.7 397.6,110.0" fill="#fff6f6" stroke="#5d5a5a"/>
<polygon points="415.0,113.3 417.4,112.5 416.0,111.1 413.6,112.0" fill="#fcf9f9" stroke="#5c5b5b"/>
<polygon points="392.8,112.7 395.2,111.4 393.8,109.5 391.4,111.0" fill="#fff8f8" stroke="#5d5a5a"/>
<polygon points="408.8,113.7 411.2,112.9 409.9,110.0 407.5,111.1" fill="#ffffff" stroke="#5b5b5b"/>
<polygon points="386.7,114.0 389.1,112.5 387.8,110.9 385.4,112.5" fill="#fffdfd" stroke="#5c5b5b"/>
<polygon points="402.6,113.2 405.1,112.1 403.7,109.6 401.3,110.8" fill="#fffafa" stroke="#5c5b5b"/>
<polygon points="396.5,113.2 398.9,112.0 397.6,110.0 395.2,111.4" fill="#fff9f9" stroke="#5d5a5a"/>
<polygon points="412.6,114.2 415.0,113.3 413.6,112.0 411.2,112.9" fill="#fcf9f9" stroke="#5c5b5b"/>
<polygon points="390.4,114.1 392.8,112.7 391.4,111.0 389.1,112.5" fill="#fffbfb" stroke="#5c5b5b"/>
<polygon points="406.4,114.6 408.8,113.7 407.5,111.1 405.1,112.1" fill="#ffffff" stroke="#5b5b5b"/>
<polygon points="400.2,114.2 402.6,113.2 401.3,110.8 398.9,112.0" fill="#fffcfc" stroke="#5c5b5b"/>
<polygon points="394.1,114.5 396.5,113.2 395.2,111.4 392.8,112.7" fill="#fffbfb" stroke="#5c5b5b"/>
<polygon points="410.2,115.1 412.6,114.2 411.2,112.9 408.8,113.7" fill="#fcf9f9" stroke="#5c5b5b"/>
<polygon points="388.0,115.5 390.4,114.1 389.1,112.5 386.7,114.0" fill="#fffdfd" stroke="#5c5b5b"/>
<polygon points="404.0,115.5 406.4,114.6 405.1,112.1 402.6,113.2" fill="#ffffff" stroke="#5b5b5b"/>
<polygon points="397.8,115.3 400.2,114.2 398.9,112.0 396.5,113.2" fill="#fffefe" stroke="#5c5b5b"/>
<polygon points="391.7,115.7 394.1,114.5 392.8,112.7 390.4,114.1" fill="#fffcfc" stroke="#5c5b5b"/>
<polygon points="407.7,116.0 410.2,115.1 408.8,113.7 406.4,114.6" fill="#fcf9f9" stroke="#5c5b5b"/>
<polygon points="401.6,116.4 404.0,115.5 402.6,113.2 400.2,114.2" fill="#ffffff" stroke="#5b5b5b"/>
<polygon points="395.4,116.3 397.8,115.3 396.5,113.2 394.1,114.5" fill="#fffefe" stroke="#5c5b5b"/>
<polygon points="389.3,116.9 391.7,115.7 390.4,114.1 388.0,115.5" fill="#fffdfd" stroke="#5c5b5b"/>
<polygon points="405.3,116.9 407.7,116.0 406.4,114.6 404.0,115.5" fill="#fcf9f9" stroke="#5c5b5b"/>
<polygon points="399.1,117.3 401.6,116.4 400.2,114.2 397.8,115.3" fill="#ffffff" stroke="#5b5b5b"/>
<polygon points="393.0,117.4 395.4,116.3 394.1,114.5 391.7,115.7" fill="#fffefd" stroke="#5c5b5b"/>
<polygon points="402.9,117.8 405.3,116.9 404.0,115.5 401.6,116.4" fill="#fcf9f9" stroke="#5c5b5b"/>
<polygon points="396.7,118.2 399.1,117.3 397.8,115.3 395.4,116.3" fill="#ffffff" stroke="#5b5b5b"/>
<polygon points="390.6,118.4 393.0,117.4 391.7,115.7 389.3,116.9" fill="#fffcfc" stroke="#5c5b5b"/>
<polygon points="400.5,118.7 402.9,117.8 401.6,116.4 399.1,117.3" fill="#fcf9f9" stroke="#5c5b5b"/>
<polygon points="394.3,119.0 396.7,118.2 395.4,116.3 393.0,117.4" fill="#fffdfd" stroke="#5c5b5b"/>
<polygon points="398.0,119.6 400.5,118.7 399.1,117.3 396.7,118.2" fill="#fcf9f9" stroke="#5c5b5b"/>
<polygon points="391.9,119.9 394.3,119.0 393.0,117.4 390.6,118.4" fill="#fefbfb" stroke="#5c5b5b"/>
<polygon points="395.6,120.5 398.0,119.6 396.7,118.2 394.3,119.0" fill="#fcf9f9" stroke="#5c5b5b"/>
<polygon points="393.2,121.4 395.6,120.5 394.3,119.0 391.9,119.9" fill="#fcf9f9" stroke="#5c5b5b"/>
</g>
<text x="362.00" y="75.80" font-size="7.7" text-anchor="end" font-weight="normal" fill="#333" color="#333" >40</text>
<text x="362.00" y="97.50" font-size="7.7" text-anchor="end" font-weight="normal" fill="#333" color="#333" >0</text>
<text x="364.50" y="113.75" font-size="7.7" text-anchor="end" font-weight="normal" fill="#333" color="#333" >−40</text>
<text transform="translate(336.50,94.40) rotate(-90)" x="0" y="3.31" font-size="9.2" text-anchor="middle" fill="#222" color="#222" textLength="17.2" lengthAdjust="spacingAndGlyphs">Score</text>
<text x="363.05" y="123.00" font-size="7.7" text-anchor="middle" font-weight="normal" fill="#333" color="#333" >5</text>
<text x="368.55" y="132.90" font-size="7.7" text-anchor="middle" font-weight="normal" fill="#333" color="#333" >2.5</text>
<text x="375.55" y="140.50" font-size="7.7" text-anchor="middle" font-weight="normal" fill="#333" color="#333" >1</text>
<text x="382.30" y="150.10" font-size="7.7" text-anchor="middle" font-weight="normal" fill="#333" color="#333" >0.5</text>
<text x="404.40" y="153.50" font-size="7.7" text-anchor="middle" font-weight="normal" fill="#333" color="#333" >0.1</text>
<text x="419.60" y="149.90" font-size="7.7" text-anchor="middle" font-weight="normal" fill="#333" color="#333" >0.2</text>
<text x="433.60" y="145.20" font-size="7.7" text-anchor="middle" font-weight="normal" fill="#333" color="#333" >0.5</text>
<text x="446.20" y="140.50" font-size="7.7" text-anchor="middle" font-weight="normal" fill="#333" color="#333" >1.0</text>
<text transform="translate(357.60,143.00) rotate(57)" x="0" y="3.60" font-size="10.0" text-anchor="middle" fill="#222" color="#222" textLength="29" lengthAdjust="spacingAndGlyphs">EPZ (μM)</text>
<text transform="translate(435.40,160.35) rotate(-26)" x="0" y="3.60" font-size="10.0" text-anchor="middle" fill="#222" color="#222" textLength="29" lengthAdjust="spacingAndGlyphs">OR21 (μM)</text>
<line x1="79.20" y1="221.25" x2="126.70" y2="208.75" stroke="#6e6e6e" stroke-width="0.7" />
<line x1="126.70" y1="208.75" x2="157.90" y2="232.00" stroke="#6e6e6e" stroke-width="0.7" />
<line x1="157.90" y1="232.00" x2="107.30" y2="250.00" stroke="#6e6e6e" stroke-width="0.7" />
<line x1="107.30" y1="250.00" x2="79.20" y2="221.25" stroke="#6e6e6e" stroke-width="0.7" />
<line x1="83.40" y1="264.20" x2="107.30" y2="294.80" stroke="#6e6e6e" stroke-width="0.7" />
<line x1="107.30" y1="294.80" x2="153.60" y2="277.00" stroke="#6e6e6e" stroke-width="0.7" />
<line x1="83.40" y1="264.20" x2="125.70" y2="250.50" stroke="#999" stroke-width="0.55" stroke-dasharray="1,1"/>
<line x1="125.70" y1="250.50" x2="153.60" y2="277.00" stroke="#999" stroke-width="0.55" stroke-dasharray="1,1"/>
<line x1="79.20" y1="221.25" x2="83.40" y2="264.20" stroke="#6e6e6e" stroke-width="0.7" />
<line x1="157.90" y1="232.00" x2="153.60" y2="277.00" stroke="#6e6e6e" stroke-width="0.7" />
<line x1="107.30" y1="250.00" x2="107.30" y2="294.80" stroke="#6e6e6e" stroke-width="0.7" />
<line x1="126.70" y1="208.75" x2="125.70" y2="250.50" stroke="#aaa" stroke-width="0.55" stroke-dasharray="1.5,1"/>
<g stroke-width="0.55">
<polygon points="125.6,221.7 127.9,221.5 126.4,220.4 124.1,220.6" fill="#e9928f" stroke="#6a4241"/>
<polygon points="123.3,221.5 125.6,221.7 124.1,220.6 121.8,220.3" fill="#e28683" stroke="#6a3f3d"/>
<polygon points="127.1,222.7 129.5,222.4 127.9,221.5 125.6,221.7" fill="#e68e8c" stroke="#6a4140"/>
<polygon points="121.0,221.8 123.3,221.5 121.8,220.3 119.5,220.3" fill="#e9817e" stroke="#6d3c3b"/>
<polygon points="124.8,222.5 127.1,222.7 125.6,221.7 123.3,221.5" fill="#df8380" stroke="#693e3c"/>
<polygon points="118.7,222.9 121.0,221.8 119.5,220.3 117.2,221.2" fill="#f48784" stroke="#703e3d"/>
<polygon points="128.7,223.5 131.0,223.3 129.5,222.4 127.1,222.7" fill="#e38986" stroke="#6a403e"/>
<polygon points="122.5,222.8 124.8,222.5 123.3,221.5 121.0,221.8" fill="#e57f7c" stroke="#6c3c3a"/>
<polygon points="116.4,224.3 118.7,222.9 117.2,221.2 114.9,222.5" fill="#f8908d" stroke="#704140"/>
<polygon points="126.4,223.3 128.7,223.5 127.1,222.7 124.8,222.5" fill="#da7c79" stroke="#683b3a"/>
<polygon points="120.2,224.0 122.5,222.8 121.0,221.8 118.7,222.9" fill="#ef8582" stroke="#6f3e3c"/>
<polygon points="114.1,224.9 116.4,224.3 114.9,222.5 112.6,223.1" fill="#f69390" stroke="#6f4241"/>
<polygon points="130.2,224.2 132.5,224.0 131.0,223.3 128.7,223.5" fill="#e0827f" stroke="#6a3d3c"/>
<polygon points="124.0,223.5 126.4,223.3 124.8,222.5 122.5,222.8" fill="#de7774" stroke="#6b3938"/>
<polygon points="117.9,225.5 120.2,224.0 118.7,222.9 116.4,224.3" fill="#f28f8c" stroke="#6e4140"/>
<polygon points="111.7,224.9 114.1,224.9 112.6,223.1 110.3,223.2" fill="#ec8986" stroke="#6d3f3e"/>
<polygon points="127.9,223.8 130.2,224.2 128.7,223.5 126.4,223.3" fill="#d67471" stroke="#683837"/>
<polygon points="121.7,224.7 124.0,223.5 122.5,222.8 120.2,224.0" fill="#e67c78" stroke="#6d3b39"/>
<polygon points="109.4,224.4 111.7,224.9 110.3,223.2 107.9,222.9" fill="#e27a77" stroke="#6c3a39"/>
<polygon points="115.5,226.2 117.9,225.5 116.4,224.3 114.1,224.9" fill="#ef928f" stroke="#6c4241"/>
<polygon points="131.7,224.9 134.1,224.8 132.5,224.0 130.2,224.2" fill="#de7b78" stroke="#6a3b39"/>
<polygon points="125.5,223.8 127.9,223.8 126.4,223.3 124.0,223.5" fill="#d76c68" stroke="#6a3533"/>
<polygon points="119.3,226.1 121.7,224.7 120.2,224.0 117.9,225.5" fill="#e78481" stroke="#6c3e3c"/>
<polygon points="107.0,223.8 109.4,224.4 107.9,222.9 105.6,222.6" fill="#dd6a67" stroke="#6d3432"/>
<polygon points="113.2,226.1 115.5,226.2 114.1,224.9 111.7,224.9" fill="#e38784" stroke="#6a3f3d"/>
<polygon points="129.4,224.3 131.7,224.9 130.2,224.2 127.9,223.8" fill="#d26b68" stroke="#683533"/>
<polygon points="123.2,224.8 125.5,223.8 124.0,223.5 121.7,224.7" fill="#dd6d6a" stroke="#6c3534"/>
<polygon points="104.7,223.5 107.0,223.8 105.6,222.6 103.2,222.5" fill="#db5d5a" stroke="#6e2f2d"/>
<polygon points="117.0,226.8 119.3,226.1 117.9,225.5 115.5,226.2" fill="#e38683" stroke="#6a3e3d"/>
<polygon points="110.8,225.4 113.2,226.1 111.7,224.9 109.4,224.4" fill="#d97572" stroke="#693937"/>
<polygon points="133.3,225.6 135.6,225.6 134.1,224.8 131.7,224.9" fill="#dd7572" stroke="#6b3837"/>
<polygon points="127.1,224.1 129.4,224.3 127.9,223.8 125.5,223.8" fill="#d15f5c" stroke="#6a302e"/>
<polygon points="120.8,226.2 123.2,224.8 121.7,224.7 119.3,226.1" fill="#dc7471" stroke="#6b3837"/>
<polygon points="102.3,223.5 104.7,223.5 103.2,222.5 100.9,222.6" fill="#da5450" stroke="#702b29"/>
<polygon points="114.7,226.7 117.0,226.8 115.5,226.2 113.2,226.1" fill="#d87c79" stroke="#683b3a"/>
<polygon points="108.5,224.7 110.8,225.4 109.4,224.4 107.0,223.8" fill="#d46461" stroke="#6a3230"/>
<polygon points="130.9,224.9 133.3,225.6 131.7,224.9 129.4,224.3" fill="#d06360" stroke="#693230"/>
<polygon points="124.7,224.8 127.1,224.1 125.5,223.8 123.2,224.8" fill="#d65e5a" stroke="#6c2f2d"/>
<polygon points="99.9,223.8 102.3,223.5 100.9,222.6 98.5,223.0" fill="#db4f4a" stroke="#712826"/>
<polygon points="118.5,226.9 120.8,226.2 119.3,226.1 117.0,226.8" fill="#d77572" stroke="#683937"/>
<polygon points="106.1,224.2 108.5,224.7 107.0,223.8 104.7,223.5" fill="#d25552" stroke="#6c2b2a"/>
<polygon points="112.3,226.0 114.7,226.7 113.2,226.1 110.8,225.4" fill="#d06c69" stroke="#673534"/>
<polygon points="134.8,226.5 137.1,226.5 135.6,225.6 133.3,225.6" fill="#de716d" stroke="#6c3735"/>
<polygon points="128.6,224.3 130.9,224.9 129.4,224.3 127.1,224.1" fill="#cd5450" stroke="#6a2b29"/>
<polygon points="122.3,226.0 124.7,224.8 123.2,224.8 120.8,226.2" fill="#d5625e" stroke="#6b312f"/>
<polygon points="97.6,224.4 99.9,223.8 98.5,223.0 96.2,223.6" fill="#dd4d49" stroke="#722725"/>
<polygon points="116.1,226.9 118.5,226.9 117.0,226.8 114.7,226.7" fill="#cf6d6a" stroke="#663634"/>
<polygon points="103.7,224.1 106.1,224.2 104.7,223.5 102.3,223.5" fill="#d24b46" stroke="#6e2724"/>
<polygon points="109.9,225.3 112.3,226.0 110.8,225.4 108.5,224.7" fill="#cc5b57" stroke="#682e2c"/>
<polygon points="132.5,225.6 134.8,226.5 133.3,225.6 130.9,224.9" fill="#cf5d59" stroke="#692f2d"/>
<polygon points="126.2,224.8 128.6,224.3 127.1,224.1 124.7,224.8" fill="#d24f4b" stroke="#6d2927"/>
<polygon points="95.3,225.3 97.6,224.4 96.2,223.6 93.9,224.4" fill="#df4f4b" stroke="#732826"/>
<polygon points="120.0,226.7 122.3,226.0 120.8,226.2 118.5,226.9" fill="#d0635f" stroke="#693230"/>
<polygon points="101.4,224.3 103.7,224.1 102.3,223.5 99.9,223.8" fill="#d44440" stroke="#702421"/>
<polygon points="113.8,226.4 116.1,226.9 114.7,226.7 112.3,226.0" fill="#ca5f5c" stroke="#67302e"/>
<polygon points="107.5,224.7 109.9,225.3 108.5,224.7 106.1,224.2" fill="#cc4b47" stroke="#6b2725"/>
<polygon points="136.3,227.5 138.7,227.5 137.1,226.5 134.8,226.5" fill="#e06f6c" stroke="#6d3634"/>
<polygon points="130.1,224.8 132.5,225.6 130.9,224.9 128.6,224.3" fill="#cc4b47" stroke="#6b2725"/>
<polygon points="123.8,225.8 126.2,224.8 124.7,224.8 122.3,226.0" fill="#d2514d" stroke="#6d2a28"/>
<polygon points="93.0,226.5 95.3,225.3 93.9,224.4 91.6,225.5" fill="#e45652" stroke="#742b29"/>
<polygon points="117.6,226.8 120.0,226.7 118.5,226.9 116.1,226.9" fill="#ca5d59" stroke="#672f2d"/>
<polygon points="99.0,224.9 101.4,224.3 99.9,223.8 97.6,224.4" fill="#d6423e" stroke="#712320"/>
<polygon points="111.4,225.7 113.8,226.4 112.3,226.0 109.9,225.3" fill="#c8504c" stroke="#682927"/>
<polygon points="105.1,224.5 107.5,224.7 106.1,224.2 103.7,224.1" fill="#cd403b" stroke="#6d221f"/>
<polygon points="134.0,226.5 136.3,227.5 134.8,226.5 132.5,225.6" fill="#d05a56" stroke="#6a2e2c"/>
<polygon points="127.8,225.0 130.1,224.8 128.6,224.3 126.2,224.8" fill="#d3433e" stroke="#702320"/>
<polygon points="90.7,228.5 93.0,226.5 91.6,225.5 89.3,227.4" fill="#e96460" stroke="#73312f"/>
<polygon points="121.5,226.5 123.8,225.8 122.3,226.0 120.0,226.7" fill="#ce514d" stroke="#6b2a28"/>
<polygon points="96.7,225.9 99.0,224.9 97.6,224.4 95.3,225.3" fill="#da4540" stroke="#722421"/>
<polygon points="115.2,226.5 117.6,226.8 116.1,226.9 113.8,226.4" fill="#c7524e" stroke="#682a28"/>
<polygon points="102.8,224.7 105.1,224.5 103.7,224.1 101.4,224.3" fill="#d03833" stroke="#701e1b"/>
<polygon points="109.0,225.2 111.4,225.7 109.9,225.3 107.5,224.7" fill="#c9413d" stroke="#6b2220"/>
<polygon points="137.8,228.7 140.2,228.7 138.7,227.5 136.3,227.5" fill="#e16f6b" stroke="#6e3634"/>
<polygon points="131.7,225.6 134.0,226.5 132.5,225.6 130.1,224.8" fill="#cd4642" stroke="#6c2523"/>
<polygon points="125.4,226.0 127.8,225.0 126.2,224.8 123.8,225.8" fill="#d5433e" stroke="#702320"/>
<polygon points="88.5,231.2 90.7,228.5 89.3,227.4 87.2,229.9" fill="#ec7a76" stroke="#703a38"/>
<polygon points="119.1,226.8 121.5,226.5 120.0,226.7 117.6,226.8" fill="#ca4d49" stroke="#6a2826"/>
<polygon points="94.3,227.3 96.7,225.9 95.3,225.3 93.0,226.5" fill="#df4d48" stroke="#732725"/>
<polygon points="112.8,226.1 115.2,226.5 113.8,226.4 111.4,225.7" fill="#c74440" stroke="#6a2422"/>
<polygon points="100.4,225.4 102.8,224.7 101.4,224.3 99.0,224.9" fill="#d33631" stroke="#721d1a"/>
<polygon points="106.6,225.0 109.0,225.2 107.5,224.7 105.1,224.5" fill="#cb3530" stroke="#6e1c1a"/>
<polygon points="135.5,227.7 137.8,228.7 136.3,227.5 134.0,226.5" fill="#d15955" stroke="#6b2d2b"/>
<polygon points="129.3,225.7 131.7,225.6 130.1,224.8 127.8,225.0" fill="#d63b36" stroke="#721f1c"/>
<polygon points="86.4,234.6 88.5,231.2 87.2,229.9 85.1,233.3" fill="#ed9794" stroke="#6b4442"/>
<polygon points="123.0,226.7 125.4,226.0 123.8,225.8 121.5,226.5" fill="#d1433f" stroke="#6f2321"/>
<polygon points="92.1,229.4 94.3,227.3 93.0,226.5 90.7,228.5" fill="#e45c58" stroke="#722e2c"/>
<polygon points="116.7,226.8 119.1,226.8 117.6,226.8 115.2,226.5" fill="#c94541" stroke="#6b2422"/>
<polygon points="98.0,226.4 100.4,225.4 99.0,224.9 96.7,225.9" fill="#d73934" stroke="#731e1b"/>
<polygon points="110.4,225.8 112.8,226.1 111.4,225.7 109.0,225.2" fill="#ca3732" stroke="#6d1d1b"/>
<polygon points="104.2,225.2 106.6,225.0 105.1,224.5 102.8,224.7" fill="#cf2d28" stroke="#711816"/>
<polygon points="139.4,229.9 141.7,229.9 140.2,228.7 137.8,228.7" fill="#e16f6b" stroke="#6e3634"/>
<polygon points="133.2,226.7 135.5,227.7 134.0,226.5 131.7,225.6" fill="#ce443f" stroke="#6d2421"/>
<polygon points="126.9,226.6 129.3,225.7 127.8,225.0 125.4,226.0" fill="#db3a35" stroke="#751f1c"/>
<polygon points="84.5,238.9 86.4,234.6 85.1,233.3 83.1,237.5" fill="#efbbb9" stroke="#644e4e"/>
<polygon points="120.6,227.1 123.0,226.7 121.5,226.5 119.1,226.8" fill="#cf403c" stroke="#6e2220"/>
<polygon points="89.9,232.2 92.1,229.4 90.7,228.5 88.5,231.2" fill="#e87470" stroke="#703836"/>
<polygon points="114.3,226.7 116.7,226.8 115.2,226.5 112.8,226.1" fill="#cb3a36" stroke="#6d1f1d"/>
<polygon points="95.7,227.9 98.0,226.4 96.7,225.9 94.3,227.3" fill="#dc423d" stroke="#742220"/>
<polygon points="108.0,225.7 110.4,225.8 109.0,225.2 106.6,225.0" fill="#cd2b26" stroke="#711715"/>
<polygon points="101.8,225.9 104.2,225.2 102.8,224.7 100.4,225.4" fill="#d32b25" stroke="#741714"/>
<polygon points="137.0,228.9 139.4,229.9 137.8,228.7 135.5,227.7" fill="#d15855" stroke="#6b2d2b"/>
<polygon points="130.8,226.7 133.2,226.7 131.7,225.6 129.3,225.7" fill="#d93833" stroke="#741e1b"/>
<polygon points="82.6,244.2 84.5,238.9 83.1,237.5 81.3,242.7" fill="#f2e1e1" stroke="#5e5757"/>
<polygon points="124.5,227.3 126.9,226.6 125.4,226.0 123.0,226.7" fill="#d93a35" stroke="#741f1c"/>
<polygon points="87.8,235.8 89.9,232.2 88.5,231.2 86.4,234.6" fill="#eb9390" stroke="#6b4341"/>
<polygon points="118.2,227.4 120.6,227.1 119.1,226.8 116.7,226.8" fill="#cf3a36" stroke="#6f1f1d"/>
<polygon points="140.9,231.1 143.2,231.1 141.7,229.9 139.4,229.9" fill="#e16e6b" stroke="#6e3534"/>
<polygon points="93.4,230.2 95.7,227.9 94.3,227.3 92.1,229.4" fill="#e1534e" stroke="#732a28"/>
<polygon points="111.9,226.6 114.3,226.7 112.8,226.1 110.4,225.8" fill="#ce2f2a" stroke="#711917"/>
<polygon points="99.4,226.9 101.8,225.9 100.4,225.4 98.0,226.4" fill="#d72e28" stroke="#751915"/>
<polygon points="105.6,225.9 108.0,225.7 106.6,225.0 104.2,225.2" fill="#d2241e" stroke="#741410"/>
<polygon points="134.7,227.9 137.0,228.9 135.5,227.7 133.2,226.7" fill="#ce433e" stroke="#6d2321"/>
<polygon points="128.4,227.5 130.8,226.7 129.3,225.7 126.9,226.6" fill="#e03530" stroke="#781c19"/>
<polygon points="122.1,227.9 124.5,227.3 123.0,226.7 120.6,227.1" fill="#d83833" stroke="#741e1b"/>
<polygon points="85.8,240.3 87.8,235.8 86.4,234.6 84.5,238.9" fill="#eeb8b7" stroke="#654e4d"/>
<polygon points="115.8,227.5 118.2,227.4 116.7,226.8 114.3,226.7" fill="#d1332e" stroke="#711b19"/>
<polygon points="91.2,233.2 93.4,230.2 92.1,229.4 89.9,232.2" fill="#e56c69" stroke="#703433"/>
<polygon points="109.5,226.6 111.9,226.6 110.4,225.8 108.0,225.7" fill="#d2251f" stroke="#741411"/>
<polygon points="97.1,228.5 99.4,226.9 98.0,226.4 95.7,227.9" fill="#dc3732" stroke="#761d1a"/>
<polygon points="138.6,230.1 140.9,231.1 139.4,229.9 137.0,228.9" fill="#d15854" stroke="#6b2d2b"/>
<polygon points="103.2,226.6 105.6,225.9 104.2,225.2 101.8,225.9" fill="#d7211c" stroke="#77120f"/>
<polygon points="132.3,227.8 134.7,227.9 133.2,226.7 130.8,226.7" fill="#d93631" stroke="#751d1a"/>
<polygon points="126.0,228.3 128.4,227.5 126.9,226.6 124.5,227.3" fill="#df3530" stroke="#781c19"/>
<polygon points="142.4,232.3 144.8,232.3 143.2,231.1 140.9,231.1" fill="#e16e6b" stroke="#6e3534"/>
<polygon points="83.9,245.7 85.8,240.3 84.5,238.9 82.6,244.2" fill="#f1e0e0" stroke="#5e5757"/>
<polygon points="119.6,228.3 122.1,227.9 120.6,227.1 118.2,227.4" fill="#d8342f" stroke="#741c19"/>
<polygon points="89.1,236.9 91.2,233.2 89.9,232.2 87.8,235.8" fill="#e98d8b" stroke="#6b4140"/>
<polygon points="113.4,227.6 115.8,227.5 114.3,226.7 111.9,226.6" fill="#d42a25" stroke="#741714"/>
<polygon points="94.8,230.9 97.1,228.5 95.7,227.9 93.4,230.2" fill="#e04945" stroke="#742623"/>
<polygon points="107.1,226.9 109.5,226.6 108.0,225.7 105.6,225.9" fill="#d7201a" stroke="#78110e"/>
<polygon points="100.8,227.7 103.2,226.6 101.8,225.9 99.4,226.9" fill="#da241f" stroke="#781311"/>
<polygon points="136.2,229.1 138.6,230.1 137.0,228.9 134.7,227.9" fill="#ce423e" stroke="#6d2321"/>
<polygon points="129.9,228.6 132.3,227.8 130.8,226.7 128.4,227.5" fill="#e1332d" stroke="#791b18"/>
<polygon points="123.5,228.9 126.0,228.3 124.5,227.3 122.1,227.9" fill="#de342f" stroke="#771c19"/>
<polygon points="117.2,228.7 119.6,228.3 118.2,227.4 115.8,227.5" fill="#da2f2a" stroke="#761916"/>
<polygon points="140.1,231.3 142.4,232.3 140.9,231.1 138.6,230.1" fill="#d15854" stroke="#6b2d2b"/>
<polygon points="87.1,241.5 89.1,236.9 87.8,235.8 85.8,240.3" fill="#edb5b3" stroke="#654d4c"/>
<polygon points="110.9,227.9 113.4,227.6 111.9,226.6 109.5,226.6" fill="#d8221c" stroke="#78120f"/>
<polygon points="92.6,234.1 94.8,230.9 93.4,230.2 91.2,233.2" fill="#e46461" stroke="#713130"/>
<polygon points="104.7,227.7 107.1,226.9 105.6,225.9 103.2,226.6" fill="#dc211b" stroke="#7a120f"/>
<polygon points="98.5,229.3 100.8,227.7 99.4,226.9 97.1,228.5" fill="#dd2e29" stroke="#781916"/>
<polygon points="133.8,229.0 136.2,229.1 134.7,227.9 132.3,227.8" fill="#d93530" stroke="#751c19"/>
<polygon points="127.5,229.4 129.9,228.6 128.4,227.5 126.0,228.3" fill="#e1332d" stroke="#791b18"/>
<polygon points="143.9,233.5 146.3,233.5 144.8,232.3 142.4,232.3" fill="#e16f6b" stroke="#6e3634"/>
<polygon points="121.1,229.5 123.5,228.9 122.1,227.9 119.6,228.3" fill="#df322d" stroke="#781b18"/>
<polygon points="85.2,247.2 87.1,241.5 85.8,240.3 83.9,245.7" fill="#f1dfdf" stroke="#5e5757"/>
<polygon points="114.8,229.0 117.2,228.7 115.8,227.5 113.4,227.6" fill="#dc2923" stroke="#781613"/>
<polygon points="137.7,230.3 140.1,231.3 138.6,230.1 136.2,229.1" fill="#ce423d" stroke="#6d2320"/>
<polygon points="90.4,238.0 92.6,234.1 91.2,233.2 89.1,236.9" fill="#e78885" stroke="#6b3f3e"/>
<polygon points="108.5,228.3 110.9,227.9 109.5,226.6 107.1,226.9" fill="#dd211b" stroke="#7a120f"/>
<polygon points="96.2,231.8 98.5,229.3 97.1,228.5 94.8,230.9" fill="#e0413c" stroke="#76221f"/>
<polygon points="102.3,228.7 104.7,227.7 103.2,226.6 100.8,227.7" fill="#df211b" stroke="#7b120e"/>
<polygon points="131.4,229.8 133.8,229.0 132.3,227.8 129.9,228.6" fill="#e2322c" stroke="#7a1a17"/>
<polygon points="125.0,230.1 127.5,229.4 126.0,228.3 123.5,228.9" fill="#e1322d" stroke="#791b18"/>
<polygon points="141.6,232.5 143.9,233.5 142.4,232.3 140.1,231.3" fill="#d15854" stroke="#6b2d2b"/>
<polygon points="118.7,230.1 121.1,229.5 119.6,228.3 117.2,228.7" fill="#e02f29" stroke="#791916"/>
<polygon points="112.4,229.4 114.8,229.0 113.4,227.6 110.9,227.9" fill="#df231d" stroke="#7b1310"/>
<polygon points="88.4,242.8 90.4,238.0 89.1,236.9 87.1,241.5" fill="#ebb1af" stroke="#654c4b"/>
<polygon points="106.1,229.1 108.5,228.3 107.1,226.9 104.7,227.7" fill="#e2221c" stroke="#7c120f"/>
<polygon points="93.9,235.0 96.2,231.8 94.8,230.9 92.6,234.1" fill="#e35d59" stroke="#722e2c"/>
<polygon points="99.9,230.3 102.3,228.7 100.8,227.7 98.5,229.3" fill="#e12822" stroke="#7b1512"/>
<polygon points="135.3,230.2 137.7,230.3 136.2,229.1 133.8,229.0" fill="#d93530" stroke="#751c19"/>
<polygon points="129.0,230.6 131.4,229.8 129.9,228.6 127.5,229.4" fill="#e2322c" stroke="#7a1a17"/>
<polygon points="145.4,235.0 147.8,234.9 146.3,233.5 143.9,233.5" fill="#e4726e" stroke="#6e3735"/>
<polygon points="122.6,230.8 125.0,230.1 123.5,228.9 121.1,229.5" fill="#e1312c" stroke="#791a17"/>
<polygon points="139.3,231.5 141.6,232.5 140.1,231.3 137.7,230.3" fill="#ce423d" stroke="#6d2320"/>
<polygon points="116.3,230.6 118.7,230.1 117.2,228.7 114.8,229.0" fill="#e12b25" stroke="#7a1714"/>
<polygon points="86.5,248.7 88.4,242.8 87.1,241.5 85.2,247.2" fill="#f0dedd" stroke="#5e5756"/>
<polygon points="110.0,230.0 112.4,229.4 110.9,227.9 108.5,228.3" fill="#e2221c" stroke="#7c120f"/>
<polygon points="91.8,239.0 93.9,235.0 92.6,234.1 90.4,238.0" fill="#e6827f" stroke="#6c3d3b"/>
<polygon points="103.7,230.1 106.1,229.1 104.7,227.7 102.3,228.7" fill="#e3221c" stroke="#7d120f"/>
<polygon points="97.6,232.7 99.9,230.3 98.5,229.3 96.2,231.8" fill="#e23b35" stroke="#781f1c"/>
<polygon points="132.9,231.0 135.3,230.2 133.8,229.0 131.4,229.8" fill="#e3312c" stroke="#7a1a17"/>
<polygon points="126.5,231.3 129.0,230.6 127.5,229.4 125.0,230.1" fill="#e2312c" stroke="#7a1a17"/>
<polygon points="143.1,234.0 145.4,235.0 143.9,233.5 141.6,232.5" fill="#d45b57" stroke="#6c2e2c"/>
<polygon points="120.2,231.5 122.6,230.8 121.1,229.5 118.7,230.1" fill="#e22f2a" stroke="#7a1916"/>
<polygon points="113.9,231.1 116.3,230.6 114.8,229.0 112.4,229.4" fill="#e32721" stroke="#7c1512"/>
<polygon points="136.9,231.5 139.3,231.5 137.7,230.3 135.3,230.2" fill="#da352f" stroke="#751c19"/>
<polygon points="107.6,230.7 110.0,230.0 108.5,228.3 106.1,229.1" fill="#e6221c" stroke="#7e120f"/>
<polygon points="89.7,244.0 91.8,239.0 90.4,238.0 88.4,242.8" fill="#ebaeac" stroke="#654b4a"/>
<polygon points="101.3,231.6 103.7,230.1 102.3,228.7 99.9,230.3" fill="#e52620" stroke="#7d1411"/>
<polygon points="95.3,236.0 97.6,232.7 96.2,231.8 93.9,235.0" fill="#e45753" stroke="#732c2a"/>
<polygon points="146.9,236.9 149.3,236.8 147.8,234.9 145.4,235.0" fill="#ea7a77" stroke="#6f3a38"/>
<polygon points="130.5,231.8 132.9,231.0 131.4,229.8 129.0,230.6" fill="#e3312c" stroke="#7a1a17"/>
<polygon points="124.1,232.1 126.5,231.3 125.0,230.1 122.6,230.8" fill="#e2312b" stroke="#7a1a17"/>
<polygon points="140.8,233.0 143.1,234.0 141.6,232.5 139.3,231.5" fill="#d24541" stroke="#6f2422"/>
<polygon points="117.7,232.1 120.2,231.5 118.7,230.1 116.3,230.6" fill="#e32d28" stroke="#7b1815"/>
<polygon points="111.4,231.8 113.9,231.1 112.4,229.4 110.0,230.0" fill="#e5241e" stroke="#7e1310"/>
<polygon points="87.8,250.1 89.7,244.0 88.4,242.8 86.5,248.7" fill="#efdcdc" stroke="#5e5656"/>
<polygon points="134.4,232.3 136.9,231.5 135.3,230.2 132.9,231.0" fill="#e3312c" stroke="#7a1a17"/>
<polygon points="105.1,231.7 107.6,230.7 106.1,229.1 103.7,230.1" fill="#e7221c" stroke="#7f120f"/>
<polygon points="93.1,240.1 95.3,236.0 93.9,235.0 91.8,239.0" fill="#e67d7a" stroke="#6d3b3a"/>
<polygon points="99.0,233.9 101.3,231.6 99.9,230.3 97.6,232.7" fill="#e53732" stroke="#7a1d1a"/>
<polygon points="128.0,232.6 130.5,231.8 129.0,230.6 126.5,231.3" fill="#e3312c" stroke="#7a1a17"/>
<polygon points="144.6,236.0 146.9,236.9 145.4,235.0 143.1,234.0" fill="#db6460" stroke="#6d3230"/>
<polygon points="121.6,232.8 124.1,232.1 122.6,230.8 120.2,231.5" fill="#e3302a" stroke="#7a1916"/>
<polygon points="138.3,233.0 140.8,233.0 139.3,231.5 136.9,231.5" fill="#de3833" stroke="#771e1b"/>
<polygon points="115.3,232.7 117.7,232.1 116.3,230.6 113.9,231.1" fill="#e42b25" stroke="#7c1714"/>
<polygon points="109.0,232.5 111.4,231.8 110.0,230.0 107.6,230.7" fill="#e7241e" stroke="#7e1310"/>
<polygon points="148.3,239.3 150.7,239.2 149.3,236.8 146.9,236.9" fill="#f08986" stroke="#6f3f3e"/>
<polygon points="102.7,233.1 105.1,231.7 103.7,230.1 101.3,231.6" fill="#e82721" stroke="#7e1512"/>
<polygon points="91.1,245.3 93.1,240.1 91.8,239.0 89.7,244.0" fill="#eaaba9" stroke="#664a49"/>
<polygon points="96.7,237.2 99.0,233.9 97.6,232.7 95.3,236.0" fill="#e5544f" stroke="#742a28"/>
<polygon points="131.9,233.1 134.4,232.3 132.9,231.0 130.5,231.8" fill="#e3312c" stroke="#7a1a17"/>
<polygon points="125.6,233.4 128.0,232.6 126.5,231.3 124.1,232.1" fill="#e3312b" stroke="#7a1a17"/>
<polygon points="142.2,235.2 144.6,236.0 143.1,234.0 140.8,233.0" fill="#d94e4a" stroke="#702826"/>
<polygon points="119.2,233.5 121.6,232.8 120.2,231.5 117.7,232.1" fill="#e32f29" stroke="#7b1916"/>
<polygon points="112.9,233.4 115.3,232.7 113.9,231.1 111.4,231.8" fill="#e52924" stroke="#7d1613"/>
<polygon points="135.9,233.9 138.3,233.0 136.9,231.5 134.4,232.3" fill="#e8352f" stroke="#7c1c19"/>
<polygon points="106.6,233.4 109.0,232.5 107.6,230.7 105.1,231.7" fill="#e8251f" stroke="#7f1411"/>
<polygon points="89.1,251.6 91.1,245.3 89.7,244.0 87.8,250.1" fill="#efdbdb" stroke="#5e5656"/>
<polygon points="100.4,235.3 102.7,233.1 101.3,231.6 99.0,233.9" fill="#e83732" stroke="#7b1d1a"/>
<polygon points="94.5,241.4 96.7,237.2 95.3,236.0 93.1,240.1" fill="#e77a77" stroke="#6e3a38"/>
<polygon points="146.0,238.7 148.3,239.3 146.9,236.9 144.6,236.0" fill="#e37470" stroke="#6e3836"/>
<polygon points="129.5,233.9 131.9,233.1 130.5,231.8 128.0,232.6" fill="#e3312c" stroke="#7a1a17"/>
<polygon points="123.1,234.2 125.6,233.4 124.1,232.1 121.6,232.8" fill="#e3312b" stroke="#7a1a17"/>
<polygon points="139.8,235.2 142.2,235.2 140.8,233.0 138.3,233.0" fill="#e5423d" stroke="#782220"/>
<polygon points="116.8,234.3 119.2,233.5 117.7,232.1 115.3,232.7" fill="#e42e28" stroke="#7b1815"/>
<polygon points="149.7,242.4 152.1,242.1 150.7,239.2 148.3,239.3" fill="#f59d9a" stroke="#6c4544"/>
<polygon points="110.5,234.2 112.9,233.4 111.4,231.8 109.0,232.5" fill="#e62923" stroke="#7d1613"/>
<polygon points="133.4,234.7 135.9,233.9 134.4,232.3 131.9,233.1" fill="#e8352f" stroke="#7c1c19"/>
<polygon points="104.2,234.7 106.6,233.4 105.1,231.7 102.7,233.1" fill="#ea2b25" stroke="#7f1714"/>
<polygon points="98.1,238.5 100.4,235.3 99.0,233.9 96.7,237.2" fill="#e7534e" stroke="#752a27"/>
<polygon points="92.4,246.6 94.5,241.4 93.1,240.1 91.1,245.3" fill="#eaa8a6" stroke="#664948"/>
<polygon points="143.6,238.0 146.0,238.7 144.6,236.0 142.2,235.2" fill="#e1605c" stroke="#70302e"/>
<polygon points="127.0,234.7 129.5,233.9 128.0,232.6 125.6,233.4" fill="#e3312c" stroke="#7a1a17"/>
<polygon points="120.7,234.9 123.1,234.2 121.6,232.8 119.2,233.5" fill="#e3302a" stroke="#7a1916"/>
<polygon points="137.3,236.1 139.8,235.2 138.3,233.0 135.9,233.9" fill="#ee3f3a" stroke="#7c211e"/>
<polygon points="114.3,235.0 116.8,234.3 115.3,232.7 112.9,233.4" fill="#e52d27" stroke="#7c1815"/>
<polygon points="147.3,242.0 149.7,242.4 148.3,239.3 146.0,238.7" fill="#ea8b88" stroke="#6c403f"/>
<polygon points="108.0,235.0 110.5,234.2 109.0,232.5 106.6,233.4" fill="#e72a24" stroke="#7d1613"/>
<polygon points="101.8,236.9 104.2,234.7 102.7,233.1 100.4,235.3" fill="#ea3a34" stroke="#7c1e1b"/>
<polygon points="131.0,235.5 133.4,234.7 131.9,233.1 129.5,233.9" fill="#e8352f" stroke="#7c1c19"/>
<polygon points="90.4,253.1 92.4,246.6 91.1,245.3 89.1,251.6" fill="#eedada" stroke="#5e5656"/>
<polygon points="95.8,242.7 98.1,238.5 96.7,237.2 94.5,241.4" fill="#e87975" stroke="#6f3938"/>
<polygon points="124.6,235.5 127.0,234.7 125.6,233.4 123.1,234.2" fill="#e3312b" stroke="#7a1a17"/>
<polygon points="141.2,238.1 143.6,238.0 142.2,235.2 139.8,235.2" fill="#eb5550" stroke="#772b28"/>
<polygon points="151.0,246.1 153.4,245.6 152.1,242.1 149.7,242.4" fill="#f9b7b5" stroke="#684d4c"/>
<polygon points="118.2,235.7 120.7,234.9 119.2,233.5 116.8,234.3" fill="#e4302a" stroke="#7b1916"/>
<polygon points="134.9,236.9 137.3,236.1 135.9,233.9 133.4,234.7" fill="#ee3f3a" stroke="#7c211e"/>
<polygon points="111.9,235.8 114.3,235.0 112.9,233.4 110.5,234.2" fill="#e52d27" stroke="#7c1815"/>
<polygon points="105.6,236.3 108.0,235.0 106.6,233.4 104.2,234.7" fill="#e92f29" stroke="#7d1916"/>
<polygon points="145.0,241.6 147.3,242.0 146.0,238.7 143.6,238.0" fill="#e97a76" stroke="#6f3a38"/>
<polygon points="99.5,240.0 101.8,236.9 100.4,235.3 98.1,238.5" fill="#e9544f" stroke="#762a28"/>
<polygon points="93.7,248.1 95.8,242.7 94.5,241.4 92.4,246.6" fill="#eba8a6" stroke="#674948"/>
<polygon points="128.5,236.3 131.0,235.5 129.5,233.9 127.0,234.7" fill="#e8352f" stroke="#7c1c19"/>
<polygon points="122.1,236.3 124.6,235.5 123.1,234.2 120.7,234.9" fill="#e3312b" stroke="#7a1a17"/>
<polygon points="138.7,239.0 141.2,238.1 139.8,235.2 137.3,236.1" fill="#f0524d" stroke="#7a2927"/>
<polygon points="115.8,236.5 118.2,235.7 116.8,234.3 114.3,235.0" fill="#e42f29" stroke="#7b1916"/>
<polygon points="148.6,246.0 151.0,246.1 149.7,242.4 147.3,242.0" fill="#f2a9a7" stroke="#694948"/>
<polygon points="109.5,236.6 111.9,235.8 110.5,234.2 108.0,235.0" fill="#e62d28" stroke="#7c1815"/>
<polygon points="132.4,237.7 134.9,236.9 133.4,234.7 131.0,235.5" fill="#ee3f3a" stroke="#7c211e"/>
<polygon points="103.2,238.4 105.6,236.3 104.2,234.7 101.8,236.9" fill="#ea3c37" stroke="#7b1f1d"/>
<polygon points="97.2,244.2 99.5,240.0 98.1,238.5 95.8,242.7" fill="#e97976" stroke="#6f3938"/>
<polygon points="91.7,254.6 93.7,248.1 92.4,246.6 90.4,253.1" fill="#efdada" stroke="#5e5656"/>
<polygon points="142.5,241.8 145.0,241.6 143.6,238.0 141.2,238.1" fill="#ef716d" stroke="#733634"/>
<polygon points="126.1,237.1 128.5,236.3 127.0,234.7 124.6,235.5" fill="#e8342f" stroke="#7c1b19"/>
<polygon points="152.2,250.4 154.6,249.7 153.4,245.6 151.0,246.1" fill="#fdd5d3" stroke="#645453"/>
<polygon points="119.7,237.1 122.1,236.3 120.7,234.9 118.2,235.7" fill="#e3302b" stroke="#7a1917"/>
<polygon points="136.3,239.8 138.7,239.0 137.3,236.1 134.9,236.9" fill="#f0524d" stroke="#7a2927"/>
<polygon points="113.3,237.3 115.8,236.5 114.3,235.0 111.9,235.8" fill="#e42f29" stroke="#7b1916"/>
<polygon points="146.2,245.9 148.6,246.0 147.3,242.0 145.0,241.6" fill="#f09c99" stroke="#6b4544"/>
<polygon points="107.0,237.8 109.5,236.6 108.0,235.0 105.6,236.3" fill="#e8312c" stroke="#7c1a17"/>
<polygon points="130.0,238.6 132.4,237.7 131.0,235.5 128.5,236.3" fill="#ee3f3a" stroke="#7c211e"/>
<polygon points="100.9,241.5 103.2,238.4 101.8,236.9 99.5,240.0" fill="#e95551" stroke="#762b29"/>
<polygon points="95.1,249.5 97.2,244.2 95.8,242.7 93.7,248.1" fill="#eba8a6" stroke="#674948"/>
<polygon points="140.1,242.7 142.5,241.8 141.2,238.1 138.7,239.0" fill="#f46f6b" stroke="#753533"/>
<polygon points="123.6,237.9 126.1,237.1 124.6,235.5 122.1,236.3" fill="#e8342f" stroke="#7c1b19"/>
<polygon points="149.8,250.7 152.2,250.4 151.0,246.1 148.6,246.0" fill="#f9cccb" stroke="#645252"/>
<polygon points="117.2,237.9 119.7,237.1 118.2,235.7 115.8,236.5" fill="#e4302b" stroke="#7b1917"/>
<polygon points="133.8,240.7 136.3,239.8 134.9,236.9 132.4,237.7" fill="#f0524d" stroke="#7a2927"/>
<polygon points="110.9,238.1 113.3,237.3 111.9,235.8 109.5,236.6" fill="#e52f2a" stroke="#7b1916"/>
<polygon points="104.6,239.8 107.0,237.8 105.6,236.3 103.2,238.4" fill="#ea3e39" stroke="#7b201e"/>
<polygon points="143.8,246.4 146.2,245.9 145.0,241.6 142.5,241.8" fill="#f49592" stroke="#6e4341"/>
<polygon points="98.6,245.6 100.9,241.5 99.5,240.0 97.2,244.2" fill="#e97a76" stroke="#6f3a38"/>
<polygon points="153.3,255.4 155.8,254.5 154.6,249.7 152.2,250.4" fill="#fff3f3" stroke="#5e5959"/>
<polygon points="127.5,239.4 130.0,238.6 128.5,236.3 126.1,237.1" fill="#ee3f3a" stroke="#7c211e"/>
<polygon points="93.0,256.1 95.1,249.5 93.7,248.1 91.7,254.6" fill="#efdada" stroke="#5e5656"/>
<polygon points="121.1,238.8 123.6,237.9 122.1,236.3 119.7,237.1" fill="#e8342f" stroke="#7c1b19"/>
<polygon points="137.6,243.6 140.1,242.7 138.7,239.0 136.3,239.8" fill="#f46f6b" stroke="#753533"/>
<polygon points="147.4,251.1 149.8,250.7 148.6,246.0 146.2,245.9" fill="#f7c3c2" stroke="#65504f"/>
<polygon points="114.8,238.7 117.2,237.9 115.8,236.5 113.3,237.3" fill="#e4302b" stroke="#7b1917"/>
<polygon points="131.4,241.5 133.8,240.7 132.4,237.7 130.0,238.6" fill="#f0524d" stroke="#7a2927"/>
<polygon points="108.5,239.2 110.9,238.1 109.5,236.6 107.0,237.8" fill="#e7332d" stroke="#7c1b18"/>
<polygon points="102.3,242.9 104.6,239.8 103.2,238.4 100.9,241.5" fill="#e95652" stroke="#762b29"/>
<polygon points="96.4,251.0 98.6,245.6 97.2,244.2 95.1,249.5" fill="#eba8a6" stroke="#674948"/>
<polygon points="141.4,247.2 143.8,246.4 142.5,241.8 140.1,242.7" fill="#f69390" stroke="#6f4241"/>
<polygon points="125.0,240.2 127.5,239.4 126.1,237.1 123.6,237.9" fill="#ee3f3a" stroke="#7c211e"/>
<polygon points="150.9,256.3 153.3,255.4 152.2,250.4 149.8,250.7" fill="#fff0f0" stroke="#5e5959"/>
<polygon points="118.7,239.6 121.1,238.8 119.7,237.1 117.2,237.9" fill="#e8342f" stroke="#7c1b19"/>
<polygon points="135.2,244.4 137.6,243.6 136.3,239.8 133.8,240.7" fill="#f46f6b" stroke="#753533"/>
<polygon points="112.3,239.5 114.8,238.7 113.3,237.3 110.9,238.1" fill="#e4302b" stroke="#7b1917"/>
<polygon points="145.0,251.8 147.4,251.1 146.2,245.9 143.8,246.4" fill="#f8bfbd" stroke="#674f4e"/>
<polygon points="106.0,241.3 108.5,239.2 107.0,237.8 104.6,239.8" fill="#ea3f3a" stroke="#7b211e"/>
<polygon points="128.9,242.4 131.4,241.5 130.0,238.6 127.5,239.4" fill="#f0524d" stroke="#7a2927"/>
<polygon points="99.9,247.1 102.3,242.9 100.9,241.5 98.6,245.6" fill="#e97a77" stroke="#6f3a38"/>
<polygon points="94.3,257.6 96.4,251.0 95.1,249.5 93.0,256.1" fill="#efdada" stroke="#5e5656"/>
<polygon points="138.9,248.1 141.4,247.2 140.1,242.7 137.6,243.6" fill="#f69390" stroke="#6f4241"/>
<polygon points="122.6,241.1 125.0,240.2 123.6,237.9 121.1,238.8" fill="#ee3f3a" stroke="#7c211e"/>
<polygon points="148.5,257.2 150.9,256.3 149.8,250.7 147.4,251.1" fill="#fdeded" stroke="#5f5959"/>
<polygon points="116.2,240.4 118.7,239.6 117.2,237.9 114.8,238.7" fill="#e8342f" stroke="#7c1b19"/>
<polygon points="132.7,245.3 135.2,244.4 133.8,240.7 131.4,241.5" fill="#f46f6b" stroke="#753533"/>
<polygon points="109.9,240.6 112.3,239.5 110.9,238.1 108.5,239.2" fill="#e7342e" stroke="#7b1b18"/>
<polygon points="142.5,252.6 145.0,251.8 143.8,246.4 141.4,247.2" fill="#fabebd" stroke="#674e4e"/>
<polygon points="103.6,244.3 106.0,241.3 104.6,239.8 102.3,242.9" fill="#e95752" stroke="#762c29"/>
<polygon points="126.4,243.2 128.9,242.4 127.5,239.4 125.0,240.2" fill="#f0524d" stroke="#7a2927"/>
<polygon points="97.7,252.4 99.9,247.1 98.6,245.6 96.4,251.0" fill="#eba8a6" stroke="#674948"/>
<polygon points="120.1,241.9 122.6,241.1 121.1,238.8 118.7,239.6" fill="#ee3f3a" stroke="#7c211e"/>
<polygon points="136.5,249.0 138.9,248.1 137.6,243.6 135.2,244.4" fill="#f69390" stroke="#6f4241"/>
<polygon points="146.1,258.1 148.5,257.2 147.4,251.1 145.0,251.8" fill="#fdebeb" stroke="#5f5858"/>
<polygon points="113.8,241.2 116.2,240.4 114.8,238.7 112.3,239.5" fill="#e8342f" stroke="#7c1b19"/>
<polygon points="130.3,246.1 132.7,245.3 131.4,241.5 128.9,242.4" fill="#f46f6b" stroke="#753533"/>
<polygon points="107.4,242.7 109.9,240.6 108.5,239.2 106.0,241.3" fill="#e93f3a" stroke="#7a211e"/>
<polygon points="101.3,248.5 103.6,244.3 102.3,242.9 99.9,247.1" fill="#e97a77" stroke="#6f3a38"/>
<polygon points="140.1,253.5 142.5,252.6 141.4,247.2 138.9,248.1" fill="#fabebd" stroke="#674e4e"/>
<polygon points="95.6,259.0 97.7,252.4 96.4,251.0 94.3,257.6" fill="#efdada" stroke="#5e5656"/>
<polygon points="124.0,244.1 126.4,243.2 125.0,240.2 122.6,241.1" fill="#f0524d" stroke="#7a2927"/>
<polygon points="117.6,242.7 120.1,241.9 118.7,239.6 116.2,240.4" fill="#ee3f3a" stroke="#7c211e"/>
<polygon points="134.0,249.8 136.5,249.0 135.2,244.4 132.7,245.3" fill="#f69390" stroke="#6f4241"/>
<polygon points="143.6,259.0 146.1,258.1 145.0,251.8 142.5,252.6" fill="#fdebea" stroke="#5f5858"/>
<polygon points="111.3,242.4 113.8,241.2 112.3,239.5 109.9,240.6" fill="#eb3732" stroke="#7d1d1a"/>
<polygon points="127.8,247.0 130.3,246.1 128.9,242.4 126.4,243.2" fill="#f46f6b" stroke="#753533"/>
<polygon points="105.0,245.8 107.4,242.7 106.0,241.3 103.6,244.3" fill="#e95752" stroke="#762c29"/>
<polygon points="99.1,253.9 101.3,248.5 99.9,247.1 97.7,252.4" fill="#eba8a6" stroke="#674948"/>
<polygon points="137.7,254.4 140.1,253.5 138.9,248.1 136.5,249.0" fill="#fabebd" stroke="#674e4e"/>
<polygon points="121.5,244.9 124.0,244.1 122.6,241.1 120.1,241.9" fill="#f0524d" stroke="#7a2927"/>
<polygon points="115.2,243.6 117.6,242.7 116.2,240.4 113.8,241.2" fill="#ee3f3a" stroke="#7c211e"/>
<polygon points="131.6,250.7 134.0,249.8 132.7,245.3 130.3,246.1" fill="#f69390" stroke="#6f4241"/>
<polygon points="108.9,244.4 111.3,242.4 109.9,240.6 107.4,242.7" fill="#ed433e" stroke="#7b2220"/>
<polygon points="141.2,259.9 143.6,259.0 142.5,252.6 140.1,253.5" fill="#fdebea" stroke="#5f5858"/>
<polygon points="102.7,250.0 105.0,245.8 103.6,244.3 101.3,248.5" fill="#e97a77" stroke="#6f3a38"/>
<polygon points="125.3,247.9 127.8,247.0 126.4,243.2 124.0,244.1" fill="#f46f6b" stroke="#753533"/>
<polygon points="96.9,260.5 99.1,253.9 97.7,252.4 95.6,259.0" fill="#efdada" stroke="#5e5656"/>
<polygon points="135.2,255.3 137.7,254.4 136.5,249.0 134.0,249.8" fill="#fabebd" stroke="#674e4e"/>
<polygon points="119.1,245.8 121.5,244.9 120.1,241.9 117.6,242.7" fill="#f0524d" stroke="#7a2927"/>
<polygon points="112.7,244.7 115.2,243.6 113.8,241.2 111.3,242.4" fill="#ee423c" stroke="#7c221f"/>
<polygon points="129.1,251.6 131.6,250.7 130.3,246.1 127.8,247.0" fill="#f69390" stroke="#6f4241"/>
<polygon points="106.4,247.5 108.9,244.4 107.4,242.7 105.0,245.8" fill="#ec5a56" stroke="#762d2b"/>
<polygon points="138.8,260.8 141.2,259.9 140.1,253.5 137.7,254.4" fill="#fdebea" stroke="#5f5858"/>
<polygon points="100.4,255.4 102.7,250.0 101.3,248.5 99.1,253.9" fill="#eba8a6" stroke="#674948"/>
<polygon points="122.9,248.7 125.3,247.9 124.0,244.1 121.5,244.9" fill="#f46f6b" stroke="#753533"/>
<polygon points="116.6,246.6 119.1,245.8 117.6,242.7 115.2,243.6" fill="#f0524d" stroke="#7a2927"/>
<polygon points="132.8,256.2 135.2,255.3 134.0,249.8 131.6,250.7" fill="#fabebd" stroke="#674e4e"/>
<polygon points="110.3,246.7 112.7,244.7 111.3,242.4 108.9,244.4" fill="#f04c47" stroke="#7b2724"/>
<polygon points="126.7,252.5 129.1,251.6 127.8,247.0 125.3,247.9" fill="#f69390" stroke="#6f4241"/>
<polygon points="104.1,251.6 106.4,247.5 105.0,245.8 102.7,250.0" fill="#eb7d7a" stroke="#6f3b39"/>
<polygon points="98.2,262.0 100.4,255.4 99.1,253.9 96.9,260.5" fill="#efdada" stroke="#5e5656"/>
<polygon points="136.4,261.7 138.8,260.8 137.7,254.4 135.2,255.3" fill="#fdebea" stroke="#5f5858"/>
<polygon points="120.4,249.6 122.9,248.7 121.5,244.9 119.1,245.8" fill="#f46f6b" stroke="#753533"/>
<polygon points="114.1,247.7 116.6,246.6 115.2,243.6 112.7,244.7" fill="#f1544f" stroke="#7a2a28"/>
<polygon points="130.4,257.1 132.8,256.2 131.6,250.7 129.1,251.6" fill="#fabebd" stroke="#674e4e"/>
<polygon points="107.8,249.6 110.3,246.7 108.9,244.4 106.4,247.5" fill="#f1645f" stroke="#76312e"/>
<polygon points="101.7,256.9 104.1,251.6 102.7,250.0 100.4,255.4" fill="#ecaaa8" stroke="#674a49"/>
<polygon points="124.2,253.3 126.7,252.5 125.3,247.9 122.9,248.7" fill="#f69390" stroke="#6f4241"/>
<polygon points="133.9,262.6 136.4,261.7 135.2,255.3 132.8,256.2" fill="#fdebea" stroke="#5f5858"/>
<polygon points="118.0,250.4 120.4,249.6 119.1,245.8 116.6,246.6" fill="#f46f6b" stroke="#753533"/>
<polygon points="111.7,249.6 114.1,247.7 112.7,244.7 110.3,246.7" fill="#f25e5a" stroke="#782e2c"/>
<polygon points="127.9,257.9 130.4,257.1 129.1,251.6 126.7,252.5" fill="#fabebd" stroke="#674e4e"/>
<polygon points="105.4,253.6 107.8,249.6 106.4,247.5 104.1,251.6" fill="#f08581" stroke="#6f3e3c"/>
<polygon points="99.5,263.5 101.7,256.9 100.4,255.4 98.2,262.0" fill="#efdbda" stroke="#5e5656"/>
<polygon points="121.8,254.2 124.2,253.3 122.9,248.7 120.4,249.6" fill="#f69390" stroke="#6f4241"/>
<polygon points="131.5,263.4 133.9,262.6 132.8,256.2 130.4,257.1" fill="#fdebea" stroke="#5f5858"/>
<polygon points="115.5,251.5 118.0,250.4 116.6,246.6 114.1,247.7" fill="#f4716d" stroke="#753634"/>
<polygon points="109.2,252.4 111.7,249.6 110.3,246.7 107.8,249.6" fill="#f57470" stroke="#753735"/>
<polygon points="125.5,258.8 127.9,257.9 126.7,252.5 124.2,253.3" fill="#fabebd" stroke="#674e4e"/>
<polygon points="103.1,258.7 105.4,253.6 104.1,251.6 101.7,256.9" fill="#efafad" stroke="#674b4a"/>
<polygon points="119.3,255.1 121.8,254.2 120.4,249.6 118.0,250.4" fill="#f69390" stroke="#6f4241"/>
<polygon points="113.0,253.2 115.5,251.5 114.1,247.7 111.7,249.6" fill="#f57975" stroke="#743937"/>
<polygon points="129.1,264.3 131.5,263.4 130.4,257.1 127.9,257.9" fill="#fdebea" stroke="#5f5858"/>
<polygon points="106.8,256.0 109.2,252.4 107.8,249.6 105.4,253.6" fill="#f5938f" stroke="#6e4240"/>
<polygon points="123.0,259.7 125.5,258.8 124.2,253.3 121.8,254.2" fill="#fabebd" stroke="#674e4e"/>
<polygon points="100.8,265.0 103.1,258.7 101.7,256.9 99.5,263.5" fill="#f0dddc" stroke="#5e5656"/>
<polygon points="116.9,256.1 119.3,255.1 118.0,250.4 115.5,251.5" fill="#f89592" stroke="#6f4341"/>
<polygon points="110.6,255.7 113.0,253.2 111.7,249.6 109.2,252.4" fill="#f88b87" stroke="#713f3d"/>
<polygon points="126.7,265.2 129.1,264.3 127.9,257.9 125.5,258.8" fill="#fdebea" stroke="#5f5858"/>
<polygon points="104.4,260.7 106.8,256.0 105.4,253.6 103.1,258.7" fill="#f3b8b6" stroke="#664d4c"/>
<polygon points="120.6,260.6 123.0,259.7 121.8,254.2 119.3,255.1" fill="#fabebd" stroke="#674e4e"/>
<polygon points="114.4,257.6 116.9,256.1 115.5,251.5 113.0,253.2" fill="#fa9c99" stroke="#6e4543"/>
<polygon points="108.2,258.9 110.6,255.7 109.2,252.4 106.8,256.0" fill="#fba7a4" stroke="#6d4847"/>
<polygon points="124.3,266.1 126.7,265.2 125.5,258.8 123.0,259.7" fill="#fdebea" stroke="#5f5858"/>
<polygon points="102.1,266.5 104.4,260.7 103.1,258.7 100.8,265.0" fill="#f2e0e0" stroke="#5e5757"/>
<polygon points="118.2,261.6 120.6,260.6 119.3,255.1 116.9,256.1" fill="#fac0be" stroke="#674f4e"/>
<polygon points="112.0,259.7 114.4,257.6 113.0,253.2 110.6,255.7" fill="#fbaaa7" stroke="#6c4948"/>
<polygon points="105.8,263.0 108.2,258.9 106.8,256.0 104.4,260.7" fill="#f9c6c4" stroke="#655150"/>
<polygon points="121.8,267.0 124.3,266.1 123.0,259.7 120.6,260.6" fill="#fdebea" stroke="#5f5858"/>
<polygon points="115.7,262.8 118.2,261.6 116.9,256.1 114.4,257.6" fill="#fdc5c3" stroke="#67504f"/>
<polygon points="109.5,262.3 112.0,259.7 110.6,255.7 108.2,258.9" fill="#febebc" stroke="#694e4d"/>
<polygon points="103.4,267.9 105.8,263.0 104.4,260.7 102.1,266.5" fill="#f6e6e5" stroke="#5e5857"/>
<polygon points="119.4,267.9 121.8,267.0 120.6,260.6 118.2,261.6" fill="#fdebeb" stroke="#5f5858"/>
<polygon points="113.3,264.3 115.7,262.8 114.4,257.6 112.0,259.7" fill="#ffcecd" stroke="#665252"/>
<polygon points="107.1,265.5 109.5,262.3 108.2,258.9 105.8,263.0" fill="#ffd8d7" stroke="#645454"/>
<polygon points="117.0,268.8 119.4,267.9 118.2,261.6 115.7,262.8" fill="#ffeded" stroke="#5f5858"/>
<polygon points="110.8,266.2 113.3,264.3 112.0,259.7 109.5,262.3" fill="#ffdbda" stroke="#635554"/>
<polygon points="104.7,269.4 107.1,265.5 105.8,263.0 103.4,267.9" fill="#fbeeee" stroke="#5e5959"/>
<polygon points="114.6,269.7 117.0,268.8 115.7,262.8 113.3,264.3" fill="#fff1f1" stroke="#5e5959"/>
<polygon points="108.4,268.4 110.8,266.2 109.5,262.3 107.1,265.5" fill="#ffebea" stroke="#605858"/>
<polygon points="112.1,270.6 114.6,269.7 113.3,264.3 110.8,266.2" fill="#fff8f7" stroke="#5d5a5a"/>
<polygon points="106.0,270.9 108.4,268.4 107.1,265.5 104.7,269.4" fill="#fffaf9" stroke="#5c5b5a"/>
<polygon points="109.7,271.5 112.1,270.6 110.8,266.2 108.4,268.4" fill="#fffdfd" stroke="#5c5b5b"/>
<polygon points="107.3,272.4 109.7,271.5 108.4,268.4 106.0,270.9" fill="#ffffff" stroke="#5b5b5b"/>
</g>
<text x="76.25" y="225.80" font-size="7.7" text-anchor="end" font-weight="normal" fill="#333" color="#333" >30</text>
<text x="76.25" y="247.50" font-size="7.7" text-anchor="end" font-weight="normal" fill="#333" color="#333" >0</text>
<text x="76.25" y="263.75" font-size="7.7" text-anchor="end" font-weight="normal" fill="#333" color="#333" >−30</text>
<text transform="translate(50.75,244.40) rotate(-90)" x="0" y="3.31" font-size="9.2" text-anchor="middle" fill="#222" color="#222" textLength="17.2" lengthAdjust="spacingAndGlyphs">Score</text>
<text x="73.65" y="273.00" font-size="7.7" text-anchor="middle" font-weight="normal" fill="#333" color="#333" >2.5</text>
<text x="80.70" y="280.30" font-size="7.7" text-anchor="middle" font-weight="normal" fill="#333" color="#333" >1</text>
<text x="87.00" y="291.00" font-size="7.7" text-anchor="middle" font-weight="normal" fill="#333" color="#333" >0.5</text>
<text x="94.30" y="301.70" font-size="7.7" text-anchor="middle" font-weight="normal" fill="#333" color="#333" >0.25</text>
<text x="119.20" y="303.60" font-size="7.7" text-anchor="middle" font-weight="normal" fill="#333" color="#333" >0.05</text>
<text x="133.60" y="299.60" font-size="7.7" text-anchor="middle" font-weight="normal" fill="#333" color="#333" >0.1</text>
<text x="148.30" y="295.60" font-size="7.7" text-anchor="middle" font-weight="normal" fill="#333" color="#333" >0.2</text>
<text x="160.90" y="291.50" font-size="7.7" text-anchor="middle" font-weight="normal" fill="#333" color="#333" >0.5</text>
<text transform="translate(69.30,292.50) rotate(57)" x="0" y="3.60" font-size="10.0" text-anchor="middle" fill="#222" color="#222" textLength="29" lengthAdjust="spacingAndGlyphs">EPZ (μM)</text>
<text transform="translate(150.00,313.00) rotate(-26)" x="0" y="3.60" font-size="10.0" text-anchor="middle" fill="#222" color="#222" textLength="29" lengthAdjust="spacingAndGlyphs">AZA (μM)</text>
<line x1="225.40" y1="221.25" x2="272.90" y2="208.75" stroke="#6e6e6e" stroke-width="0.7" />
<line x1="272.90" y1="208.75" x2="304.10" y2="232.00" stroke="#6e6e6e" stroke-width="0.7" />
<line x1="304.10" y1="232.00" x2="253.50" y2="250.00" stroke="#6e6e6e" stroke-width="0.7" />
<line x1="253.50" y1="250.00" x2="225.40" y2="221.25" stroke="#6e6e6e" stroke-width="0.7" />
<line x1="229.60" y1="264.20" x2="253.50" y2="294.80" stroke="#6e6e6e" stroke-width="0.7" />
<line x1="253.50" y1="294.80" x2="299.80" y2="277.00" stroke="#6e6e6e" stroke-width="0.7" />
<line x1="229.60" y1="264.20" x2="271.90" y2="250.50" stroke="#999" stroke-width="0.55" stroke-dasharray="1,1"/>
<line x1="271.90" y1="250.50" x2="299.80" y2="277.00" stroke="#999" stroke-width="0.55" stroke-dasharray="1,1"/>
<line x1="225.40" y1="221.25" x2="229.60" y2="264.20" stroke="#6e6e6e" stroke-width="0.7" />
<line x1="304.10" y1="232.00" x2="299.80" y2="277.00" stroke="#6e6e6e" stroke-width="0.7" />
<line x1="253.50" y1="250.00" x2="253.50" y2="294.80" stroke="#6e6e6e" stroke-width="0.7" />
<line x1="272.90" y1="208.75" x2="271.90" y2="250.50" stroke="#aaa" stroke-width="0.55" stroke-dasharray="1.5,1"/>
<g stroke-width="0.55">
<polygon points="271.9,217.5 274.2,217.9 272.7,216.7 270.4,216.2" fill="#da5a56" stroke="#6f2d2b"/>
<polygon points="269.6,215.7 271.9,217.5 270.4,216.2 268.1,214.5" fill="#c63d39" stroke="#6a201e"/>
<polygon points="273.5,218.7 275.8,219.1 274.2,217.9 271.9,217.5" fill="#db5b57" stroke="#6f2e2c"/>
<polygon points="267.3,213.9 269.6,215.7 268.1,214.5 265.8,212.7" fill="#c31f19" stroke="#6e110e"/>
<polygon points="271.1,217.0 273.5,218.7 271.9,217.5 269.6,215.7" fill="#c73e3a" stroke="#6b211f"/>
<polygon points="264.9,213.5 267.3,213.9 265.8,212.7 263.4,212.2" fill="#d31f1a" stroke="#76110e"/>
<polygon points="275.0,219.8 277.3,220.2 275.8,219.1 273.5,218.7" fill="#d95a56" stroke="#6e2d2b"/>
<polygon points="268.8,215.2 271.1,217.0 269.6,215.7 267.3,213.9" fill="#c31f1a" stroke="#6e110e"/>
<polygon points="262.5,214.1 264.9,213.5 263.4,212.2 261.0,212.8" fill="#e1211b" stroke="#7c120e"/>
<polygon points="272.7,218.2 275.0,219.8 273.5,218.7 271.1,217.0" fill="#c63e3a" stroke="#6a211f"/>
<polygon points="266.5,214.8 268.8,215.2 267.3,213.9 264.9,213.5" fill="#d41f1a" stroke="#76110e"/>
<polygon points="260.2,214.7 262.5,214.1 261.0,212.8 258.7,213.5" fill="#e1211b" stroke="#7c120e"/>
<polygon points="276.5,220.7 278.8,221.0 277.3,220.2 275.0,219.8" fill="#d55551" stroke="#6d2b29"/>
<polygon points="270.3,216.5 272.7,218.2 271.1,217.0 268.8,215.2" fill="#c4201b" stroke="#6e120f"/>
<polygon points="264.1,215.4 266.5,214.8 264.9,213.5 262.5,214.1" fill="#e2221c" stroke="#7c120f"/>
<polygon points="257.8,215.4 260.2,214.7 258.7,213.5 256.3,214.1" fill="#e1211b" stroke="#7c120e"/>
<polygon points="274.2,219.3 276.5,220.7 275.0,219.8 272.7,218.2" fill="#c63c38" stroke="#6b201e"/>
<polygon points="268.0,216.1 270.3,216.5 268.8,215.2 266.5,214.8" fill="#d41f1a" stroke="#76110e"/>
<polygon points="255.4,216.0 257.8,215.4 256.3,214.1 253.9,214.7" fill="#e1211b" stroke="#7c120e"/>
<polygon points="261.7,216.1 264.1,215.4 262.5,214.1 260.2,214.7" fill="#e2221c" stroke="#7c120f"/>
<polygon points="278.1,221.4 280.4,221.5 278.8,221.0 276.5,220.7" fill="#d24e4a" stroke="#6d2826"/>
<polygon points="271.9,217.8 274.2,219.3 272.7,218.2 270.3,216.5" fill="#c4201b" stroke="#6e120f"/>
<polygon points="265.6,216.8 268.0,216.1 266.5,214.8 264.1,215.4" fill="#e3221c" stroke="#7d120f"/>
<polygon points="253.0,216.7 255.4,216.0 253.9,214.7 251.6,215.3" fill="#e1211b" stroke="#7c120e"/>
<polygon points="259.3,216.7 261.7,216.1 260.2,214.7 257.8,215.4" fill="#e2221c" stroke="#7c120f"/>
<polygon points="275.7,220.2 278.1,221.4 276.5,220.7 274.2,219.3" fill="#c63934" stroke="#6b1e1c"/>
<polygon points="269.5,217.5 271.9,217.8 270.3,216.5 268.0,216.1" fill="#d5201a" stroke="#77110e"/>
<polygon points="250.7,217.3 253.0,216.7 251.6,215.3 249.2,216.0" fill="#e1211b" stroke="#7c120e"/>
<polygon points="263.2,217.5 265.6,216.8 264.1,215.4 261.7,216.1" fill="#e3221c" stroke="#7d120f"/>
<polygon points="256.9,217.4 259.3,216.7 257.8,215.4 255.4,216.0" fill="#e2221c" stroke="#7c120f"/>
<polygon points="279.6,221.9 282.0,221.9 280.4,221.5 278.1,221.4" fill="#d14641" stroke="#6e2522"/>
<polygon points="273.4,219.1 275.7,220.2 274.2,219.3 271.9,217.8" fill="#c6201b" stroke="#6f120f"/>
<polygon points="267.1,218.2 269.5,217.5 268.0,216.1 265.6,216.8" fill="#e3221c" stroke="#7d120f"/>
<polygon points="248.3,217.9 250.7,217.3 249.2,216.0 246.8,216.6" fill="#e1211b" stroke="#7c120e"/>
<polygon points="260.8,218.1 263.2,217.5 261.7,216.1 259.3,216.7" fill="#e3221c" stroke="#7d120f"/>
<polygon points="254.5,218.0 256.9,217.4 255.4,216.0 253.0,216.7" fill="#e2221c" stroke="#7c120f"/>
<polygon points="277.3,221.1 279.6,221.9 278.1,221.4 275.7,220.2" fill="#c7342f" stroke="#6c1c19"/>
<polygon points="271.0,218.9 273.4,219.1 271.9,217.8 269.5,217.5" fill="#d7201a" stroke="#78110e"/>
<polygon points="245.9,218.6 248.3,217.9 246.8,216.6 244.4,217.2" fill="#e1211b" stroke="#7c120e"/>
<polygon points="264.7,218.9 267.1,218.2 265.6,216.8 263.2,217.5" fill="#e3221c" stroke="#7d120f"/>
<polygon points="252.1,218.7 254.5,218.0 253.0,216.7 250.7,217.3" fill="#e2221c" stroke="#7c120f"/>
<polygon points="258.4,218.8 260.8,218.1 259.3,216.7 256.9,217.4" fill="#e3221c" stroke="#7d120f"/>
<polygon points="281.2,222.4 283.6,222.2 282.0,221.9 279.6,221.9" fill="#d03c37" stroke="#6f201d"/>
<polygon points="274.9,220.3 277.3,221.1 275.7,220.2 273.4,219.1" fill="#c91f19" stroke="#71110e"/>
<polygon points="268.6,219.6 271.0,218.9 269.5,217.5 267.1,218.2" fill="#e3221c" stroke="#7d120f"/>
<polygon points="243.5,219.2 245.9,218.6 244.4,217.2 242.1,217.9" fill="#e1211b" stroke="#7c120e"/>
<polygon points="262.3,219.5 264.7,218.9 263.2,217.5 260.8,218.1" fill="#e3221c" stroke="#7d120f"/>
<polygon points="249.8,219.4 252.1,218.7 250.7,217.3 248.3,217.9" fill="#e2221c" stroke="#7c120f"/>
<polygon points="256.0,219.5 258.4,218.8 256.9,217.4 254.5,218.0" fill="#e3221c" stroke="#7d120f"/>
<polygon points="278.8,221.9 281.2,222.4 279.6,221.9 277.3,221.1" fill="#ca2e29" stroke="#6f1916"/>
<polygon points="272.5,220.3 274.9,220.3 273.4,219.1 271.0,218.9" fill="#d9201a" stroke="#79110e"/>
<polygon points="241.2,219.9 243.5,219.2 242.1,217.9 239.7,218.5" fill="#e1211b" stroke="#7c120e"/>
<polygon points="266.2,220.3 268.6,219.6 267.1,218.2 264.7,218.9" fill="#e3221c" stroke="#7d120f"/>
<polygon points="247.4,220.0 249.8,219.4 248.3,217.9 245.9,218.6" fill="#e2221c" stroke="#7c120f"/>
<polygon points="259.9,220.2 262.3,219.5 260.8,218.1 258.4,218.8" fill="#e3221c" stroke="#7d120f"/>
<polygon points="253.6,220.1 256.0,219.5 254.5,218.0 252.1,218.7" fill="#e3221c" stroke="#7d120f"/>
<polygon points="282.7,222.8 285.1,222.5 283.6,222.2 281.2,222.4" fill="#d0322d" stroke="#711b18"/>
<polygon points="276.5,221.5 278.8,221.9 277.3,221.1 274.9,220.3" fill="#cd1e19" stroke="#73100e"/>
<polygon points="270.1,221.0 272.5,220.3 271.0,218.9 268.6,219.6" fill="#e3221c" stroke="#7d120f"/>
<polygon points="238.8,220.7 241.2,219.9 239.7,218.5 237.4,219.3" fill="#e3221c" stroke="#7d120f"/>
<polygon points="263.8,221.0 266.2,220.3 264.7,218.9 262.3,219.5" fill="#e3221c" stroke="#7d120f"/>
<polygon points="245.0,220.7 247.4,220.0 245.9,218.6 243.5,219.2" fill="#e2221c" stroke="#7c120f"/>
<polygon points="257.5,220.9 259.9,220.2 258.4,218.8 256.0,219.5" fill="#e3221c" stroke="#7d120f"/>
<polygon points="251.2,220.8 253.6,220.1 252.1,218.7 249.8,219.4" fill="#e3221c" stroke="#7d120f"/>
<polygon points="280.4,222.8 282.7,222.8 281.2,222.4 278.8,221.9" fill="#cd2722" stroke="#721512"/>
<polygon points="274.1,221.7 276.5,221.5 274.9,220.3 272.5,220.3" fill="#db201b" stroke="#79110f"/>
<polygon points="236.5,222.4 238.8,220.7 237.4,219.3 235.1,221.0" fill="#e6221c" stroke="#7e120f"/>
<polygon points="267.7,221.7 270.1,221.0 268.6,219.6 266.2,220.3" fill="#e3221c" stroke="#7d120f"/>
<polygon points="242.6,221.3 245.0,220.7 243.5,219.2 241.2,219.9" fill="#e2221c" stroke="#7c120f"/>
<polygon points="261.4,221.7 263.8,221.0 262.3,219.5 259.9,220.2" fill="#e3221c" stroke="#7d120f"/>
<polygon points="248.8,221.5 251.2,220.8 249.8,219.4 247.4,220.0" fill="#e3221c" stroke="#7d120f"/>
<polygon points="255.1,221.6 257.5,220.9 256.0,219.5 253.6,220.1" fill="#e3221c" stroke="#7d120f"/>
<polygon points="284.3,223.3 286.7,222.8 285.1,222.5 282.7,222.8" fill="#d22722" stroke="#741512"/>
<polygon points="278.0,222.7 280.4,222.8 278.8,221.9 276.5,221.5" fill="#d11f19" stroke="#75110e"/>
<polygon points="271.6,222.4 274.1,221.7 272.5,220.3 270.1,221.0" fill="#e3221c" stroke="#7d120f"/>
<polygon points="234.3,225.6 236.5,222.4 235.1,221.0 232.9,224.1" fill="#e22620" stroke="#7c1411"/>
<polygon points="265.3,222.4 267.7,221.7 266.2,220.3 263.8,221.0" fill="#e3221c" stroke="#7d120f"/>
<polygon points="240.2,222.1 242.6,221.3 241.2,219.9 238.8,220.7" fill="#e4221c" stroke="#7d120f"/>
<polygon points="259.0,222.4 261.4,221.7 259.9,220.2 257.5,220.9" fill="#e3221c" stroke="#7d120f"/>
<polygon points="246.5,222.1 248.8,221.5 247.4,220.0 245.0,220.7" fill="#e3221c" stroke="#7d120f"/>
<polygon points="252.7,222.3 255.1,221.6 253.6,220.1 251.2,220.8" fill="#e3221c" stroke="#7d120f"/>
<polygon points="281.9,223.6 284.3,223.3 282.7,222.8 280.4,222.8" fill="#d1211b" stroke="#75120f"/>
<polygon points="275.6,223.0 278.0,222.7 276.5,221.5 274.1,221.7" fill="#dc211b" stroke="#7a120f"/>
<polygon points="232.3,230.2 234.3,225.6 232.9,224.1 230.9,228.7" fill="#e2524e" stroke="#732a28"/>
<polygon points="269.2,223.1 271.6,222.4 270.1,221.0 267.7,221.7" fill="#e3221c" stroke="#7d120f"/>
<polygon points="237.9,223.9 240.2,222.1 238.8,220.7 236.5,222.4" fill="#e6221c" stroke="#7e120f"/>
<polygon points="262.9,223.1 265.3,222.4 263.8,221.0 261.4,221.7" fill="#e3221c" stroke="#7d120f"/>
<polygon points="244.1,222.8 246.5,222.1 245.0,220.7 242.6,221.3" fill="#e3221c" stroke="#7d120f"/>
<polygon points="256.6,223.1 259.0,222.4 257.5,220.9 255.1,221.6" fill="#e3221c" stroke="#7d120f"/>
<polygon points="250.3,223.0 252.7,222.3 251.2,220.8 248.8,221.5" fill="#e3221c" stroke="#7d120f"/>
<polygon points="285.9,223.9 288.3,223.3 286.7,222.8 284.3,223.3" fill="#d41f1a" stroke="#76110e"/>
<polygon points="279.5,223.8 281.9,223.6 280.4,222.8 278.0,222.7" fill="#d6201a" stroke="#77110e"/>
<polygon points="273.1,223.8 275.6,223.0 274.1,221.7 271.6,222.4" fill="#e3221c" stroke="#7d120f"/>
<polygon points="230.4,236.4 232.3,230.2 230.9,228.7 229.1,234.9" fill="#e58e8b" stroke="#694140"/>
<polygon points="266.8,223.8 269.2,223.1 267.7,221.7 265.3,222.4" fill="#e3221c" stroke="#7d120f"/>
<polygon points="235.7,227.0 237.9,223.9 236.5,222.4 234.3,225.6" fill="#e32721" stroke="#7c1512"/>
<polygon points="260.5,223.8 262.9,223.1 261.4,221.7 259.0,222.4" fill="#e3221c" stroke="#7d120f"/>
<polygon points="241.7,223.6 244.1,222.8 242.6,221.3 240.2,222.1" fill="#e4221c" stroke="#7d120f"/>
<polygon points="254.2,223.8 256.6,223.1 255.1,221.6 252.7,222.3" fill="#e3221c" stroke="#7d120f"/>
<polygon points="247.9,223.6 250.3,223.0 248.8,221.5 246.5,222.1" fill="#e3221c" stroke="#7d120f"/>
<polygon points="283.5,224.4 285.9,223.9 284.3,223.3 281.9,223.6" fill="#d5201a" stroke="#77110e"/>
<polygon points="277.1,224.3 279.5,223.8 278.0,222.7 275.6,223.0" fill="#de211b" stroke="#7b120e"/>
<polygon points="228.8,244.2 230.4,236.4 229.1,234.9 227.5,242.7" fill="#ebd1d0" stroke="#5f5454"/>
<polygon points="270.7,224.5 273.1,223.8 271.6,222.4 269.2,223.1" fill="#e3221c" stroke="#7d120f"/>
<polygon points="233.7,231.6 235.7,227.0 234.3,225.6 232.3,230.2" fill="#e2534f" stroke="#732a28"/>
<polygon points="264.4,224.6 266.8,223.8 265.3,222.4 262.9,223.1" fill="#e3221c" stroke="#7d120f"/>
<polygon points="287.5,224.7 289.9,223.9 288.3,223.3 285.9,223.9" fill="#d8201a" stroke="#78110e"/>
<polygon points="239.4,225.4 241.7,223.6 240.2,222.1 237.9,223.9" fill="#e7221c" stroke="#7f120f"/>
<polygon points="258.1,224.5 260.5,223.8 259.0,222.4 256.6,223.1" fill="#e3221c" stroke="#7d120f"/>
<polygon points="245.5,224.3 247.9,223.6 246.5,222.1 244.1,222.8" fill="#e3221c" stroke="#7d120f"/>
<polygon points="251.8,224.5 254.2,223.8 252.7,222.3 250.3,223.0" fill="#e3221c" stroke="#7d120f"/>
<polygon points="281.0,224.9 283.5,224.4 281.9,223.6 279.5,223.8" fill="#d9201a" stroke="#79110e"/>
<polygon points="274.7,225.1 277.1,224.3 275.6,223.0 273.1,223.8" fill="#e2221c" stroke="#7c120f"/>
<polygon points="268.3,225.2 270.7,224.5 269.2,223.1 266.8,223.8" fill="#e3221c" stroke="#7d120f"/>
<polygon points="231.8,237.8 233.7,231.6 232.3,230.2 230.4,236.4" fill="#e68e8c" stroke="#6a4140"/>
<polygon points="262.0,225.3 264.4,224.6 262.9,223.1 260.5,223.8" fill="#e3221c" stroke="#7d120f"/>
<polygon points="237.1,228.6 239.4,225.4 237.9,223.9 235.7,227.0" fill="#e32923" stroke="#7c1613"/>
<polygon points="255.7,225.3 258.1,224.5 256.6,223.1 254.2,223.8" fill="#e3221c" stroke="#7d120f"/>
<polygon points="243.1,225.1 245.5,224.3 244.1,222.8 241.7,223.6" fill="#e4221c" stroke="#7d120f"/>
<polygon points="285.0,225.4 287.5,224.7 285.9,223.9 283.5,224.4" fill="#da201b" stroke="#79110f"/>
<polygon points="249.4,225.2 251.8,224.5 250.3,223.0 247.9,223.6" fill="#e3221c" stroke="#7d120f"/>
<polygon points="278.6,225.6 281.0,224.9 279.5,223.8 277.1,224.3" fill="#df211b" stroke="#7b120e"/>
<polygon points="272.2,225.8 274.7,225.1 273.1,223.8 270.7,224.5" fill="#e2221c" stroke="#7c120f"/>
<polygon points="289.0,225.7 291.5,224.9 289.9,223.9 287.5,224.7" fill="#de211b" stroke="#7b120e"/>
<polygon points="230.1,245.7 231.8,237.8 230.4,236.4 228.8,244.2" fill="#ebd1d0" stroke="#5f5454"/>
<polygon points="265.9,226.0 268.3,225.2 266.8,223.8 264.4,224.6" fill="#e3221c" stroke="#7d120f"/>
<polygon points="235.0,233.2 237.1,228.6 235.7,227.0 233.7,231.6" fill="#e35450" stroke="#742a28"/>
<polygon points="259.5,226.0 262.0,225.3 260.5,223.8 258.1,224.5" fill="#e3221c" stroke="#7d120f"/>
<polygon points="240.8,227.0 243.1,225.1 241.7,223.6 239.4,225.4" fill="#e7221c" stroke="#7f120f"/>
<polygon points="253.2,226.0 255.7,225.3 254.2,223.8 251.8,224.5" fill="#e3221c" stroke="#7d120f"/>
<polygon points="247.0,225.9 249.4,225.2 247.9,223.6 245.5,224.3" fill="#e3221c" stroke="#7d120f"/>
<polygon points="282.6,226.1 285.0,225.4 283.5,224.4 281.0,224.9" fill="#dd211b" stroke="#7a120f"/>
<polygon points="276.2,226.4 278.6,225.6 277.1,224.3 274.7,225.1" fill="#e1211b" stroke="#7c120e"/>
<polygon points="269.8,226.6 272.2,225.8 270.7,224.5 268.3,225.2" fill="#e2221c" stroke="#7c120f"/>
<polygon points="263.4,226.7 265.9,226.0 264.4,224.6 262.0,225.3" fill="#e3221c" stroke="#7d120f"/>
<polygon points="286.6,226.5 289.0,225.7 287.5,224.7 285.0,225.4" fill="#df211b" stroke="#7b120e"/>
<polygon points="233.1,239.3 235.0,233.2 233.7,231.6 231.8,237.8" fill="#e68f8c" stroke="#6a4140"/>
<polygon points="257.1,226.7 259.5,226.0 258.1,224.5 255.7,225.3" fill="#e3221c" stroke="#7d120f"/>
<polygon points="238.5,230.1 240.8,227.0 239.4,225.4 237.1,228.6" fill="#e42b25" stroke="#7c1714"/>
<polygon points="250.8,226.7 253.2,226.0 251.8,224.5 249.4,225.2" fill="#e3221c" stroke="#7d120f"/>
<polygon points="244.6,226.7 247.0,225.9 245.5,224.3 243.1,225.1" fill="#e5221c" stroke="#7e120f"/>
<polygon points="280.1,226.8 282.6,226.1 281.0,224.9 278.6,225.6" fill="#e0211b" stroke="#7c120e"/>
<polygon points="273.7,227.1 276.2,226.4 274.7,225.1 272.2,225.8" fill="#e1211b" stroke="#7c120e"/>
<polygon points="290.6,226.9 293.0,226.1 291.5,224.9 289.0,225.7" fill="#e1211b" stroke="#7c120e"/>
<polygon points="267.4,227.3 269.8,226.6 268.3,225.2 265.9,226.0" fill="#e2221c" stroke="#7c120f"/>
<polygon points="231.4,247.2 233.1,239.3 231.8,237.8 230.1,245.7" fill="#ebd1d0" stroke="#5f5454"/>
<polygon points="261.0,227.4 263.4,226.7 262.0,225.3 259.5,226.0" fill="#e3221c" stroke="#7d120f"/>
<polygon points="284.1,227.3 286.6,226.5 285.0,225.4 282.6,226.1" fill="#e0211b" stroke="#7c120e"/>
<polygon points="236.4,234.7 238.5,230.1 237.1,228.6 235.0,233.2" fill="#e35651" stroke="#732b29"/>
<polygon points="254.7,227.5 257.1,226.7 255.7,225.3 253.2,226.0" fill="#e3221c" stroke="#7d120f"/>
<polygon points="242.2,228.5 244.6,226.7 243.1,225.1 240.8,227.0" fill="#e7221c" stroke="#7f120f"/>
<polygon points="248.4,227.4 250.8,226.7 249.4,225.2 247.0,225.9" fill="#e3221c" stroke="#7d120f"/>
<polygon points="277.7,227.6 280.1,226.8 278.6,225.6 276.2,226.4" fill="#e1211b" stroke="#7c120e"/>
<polygon points="271.3,227.9 273.7,227.1 272.2,225.8 269.8,226.6" fill="#e1211b" stroke="#7c120e"/>
<polygon points="288.1,227.7 290.6,226.9 289.0,225.7 286.6,226.5" fill="#e1211b" stroke="#7c120e"/>
<polygon points="264.9,228.1 267.4,227.3 265.9,226.0 263.4,226.7" fill="#e2221c" stroke="#7c120f"/>
<polygon points="258.6,228.2 261.0,227.4 259.5,226.0 257.1,226.7" fill="#e3221c" stroke="#7d120f"/>
<polygon points="234.5,240.9 236.4,234.7 235.0,233.2 233.1,239.3" fill="#e6908d" stroke="#694240"/>
<polygon points="252.3,228.2 254.7,227.5 253.2,226.0 250.8,226.7" fill="#e3221c" stroke="#7d120f"/>
<polygon points="240.0,231.6 242.2,228.5 240.8,227.0 238.5,230.1" fill="#e42d27" stroke="#7b1815"/>
<polygon points="246.0,228.2 248.4,227.4 247.0,225.9 244.6,226.7" fill="#e5221c" stroke="#7e120f"/>
<polygon points="281.6,228.0 284.1,227.3 282.6,226.1 280.1,226.8" fill="#e1211b" stroke="#7c120e"/>
<polygon points="275.2,228.4 277.7,227.6 276.2,226.4 273.7,227.1" fill="#e1211b" stroke="#7c120e"/>
<polygon points="292.1,228.1 294.6,227.3 293.0,226.1 290.6,226.9" fill="#e2221c" stroke="#7c120f"/>
<polygon points="268.8,228.7 271.3,227.9 269.8,226.6 267.4,227.3" fill="#e1211b" stroke="#7c120e"/>
<polygon points="285.6,228.5 288.1,227.7 286.6,226.5 284.1,227.3" fill="#e1211b" stroke="#7c120e"/>
<polygon points="262.5,228.8 264.9,228.1 263.4,226.7 261.0,227.4" fill="#e2221c" stroke="#7c120f"/>
<polygon points="232.7,248.7 234.5,240.9 233.1,239.3 231.4,247.2" fill="#ebd1d1" stroke="#5f5454"/>
<polygon points="256.2,228.9 258.6,228.2 257.1,226.7 254.7,227.5" fill="#e3221c" stroke="#7d120f"/>
<polygon points="237.8,236.2 240.0,231.6 238.5,230.1 236.4,234.7" fill="#e45853" stroke="#732c2a"/>
<polygon points="249.9,228.9 252.3,228.2 250.8,226.7 248.4,227.4" fill="#e3221c" stroke="#7d120f"/>
<polygon points="243.7,230.1 246.0,228.2 244.6,226.7 242.2,228.5" fill="#e8221c" stroke="#7f120f"/>
<polygon points="279.2,228.8 281.6,228.0 280.1,226.8 277.7,227.6" fill="#e1211b" stroke="#7c120e"/>
<polygon points="272.8,229.2 275.2,228.4 273.7,227.1 271.3,227.9" fill="#e1211b" stroke="#7c120e"/>
<polygon points="289.6,229.0 292.1,228.1 290.6,226.9 288.1,227.7" fill="#e2221c" stroke="#7c120f"/>
<polygon points="266.4,229.4 268.8,228.7 267.4,227.3 264.9,228.1" fill="#e1211b" stroke="#7c120e"/>
<polygon points="260.1,229.6 262.5,228.8 261.0,227.4 258.6,228.2" fill="#e2221c" stroke="#7c120f"/>
<polygon points="283.2,229.3 285.6,228.5 284.1,227.3 281.6,228.0" fill="#e1211b" stroke="#7c120e"/>
<polygon points="253.7,229.7 256.2,228.9 254.7,227.5 252.3,228.2" fill="#e3221c" stroke="#7d120f"/>
<polygon points="235.8,242.4 237.8,236.2 236.4,234.7 234.5,240.9" fill="#e6918e" stroke="#694241"/>
<polygon points="247.5,229.8 249.9,228.9 248.4,227.4 246.0,228.2" fill="#e4221c" stroke="#7d120f"/>
<polygon points="241.4,233.2 243.7,230.1 242.2,228.5 240.0,231.6" fill="#e42f29" stroke="#7b1916"/>
<polygon points="293.6,230.1 296.1,229.3 294.6,227.3 292.1,228.1" fill="#e9231c" stroke="#80130f"/>
<polygon points="276.7,229.6 279.2,228.8 277.7,227.6 275.2,228.4" fill="#e1211b" stroke="#7c120e"/>
<polygon points="270.3,229.9 272.8,229.2 271.3,227.9 268.8,228.7" fill="#e1211b" stroke="#7c120e"/>
<polygon points="287.2,229.8 289.6,229.0 288.1,227.7 285.6,228.5" fill="#e2221c" stroke="#7c120f"/>
<polygon points="264.0,230.2 266.4,229.4 264.9,228.1 262.5,228.8" fill="#e1211b" stroke="#7c120e"/>
<polygon points="257.6,230.3 260.1,229.6 258.6,228.2 256.2,228.9" fill="#e2221c" stroke="#7c120f"/>
<polygon points="234.0,250.1 235.8,242.4 234.5,240.9 232.7,248.7" fill="#ebd2d1" stroke="#5e5454"/>
<polygon points="280.7,230.1 283.2,229.3 281.6,228.0 279.2,228.8" fill="#e1211b" stroke="#7c120e"/>
<polygon points="251.3,230.4 253.7,229.7 252.3,228.2 249.9,228.9" fill="#e3221c" stroke="#7d120f"/>
<polygon points="239.2,237.8 241.4,233.2 240.0,231.6 237.8,236.2" fill="#e45955" stroke="#732d2b"/>
<polygon points="245.1,231.6 247.5,229.8 246.0,228.2 243.7,230.1" fill="#e7221c" stroke="#7f120f"/>
<polygon points="274.3,230.4 276.7,229.6 275.2,228.4 272.8,229.2" fill="#e1211b" stroke="#7c120e"/>
<polygon points="291.1,230.9 293.6,230.1 292.1,228.1 289.6,229.0" fill="#e9231c" stroke="#80130f"/>
<polygon points="267.9,230.7 270.3,229.9 268.8,228.7 266.4,229.4" fill="#e1211b" stroke="#7c120e"/>
<polygon points="284.7,230.6 287.2,229.8 285.6,228.5 283.2,229.3" fill="#e2221c" stroke="#7c120f"/>
<polygon points="261.5,230.9 264.0,230.2 262.5,228.8 260.1,229.6" fill="#e1211b" stroke="#7c120e"/>
<polygon points="255.2,231.1 257.6,230.3 256.2,228.9 253.7,229.7" fill="#e2221c" stroke="#7c120f"/>
<polygon points="295.0,233.0 297.5,232.1 296.1,229.3 293.6,230.1" fill="#ec2c26" stroke="#7f1714"/>
<polygon points="248.9,231.3 251.3,230.4 249.9,228.9 247.5,229.8" fill="#e4221c" stroke="#7d120f"/>
<polygon points="237.2,243.9 239.2,237.8 237.8,236.2 235.8,242.4" fill="#e79290" stroke="#694242"/>
<polygon points="242.8,234.7 245.1,231.6 243.7,230.1 241.4,233.2" fill="#e5312b" stroke="#7b1a17"/>
<polygon points="278.2,230.9 280.7,230.1 279.2,228.8 276.7,229.6" fill="#e1211b" stroke="#7c120e"/>
<polygon points="271.8,231.2 274.3,230.4 272.8,229.2 270.3,229.9" fill="#e1211b" stroke="#7c120e"/>
<polygon points="288.6,231.8 291.1,230.9 289.6,229.0 287.2,229.8" fill="#e9231c" stroke="#80130f"/>
<polygon points="265.4,231.5 267.9,230.7 266.4,229.4 264.0,230.2" fill="#e1211b" stroke="#7c120e"/>
<polygon points="259.1,231.7 261.5,230.9 260.1,229.6 257.6,230.3" fill="#e1211b" stroke="#7c120e"/>
<polygon points="282.2,231.4 284.7,230.6 283.2,229.3 280.7,230.1" fill="#e2221c" stroke="#7c120f"/>
<polygon points="252.8,231.8 255.2,231.1 253.7,229.7 251.3,230.4" fill="#e2221c" stroke="#7c120f"/>
<polygon points="235.3,251.6 237.2,243.9 235.8,242.4 234.0,250.1" fill="#ecd2d1" stroke="#5f5454"/>
<polygon points="246.5,233.1 248.9,231.3 247.5,229.8 245.1,231.6" fill="#e7221c" stroke="#7f120f"/>
<polygon points="240.6,239.3 242.8,234.7 241.4,233.2 239.2,237.8" fill="#e45b57" stroke="#732d2b"/>
<polygon points="292.5,233.8 295.0,233.0 293.6,230.1 291.1,230.9" fill="#ec2c26" stroke="#7f1714"/>
<polygon points="275.8,231.7 278.2,230.9 276.7,229.6 274.3,230.4" fill="#e1211b" stroke="#7c120e"/>
<polygon points="269.4,232.0 271.8,231.2 270.3,229.9 267.9,230.7" fill="#e1211b" stroke="#7c120e"/>
<polygon points="286.2,232.6 288.6,231.8 287.2,229.8 284.7,230.6" fill="#e9231c" stroke="#80130f"/>
<polygon points="263.0,232.3 265.4,231.5 264.0,230.2 261.5,230.9" fill="#e1211b" stroke="#7c120e"/>
<polygon points="296.3,236.9 298.8,236.0 297.5,232.1 295.0,233.0" fill="#ef4c46" stroke="#7a2723"/>
<polygon points="256.6,232.5 259.1,231.7 257.6,230.3 255.2,231.1" fill="#e1211b" stroke="#7c120e"/>
<polygon points="279.7,232.2 282.2,231.4 280.7,230.1 278.2,230.9" fill="#e2221c" stroke="#7c120f"/>
<polygon points="250.3,232.7 252.8,231.8 251.3,230.4 248.9,231.3" fill="#e4221c" stroke="#7d120f"/>
<polygon points="244.2,236.3 246.5,233.1 245.1,231.6 242.8,234.7" fill="#e5332d" stroke="#7b1b18"/>
<polygon points="238.5,245.4 240.6,239.3 239.2,237.8 237.2,243.9" fill="#e79391" stroke="#694342"/>
<polygon points="290.0,234.7 292.5,233.8 291.1,230.9 288.6,231.8" fill="#ec2c26" stroke="#7f1714"/>
<polygon points="273.3,232.5 275.8,231.7 274.3,230.4 271.8,231.2" fill="#e1211b" stroke="#7c120e"/>
<polygon points="266.9,232.8 269.4,232.0 267.9,230.7 265.4,231.5" fill="#e1211b" stroke="#7c120e"/>
<polygon points="283.7,233.4 286.2,232.6 284.7,230.6 282.2,231.4" fill="#e9231c" stroke="#80130f"/>
<polygon points="260.5,233.0 263.0,232.3 261.5,230.9 259.1,231.7" fill="#e1211b" stroke="#7c120e"/>
<polygon points="293.8,237.7 296.3,236.9 295.0,233.0 292.5,233.8" fill="#ef4c46" stroke="#7a2723"/>
<polygon points="254.2,233.2 256.6,232.5 255.2,231.1 252.8,231.8" fill="#e1211b" stroke="#7c120e"/>
<polygon points="247.9,234.6 250.3,232.7 248.9,231.3 246.5,233.1" fill="#e7221c" stroke="#7f120f"/>
<polygon points="277.3,233.1 279.7,232.2 278.2,230.9 275.8,231.7" fill="#e2221c" stroke="#7c120f"/>
<polygon points="236.6,253.1 238.5,245.4 237.2,243.9 235.3,251.6" fill="#ecd3d2" stroke="#5f5554"/>
<polygon points="242.0,240.8 244.2,236.3 242.8,234.7 240.6,239.3" fill="#e45c58" stroke="#722e2c"/>
<polygon points="270.8,233.3 273.3,232.5 271.8,231.2 269.4,232.0" fill="#e1211b" stroke="#7c120e"/>
<polygon points="287.6,235.5 290.0,234.7 288.6,231.8 286.2,232.6" fill="#ec2c26" stroke="#7f1714"/>
<polygon points="297.5,241.9 300.0,241.0 298.8,236.0 296.3,236.9" fill="#f17773" stroke="#733836"/>
<polygon points="264.5,233.6 266.9,232.8 265.4,231.5 263.0,232.3" fill="#e1211b" stroke="#7c120e"/>
<polygon points="281.2,234.3 283.7,233.4 282.2,231.4 279.7,232.2" fill="#e9231c" stroke="#80130f"/>
<polygon points="258.1,233.8 260.5,233.0 259.1,231.7 256.6,232.5" fill="#e1211b" stroke="#7c120e"/>
<polygon points="251.8,234.1 254.2,233.2 252.8,231.8 250.3,232.7" fill="#e3221c" stroke="#7d120f"/>
<polygon points="291.4,238.6 293.8,237.7 292.5,233.8 290.0,234.7" fill="#ef4c46" stroke="#7a2723"/>
<polygon points="245.6,237.7 247.9,234.6 246.5,233.1 244.2,236.3" fill="#e5342f" stroke="#7a1b19"/>
<polygon points="239.9,246.9 242.0,240.8 240.6,239.3 238.5,245.4" fill="#e79491" stroke="#694342"/>
<polygon points="274.8,233.9 277.3,233.1 275.8,231.7 273.3,232.5" fill="#e2221c" stroke="#7c120f"/>
<polygon points="268.4,234.1 270.8,233.3 269.4,232.0 266.9,232.8" fill="#e1211b" stroke="#7c120e"/>
<polygon points="285.1,236.4 287.6,235.5 286.2,232.6 283.7,233.4" fill="#ec2c26" stroke="#7f1714"/>
<polygon points="262.0,234.4 264.5,233.6 263.0,232.3 260.5,233.0" fill="#e1211b" stroke="#7c120e"/>
<polygon points="295.1,242.7 297.5,241.9 296.3,236.9 293.8,237.7" fill="#f17773" stroke="#733836"/>
<polygon points="255.6,234.6 258.1,233.8 256.6,232.5 254.2,233.2" fill="#e1211b" stroke="#7c120e"/>
<polygon points="278.7,235.1 281.2,234.3 279.7,232.2 277.3,233.1" fill="#e9231c" stroke="#80130f"/>
<polygon points="249.4,236.0 251.8,234.1 250.3,232.7 247.9,234.6" fill="#e6221c" stroke="#7e120f"/>
<polygon points="243.3,242.3 245.6,237.7 244.2,236.3 242.0,240.8" fill="#e45d59" stroke="#722e2c"/>
<polygon points="237.9,254.6 239.9,246.9 238.5,245.4 236.6,253.1" fill="#ecd3d2" stroke="#5f5554"/>
<polygon points="288.9,239.5 291.4,238.6 290.0,234.7 287.6,235.5" fill="#ef4c46" stroke="#7a2723"/>
<polygon points="272.3,234.7 274.8,233.9 273.3,232.5 270.8,233.3" fill="#e2221c" stroke="#7c120f"/>
<polygon points="298.6,248.0 301.0,247.1 300.0,241.0 297.5,241.9" fill="#f5acaa" stroke="#694a49"/>
<polygon points="265.9,234.9 268.4,234.1 266.9,232.8 264.5,233.6" fill="#e1211b" stroke="#7c120e"/>
<polygon points="282.6,237.2 285.1,236.4 283.7,233.4 281.2,234.3" fill="#ec2c26" stroke="#7f1714"/>
<polygon points="259.5,235.2 262.0,234.4 260.5,233.0 258.1,233.8" fill="#e1211b" stroke="#7c120e"/>
<polygon points="292.6,243.6 295.1,242.7 293.8,237.7 291.4,238.6" fill="#f17773" stroke="#733836"/>
<polygon points="253.2,235.5 255.6,234.6 254.2,233.2 251.8,234.1" fill="#e2221c" stroke="#7c120f"/>
<polygon points="276.3,235.9 278.7,235.1 277.3,233.1 274.8,233.9" fill="#e9231c" stroke="#80130f"/>
<polygon points="247.0,239.2 249.4,236.0 247.9,234.6 245.6,237.7" fill="#e4352f" stroke="#7a1c19"/>
<polygon points="241.2,248.4 243.3,242.3 242.0,240.8 239.9,246.9" fill="#e79592" stroke="#694342"/>
<polygon points="286.4,240.3 288.9,239.5 287.6,235.5 285.1,236.4" fill="#ef4c46" stroke="#7a2723"/>
<polygon points="269.9,235.5 272.3,234.7 270.8,233.3 268.4,234.1" fill="#e2221c" stroke="#7c120f"/>
<polygon points="296.2,248.9 298.6,248.0 297.5,241.9 295.1,242.7" fill="#f5acaa" stroke="#694a49"/>
<polygon points="263.5,235.7 265.9,234.9 264.5,233.6 262.0,234.4" fill="#e1211b" stroke="#7c120e"/>
<polygon points="280.1,238.1 282.6,237.2 281.2,234.3 278.7,235.1" fill="#ec2c26" stroke="#7f1714"/>
<polygon points="257.1,236.0 259.5,235.2 258.1,233.8 255.6,234.6" fill="#e1211b" stroke="#7c120e"/>
<polygon points="250.8,237.4 253.2,235.5 251.8,234.1 249.4,236.0" fill="#e5221c" stroke="#7e120f"/>
<polygon points="290.1,244.5 292.6,243.6 291.4,238.6 288.9,239.5" fill="#f17773" stroke="#733836"/>
<polygon points="244.7,243.8 247.0,239.2 245.6,237.7 243.3,242.3" fill="#e45e5a" stroke="#722f2d"/>
<polygon points="299.5,255.4 302.0,254.5 301.0,247.1 298.6,248.0" fill="#fae4e3" stroke="#605757"/>
<polygon points="273.8,236.8 276.3,235.9 274.8,233.9 272.3,234.7" fill="#e9231c" stroke="#80130f"/>
<polygon points="239.2,256.1 241.2,248.4 239.9,246.9 237.9,254.6" fill="#ecd3d2" stroke="#5f5554"/>
<polygon points="267.4,236.3 269.9,235.5 268.4,234.1 265.9,234.9" fill="#e2221c" stroke="#7c120f"/>
<polygon points="284.0,241.2 286.4,240.3 285.1,236.4 282.6,237.2" fill="#ef4c46" stroke="#7a2723"/>
<polygon points="293.7,249.8 296.2,248.9 295.1,242.7 292.6,243.6" fill="#f5acaa" stroke="#694a49"/>
<polygon points="261.0,236.5 263.5,235.7 262.0,234.4 259.5,235.2" fill="#e1211b" stroke="#7c120e"/>
<polygon points="277.7,238.9 280.1,238.1 278.7,235.1 276.3,235.9" fill="#ec2c26" stroke="#7f1714"/>
<polygon points="254.6,236.9 257.1,236.0 255.6,234.6 253.2,235.5" fill="#e2221c" stroke="#7c120f"/>
<polygon points="248.4,240.6 250.8,237.4 249.4,236.0 247.0,239.2" fill="#e43530" stroke="#7a1c19"/>
<polygon points="242.5,249.9 244.7,243.8 243.3,242.3 241.2,248.4" fill="#e79592" stroke="#694342"/>
<polygon points="287.7,245.4 290.1,244.5 288.9,239.5 286.4,240.3" fill="#f17773" stroke="#733836"/>
<polygon points="271.3,237.6 273.8,236.8 272.3,234.7 269.9,235.5" fill="#e9231c" stroke="#80130f"/>
<polygon points="297.1,256.3 299.5,255.4 298.6,248.0 296.2,248.9" fill="#fae4e3" stroke="#605757"/>
<polygon points="264.9,237.1 267.4,236.3 265.9,234.9 263.5,235.7" fill="#e2221c" stroke="#7c120f"/>
<polygon points="281.5,242.0 284.0,241.2 282.6,237.2 280.1,238.1" fill="#ef4c46" stroke="#7a2723"/>
<polygon points="258.5,237.3 261.0,236.5 259.5,235.2 257.1,236.0" fill="#e1211b" stroke="#7c120e"/>
<polygon points="291.3,250.7 293.7,249.8 292.6,243.6 290.1,244.5" fill="#f5acaa" stroke="#694a49"/>
<polygon points="252.2,238.8 254.6,236.9 253.2,235.5 250.8,237.4" fill="#e5221c" stroke="#7e120f"/>
<polygon points="275.2,239.7 277.7,238.9 276.3,235.9 273.8,236.8" fill="#ec2c26" stroke="#7f1714"/>
<polygon points="246.1,245.2 248.4,240.6 247.0,239.2 244.7,243.8" fill="#e45e5a" stroke="#722f2d"/>
<polygon points="240.5,257.6 242.5,249.9 241.2,248.4 239.2,256.1" fill="#ecd3d2" stroke="#5f5554"/>
<polygon points="285.2,246.2 287.7,245.4 286.4,240.3 284.0,241.2" fill="#f17773" stroke="#733836"/>
<polygon points="268.8,238.4 271.3,237.6 269.9,235.5 267.4,236.3" fill="#e9231c" stroke="#80130f"/>
<polygon points="294.7,257.2 297.1,256.3 296.2,248.9 293.7,249.8" fill="#fae4e3" stroke="#605757"/>
<polygon points="262.4,238.0 264.9,237.1 263.5,235.7 261.0,236.5" fill="#e2221c" stroke="#7c120f"/>
<polygon points="279.0,242.9 281.5,242.0 280.1,238.1 277.7,238.9" fill="#ef4c46" stroke="#7a2723"/>
<polygon points="256.1,238.3 258.5,237.3 257.1,236.0 254.6,236.9" fill="#e2221c" stroke="#7c120f"/>
<polygon points="288.8,251.6 291.3,250.7 290.1,244.5 287.7,245.4" fill="#f5acaa" stroke="#694a49"/>
<polygon points="249.8,242.0 252.2,238.8 250.8,237.4 248.4,240.6" fill="#e43530" stroke="#7a1c19"/>
<polygon points="272.7,240.6 275.2,239.7 273.8,236.8 271.3,237.6" fill="#ec2c26" stroke="#7f1714"/>
<polygon points="243.9,251.3 246.1,245.2 244.7,243.8 242.5,249.9" fill="#e79592" stroke="#694342"/>
<polygon points="266.4,239.3 268.8,238.4 267.4,236.3 264.9,237.1" fill="#e9231c" stroke="#80130f"/>
<polygon points="282.8,247.1 285.2,246.2 284.0,241.2 281.5,242.0" fill="#f17773" stroke="#733836"/>
<polygon points="292.3,258.1 294.7,257.2 293.7,249.8 291.3,250.7" fill="#fae4e3" stroke="#605757"/>
<polygon points="260.0,238.8 262.4,238.0 261.0,236.5 258.5,237.3" fill="#e2221c" stroke="#7c120f"/>
<polygon points="276.6,243.7 279.0,242.9 277.7,238.9 275.2,239.7" fill="#ef4c46" stroke="#7a2723"/>
<polygon points="253.6,240.2 256.1,238.3 254.6,236.9 252.2,238.8" fill="#e5221c" stroke="#7e120f"/>
<polygon points="247.5,246.6 249.8,242.0 248.4,240.6 246.1,245.2" fill="#e45e5a" stroke="#722f2d"/>
<polygon points="286.4,252.4 288.8,251.6 287.7,245.4 285.2,246.2" fill="#f5acaa" stroke="#694a49"/>
<polygon points="241.8,259.0 243.9,251.3 242.5,249.9 240.5,257.6" fill="#ecd3d2" stroke="#5f5554"/>
<polygon points="270.2,241.4 272.7,240.6 271.3,237.6 268.8,238.4" fill="#ec2c26" stroke="#7f1714"/>
<polygon points="263.9,240.1 266.4,239.3 264.9,237.1 262.4,238.0" fill="#e9231c" stroke="#80130f"/>
<polygon points="280.3,248.0 282.8,247.1 281.5,242.0 279.0,242.9" fill="#f17773" stroke="#733836"/>
<polygon points="289.8,259.0 292.3,258.1 291.3,250.7 288.8,251.6" fill="#fae4e3" stroke="#605757"/>
<polygon points="257.5,239.7 260.0,238.8 258.5,237.3 256.1,238.3" fill="#e4221c" stroke="#7d120f"/>
<polygon points="274.1,244.6 276.6,243.7 275.2,239.7 272.7,240.6" fill="#ef4c46" stroke="#7a2723"/>
<polygon points="251.2,243.4 253.6,240.2 252.2,238.8 249.8,242.0" fill="#e43530" stroke="#7a1c19"/>
<polygon points="245.2,252.8 247.5,246.6 246.1,245.2 243.9,251.3" fill="#e79592" stroke="#694342"/>
<polygon points="283.9,253.3 286.4,252.4 285.2,246.2 282.8,247.1" fill="#f5acaa" stroke="#694a49"/>
<polygon points="267.8,242.3 270.2,241.4 268.8,238.4 266.4,239.3" fill="#ec2c26" stroke="#7f1714"/>
<polygon points="261.4,240.9 263.9,240.1 262.4,238.0 260.0,238.8" fill="#e9231c" stroke="#80130f"/>
<polygon points="277.8,248.8 280.3,248.0 279.0,242.9 276.6,243.7" fill="#f17773" stroke="#733836"/>
<polygon points="255.0,241.7 257.5,239.7 256.1,238.3 253.6,240.2" fill="#e7221c" stroke="#7f120f"/>
<polygon points="287.4,259.9 289.8,259.0 288.8,251.6 286.4,252.4" fill="#fae4e3" stroke="#605757"/>
<polygon points="248.8,248.0 251.2,243.4 249.8,242.0 247.5,246.6" fill="#e45e5a" stroke="#722f2d"/>
<polygon points="271.6,245.5 274.1,244.6 272.7,240.6 270.2,241.4" fill="#ef4c46" stroke="#7a2723"/>
<polygon points="243.1,260.5 245.2,252.8 243.9,251.3 241.8,259.0" fill="#ecd3d2" stroke="#5f5554"/>
<polygon points="281.5,254.2 283.9,253.3 282.8,247.1 280.3,248.0" fill="#f5acaa" stroke="#694a49"/>
<polygon points="265.3,243.1 267.8,242.3 266.4,239.3 263.9,240.1" fill="#ec2c26" stroke="#7f1714"/>
<polygon points="258.9,241.9 261.4,240.9 260.0,238.8 257.5,239.7" fill="#ea231d" stroke="#80130f"/>
<polygon points="275.4,249.7 277.8,248.8 276.6,243.7 274.1,244.6" fill="#f17773" stroke="#733836"/>
<polygon points="252.6,244.9 255.0,241.7 253.6,240.2 251.2,243.4" fill="#e53630" stroke="#7a1c19"/>
<polygon points="285.0,260.8 287.4,259.9 286.4,252.4 283.9,253.3" fill="#fae4e3" stroke="#605757"/>
<polygon points="246.6,254.2 248.8,248.0 247.5,246.6 245.2,252.8" fill="#e79592" stroke="#694342"/>
<polygon points="269.1,246.3 271.6,245.5 270.2,241.4 267.8,242.3" fill="#ef4c46" stroke="#7a2723"/>
<polygon points="262.8,244.0 265.3,243.1 263.9,240.1 261.4,240.9" fill="#ec2c26" stroke="#7f1714"/>
<polygon points="279.0,255.1 281.5,254.2 280.3,248.0 277.8,248.8" fill="#f5acaa" stroke="#694a49"/>
<polygon points="256.5,243.8 258.9,241.9 257.5,239.7 255.0,241.7" fill="#eb241e" stroke="#801310"/>
<polygon points="272.9,250.6 275.4,249.7 274.1,244.6 271.6,245.5" fill="#f17773" stroke="#733836"/>
<polygon points="250.2,249.5 252.6,244.9 251.2,243.4 248.8,248.0" fill="#e55f5a" stroke="#722f2d"/>
<polygon points="244.4,262.0 246.6,254.2 245.2,252.8 243.1,260.5" fill="#ecd3d2" stroke="#5f5554"/>
<polygon points="282.6,261.7 285.0,260.8 283.9,253.3 281.5,254.2" fill="#fae4e3" stroke="#605757"/>
<polygon points="266.7,247.2 269.1,246.3 267.8,242.3 265.3,243.1" fill="#ef4c46" stroke="#7a2723"/>
<polygon points="260.3,244.9 262.8,244.0 261.4,240.9 258.9,241.9" fill="#ec2d27" stroke="#7f1815"/>
<polygon points="276.6,256.0 279.0,255.1 277.8,248.8 275.4,249.7" fill="#f5acaa" stroke="#694a49"/>
<polygon points="254.0,246.9 256.5,243.8 255.0,241.7 252.6,244.9" fill="#eb3d37" stroke="#7b201d"/>
<polygon points="247.9,255.7 250.2,249.5 248.8,248.0 246.6,254.2" fill="#e79593" stroke="#694343"/>
<polygon points="270.5,251.5 272.9,250.6 271.6,245.5 269.1,246.3" fill="#f17773" stroke="#733836"/>
<polygon points="280.1,262.6 282.6,261.7 281.5,254.2 279.0,255.1" fill="#fae4e3" stroke="#605757"/>
<polygon points="264.2,248.0 266.7,247.2 265.3,243.1 262.8,244.0" fill="#ef4c46" stroke="#7a2723"/>
<polygon points="257.9,246.8 260.3,244.9 258.9,241.9 256.5,243.8" fill="#ed3630" stroke="#7e1c19"/>
<polygon points="274.2,256.9 276.6,256.0 275.4,249.7 272.9,250.6" fill="#f5acaa" stroke="#694a49"/>
<polygon points="251.6,251.5 254.0,246.9 252.6,244.9 250.2,249.5" fill="#e96460" stroke="#73312f"/>
<polygon points="245.7,263.5 247.9,255.7 246.6,254.2 244.4,262.0" fill="#ecd3d3" stroke="#5f5555"/>
<polygon points="268.0,252.3 270.5,251.5 269.1,246.3 266.7,247.2" fill="#f17773" stroke="#733836"/>
<polygon points="277.7,263.4 280.1,262.6 279.0,255.1 276.6,256.0" fill="#fae4e3" stroke="#605757"/>
<polygon points="261.7,249.0 264.2,248.0 262.8,244.0 260.3,244.9" fill="#f04d48" stroke="#7b2724"/>
<polygon points="255.4,249.7 257.9,246.8 256.5,243.8 254.0,246.9" fill="#f04d48" stroke="#7b2724"/>
<polygon points="271.7,257.7 274.2,256.9 272.9,250.6 270.5,251.5" fill="#f5acaa" stroke="#694a49"/>
<polygon points="249.3,257.4 251.6,251.5 250.2,249.5 247.9,255.7" fill="#ea9997" stroke="#694544"/>
<polygon points="265.5,253.2 268.0,252.3 266.7,247.2 264.2,248.0" fill="#f17773" stroke="#733836"/>
<polygon points="259.3,250.7 261.7,249.0 260.3,244.9 257.9,246.8" fill="#f1544f" stroke="#7a2a28"/>
<polygon points="275.3,264.3 277.7,263.4 276.6,256.0 274.2,256.9" fill="#fae4e3" stroke="#605757"/>
<polygon points="253.0,253.9 255.4,249.7 254.0,246.9 251.6,251.5" fill="#ef726e" stroke="#733635"/>
<polygon points="269.3,258.6 271.7,257.7 270.5,251.5 268.0,252.3" fill="#f5acaa" stroke="#694a49"/>
<polygon points="247.0,265.0 249.3,257.4 247.9,255.7 245.7,263.5" fill="#edd5d4" stroke="#5f5555"/>
<polygon points="263.1,254.2 265.5,253.2 264.2,248.0 261.7,249.0" fill="#f27874" stroke="#733937"/>
<polygon points="256.8,253.3 259.3,250.7 257.9,246.8 255.4,249.7" fill="#f36864" stroke="#763230"/>
<polygon points="272.9,265.2 275.3,264.3 274.2,256.9 271.7,257.7" fill="#fae4e3" stroke="#605757"/>
<polygon points="250.6,259.5 253.0,253.9 251.6,251.5 249.3,257.4" fill="#eea3a0" stroke="#694846"/>
<polygon points="266.8,259.5 269.3,258.6 268.0,252.3 265.5,253.2" fill="#f5acaa" stroke="#694a49"/>
<polygon points="260.6,255.6 263.1,254.2 261.7,249.0 259.3,250.7" fill="#f57f7b" stroke="#733b39"/>
<polygon points="254.4,257.1 256.8,253.3 255.4,249.7 253.0,253.9" fill="#f68986" stroke="#713f3d"/>
<polygon points="270.5,266.1 272.9,265.2 271.7,257.7 269.3,258.6" fill="#fae4e3" stroke="#605757"/>
<polygon points="248.3,266.5 250.6,259.5 249.3,257.4 247.0,265.0" fill="#efd8d8" stroke="#5f5555"/>
<polygon points="264.4,260.4 266.8,259.5 265.5,253.2 263.1,254.2" fill="#f6acaa" stroke="#6a4a49"/>
<polygon points="258.2,257.8 260.6,255.6 259.3,250.7 256.8,253.3" fill="#f88e8b" stroke="#71403f"/>
<polygon points="251.9,261.9 254.4,257.1 253.0,253.9 250.6,259.5" fill="#f4b2b0" stroke="#684c4b"/>
<polygon points="268.0,267.0 270.5,266.1 269.3,258.6 266.8,259.5" fill="#fae4e3" stroke="#605757"/>
<polygon points="261.9,261.7 264.4,260.4 263.1,254.2 260.6,255.6" fill="#f8b1af" stroke="#694b4a"/>
<polygon points="255.7,260.8 258.2,257.8 256.8,253.3 254.4,257.1" fill="#fba8a5" stroke="#6c4847"/>
<polygon points="249.6,267.9 251.9,261.9 250.6,259.5 248.3,266.5" fill="#f2dedd" stroke="#5e5756"/>
<polygon points="265.6,267.9 268.0,267.0 266.8,259.5 264.4,260.4" fill="#fae4e4" stroke="#605757"/>
<polygon points="259.5,263.3 261.9,261.7 260.6,255.6 258.2,257.8" fill="#fcbcba" stroke="#684e4d"/>
<polygon points="253.3,264.7 255.7,260.8 254.4,257.1 251.9,261.9" fill="#fcc8c7" stroke="#665150"/>
<polygon points="263.2,268.8 265.6,267.9 264.4,260.4 261.9,261.7" fill="#fbe6e5" stroke="#5f5757"/>
<polygon points="257.0,265.4 259.5,263.3 258.2,257.8 255.7,260.8" fill="#ffcdcb" stroke="#665251"/>
<polygon points="250.9,269.4 253.3,264.7 251.9,261.9 249.6,267.9" fill="#f7e7e7" stroke="#5e5858"/>
<polygon points="260.8,269.7 263.2,268.8 261.9,261.7 259.5,263.3" fill="#feeaea" stroke="#5f5858"/>
<polygon points="254.6,267.9 257.0,265.4 255.7,260.8 253.3,264.7" fill="#ffe2e1" stroke="#615656"/>
<polygon points="258.3,270.6 260.8,269.7 259.5,263.3 257.0,265.4" fill="#fff1f1" stroke="#5e5959"/>
<polygon points="252.2,270.9 254.6,267.9 253.3,264.7 250.9,269.4" fill="#fff5f5" stroke="#5d5a5a"/>
<polygon points="255.9,271.5 258.3,270.6 257.0,265.4 254.6,267.9" fill="#fffafa" stroke="#5c5b5b"/>
<polygon points="253.5,272.4 255.9,271.5 254.6,267.9 252.2,270.9" fill="#ffffff" stroke="#5b5b5b"/>
</g>
<text x="220.80" y="225.80" font-size="7.7" text-anchor="end" font-weight="normal" fill="#333" color="#333" >30</text>
<text x="220.80" y="247.50" font-size="7.7" text-anchor="end" font-weight="normal" fill="#333" color="#333" >0</text>
<text x="220.80" y="263.75" font-size="7.7" text-anchor="end" font-weight="normal" fill="#333" color="#333" >−30</text>
<text transform="translate(195.30,244.40) rotate(-90)" x="0" y="3.31" font-size="9.2" text-anchor="middle" fill="#222" color="#222" textLength="17.2" lengthAdjust="spacingAndGlyphs">Score</text>
<text x="219.95" y="273.80" font-size="7.7" text-anchor="middle" font-weight="normal" fill="#333" color="#333" >2.5</text>
<text x="227.00" y="281.10" font-size="7.7" text-anchor="middle" font-weight="normal" fill="#333" color="#333" >1</text>
<text x="233.30" y="291.80" font-size="7.7" text-anchor="middle" font-weight="normal" fill="#333" color="#333" >0.5</text>
<text x="240.60" y="302.50" font-size="7.7" text-anchor="middle" font-weight="normal" fill="#333" color="#333" >0.25</text>
<text x="265.50" y="304.40" font-size="7.7" text-anchor="middle" font-weight="normal" fill="#333" color="#333" >0.05</text>
<text x="279.90" y="300.40" font-size="7.7" text-anchor="middle" font-weight="normal" fill="#333" color="#333" >0.1</text>
<text x="294.60" y="296.40" font-size="7.7" text-anchor="middle" font-weight="normal" fill="#333" color="#333" >0.2</text>
<text x="307.20" y="292.30" font-size="7.7" text-anchor="middle" font-weight="normal" fill="#333" color="#333" >0.5</text>
<text transform="translate(215.60,293.30) rotate(57)" x="0" y="3.60" font-size="10.0" text-anchor="middle" fill="#222" color="#222" textLength="29" lengthAdjust="spacingAndGlyphs">EPZ (μM)</text>
<text transform="translate(296.30,313.80) rotate(-26)" x="0" y="3.60" font-size="10.0" text-anchor="middle" fill="#222" color="#222" textLength="29" lengthAdjust="spacingAndGlyphs">DAC (μM)</text>
<line x1="369.60" y1="219.80" x2="417.10" y2="207.30" stroke="#6e6e6e" stroke-width="0.7" />
<line x1="417.10" y1="207.30" x2="448.30" y2="230.55" stroke="#6e6e6e" stroke-width="0.7" />
<line x1="448.30" y1="230.55" x2="397.70" y2="248.55" stroke="#6e6e6e" stroke-width="0.7" />
<line x1="397.70" y1="248.55" x2="369.60" y2="219.80" stroke="#6e6e6e" stroke-width="0.7" />
<line x1="373.80" y1="262.75" x2="397.70" y2="293.35" stroke="#6e6e6e" stroke-width="0.7" />
<line x1="397.70" y1="293.35" x2="444.00" y2="275.55" stroke="#6e6e6e" stroke-width="0.7" />
<line x1="373.80" y1="262.75" x2="416.10" y2="249.05" stroke="#999" stroke-width="0.55" stroke-dasharray="1,1"/>
<line x1="416.10" y1="249.05" x2="444.00" y2="275.55" stroke="#999" stroke-width="0.55" stroke-dasharray="1,1"/>
<line x1="369.60" y1="219.80" x2="373.80" y2="262.75" stroke="#6e6e6e" stroke-width="0.7" />
<line x1="448.30" y1="230.55" x2="444.00" y2="275.55" stroke="#6e6e6e" stroke-width="0.7" />
<line x1="397.70" y1="248.55" x2="397.70" y2="293.35" stroke="#6e6e6e" stroke-width="0.7" />
<line x1="417.10" y1="207.30" x2="416.10" y2="249.05" stroke="#aaa" stroke-width="0.55" stroke-dasharray="1.5,1"/>
<g stroke-width="0.55">
<polygon points="416.1,215.2 418.5,215.0 416.9,213.8 414.6,214.0" fill="#e24e49" stroke="#742825"/>
<polygon points="413.8,214.9 416.1,215.2 414.6,214.0 412.3,213.7" fill="#d9423d" stroke="#722220"/>
<polygon points="417.7,216.4 420.0,216.2 418.5,215.0 416.1,215.2" fill="#e24f4a" stroke="#742826"/>
<polygon points="411.5,214.5 413.8,214.9 412.3,213.7 410.0,213.3" fill="#d7342f" stroke="#741c19"/>
<polygon points="415.3,216.1 417.7,216.4 416.1,215.2 413.8,214.9" fill="#da433e" stroke="#732320"/>
<polygon points="409.1,214.6 411.5,214.5 410.0,213.3 407.6,213.4" fill="#dc2b26" stroke="#781714"/>
<polygon points="419.2,217.7 421.5,217.4 420.0,216.2 417.7,216.4" fill="#e3504b" stroke="#742926"/>
<polygon points="413.0,215.8 415.3,216.1 413.8,214.9 411.5,214.5" fill="#d83530" stroke="#741c19"/>
<polygon points="406.8,215.2 409.1,214.6 407.6,213.4 405.2,213.9" fill="#e12721" stroke="#7b1512"/>
<polygon points="416.9,217.4 419.2,217.7 417.7,216.4 415.3,216.1" fill="#da443f" stroke="#732321"/>
<polygon points="410.6,216.0 413.0,215.8 411.5,214.5 409.1,214.6" fill="#dd2c26" stroke="#781814"/>
<polygon points="404.4,215.7 406.8,215.2 405.2,213.9 402.9,214.4" fill="#e0251f" stroke="#7b1411"/>
<polygon points="420.7,219.0 423.1,218.7 421.5,217.4 419.2,217.7" fill="#e3514c" stroke="#742927"/>
<polygon points="414.5,217.1 416.9,217.4 415.3,216.1 413.0,215.8" fill="#d83631" stroke="#741d1a"/>
<polygon points="408.3,216.5 410.6,216.0 409.1,214.6 406.8,215.2" fill="#e12822" stroke="#7b1512"/>
<polygon points="402.0,216.2 404.4,215.7 402.9,214.4 400.5,214.9" fill="#e0231d" stroke="#7b1310"/>
<polygon points="418.4,218.7 420.7,219.0 419.2,217.7 416.9,217.4" fill="#db4540" stroke="#732421"/>
<polygon points="412.1,217.3 414.5,217.1 413.0,215.8 410.6,216.0" fill="#de2d28" stroke="#791815"/>
<polygon points="399.7,216.7 402.0,216.2 400.5,214.9 398.2,215.4" fill="#e0211b" stroke="#7c120e"/>
<polygon points="405.9,217.0 408.3,216.5 406.8,215.2 404.4,215.7" fill="#e12620" stroke="#7b1411"/>
<polygon points="422.2,220.3 424.6,220.0 423.1,218.7 420.7,219.0" fill="#e4524e" stroke="#742a27"/>
<polygon points="416.0,218.5 418.4,218.7 416.9,217.4 414.5,217.1" fill="#d93833" stroke="#741e1b"/>
<polygon points="409.8,217.8 412.1,217.3 410.6,216.0 408.3,216.5" fill="#e22924" stroke="#7b1613"/>
<polygon points="397.3,217.3 399.7,216.7 398.2,215.4 395.8,215.9" fill="#e1211b" stroke="#7c120e"/>
<polygon points="403.5,217.5 405.9,217.0 404.4,215.7 402.0,216.2" fill="#e1241e" stroke="#7c1310"/>
<polygon points="419.9,220.1 422.2,220.3 420.7,219.0 418.4,218.7" fill="#db4742" stroke="#722522"/>
<polygon points="413.7,218.7 416.0,218.5 414.5,217.1 412.1,217.3" fill="#df2f2a" stroke="#791916"/>
<polygon points="394.9,217.9 397.3,217.3 395.8,215.9 393.5,216.5" fill="#e1211b" stroke="#7c120e"/>
<polygon points="407.4,218.4 409.8,217.8 408.3,216.5 405.9,217.0" fill="#e22822" stroke="#7b1512"/>
<polygon points="401.2,218.1 403.5,217.5 402.0,216.2 399.7,216.7" fill="#e1221c" stroke="#7c120f"/>
<polygon points="423.8,221.6 426.1,221.3 424.6,220.0 422.2,220.3" fill="#e4544f" stroke="#742a28"/>
<polygon points="417.5,219.8 419.9,220.1 418.4,218.7 416.0,218.5" fill="#da3a35" stroke="#741f1c"/>
<polygon points="411.3,219.2 413.7,218.7 412.1,217.3 409.8,217.8" fill="#e32b26" stroke="#7b1714"/>
<polygon points="392.6,218.5 394.9,217.9 393.5,216.5 391.1,217.2" fill="#e2221c" stroke="#7c120f"/>
<polygon points="405.0,218.9 407.4,218.4 405.9,217.0 403.5,217.5" fill="#e22620" stroke="#7c1411"/>
<polygon points="398.8,218.7 401.2,218.1 399.7,216.7 397.3,217.3" fill="#e2221c" stroke="#7c120f"/>
<polygon points="421.4,221.4 423.8,221.6 422.2,220.3 419.9,220.1" fill="#dc4844" stroke="#732523"/>
<polygon points="415.2,220.0 417.5,219.8 416.0,218.5 413.7,218.7" fill="#df312c" stroke="#781a17"/>
<polygon points="390.2,219.2 392.6,218.5 391.1,217.2 388.7,217.8" fill="#e2221c" stroke="#7c120f"/>
<polygon points="408.9,219.8 411.3,219.2 409.8,217.8 407.4,218.4" fill="#e32a24" stroke="#7b1613"/>
<polygon points="396.4,219.3 398.8,218.7 397.3,217.3 394.9,217.9" fill="#e2221c" stroke="#7c120f"/>
<polygon points="402.6,219.5 405.0,218.9 403.5,217.5 401.2,218.1" fill="#e2241e" stroke="#7c1310"/>
<polygon points="425.3,222.9 427.7,222.6 426.1,221.3 423.8,221.6" fill="#e45551" stroke="#742b29"/>
<polygon points="419.1,221.2 421.4,221.4 419.9,220.1 417.5,219.8" fill="#da3b37" stroke="#741f1d"/>
<polygon points="412.8,220.7 415.2,220.0 413.7,218.7 411.3,219.2" fill="#e42e28" stroke="#7b1815"/>
<polygon points="387.8,219.8 390.2,219.2 388.7,217.8 386.4,218.4" fill="#e2221c" stroke="#7c120f"/>
<polygon points="406.5,220.4 408.9,219.8 407.4,218.4 405.0,218.9" fill="#e32822" stroke="#7c1512"/>
<polygon points="394.0,220.0 396.4,219.3 394.9,217.9 392.6,218.5" fill="#e3221c" stroke="#7d120f"/>
<polygon points="400.3,220.1 402.6,219.5 401.2,218.1 398.8,218.7" fill="#e3231d" stroke="#7d1310"/>
<polygon points="422.9,222.7 425.3,222.9 423.8,221.6 421.4,221.4" fill="#dc4a45" stroke="#722624"/>
<polygon points="416.7,221.4 419.1,221.2 417.5,219.8 415.2,220.0" fill="#e0332e" stroke="#781b18"/>
<polygon points="385.5,220.5 387.8,219.8 386.4,218.4 384.0,219.1" fill="#e2221c" stroke="#7c120f"/>
<polygon points="410.4,221.3 412.8,220.7 411.3,219.2 408.9,219.8" fill="#e42c27" stroke="#7c1715"/>
<polygon points="391.7,220.6 394.0,220.0 392.6,218.5 390.2,219.2" fill="#e3221c" stroke="#7d120f"/>
<polygon points="404.1,221.0 406.5,220.4 405.0,218.9 402.6,219.5" fill="#e32721" stroke="#7c1512"/>
<polygon points="397.9,220.8 400.3,220.1 398.8,218.7 396.4,219.3" fill="#e3231d" stroke="#7d1310"/>
<polygon points="426.8,224.2 429.2,223.9 427.7,222.6 425.3,222.9" fill="#e55752" stroke="#742c29"/>
<polygon points="420.6,222.6 422.9,222.7 421.4,221.4 419.1,221.2" fill="#db3d39" stroke="#74201e"/>
<polygon points="414.3,222.1 416.7,221.4 415.2,220.0 412.8,220.7" fill="#e4302b" stroke="#7b1917"/>
<polygon points="383.1,221.5 385.5,220.5 384.0,219.1 381.7,220.0" fill="#e4221c" stroke="#7d120f"/>
<polygon points="408.0,221.9 410.4,221.3 408.9,219.8 406.5,220.4" fill="#e42b25" stroke="#7c1714"/>
<polygon points="389.3,221.3 391.7,220.6 390.2,219.2 387.8,219.8" fill="#e3221c" stroke="#7d120f"/>
<polygon points="401.7,221.6 404.1,221.0 402.6,219.5 400.3,220.1" fill="#e42620" stroke="#7d1411"/>
<polygon points="395.5,221.4 397.9,220.8 396.4,219.3 394.0,220.0" fill="#e3221c" stroke="#7d120f"/>
<polygon points="424.5,224.1 426.8,224.2 425.3,222.9 422.9,222.7" fill="#dd4b47" stroke="#732724"/>
<polygon points="418.2,222.8 420.6,222.6 419.1,221.2 416.7,221.4" fill="#e03630" stroke="#781d19"/>
<polygon points="380.9,223.4 383.1,221.5 381.7,220.0 379.4,222.0" fill="#e72f29" stroke="#7c1916"/>
<polygon points="411.9,222.7 414.3,222.1 412.8,220.7 410.4,221.3" fill="#e52f2a" stroke="#7b1916"/>
<polygon points="386.9,221.9 389.3,221.3 387.8,219.8 385.5,220.5" fill="#e3221c" stroke="#7d120f"/>
<polygon points="405.6,222.5 408.0,221.9 406.5,220.4 404.1,221.0" fill="#e42a24" stroke="#7c1613"/>
<polygon points="393.1,222.1 395.5,221.4 394.0,220.0 391.7,220.6" fill="#e3221c" stroke="#7d120f"/>
<polygon points="399.4,222.3 401.7,221.6 400.3,220.1 397.9,220.8" fill="#e4251f" stroke="#7d1411"/>
<polygon points="428.3,225.5 430.7,225.2 429.2,223.9 426.8,224.2" fill="#e55854" stroke="#742c2a"/>
<polygon points="422.1,223.9 424.5,224.1 422.9,222.7 420.6,222.6" fill="#db3f3a" stroke="#74211e"/>
<polygon points="415.8,223.5 418.2,222.8 416.7,221.4 414.3,222.1" fill="#e5332d" stroke="#7b1b18"/>
<polygon points="378.7,226.4 380.9,223.4 379.4,222.0 377.3,224.9" fill="#e74843" stroke="#782522"/>
<polygon points="409.5,223.4 411.9,222.7 410.4,221.3 408.0,221.9" fill="#e52e28" stroke="#7c1815"/>
<polygon points="384.6,222.9 386.9,221.9 385.5,220.5 383.1,221.5" fill="#e5231d" stroke="#7e130f"/>
<polygon points="403.2,223.2 405.6,222.5 404.1,221.0 401.7,221.6" fill="#e42923" stroke="#7c1613"/>
<polygon points="390.7,222.8 393.1,222.1 391.7,220.6 389.3,221.3" fill="#e3221c" stroke="#7d120f"/>
<polygon points="397.0,223.0 399.4,222.3 397.9,220.8 395.5,221.4" fill="#e4251f" stroke="#7d1411"/>
<polygon points="426.0,225.4 428.3,225.5 426.8,224.2 424.5,224.1" fill="#dd4d48" stroke="#722725"/>
<polygon points="419.7,224.2 422.1,223.9 420.6,222.6 418.2,222.8" fill="#e13833" stroke="#781d1b"/>
<polygon points="376.6,230.6 378.7,226.4 377.3,224.9 375.3,229.1" fill="#e76f6b" stroke="#703634"/>
<polygon points="413.4,224.2 415.8,223.5 414.3,222.1 411.9,222.7" fill="#e5322d" stroke="#7b1a18"/>
<polygon points="382.3,224.9 384.6,222.9 383.1,221.5 380.9,223.4" fill="#e8302a" stroke="#7d1916"/>
<polygon points="407.1,224.0 409.5,223.4 408.0,221.9 405.6,222.5" fill="#e52d27" stroke="#7c1815"/>
<polygon points="388.4,223.5 390.7,222.8 389.3,221.3 386.9,221.9" fill="#e3221c" stroke="#7d120f"/>
<polygon points="400.8,223.8 403.2,223.2 401.7,221.6 399.4,222.3" fill="#e52923" stroke="#7d1613"/>
<polygon points="394.6,223.7 397.0,223.0 395.5,221.4 393.1,222.1" fill="#e4251f" stroke="#7d1411"/>
<polygon points="429.9,226.8 432.2,226.4 430.7,225.2 428.3,225.5" fill="#e55955" stroke="#732d2b"/>
<polygon points="423.6,225.3 426.0,225.4 424.5,224.1 422.1,223.9" fill="#db413c" stroke="#74221f"/>
<polygon points="417.3,224.9 419.7,224.2 418.2,222.8 415.8,223.5" fill="#e53530" stroke="#7a1c19"/>
<polygon points="374.7,236.0 376.6,230.6 375.3,229.1 373.4,234.5" fill="#eaa19f" stroke="#684746"/>
<polygon points="411.0,224.9 413.4,224.2 411.9,222.7 409.5,223.4" fill="#e5312c" stroke="#7b1a17"/>
<polygon points="380.1,227.9 382.3,224.9 380.9,223.4 378.7,226.4" fill="#e74944" stroke="#772523"/>
<polygon points="404.7,224.7 407.1,224.0 405.6,222.5 403.2,223.2" fill="#e52c27" stroke="#7c1715"/>
<polygon points="386.0,224.5 388.4,223.5 386.9,221.9 384.6,222.9" fill="#e6251f" stroke="#7e1411"/>
<polygon points="398.4,224.5 400.8,223.8 399.4,222.3 397.0,223.0" fill="#e52823" stroke="#7d1513"/>
<polygon points="392.2,224.3 394.6,223.7 393.1,222.1 390.7,222.8" fill="#e4251f" stroke="#7d1411"/>
<polygon points="427.5,226.7 429.9,226.8 428.3,225.5 426.0,225.4" fill="#dd4e49" stroke="#722825"/>
<polygon points="421.2,225.6 423.6,225.3 422.1,223.9 419.7,224.2" fill="#e13a35" stroke="#781e1c"/>
<polygon points="373.0,242.8 374.7,236.0 373.4,234.5 371.7,241.3" fill="#eed8d7" stroke="#5e5655"/>
<polygon points="414.9,225.6 417.3,224.9 415.8,223.5 413.4,224.2" fill="#e5352f" stroke="#7a1c19"/>
<polygon points="378.0,232.1 380.1,227.9 378.7,226.4 376.6,230.6" fill="#e8706c" stroke="#703634"/>
<polygon points="408.6,225.5 411.0,224.9 409.5,223.4 407.1,224.0" fill="#e5312b" stroke="#7b1a17"/>
<polygon points="431.4,228.0 433.8,227.7 432.2,226.4 429.9,226.8" fill="#e45a55" stroke="#732d2b"/>
<polygon points="383.7,226.4 386.0,224.5 384.6,222.9 382.3,224.9" fill="#e9322c" stroke="#7d1a17"/>
<polygon points="402.3,225.4 404.7,224.7 403.2,223.2 400.8,223.8" fill="#e52c26" stroke="#7c1714"/>
<polygon points="389.8,225.0 392.2,224.3 390.7,222.8 388.4,223.5" fill="#e4251f" stroke="#7d1411"/>
<polygon points="396.0,225.2 398.4,224.5 397.0,223.0 394.6,223.7" fill="#e52823" stroke="#7d1513"/>
<polygon points="425.1,226.6 427.5,226.7 426.0,225.4 423.6,225.3" fill="#dc423e" stroke="#742220"/>
<polygon points="418.8,226.3 421.2,225.6 419.7,224.2 417.3,224.9" fill="#e53832" stroke="#7a1d1a"/>
<polygon points="412.5,226.3 414.9,225.6 413.4,224.2 411.0,224.9" fill="#e6342f" stroke="#7b1b19"/>
<polygon points="376.1,237.5 378.0,232.1 376.6,230.6 374.7,236.0" fill="#eaa19f" stroke="#684746"/>
<polygon points="406.2,226.2 408.6,225.5 407.1,224.0 404.7,224.7" fill="#e6302a" stroke="#7c1916"/>
<polygon points="381.5,229.4 383.7,226.4 382.3,224.9 380.1,227.9" fill="#e84b46" stroke="#772624"/>
<polygon points="399.9,226.1 402.3,225.4 400.8,223.8 398.4,224.5" fill="#e62c26" stroke="#7c1714"/>
<polygon points="387.4,226.1 389.8,225.0 388.4,223.5 386.0,224.5" fill="#e72822" stroke="#7e1512"/>
<polygon points="429.0,228.0 431.4,228.0 429.9,226.8 427.5,226.7" fill="#dd4f4a" stroke="#722826"/>
<polygon points="393.6,225.9 396.0,225.2 394.6,223.7 392.2,224.3" fill="#e52823" stroke="#7d1513"/>
<polygon points="422.7,226.9 425.1,226.6 423.6,225.3 421.2,225.6" fill="#e13b36" stroke="#771f1c"/>
<polygon points="416.4,227.1 418.8,226.3 417.3,224.9 414.9,225.6" fill="#e63732" stroke="#7a1d1a"/>
<polygon points="432.9,229.3 435.3,228.9 433.8,227.7 431.4,228.0" fill="#e45a56" stroke="#732d2b"/>
<polygon points="374.3,244.2 376.1,237.5 374.7,236.0 373.0,242.8" fill="#eed8d7" stroke="#5e5655"/>
<polygon points="410.0,227.0 412.5,226.3 411.0,224.9 408.6,225.5" fill="#e6342e" stroke="#7b1b18"/>
<polygon points="379.4,233.6 381.5,229.4 380.1,227.9 378.0,232.1" fill="#e8716e" stroke="#703635"/>
<polygon points="403.8,226.9 406.2,226.2 404.7,224.7 402.3,225.4" fill="#e6302a" stroke="#7c1916"/>
<polygon points="385.1,228.0 387.4,226.1 386.0,224.5 383.7,226.4" fill="#ea352f" stroke="#7d1c19"/>
<polygon points="397.5,226.8 399.9,226.1 398.4,224.5 396.0,225.2" fill="#e62c26" stroke="#7c1714"/>
<polygon points="391.3,226.6 393.6,225.9 392.2,224.3 389.8,225.0" fill="#e52823" stroke="#7d1513"/>
<polygon points="426.6,227.9 429.0,228.0 427.5,226.7 425.1,226.6" fill="#db433e" stroke="#732320"/>
<polygon points="420.3,227.7 422.7,226.9 421.2,225.6 418.8,226.3" fill="#e53a34" stroke="#791e1b"/>
<polygon points="413.9,227.8 416.4,227.1 414.9,225.6 412.5,226.3" fill="#e63731" stroke="#7a1d1a"/>
<polygon points="407.6,227.8 410.0,227.0 408.6,225.5 406.2,226.2" fill="#e6332e" stroke="#7b1b18"/>
<polygon points="430.5,229.2 432.9,229.3 431.4,228.0 429.0,228.0" fill="#dc4f4b" stroke="#712826"/>
<polygon points="377.4,239.0 379.4,233.6 378.0,232.1 376.1,237.5" fill="#eaa2a0" stroke="#674747"/>
<polygon points="401.4,227.7 403.8,226.9 402.3,225.4 399.9,226.1" fill="#e6302a" stroke="#7c1916"/>
<polygon points="382.9,231.0 385.1,228.0 383.7,226.4 381.5,229.4" fill="#e94d49" stroke="#772725"/>
<polygon points="395.1,227.5 397.5,226.8 396.0,225.2 393.6,225.9" fill="#e62c26" stroke="#7c1714"/>
<polygon points="388.9,227.7 391.3,226.6 389.8,225.0 387.4,226.1" fill="#e82c26" stroke="#7d1714"/>
<polygon points="424.2,228.3 426.6,227.9 425.1,226.6 422.7,226.9" fill="#e13c37" stroke="#771f1d"/>
<polygon points="417.8,228.5 420.3,227.7 418.8,226.3 416.4,227.1" fill="#e63934" stroke="#7a1e1b"/>
<polygon points="434.4,230.5 436.8,230.1 435.3,228.9 432.9,229.3" fill="#e45a56" stroke="#732d2b"/>
<polygon points="411.5,228.5 413.9,227.8 412.5,226.3 410.0,227.0" fill="#e63731" stroke="#7a1d1a"/>
<polygon points="375.6,245.7 377.4,239.0 376.1,237.5 374.3,244.2" fill="#eed8d7" stroke="#5e5655"/>
<polygon points="405.2,228.5 407.6,227.8 406.2,226.2 403.8,226.9" fill="#e6332e" stroke="#7b1b18"/>
<polygon points="428.1,229.1 430.5,229.2 429.0,228.0 426.6,227.9" fill="#db443f" stroke="#732321"/>
<polygon points="380.8,235.2 382.9,231.0 381.5,229.4 379.4,233.6" fill="#e9736f" stroke="#703735"/>
<polygon points="398.9,228.4 401.4,227.7 399.9,226.1 397.5,226.8" fill="#e6302a" stroke="#7c1916"/>
<polygon points="386.5,229.6 388.9,227.7 387.4,226.1 385.1,228.0" fill="#eb3832" stroke="#7c1d1a"/>
<polygon points="392.7,228.2 395.1,227.5 393.6,225.9 391.3,226.6" fill="#e62c26" stroke="#7c1714"/>
<polygon points="421.8,229.0 424.2,228.3 422.7,226.9 420.3,227.7" fill="#e53b36" stroke="#791f1c"/>
<polygon points="415.4,229.2 417.8,228.5 416.4,227.1 413.9,227.8" fill="#e63934" stroke="#7a1e1b"/>
<polygon points="432.0,230.4 434.4,230.5 432.9,229.3 430.5,229.2" fill="#dc4f4b" stroke="#712826"/>
<polygon points="409.1,229.3 411.5,228.5 410.0,227.0 407.6,227.8" fill="#e63631" stroke="#7b1c1a"/>
<polygon points="402.8,229.2 405.2,228.5 403.8,226.9 401.4,227.7" fill="#e6332e" stroke="#7b1b18"/>
<polygon points="378.8,240.5 380.8,235.2 379.4,233.6 377.4,239.0" fill="#eba3a1" stroke="#684847"/>
<polygon points="396.5,229.1 398.9,228.4 397.5,226.8 395.1,227.5" fill="#e6302a" stroke="#7c1916"/>
<polygon points="384.3,232.6 386.5,229.6 385.1,228.0 382.9,231.0" fill="#ea504b" stroke="#772826"/>
<polygon points="390.3,229.3 392.7,228.2 391.3,226.6 388.9,227.7" fill="#e92f29" stroke="#7d1916"/>
<polygon points="425.7,229.5 428.1,229.1 426.6,227.9 424.2,228.3" fill="#e03d38" stroke="#77201d"/>
<polygon points="419.3,229.8 421.8,229.0 420.3,227.7 417.8,228.5" fill="#e53b35" stroke="#791f1c"/>
<polygon points="435.9,232.0 438.3,231.5 436.8,230.1 434.4,230.5" fill="#e85d59" stroke="#742e2c"/>
<polygon points="413.0,230.0 415.4,229.2 413.9,227.8 411.5,228.5" fill="#e63934" stroke="#7a1e1b"/>
<polygon points="429.6,230.3 432.0,230.4 430.5,229.2 428.1,229.1" fill="#db443f" stroke="#732321"/>
<polygon points="406.7,230.0 409.1,229.3 407.6,227.8 405.2,228.5" fill="#e63631" stroke="#7b1c1a"/>
<polygon points="376.9,247.2 378.8,240.5 377.4,239.0 375.6,245.7" fill="#eed8d8" stroke="#5e5555"/>
<polygon points="400.4,230.0 402.8,229.2 401.4,227.7 398.9,228.4" fill="#e6332e" stroke="#7b1b18"/>
<polygon points="382.1,236.7 384.3,232.6 382.9,231.0 380.8,235.2" fill="#e97572" stroke="#703836"/>
<polygon points="394.1,229.8 396.5,229.1 395.1,227.5 392.7,228.2" fill="#e6302a" stroke="#7c1916"/>
<polygon points="388.0,231.2 390.3,229.3 388.9,227.7 386.5,229.6" fill="#eb3b36" stroke="#7c1f1c"/>
<polygon points="423.3,230.3 425.7,229.5 424.2,228.3 421.8,229.0" fill="#e53b36" stroke="#791f1c"/>
<polygon points="416.9,230.6 419.3,229.8 417.8,228.5 415.4,229.2" fill="#e53b35" stroke="#791f1c"/>
<polygon points="433.5,231.9 435.9,232.0 434.4,230.5 432.0,230.4" fill="#e0524e" stroke="#732a28"/>
<polygon points="410.6,230.7 413.0,230.0 411.5,228.5 409.1,229.3" fill="#e63933" stroke="#7a1e1b"/>
<polygon points="404.3,230.8 406.7,230.0 405.2,228.5 402.8,229.2" fill="#e63631" stroke="#7b1c1a"/>
<polygon points="427.2,230.8 429.6,230.3 428.1,229.1 425.7,229.5" fill="#e03d38" stroke="#77201d"/>
<polygon points="398.0,230.7 400.4,230.0 398.9,228.4 396.5,229.1" fill="#e6332e" stroke="#7b1b18"/>
<polygon points="380.1,242.1 382.1,236.7 380.8,235.2 378.8,240.5" fill="#eba5a3" stroke="#674847"/>
<polygon points="391.7,230.9 394.1,229.8 392.7,228.2 390.3,229.3" fill="#e9332d" stroke="#7d1b18"/>
<polygon points="385.7,234.2 388.0,231.2 386.5,229.6 384.3,232.6" fill="#ea534e" stroke="#772a27"/>
<polygon points="437.4,234.0 439.8,233.5 438.3,231.5 435.9,232.0" fill="#ee6762" stroke="#753230"/>
<polygon points="420.8,231.1 423.3,230.3 421.8,229.0 419.3,229.8" fill="#e53b36" stroke="#791f1c"/>
<polygon points="414.5,231.4 416.9,230.6 415.4,229.2 413.0,230.0" fill="#e53b35" stroke="#791f1c"/>
<polygon points="431.1,231.9 433.5,231.9 432.0,230.4 429.6,230.3" fill="#df4742" stroke="#742522"/>
<polygon points="408.1,231.5 410.6,230.7 409.1,229.3 406.7,230.0" fill="#e63933" stroke="#7a1e1b"/>
<polygon points="401.8,231.5 404.3,230.8 402.8,229.2 400.4,230.0" fill="#e63631" stroke="#7b1c1a"/>
<polygon points="378.2,248.7 380.1,242.1 378.8,240.5 376.9,247.2" fill="#eed9d8" stroke="#5e5655"/>
<polygon points="424.8,231.6 427.2,230.8 425.7,229.5 423.3,230.3" fill="#e43c36" stroke="#791f1c"/>
<polygon points="395.6,231.4 398.0,230.7 396.5,229.1 394.1,229.8" fill="#e6332e" stroke="#7b1b18"/>
<polygon points="383.5,238.3 385.7,234.2 384.3,232.6 382.1,236.7" fill="#ea7774" stroke="#703937"/>
<polygon points="389.4,232.8 391.7,230.9 390.3,229.3 388.0,231.2" fill="#ec3f39" stroke="#7c211d"/>
<polygon points="418.4,231.9 420.8,231.1 419.3,229.8 416.9,230.6" fill="#e53b36" stroke="#791f1c"/>
<polygon points="435.0,234.0 437.4,234.0 435.9,232.0 433.5,231.9" fill="#e75c58" stroke="#742e2c"/>
<polygon points="412.0,232.1 414.5,231.4 413.0,230.0 410.6,230.7" fill="#e63b35" stroke="#7a1f1c"/>
<polygon points="428.7,232.3 431.1,231.9 429.6,230.3 427.2,230.8" fill="#e5413b" stroke="#78221f"/>
<polygon points="405.7,232.3 408.1,231.5 406.7,230.0 404.3,230.8" fill="#e63933" stroke="#7a1e1b"/>
<polygon points="399.4,232.3 401.8,231.5 400.4,230.0 398.0,230.7" fill="#e63631" stroke="#7b1c1a"/>
<polygon points="438.8,236.6 441.2,236.1 439.8,233.5 437.4,234.0" fill="#f37773" stroke="#733836"/>
<polygon points="393.2,232.5 395.6,231.4 394.1,229.8 391.7,230.9" fill="#e93631" stroke="#7c1c1a"/>
<polygon points="381.4,243.6 383.5,238.3 382.1,236.7 380.1,242.1" fill="#eba6a4" stroke="#674948"/>
<polygon points="387.1,235.8 389.4,232.8 388.0,231.2 385.7,234.2" fill="#eb5652" stroke="#772b29"/>
<polygon points="422.3,232.4 424.8,231.6 423.3,230.3 420.8,231.1" fill="#e43c36" stroke="#791f1c"/>
<polygon points="415.9,232.7 418.4,231.9 416.9,230.6 414.5,231.4" fill="#e53b36" stroke="#791f1c"/>
<polygon points="432.6,234.0 435.0,234.0 433.5,231.9 431.1,231.9" fill="#e6514c" stroke="#752926"/>
<polygon points="409.6,232.9 412.0,232.1 410.6,230.7 408.1,231.5" fill="#e63b35" stroke="#7a1f1c"/>
<polygon points="403.3,233.0 405.7,232.3 404.3,230.8 401.8,231.5" fill="#e63933" stroke="#7a1e1b"/>
<polygon points="426.3,233.1 428.7,232.3 427.2,230.8 424.8,231.6" fill="#e93f3a" stroke="#7a211e"/>
<polygon points="397.0,233.0 399.4,232.3 398.0,230.7 395.6,231.4" fill="#e63631" stroke="#7b1c1a"/>
<polygon points="379.5,250.2 381.4,243.6 380.1,242.1 378.2,248.7" fill="#eed9d9" stroke="#5e5656"/>
<polygon points="390.8,234.5 393.2,232.5 391.7,230.9 389.4,232.8" fill="#ec423d" stroke="#7b221f"/>
<polygon points="384.9,239.9 387.1,235.8 385.7,234.2 383.5,238.3" fill="#ea7a76" stroke="#6f3a38"/>
<polygon points="436.4,236.7 438.8,236.6 437.4,234.0 435.0,234.0" fill="#ed6d69" stroke="#733533"/>
<polygon points="419.9,233.2 422.3,232.4 420.8,231.1 418.4,231.9" fill="#e43c36" stroke="#791f1c"/>
<polygon points="413.5,233.5 415.9,232.7 414.5,231.4 412.0,232.1" fill="#e53b36" stroke="#791f1c"/>
<polygon points="430.2,234.5 432.6,234.0 431.1,231.9 428.7,232.3" fill="#eb4b46" stroke="#792624"/>
<polygon points="407.2,233.7 409.6,232.9 408.1,231.5 405.7,232.3" fill="#e63b35" stroke="#7a1f1c"/>
<polygon points="440.2,239.8 442.6,239.2 441.2,236.1 438.8,236.6" fill="#f68d8a" stroke="#70403f"/>
<polygon points="400.9,233.8 403.3,233.0 401.8,231.5 399.4,232.3" fill="#e63933" stroke="#7a1e1b"/>
<polygon points="423.8,234.0 426.3,233.1 424.8,231.6 422.3,232.4" fill="#e93f3a" stroke="#7a211e"/>
<polygon points="394.6,234.1 397.0,233.0 395.6,231.4 393.2,232.5" fill="#e93934" stroke="#7b1e1b"/>
<polygon points="388.5,237.4 390.8,234.5 389.4,232.8 387.1,235.8" fill="#eb5954" stroke="#762c2a"/>
<polygon points="382.8,245.2 384.9,239.9 383.5,238.3 381.4,243.6" fill="#eca8a6" stroke="#674948"/>
<polygon points="434.0,236.8 436.4,236.7 435.0,234.0 432.6,234.0" fill="#ec635e" stroke="#75312e"/>
<polygon points="417.4,234.0 419.9,233.2 418.4,231.9 415.9,232.7" fill="#e43c36" stroke="#791f1c"/>
<polygon points="411.1,234.3 413.5,233.5 412.0,232.1 409.6,232.9" fill="#e53b36" stroke="#791f1c"/>
<polygon points="427.7,235.3 430.2,234.5 428.7,232.3 426.3,233.1" fill="#ef4944" stroke="#7b2523"/>
<polygon points="404.7,234.5 407.2,233.7 405.7,232.3 403.3,233.0" fill="#e63b35" stroke="#7a1f1c"/>
<polygon points="437.8,240.1 440.2,239.8 438.8,236.6 436.4,236.7" fill="#f28582" stroke="#703d3c"/>
<polygon points="398.4,234.6 400.9,233.8 399.4,232.3 397.0,233.0" fill="#e63933" stroke="#7a1e1b"/>
<polygon points="392.2,236.0 394.6,234.1 393.2,232.5 390.8,234.5" fill="#ec4540" stroke="#7a2321"/>
<polygon points="421.3,234.8 423.8,234.0 422.3,232.4 419.9,233.2" fill="#e93f3a" stroke="#7a211e"/>
<polygon points="380.8,251.7 382.8,245.2 381.4,243.6 379.5,250.2" fill="#efdad9" stroke="#5e5655"/>
<polygon points="386.3,241.5 388.5,237.4 387.1,235.8 384.9,239.9" fill="#eb7c79" stroke="#6f3a39"/>
<polygon points="415.0,234.8 417.4,234.0 415.9,232.7 413.5,233.5" fill="#e43c36" stroke="#791f1c"/>
<polygon points="431.6,237.3 434.0,236.8 432.6,234.0 430.2,234.5" fill="#f05d58" stroke="#772e2b"/>
<polygon points="441.4,243.8 443.9,243.1 442.6,239.2 440.2,239.8" fill="#f9aba8" stroke="#6b4948"/>
<polygon points="408.6,235.1 411.1,234.3 409.6,232.9 407.2,233.7" fill="#e53b36" stroke="#791f1c"/>
<polygon points="425.2,236.1 427.7,235.3 426.3,233.1 423.8,234.0" fill="#ef4944" stroke="#7b2523"/>
<polygon points="402.3,235.3 404.7,234.5 403.3,233.0 400.9,233.8" fill="#e63b35" stroke="#7a1f1c"/>
<polygon points="396.0,235.6 398.4,234.6 397.0,233.0 394.6,234.1" fill="#e93c36" stroke="#7b1f1c"/>
<polygon points="435.3,240.3 437.8,240.1 436.4,236.7 434.0,236.8" fill="#f17c79" stroke="#723a39"/>
<polygon points="389.9,239.0 392.2,236.0 390.8,234.5 388.5,237.4" fill="#eb5c57" stroke="#752e2b"/>
<polygon points="384.1,246.7 386.3,241.5 384.9,239.9 382.8,245.2" fill="#eca9a7" stroke="#674949"/>
<polygon points="418.9,235.6 421.3,234.8 419.9,233.2 417.4,234.0" fill="#e93f3a" stroke="#7a211e"/>
<polygon points="412.5,235.6 415.0,234.8 413.5,233.5 411.1,234.3" fill="#e43c36" stroke="#791f1c"/>
<polygon points="429.1,238.2 431.6,237.3 430.2,234.5 427.7,235.3" fill="#f25b57" stroke="#792d2b"/>
<polygon points="406.2,235.9 408.6,235.1 407.2,233.7 404.7,234.5" fill="#e53b36" stroke="#791f1c"/>
<polygon points="439.0,244.2 441.4,243.8 440.2,239.8 437.8,240.1" fill="#f6a4a2" stroke="#6b4747"/>
<polygon points="399.9,236.0 402.3,235.3 400.9,233.8 398.4,234.6" fill="#e63b35" stroke="#7a1f1c"/>
<polygon points="422.8,237.0 425.2,236.1 423.8,234.0 421.3,234.8" fill="#ef4944" stroke="#7b2523"/>
<polygon points="393.6,237.6 396.0,235.6 394.6,234.1 392.2,236.0" fill="#ec4742" stroke="#7a2422"/>
<polygon points="387.6,243.0 389.9,239.0 388.5,237.4 386.3,241.5" fill="#eb7e7b" stroke="#6f3b3a"/>
<polygon points="382.1,253.1 384.1,246.7 382.8,245.2 380.8,251.7" fill="#efdbda" stroke="#5e5656"/>
<polygon points="432.9,240.9 435.3,240.3 434.0,236.8 431.6,237.3" fill="#f37874" stroke="#733937"/>
<polygon points="416.4,236.4 418.9,235.6 417.4,234.0 415.0,234.8" fill="#e93f3a" stroke="#7a211e"/>
<polygon points="442.6,248.5 445.1,247.7 443.9,243.1 441.4,243.8" fill="#fccdcb" stroke="#655251"/>
<polygon points="410.1,236.4 412.5,235.6 411.1,234.3 408.6,235.1" fill="#e43c36" stroke="#791f1c"/>
<polygon points="426.7,239.0 429.1,238.2 427.7,235.3 425.2,236.1" fill="#f25b57" stroke="#792d2b"/>
<polygon points="403.7,236.6 406.2,235.9 404.7,234.5 402.3,235.3" fill="#e53b36" stroke="#791f1c"/>
<polygon points="436.6,244.6 439.0,244.2 437.8,240.1 435.3,240.3" fill="#f59e9b" stroke="#6c4644"/>
<polygon points="397.4,237.1 399.9,236.0 398.4,234.6 396.0,235.6" fill="#e83e38" stroke="#7a201d"/>
<polygon points="420.3,237.8 422.8,237.0 421.3,234.8 418.9,235.6" fill="#ef4944" stroke="#7b2523"/>
<polygon points="391.3,240.5 393.6,237.6 392.2,236.0 389.9,239.0" fill="#eb5e59" stroke="#752f2c"/>
<polygon points="385.5,248.2 387.6,243.0 386.3,241.5 384.1,246.7" fill="#ecaaa8" stroke="#674a49"/>
<polygon points="430.5,241.8 432.9,240.9 431.6,237.3 429.1,238.2" fill="#f57773" stroke="#743836"/>
<polygon points="414.0,237.2 416.4,236.4 415.0,234.8 412.5,235.6" fill="#e93f3a" stroke="#7a211e"/>
<polygon points="440.2,249.1 442.6,248.5 441.4,243.8 439.0,244.2" fill="#fac9c7" stroke="#655150"/>
<polygon points="407.6,237.2 410.1,236.4 408.6,235.1 406.2,235.9" fill="#e43c36" stroke="#791f1c"/>
<polygon points="424.2,239.8 426.7,239.0 425.2,236.1 422.8,237.0" fill="#f25b57" stroke="#792d2b"/>
<polygon points="401.3,237.4 403.7,236.6 402.3,235.3 399.9,236.0" fill="#e53b36" stroke="#791f1c"/>
<polygon points="395.0,239.1 397.4,237.1 396.0,235.6 393.6,237.6" fill="#eb4944" stroke="#792523"/>
<polygon points="434.2,245.3 436.6,244.6 435.3,240.3 432.9,240.9" fill="#f69a97" stroke="#6d4443"/>
<polygon points="389.0,244.6 391.3,240.5 389.9,239.0 387.6,243.0" fill="#eb807c" stroke="#6e3c3a"/>
<polygon points="443.7,253.9 446.2,253.1 445.1,247.7 442.6,248.5" fill="#fff0f0" stroke="#5e5959"/>
<polygon points="417.9,238.6 420.3,237.8 418.9,235.6 416.4,236.4" fill="#ef4944" stroke="#7b2523"/>
<polygon points="383.4,254.6 385.5,248.2 384.1,246.7 382.1,253.1" fill="#efdbda" stroke="#5e5656"/>
<polygon points="411.5,238.0 414.0,237.2 412.5,235.6 410.1,236.4" fill="#e93f3a" stroke="#7a211e"/>
<polygon points="428.0,242.6 430.5,241.8 429.1,238.2 426.7,239.0" fill="#f57773" stroke="#743836"/>
<polygon points="437.8,249.8 440.2,249.1 439.0,244.2 436.6,244.6" fill="#f9c5c3" stroke="#66504f"/>
<polygon points="405.2,238.0 407.6,237.2 406.2,235.9 403.7,236.6" fill="#e43c36" stroke="#791f1c"/>
<polygon points="421.7,240.7 424.2,239.8 422.8,237.0 420.3,237.8" fill="#f25b57" stroke="#792d2b"/>
<polygon points="398.9,238.6 401.3,237.4 399.9,236.0 397.4,237.1" fill="#e83e39" stroke="#7a201e"/>
<polygon points="392.7,242.0 395.0,239.1 393.6,237.6 391.3,240.5" fill="#eb5f5b" stroke="#752f2d"/>
<polygon points="386.8,249.7 389.0,244.6 387.6,243.0 385.5,248.2" fill="#ecaba9" stroke="#664a49"/>
<polygon points="431.7,246.2 434.2,245.3 432.9,240.9 430.5,241.8" fill="#f79996" stroke="#6e4443"/>
<polygon points="415.4,239.5 417.9,238.6 416.4,236.4 414.0,237.2" fill="#ef4944" stroke="#7b2523"/>
<polygon points="441.3,254.8 443.7,253.9 442.6,248.5 440.2,249.1" fill="#ffefee" stroke="#5f5958"/>
<polygon points="409.1,238.9 411.5,238.0 410.1,236.4 407.6,237.2" fill="#e93f3a" stroke="#7a211e"/>
<polygon points="425.5,243.5 428.0,242.6 426.7,239.0 424.2,239.8" fill="#f57773" stroke="#743836"/>
<polygon points="402.7,238.8 405.2,238.0 403.7,236.6 401.3,237.4" fill="#e43c36" stroke="#791f1c"/>
<polygon points="435.4,250.5 437.8,249.8 436.6,244.6 434.2,245.3" fill="#fac2c1" stroke="#674f4f"/>
<polygon points="396.4,240.5 398.9,238.6 397.4,237.1 395.0,239.1" fill="#eb4a45" stroke="#792623"/>
<polygon points="419.3,241.5 421.7,240.7 420.3,237.8 417.9,238.6" fill="#f25b57" stroke="#792d2b"/>
<polygon points="390.4,246.1 392.7,242.0 391.3,240.5 389.0,244.6" fill="#eb817d" stroke="#6e3c3a"/>
<polygon points="384.7,256.1 386.8,249.7 385.5,248.2 383.4,254.6" fill="#efdbdb" stroke="#5e5656"/>
<polygon points="429.3,247.0 431.7,246.2 430.5,241.8 428.0,242.6" fill="#f79996" stroke="#6e4443"/>
<polygon points="413.0,240.3 415.4,239.5 414.0,237.2 411.5,238.0" fill="#ef4944" stroke="#7b2523"/>
<polygon points="438.9,255.7 441.3,254.8 440.2,249.1 437.8,249.8" fill="#feeded" stroke="#5f5858"/>
<polygon points="406.6,239.7 409.1,238.9 407.6,237.2 405.2,238.0" fill="#e93f3a" stroke="#7a211e"/>
<polygon points="423.1,244.3 425.5,243.5 424.2,239.8 421.7,240.7" fill="#f57773" stroke="#743836"/>
<polygon points="400.3,239.9 402.7,238.8 401.3,237.4 398.9,238.6" fill="#e73f39" stroke="#79211e"/>
<polygon points="432.9,251.4 435.4,250.5 434.2,245.3 431.7,246.2" fill="#fac2c0" stroke="#674f4f"/>
<polygon points="394.1,243.5 396.4,240.5 395.0,239.1 392.7,242.0" fill="#eb605b" stroke="#752f2d"/>
<polygon points="416.8,242.4 419.3,241.5 417.9,238.6 415.4,239.5" fill="#f25b57" stroke="#792d2b"/>
<polygon points="388.1,251.2 390.4,246.1 389.0,244.6 386.8,249.7" fill="#ecacaa" stroke="#664a4a"/>
<polygon points="410.5,241.1 413.0,240.3 411.5,238.0 409.1,238.9" fill="#ef4944" stroke="#7b2523"/>
<polygon points="426.8,247.9 429.3,247.0 428.0,242.6 425.5,243.5" fill="#f79996" stroke="#6e4443"/>
<polygon points="436.5,256.6 438.9,255.7 437.8,249.8 435.4,250.5" fill="#feecec" stroke="#5f5858"/>
<polygon points="404.2,240.5 406.6,239.7 405.2,238.0 402.7,238.8" fill="#e93f3a" stroke="#7a211e"/>
<polygon points="420.6,245.2 423.1,244.3 421.7,240.7 419.3,241.5" fill="#f57773" stroke="#743836"/>
<polygon points="397.9,241.9 400.3,239.9 398.9,238.6 396.4,240.5" fill="#ea4a45" stroke="#792623"/>
<polygon points="391.7,247.5 394.1,243.5 392.7,242.0 390.4,246.1" fill="#eb817e" stroke="#6e3c3b"/>
<polygon points="430.5,252.3 432.9,251.4 431.7,246.2 429.3,247.0" fill="#fac2c0" stroke="#674f4f"/>
<polygon points="386.0,257.6 388.1,251.2 386.8,249.7 384.7,256.1" fill="#efdcdb" stroke="#5e5656"/>
<polygon points="414.4,243.2 416.8,242.4 415.4,239.5 413.0,240.3" fill="#f25b57" stroke="#792d2b"/>
<polygon points="408.0,242.0 410.5,241.1 409.1,238.9 406.6,239.7" fill="#ef4944" stroke="#7b2523"/>
<polygon points="424.4,248.8 426.8,247.9 425.5,243.5 423.1,244.3" fill="#f79996" stroke="#6e4443"/>
<polygon points="434.0,257.5 436.5,256.6 435.4,250.5 432.9,251.4" fill="#feecec" stroke="#5f5858"/>
<polygon points="401.7,241.6 404.2,240.5 402.7,238.8 400.3,239.9" fill="#ec423d" stroke="#7b221f"/>
<polygon points="418.2,246.1 420.6,245.2 419.3,241.5 416.8,242.4" fill="#f57773" stroke="#743836"/>
<polygon points="395.4,244.9 397.9,241.9 396.4,240.5 394.1,243.5" fill="#ea605c" stroke="#742f2d"/>
<polygon points="389.5,252.7 391.7,247.5 390.4,246.1 388.1,251.2" fill="#ecacaa" stroke="#664a4a"/>
<polygon points="428.1,253.2 430.5,252.3 429.3,247.0 426.8,247.9" fill="#fac2c0" stroke="#674f4f"/>
<polygon points="411.9,244.1 414.4,243.2 413.0,240.3 410.5,241.1" fill="#f25b57" stroke="#792d2b"/>
<polygon points="405.6,242.8 408.0,242.0 406.6,239.7 404.2,240.5" fill="#ef4944" stroke="#7b2523"/>
<polygon points="421.9,249.7 424.4,248.8 423.1,244.3 420.6,245.2" fill="#f79996" stroke="#6e4443"/>
<polygon points="399.3,243.6 401.7,241.6 400.3,239.9 397.9,241.9" fill="#ee4d48" stroke="#7a2724"/>
<polygon points="431.6,258.4 434.0,257.5 432.9,251.4 430.5,252.3" fill="#feecec" stroke="#5f5858"/>
<polygon points="393.1,249.0 395.4,244.9 394.1,243.5 391.7,247.5" fill="#ea817e" stroke="#6e3c3b"/>
<polygon points="415.7,246.9 418.2,246.1 416.8,242.4 414.4,243.2" fill="#f57773" stroke="#743836"/>
<polygon points="387.3,259.1 389.5,252.7 388.1,251.2 386.0,257.6" fill="#efdcdb" stroke="#5e5656"/>
<polygon points="425.6,254.1 428.1,253.2 426.8,247.9 424.4,248.8" fill="#fac2c0" stroke="#674f4f"/>
<polygon points="409.4,244.9 411.9,244.1 410.5,241.1 408.0,242.0" fill="#f25b57" stroke="#792d2b"/>
<polygon points="403.1,243.9 405.6,242.8 404.2,240.5 401.7,241.6" fill="#f04c47" stroke="#7b2724"/>
<polygon points="419.5,250.5 421.9,249.7 420.6,245.2 418.2,246.1" fill="#f79996" stroke="#6e4443"/>
<polygon points="396.8,246.6 399.3,243.6 397.9,241.9 395.4,244.9" fill="#ed635f" stroke="#75312f"/>
<polygon points="429.2,259.3 431.6,258.4 430.5,252.3 428.1,253.2" fill="#feecec" stroke="#5f5858"/>
<polygon points="390.8,254.2 393.1,249.0 391.7,247.5 389.5,252.7" fill="#ecacaa" stroke="#664a4a"/>
<polygon points="413.3,247.8 415.7,246.9 414.4,243.2 411.9,244.1" fill="#f57773" stroke="#743836"/>
<polygon points="407.0,245.8 409.4,244.9 408.0,242.0 405.6,242.8" fill="#f25b57" stroke="#792d2b"/>
<polygon points="423.2,254.9 425.6,254.1 424.4,248.8 421.9,249.7" fill="#fac2c0" stroke="#674f4f"/>
<polygon points="400.7,245.9 403.1,243.9 401.7,241.6 399.3,243.6" fill="#f15651" stroke="#792b28"/>
<polygon points="417.0,251.4 419.5,250.5 418.2,246.1 415.7,246.9" fill="#f79996" stroke="#6e4443"/>
<polygon points="394.5,250.6 396.8,246.6 395.4,244.9 393.1,249.0" fill="#ed8480" stroke="#6e3d3b"/>
<polygon points="388.6,260.6 390.8,254.2 389.5,252.7 387.3,259.1" fill="#efdcdb" stroke="#5e5656"/>
<polygon points="426.8,260.2 429.2,259.3 428.1,253.2 425.6,254.1" fill="#feecec" stroke="#5f5858"/>
<polygon points="410.8,248.6 413.3,247.8 411.9,244.1 409.4,244.9" fill="#f57773" stroke="#743836"/>
<polygon points="404.5,246.9 407.0,245.8 405.6,242.8 403.1,243.9" fill="#f25d59" stroke="#782e2c"/>
<polygon points="420.7,255.8 423.2,254.9 421.9,249.7 419.5,250.5" fill="#fac2c0" stroke="#674f4f"/>
<polygon points="398.2,248.7 400.7,245.9 399.3,243.6 396.8,246.6" fill="#f36c68" stroke="#763432"/>
<polygon points="392.1,255.7 394.5,250.6 393.1,249.0 390.8,254.2" fill="#edaeac" stroke="#664b4a"/>
<polygon points="414.6,252.3 417.0,251.4 415.7,246.9 413.3,247.8" fill="#f79996" stroke="#6e4443"/>
<polygon points="424.3,261.1 426.8,260.2 425.6,254.1 423.2,254.9" fill="#feecec" stroke="#5f5858"/>
<polygon points="408.4,249.5 410.8,248.6 409.4,244.9 407.0,245.8" fill="#f57773" stroke="#743836"/>
<polygon points="402.1,248.7 404.5,246.9 403.1,243.9 400.7,245.9" fill="#f36762" stroke="#773230"/>
<polygon points="418.3,256.7 420.7,255.8 419.5,250.5 417.0,251.4" fill="#fac2c0" stroke="#674f4f"/>
<polygon points="395.8,252.6 398.2,248.7 396.8,246.6 394.5,250.6" fill="#f18b88" stroke="#6f403e"/>
<polygon points="389.9,262.0 392.1,255.7 390.8,254.2 388.6,260.6" fill="#f0dcdc" stroke="#5e5656"/>
<polygon points="412.2,253.1 414.6,252.3 413.3,247.8 410.8,248.6" fill="#f79996" stroke="#6e4443"/>
<polygon points="421.9,262.0 424.3,261.1 423.2,254.9 420.7,255.8" fill="#feecec" stroke="#5f5858"/>
<polygon points="405.9,250.6 408.4,249.5 407.0,245.8 404.5,246.9" fill="#f57874" stroke="#743937"/>
<polygon points="399.6,251.4 402.1,248.7 400.7,245.9 398.2,248.7" fill="#f67b77" stroke="#743a38"/>
<polygon points="415.9,257.6 418.3,256.7 417.0,251.4 414.6,252.3" fill="#fac2c0" stroke="#674f4f"/>
<polygon points="393.5,257.5 395.8,252.6 394.5,250.6 392.1,255.7" fill="#f0b3b1" stroke="#664c4b"/>
<polygon points="409.7,254.0 412.2,253.1 410.8,248.6 408.4,249.5" fill="#f79996" stroke="#6e4443"/>
<polygon points="403.4,252.3 405.9,250.6 404.5,246.9 402.1,248.7" fill="#f6807c" stroke="#733b3a"/>
<polygon points="419.5,262.9 421.9,262.0 420.7,255.8 418.3,256.7" fill="#feecec" stroke="#5f5858"/>
<polygon points="397.2,255.0 399.6,251.4 398.2,248.7 395.8,252.6" fill="#f69896" stroke="#6e4443"/>
<polygon points="413.4,258.5 415.9,257.6 414.6,252.3 412.2,253.1" fill="#fac2c0" stroke="#674f4f"/>
<polygon points="391.2,263.5 393.5,257.5 392.1,255.7 389.9,262.0" fill="#f1dede" stroke="#5e5757"/>
<polygon points="407.3,255.1 409.7,254.0 408.4,249.5 405.9,250.6" fill="#f99b98" stroke="#6e4443"/>
<polygon points="401.0,254.6 403.4,252.3 402.1,248.7 399.6,251.4" fill="#f8918e" stroke="#704140"/>
<polygon points="417.1,263.8 419.5,262.9 418.3,256.7 415.9,257.6" fill="#feecec" stroke="#5f5858"/>
<polygon points="394.8,259.5 397.2,255.0 395.8,252.6 393.5,257.5" fill="#f4bcba" stroke="#664e4d"/>
<polygon points="411.0,259.4 413.4,258.5 412.2,253.1 409.7,254.0" fill="#fac2c0" stroke="#674f4f"/>
<polygon points="404.8,256.5 407.3,255.1 405.9,250.6 403.4,252.3" fill="#faa29f" stroke="#6d4745"/>
<polygon points="398.6,257.8 401.0,254.6 399.6,251.4 397.2,255.0" fill="#fcaca9" stroke="#6c4948"/>
<polygon points="414.7,264.7 417.1,263.8 415.9,257.6 413.4,258.5" fill="#feecec" stroke="#5f5858"/>
<polygon points="392.5,265.0 394.8,259.5 393.5,257.5 391.2,263.5" fill="#f3e2e1" stroke="#5e5757"/>
<polygon points="408.6,260.3 411.0,259.4 409.7,254.0 407.3,255.1" fill="#fbc3c2" stroke="#67504f"/>
<polygon points="402.4,258.5 404.8,256.5 403.4,252.3 401.0,254.6" fill="#fcaeac" stroke="#6b4a49"/>
<polygon points="396.2,261.7 398.6,257.8 397.2,255.0 394.8,259.5" fill="#fac9c8" stroke="#655151"/>
<polygon points="412.2,265.6 414.7,264.7 413.4,258.5 411.0,259.4" fill="#feecec" stroke="#5f5858"/>
<polygon points="406.1,261.6 408.6,260.3 407.3,255.1 404.8,256.5" fill="#fec8c7" stroke="#675150"/>
<polygon points="399.9,261.1 402.4,258.5 401.0,254.6 398.6,257.8" fill="#fec2c0" stroke="#684f4e"/>
<polygon points="393.8,266.5 396.2,261.7 394.8,259.5 392.5,265.0" fill="#f6e7e7" stroke="#5e5858"/>
<polygon points="409.8,266.5 412.2,265.6 411.0,259.4 408.6,260.3" fill="#feedec" stroke="#5f5858"/>
<polygon points="403.7,263.1 406.1,261.6 404.8,256.5 402.4,258.5" fill="#ffd1d0" stroke="#655352"/>
<polygon points="397.5,264.2 399.9,261.1 398.6,257.8 396.2,261.7" fill="#ffdbda" stroke="#635554"/>
<polygon points="407.4,267.4 409.8,266.5 408.6,260.3 406.1,261.6" fill="#ffefee" stroke="#5f5958"/>
<polygon points="401.2,264.9 403.7,263.1 402.4,258.5 399.9,261.1" fill="#ffdddc" stroke="#625555"/>
<polygon points="395.1,268.0 397.5,264.2 396.2,261.7 393.8,266.5" fill="#fbefef" stroke="#5e5959"/>
<polygon points="405.0,268.3 407.4,267.4 406.1,261.6 403.7,263.1" fill="#fff2f2" stroke="#5e5959"/>
<polygon points="398.8,267.0 401.2,264.9 399.9,261.1 397.5,264.2" fill="#ffeceb" stroke="#5f5858"/>
<polygon points="402.5,269.2 405.0,268.3 403.7,263.1 401.2,264.9" fill="#fff8f8" stroke="#5d5a5a"/>
<polygon points="396.4,269.5 398.8,267.0 397.5,264.2 395.1,268.0" fill="#fffafa" stroke="#5c5b5b"/>
<polygon points="400.1,270.1 402.5,269.2 401.2,264.9 398.8,267.0" fill="#fffdfd" stroke="#5c5b5b"/>
<polygon points="397.7,271.0 400.1,270.1 398.8,267.0 396.4,269.5" fill="#ffffff" stroke="#5b5b5b"/>
</g>
<text x="365.00" y="225.80" font-size="7.7" text-anchor="end" font-weight="normal" fill="#333" color="#333" >30</text>
<text x="365.00" y="247.50" font-size="7.7" text-anchor="end" font-weight="normal" fill="#333" color="#333" >0</text>
<text x="365.00" y="263.75" font-size="7.7" text-anchor="end" font-weight="normal" fill="#333" color="#333" >−30</text>
<text transform="translate(339.50,244.40) rotate(-90)" x="0" y="3.31" font-size="9.2" text-anchor="middle" fill="#222" color="#222" textLength="17.2" lengthAdjust="spacingAndGlyphs">Score</text>
<text x="364.15" y="273.30" font-size="7.7" text-anchor="middle" font-weight="normal" fill="#333" color="#333" >2.5</text>
<text x="371.20" y="280.60" font-size="7.7" text-anchor="middle" font-weight="normal" fill="#333" color="#333" >1</text>
<text x="377.50" y="291.30" font-size="7.7" text-anchor="middle" font-weight="normal" fill="#333" color="#333" >0.5</text>
<text x="384.80" y="302.00" font-size="7.7" text-anchor="middle" font-weight="normal" fill="#333" color="#333" >0.25</text>
<text x="409.70" y="303.90" font-size="7.7" text-anchor="middle" font-weight="normal" fill="#333" color="#333" >0.05</text>
<text x="424.10" y="299.90" font-size="7.7" text-anchor="middle" font-weight="normal" fill="#333" color="#333" >0.1</text>
<text x="438.80" y="295.90" font-size="7.7" text-anchor="middle" font-weight="normal" fill="#333" color="#333" >0.2</text>
<text x="451.40" y="291.80" font-size="7.7" text-anchor="middle" font-weight="normal" fill="#333" color="#333" >0.5</text>
<text transform="translate(359.80,292.80) rotate(57)" x="0" y="3.60" font-size="10.0" text-anchor="middle" fill="#222" color="#222" textLength="29" lengthAdjust="spacingAndGlyphs">EPZ (μM)</text>
<text transform="translate(440.50,313.30) rotate(-26)" x="0" y="3.60" font-size="10.0" text-anchor="middle" fill="#222" color="#222" textLength="29" lengthAdjust="spacingAndGlyphs">OR21 (μM)</text>
<text x="0.60" y="346.60" font-size="11.5" text-anchor="start" font-weight="bold" fill="#111" color="#111" >B</text>
<text x="18.50" y="378.80" font-size="10" text-anchor="start" font-weight="normal" fill="#222" color="#222" textLength="20.5" lengthAdjust="spacingAndGlyphs">MT-1</text>
<line x1="39.70" y1="384.60" x2="39.70" y2="491.00" stroke="#333" stroke-width="0.9" />
<line x1="39.30" y1="490.60" x2="216.20" y2="490.60" stroke="#222" stroke-width="1.0" />
<line x1="37.10" y1="490.60" x2="39.70" y2="490.60" stroke="#333" stroke-width="0.8" />
<text x="33.30" y="493.50" font-size="8.3" text-anchor="end" font-weight="normal" fill="#333" color="#333" >0</text>
<line x1="37.10" y1="471.19" x2="39.70" y2="471.19" stroke="#333" stroke-width="0.8" />
<text x="33.30" y="474.09" font-size="8.3" text-anchor="end" font-weight="normal" fill="#333" color="#333" >20</text>
<line x1="37.10" y1="451.78" x2="39.70" y2="451.78" stroke="#333" stroke-width="0.8" />
<text x="33.30" y="454.68" font-size="8.3" text-anchor="end" font-weight="normal" fill="#333" color="#333" >40</text>
<line x1="37.10" y1="432.37" x2="39.70" y2="432.37" stroke="#333" stroke-width="0.8" />
<text x="33.30" y="435.27" font-size="8.3" text-anchor="end" font-weight="normal" fill="#333" color="#333" >60</text>
<line x1="37.10" y1="412.96" x2="39.70" y2="412.96" stroke="#333" stroke-width="0.8" />
<text x="33.30" y="415.86" font-size="8.3" text-anchor="end" font-weight="normal" fill="#333" color="#333" >80</text>
<line x1="37.10" y1="393.55" x2="39.70" y2="393.55" stroke="#333" stroke-width="0.8" />
<text x="33.30" y="396.45" font-size="8.3" text-anchor="end" font-weight="normal" fill="#333" color="#333" >100</text>
<rect x="43.05" y="393.55" width="3.90" height="97.05" fill="#465263"/>
<rect x="53.38" y="387.34" width="3.90" height="103.26" fill="#35a337"/>
<line x1="55.33" y1="384.91" x2="55.33" y2="388.84" stroke="#333" stroke-width="0.6" />
<line x1="54.23" y1="384.91" x2="56.43" y2="384.91" stroke="#333" stroke-width="0.6" />
<rect x="63.71" y="391.03" width="3.90" height="99.57" fill="#35a337"/>
<line x1="65.66" y1="388.99" x2="65.66" y2="392.53" stroke="#333" stroke-width="0.6" />
<line x1="64.56" y1="388.99" x2="66.76" y2="388.99" stroke="#333" stroke-width="0.6" />
<rect x="74.04" y="393.55" width="3.90" height="97.05" fill="#35a337"/>
<line x1="75.99" y1="391.32" x2="75.99" y2="395.05" stroke="#333" stroke-width="0.6" />
<line x1="74.89" y1="391.32" x2="77.09" y2="391.32" stroke="#333" stroke-width="0.6" />
<rect x="84.37" y="399.66" width="3.90" height="90.94" fill="#35a337"/>
<line x1="86.32" y1="396.46" x2="86.32" y2="401.16" stroke="#333" stroke-width="0.6" />
<line x1="85.22" y1="396.46" x2="87.42" y2="396.46" stroke="#333" stroke-width="0.6" />
<rect x="105.03" y="419.46" width="3.90" height="71.14" fill="#b9062f"/>
<line x1="106.98" y1="410.44" x2="106.98" y2="420.96" stroke="#333" stroke-width="0.6" />
<line x1="105.88" y1="410.44" x2="108.08" y2="410.44" stroke="#333" stroke-width="0.6" />
<rect x="115.36" y="438.97" width="3.90" height="51.63" fill="#0b4279"/>
<line x1="117.31" y1="431.01" x2="117.31" y2="440.47" stroke="#333" stroke-width="0.6" />
<line x1="116.21" y1="431.01" x2="118.41" y2="431.01" stroke="#333" stroke-width="0.6" />
<rect x="125.69" y="441.20" width="3.90" height="49.40" fill="#0b4279"/>
<line x1="127.64" y1="432.56" x2="127.64" y2="442.70" stroke="#333" stroke-width="0.6" />
<line x1="126.54" y1="432.56" x2="128.74" y2="432.56" stroke="#333" stroke-width="0.6" />
<rect x="136.02" y="445.96" width="3.90" height="44.64" fill="#0b4279"/>
<line x1="137.97" y1="437.22" x2="137.97" y2="447.46" stroke="#333" stroke-width="0.6" />
<line x1="136.87" y1="437.22" x2="139.07" y2="437.22" stroke="#333" stroke-width="0.6" />
<rect x="146.35" y="454.01" width="3.90" height="36.59" fill="#0b4279"/>
<line x1="148.30" y1="444.11" x2="148.30" y2="455.51" stroke="#333" stroke-width="0.6" />
<line x1="147.20" y1="444.11" x2="149.40" y2="444.11" stroke="#333" stroke-width="0.6" />
<rect x="167.01" y="410.82" width="3.90" height="79.78" fill="#b9062f"/>
<line x1="168.96" y1="404.03" x2="168.96" y2="412.32" stroke="#333" stroke-width="0.6" />
<line x1="167.86" y1="404.03" x2="170.06" y2="404.03" stroke="#333" stroke-width="0.6" />
<rect x="177.34" y="431.69" width="3.90" height="58.91" fill="#0b4279"/>
<line x1="179.29" y1="426.94" x2="179.29" y2="433.19" stroke="#333" stroke-width="0.6" />
<line x1="178.19" y1="426.94" x2="180.39" y2="426.94" stroke="#333" stroke-width="0.6" />
<rect x="187.67" y="431.11" width="3.90" height="59.49" fill="#0b4279"/>
<line x1="189.62" y1="426.06" x2="189.62" y2="432.61" stroke="#333" stroke-width="0.6" />
<line x1="188.52" y1="426.06" x2="190.72" y2="426.06" stroke="#333" stroke-width="0.6" />
<rect x="198.00" y="438.48" width="3.90" height="52.12" fill="#0b4279"/>
<line x1="199.95" y1="432.76" x2="199.95" y2="439.98" stroke="#333" stroke-width="0.6" />
<line x1="198.85" y1="432.76" x2="201.05" y2="432.76" stroke="#333" stroke-width="0.6" />
<rect x="208.33" y="443.53" width="3.90" height="47.07" fill="#0b4279"/>
<line x1="210.28" y1="434.60" x2="210.28" y2="445.03" stroke="#333" stroke-width="0.6" />
<line x1="209.18" y1="434.60" x2="211.38" y2="434.60" stroke="#333" stroke-width="0.6" />
<text transform="translate(8.90,437.70) rotate(-90)" x="0" y="3.10" font-size="8.6" text-anchor="middle" fill="#222" color="#222" textLength="50" lengthAdjust="spacingAndGlyphs">Cell growth (%)</text>
<text x="247.80" y="378.90" font-size="10" text-anchor="start" font-weight="normal" fill="#222" color="#222" textLength="20.5" lengthAdjust="spacingAndGlyphs">MT-2</text>
<line x1="268.90" y1="384.90" x2="268.90" y2="490.40" stroke="#333" stroke-width="0.9" />
<line x1="268.50" y1="490.00" x2="445.20" y2="490.00" stroke="#222" stroke-width="1.0" />
<line x1="266.30" y1="490.00" x2="268.90" y2="490.00" stroke="#333" stroke-width="0.8" />
<text x="262.00" y="492.90" font-size="8.3" text-anchor="end" font-weight="normal" fill="#333" color="#333" >0</text>
<line x1="266.30" y1="470.82" x2="268.90" y2="470.82" stroke="#333" stroke-width="0.8" />
<text x="262.00" y="473.72" font-size="8.3" text-anchor="end" font-weight="normal" fill="#333" color="#333" >20</text>
<line x1="266.30" y1="451.64" x2="268.90" y2="451.64" stroke="#333" stroke-width="0.8" />
<text x="262.00" y="454.54" font-size="8.3" text-anchor="end" font-weight="normal" fill="#333" color="#333" >40</text>
<line x1="266.30" y1="432.46" x2="268.90" y2="432.46" stroke="#333" stroke-width="0.8" />
<text x="262.00" y="435.36" font-size="8.3" text-anchor="end" font-weight="normal" fill="#333" color="#333" >60</text>
<line x1="266.30" y1="413.28" x2="268.90" y2="413.28" stroke="#333" stroke-width="0.8" />
<text x="262.00" y="416.18" font-size="8.3" text-anchor="end" font-weight="normal" fill="#333" color="#333" >80</text>
<line x1="266.30" y1="394.10" x2="268.90" y2="394.10" stroke="#333" stroke-width="0.8" />
<text x="262.00" y="397.00" font-size="8.3" text-anchor="end" font-weight="normal" fill="#333" color="#333" >100</text>
<rect x="272.10" y="394.10" width="3.90" height="95.90" fill="#465263"/>
<rect x="282.43" y="402.44" width="3.90" height="87.56" fill="#35a337"/>
<line x1="284.38" y1="401.39" x2="284.38" y2="403.94" stroke="#333" stroke-width="0.6" />
<line x1="283.28" y1="401.39" x2="285.48" y2="401.39" stroke="#333" stroke-width="0.6" />
<rect x="292.76" y="401.77" width="3.90" height="88.23" fill="#35a337"/>
<line x1="294.71" y1="398.61" x2="294.71" y2="403.27" stroke="#333" stroke-width="0.6" />
<line x1="293.61" y1="398.61" x2="295.81" y2="398.61" stroke="#333" stroke-width="0.6" />
<rect x="303.09" y="404.36" width="3.90" height="85.64" fill="#35a337"/>
<line x1="305.04" y1="400.53" x2="305.04" y2="405.86" stroke="#333" stroke-width="0.6" />
<line x1="303.94" y1="400.53" x2="306.14" y2="400.53" stroke="#333" stroke-width="0.6" />
<rect x="313.42" y="404.36" width="3.90" height="85.64" fill="#35a337"/>
<line x1="315.37" y1="399.95" x2="315.37" y2="405.86" stroke="#333" stroke-width="0.6" />
<line x1="314.27" y1="399.95" x2="316.47" y2="399.95" stroke="#333" stroke-width="0.6" />
<rect x="334.08" y="422.49" width="3.90" height="67.51" fill="#b9062f"/>
<line x1="336.03" y1="420.76" x2="336.03" y2="423.99" stroke="#333" stroke-width="0.6" />
<line x1="334.93" y1="420.76" x2="337.13" y2="420.76" stroke="#333" stroke-width="0.6" />
<rect x="344.41" y="434.95" width="3.90" height="55.05" fill="#0b4279"/>
<line x1="346.36" y1="434.19" x2="346.36" y2="436.45" stroke="#333" stroke-width="0.6" />
<line x1="345.26" y1="434.19" x2="347.46" y2="434.19" stroke="#333" stroke-width="0.6" />
<rect x="354.74" y="434.95" width="3.90" height="55.05" fill="#0b4279"/>
<line x1="356.69" y1="431.79" x2="356.69" y2="436.45" stroke="#333" stroke-width="0.6" />
<line x1="355.59" y1="431.79" x2="357.79" y2="431.79" stroke="#333" stroke-width="0.6" />
<rect x="365.07" y="438.79" width="3.90" height="51.21" fill="#0b4279"/>
<line x1="367.02" y1="434.47" x2="367.02" y2="440.29" stroke="#333" stroke-width="0.6" />
<line x1="365.92" y1="434.47" x2="368.12" y2="434.47" stroke="#333" stroke-width="0.6" />
<rect x="375.40" y="445.79" width="3.90" height="44.21" fill="#0b4279"/>
<line x1="377.35" y1="443.30" x2="377.35" y2="447.29" stroke="#333" stroke-width="0.6" />
<line x1="376.25" y1="443.30" x2="378.45" y2="443.30" stroke="#333" stroke-width="0.6" />
<rect x="396.06" y="416.25" width="3.90" height="73.75" fill="#b9062f"/>
<line x1="398.01" y1="415.49" x2="398.01" y2="417.75" stroke="#333" stroke-width="0.6" />
<line x1="396.91" y1="415.49" x2="399.11" y2="415.49" stroke="#333" stroke-width="0.6" />
<rect x="406.39" y="430.54" width="3.90" height="59.46" fill="#0b4279"/>
<line x1="408.34" y1="429.97" x2="408.34" y2="432.04" stroke="#333" stroke-width="0.6" />
<line x1="407.24" y1="429.97" x2="409.44" y2="429.97" stroke="#333" stroke-width="0.6" />
<rect x="416.72" y="428.82" width="3.90" height="61.18" fill="#0b4279"/>
<line x1="418.67" y1="428.05" x2="418.67" y2="430.32" stroke="#333" stroke-width="0.6" />
<line x1="417.57" y1="428.05" x2="419.77" y2="428.05" stroke="#333" stroke-width="0.6" />
<rect x="427.05" y="432.46" width="3.90" height="57.54" fill="#0b4279"/>
<line x1="429.00" y1="426.23" x2="429.00" y2="433.96" stroke="#333" stroke-width="0.6" />
<line x1="427.90" y1="426.23" x2="430.10" y2="426.23" stroke="#333" stroke-width="0.6" />
<rect x="437.38" y="438.31" width="3.90" height="51.69" fill="#0b4279"/>
<line x1="439.33" y1="435.05" x2="439.33" y2="439.81" stroke="#333" stroke-width="0.6" />
<line x1="438.23" y1="435.05" x2="440.43" y2="435.05" stroke="#333" stroke-width="0.6" />
<text transform="translate(238.40,437.50) rotate(-90)" x="0" y="3.10" font-size="8.6" text-anchor="middle" fill="#222" color="#222" textLength="50" lengthAdjust="spacingAndGlyphs">Cell growth (%)</text>
<line x1="53.50" y1="371.50" x2="89.00" y2="371.50" stroke="#4a4a4a" stroke-width="1.0" />
<line x1="116.20" y1="372.50" x2="151.90" y2="372.50" stroke="#4a4a4a" stroke-width="1.0" />
<line x1="179.20" y1="371.50" x2="214.90" y2="371.50" stroke="#4a4a4a" stroke-width="1.0" />
<line x1="69.20" y1="359.50" x2="197.80" y2="359.50" stroke="#4a4a4a" stroke-width="1.0" />
<line x1="69.50" y1="359.50" x2="69.50" y2="371.90" stroke="#4a4a4a" stroke-width="1.0" />
<line x1="197.50" y1="359.50" x2="197.50" y2="371.90" stroke="#4a4a4a" stroke-width="1.0" />
<line x1="70.80" y1="366.50" x2="133.50" y2="366.50" stroke="#4a4a4a" stroke-width="1.0" />
<line x1="70.50" y1="366.00" x2="70.50" y2="371.90" stroke="#4a4a4a" stroke-width="1.0" />
<line x1="133.50" y1="366.00" x2="133.50" y2="372.00" stroke="#4a4a4a" stroke-width="1.0" />
<circle cx="129.40" cy="356.20" r="1.3" fill="#222"/>
<circle cx="133.40" cy="356.20" r="1.3" fill="#222"/>
<circle cx="137.40" cy="356.20" r="1.3" fill="#222"/>
<circle cx="96.80" cy="363.60" r="1.3" fill="#222"/>
<circle cx="100.80" cy="363.60" r="1.3" fill="#222"/>
<circle cx="104.80" cy="363.60" r="1.3" fill="#222"/>
<line x1="106.70" y1="382.50" x2="147.90" y2="382.50" stroke="#4a4a4a" stroke-width="1.0" />
<line x1="106.70" y1="387.50" x2="139.20" y2="387.50" stroke="#4a4a4a" stroke-width="1.0" />
<line x1="106.70" y1="395.50" x2="127.70" y2="395.50" stroke="#4a4a4a" stroke-width="1.0" />
<line x1="106.70" y1="403.50" x2="117.30" y2="403.50" stroke="#4a4a4a" stroke-width="1.0" />
<circle cx="125.10" cy="378.50" r="1.3" fill="#222"/>
<circle cx="129.10" cy="378.50" r="1.3" fill="#222"/>
<circle cx="123.10" cy="384.90" r="1.3" fill="#222"/>
<text x="116.70" y="393.40" font-size="7.2" text-anchor="middle" font-weight="normal" fill="#333" color="#333" style="stroke-width:0.1px">n.s.</text>
<text x="112.00" y="401.50" font-size="7.2" text-anchor="middle" font-weight="normal" fill="#333" color="#333" style="stroke-width:0.1px">n.s.</text>
<line x1="168.20" y1="381.50" x2="209.90" y2="381.50" stroke="#4a4a4a" stroke-width="1.0" />
<line x1="168.20" y1="386.50" x2="201.40" y2="386.50" stroke="#4a4a4a" stroke-width="1.0" />
<line x1="168.20" y1="394.50" x2="189.30" y2="394.50" stroke="#4a4a4a" stroke-width="1.0" />
<line x1="168.20" y1="402.50" x2="179.20" y2="402.50" stroke="#4a4a4a" stroke-width="1.0" />
<circle cx="185.30" cy="377.90" r="1.3" fill="#222"/>
<circle cx="189.30" cy="377.90" r="1.3" fill="#222"/>
<circle cx="193.30" cy="377.90" r="1.3" fill="#222"/>
<circle cx="180.60" cy="384.20" r="1.3" fill="#222"/>
<circle cx="184.60" cy="384.20" r="1.3" fill="#222"/>
<circle cx="188.60" cy="384.20" r="1.3" fill="#222"/>
<text x="178.90" y="392.80" font-size="7.2" text-anchor="middle" font-weight="normal" fill="#333" color="#333" style="stroke-width:0.1px">n.s.</text>
<circle cx="171.20" cy="399.50" r="1.3" fill="#222"/>
<circle cx="175.20" cy="399.50" r="1.3" fill="#222"/>
<line x1="282.70" y1="381.50" x2="317.90" y2="381.50" stroke="#4a4a4a" stroke-width="1.0" />
<line x1="345.00" y1="382.50" x2="380.00" y2="382.50" stroke="#4a4a4a" stroke-width="1.0" />
<line x1="408.00" y1="382.50" x2="443.80" y2="382.50" stroke="#4a4a4a" stroke-width="1.0" />
<line x1="297.70" y1="369.50" x2="427.00" y2="369.50" stroke="#4a4a4a" stroke-width="1.0" />
<line x1="297.50" y1="369.40" x2="297.50" y2="381.30" stroke="#4a4a4a" stroke-width="1.0" />
<line x1="427.50" y1="369.40" x2="427.50" y2="382.00" stroke="#4a4a4a" stroke-width="1.0" />
<line x1="299.10" y1="376.50" x2="362.60" y2="376.50" stroke="#4a4a4a" stroke-width="1.0" />
<line x1="299.50" y1="375.80" x2="299.50" y2="381.30" stroke="#4a4a4a" stroke-width="1.0" />
<line x1="362.50" y1="375.80" x2="362.50" y2="382.00" stroke="#4a4a4a" stroke-width="1.0" />
<circle cx="358.30" cy="365.70" r="1.3" fill="#222"/>
<circle cx="362.30" cy="365.70" r="1.3" fill="#222"/>
<circle cx="366.30" cy="365.70" r="1.3" fill="#222"/>
<circle cx="327.30" cy="373.10" r="1.3" fill="#222"/>
<circle cx="331.30" cy="373.10" r="1.3" fill="#222"/>
<circle cx="335.30" cy="373.10" r="1.3" fill="#222"/>
<line x1="335.50" y1="391.50" x2="376.30" y2="391.50" stroke="#4a4a4a" stroke-width="1.0" />
<line x1="335.50" y1="397.50" x2="368.00" y2="397.50" stroke="#4a4a4a" stroke-width="1.0" />
<line x1="335.50" y1="402.50" x2="355.50" y2="402.50" stroke="#4a4a4a" stroke-width="1.0" />
<line x1="335.50" y1="408.50" x2="346.30" y2="408.50" stroke="#4a4a4a" stroke-width="1.0" />
<circle cx="351.90" cy="387.00" r="1.3" fill="#222"/>
<circle cx="355.90" cy="387.00" r="1.3" fill="#222"/>
<circle cx="359.90" cy="387.00" r="1.3" fill="#222"/>
<circle cx="349.90" cy="393.80" r="1.3" fill="#222"/>
<circle cx="353.90" cy="393.80" r="1.3" fill="#222"/>
<circle cx="344.50" cy="399.30" r="1.3" fill="#222"/>
<circle cx="339.50" cy="406.30" r="1.3" fill="#222"/>
<line x1="398.00" y1="392.50" x2="438.80" y2="392.50" stroke="#4a4a4a" stroke-width="1.0" />
<line x1="398.00" y1="398.50" x2="430.00" y2="398.50" stroke="#4a4a4a" stroke-width="1.0" />
<line x1="398.00" y1="403.50" x2="418.80" y2="403.50" stroke="#4a4a4a" stroke-width="1.0" />
<line x1="398.00" y1="409.50" x2="408.00" y2="409.50" stroke="#4a4a4a" stroke-width="1.0" />
<circle cx="415.10" cy="388.80" r="1.3" fill="#222"/>
<circle cx="419.10" cy="388.80" r="1.3" fill="#222"/>
<circle cx="423.10" cy="388.80" r="1.3" fill="#222"/>
<circle cx="412.00" cy="395.00" r="1.3" fill="#222"/>
<circle cx="416.00" cy="395.00" r="1.3" fill="#222"/>
<circle cx="406.10" cy="400.50" r="1.3" fill="#222"/>
<circle cx="410.10" cy="400.50" r="1.3" fill="#222"/>
<circle cx="400.90" cy="406.30" r="1.3" fill="#222"/>
<circle cx="404.90" cy="406.30" r="1.3" fill="#222"/>
<text x="18.70" y="503.50" font-size="8.3" text-anchor="start" font-weight="normal" fill="#222" color="#222" >EPZ</text>
<rect x="43.75" y="500.00" width="2.50" height="1.00" fill="#3a3a3a"/>
<text transform="translate(57.93,496.80) rotate(-90)" x="0" y="0" font-size="8.0" text-anchor="end" fill="#333" color="#333" style="stroke-width:0.08px">2.5</text>
<rect x="64.41" y="500.00" width="2.50" height="1.00" fill="#3a3a3a"/>
<rect x="74.74" y="500.00" width="2.50" height="1.00" fill="#3a3a3a"/>
<rect x="85.07" y="500.00" width="2.50" height="1.00" fill="#3a3a3a"/>
<rect x="105.73" y="500.00" width="2.50" height="1.00" fill="#3a3a3a"/>
<text transform="translate(119.91,496.80) rotate(-90)" x="0" y="0" font-size="8.0" text-anchor="end" fill="#333" color="#333" style="stroke-width:0.08px">2.5</text>
<rect x="126.39" y="500.00" width="2.50" height="1.00" fill="#3a3a3a"/>
<rect x="136.72" y="500.00" width="2.50" height="1.00" fill="#3a3a3a"/>
<rect x="147.05" y="500.00" width="2.50" height="1.00" fill="#3a3a3a"/>
<rect x="167.71" y="500.00" width="2.50" height="1.00" fill="#3a3a3a"/>
<text transform="translate(181.89,496.80) rotate(-90)" x="0" y="0" font-size="8.0" text-anchor="end" fill="#333" color="#333" style="stroke-width:0.08px">2.5</text>
<rect x="188.37" y="500.00" width="2.50" height="1.00" fill="#3a3a3a"/>
<rect x="198.70" y="500.00" width="2.50" height="1.00" fill="#3a3a3a"/>
<rect x="209.03" y="500.00" width="2.50" height="1.00" fill="#3a3a3a"/>
<text x="18.70" y="521.00" font-size="8.3" text-anchor="start" font-weight="normal" fill="#222" color="#222" >DS</text>
<rect x="43.75" y="516.00" width="2.50" height="1.00" fill="#3a3a3a"/>
<rect x="54.08" y="516.00" width="2.50" height="1.00" fill="#3a3a3a"/>
<text transform="translate(68.26,511.80) rotate(-90)" x="0" y="0" font-size="8.0" text-anchor="end" fill="#333" color="#333" style="stroke-width:0.08px">0.1</text>
<text transform="translate(78.59,511.80) rotate(-90)" x="0" y="0" font-size="8.0" text-anchor="end" fill="#333" color="#333" style="stroke-width:0.08px">0.5</text>
<text transform="translate(88.92,511.80) rotate(-90)" x="0" y="0" font-size="8.0" text-anchor="end" fill="#333" color="#333" style="stroke-width:0.08px">2.5</text>
<rect x="105.73" y="516.00" width="2.50" height="1.00" fill="#3a3a3a"/>
<rect x="116.06" y="516.00" width="2.50" height="1.00" fill="#3a3a3a"/>
<text transform="translate(130.24,511.80) rotate(-90)" x="0" y="0" font-size="8.0" text-anchor="end" fill="#333" color="#333" style="stroke-width:0.08px">0.1</text>
<text transform="translate(140.57,511.80) rotate(-90)" x="0" y="0" font-size="8.0" text-anchor="end" fill="#333" color="#333" style="stroke-width:0.08px">0.5</text>
<text transform="translate(150.90,511.80) rotate(-90)" x="0" y="0" font-size="8.0" text-anchor="end" fill="#333" color="#333" style="stroke-width:0.08px">2.5</text>
<rect x="167.71" y="516.00" width="2.50" height="1.00" fill="#3a3a3a"/>
<rect x="178.04" y="516.00" width="2.50" height="1.00" fill="#3a3a3a"/>
<text transform="translate(192.22,511.80) rotate(-90)" x="0" y="0" font-size="8.0" text-anchor="end" fill="#333" color="#333" style="stroke-width:0.08px">0.1</text>
<text transform="translate(202.55,511.80) rotate(-90)" x="0" y="0" font-size="8.0" text-anchor="end" fill="#333" color="#333" style="stroke-width:0.08px">0.5</text>
<text transform="translate(212.88,511.80) rotate(-90)" x="0" y="0" font-size="8.0" text-anchor="end" fill="#333" color="#333" style="stroke-width:0.08px">2.5</text>
<text x="18.70" y="538.40" font-size="8.3" text-anchor="start" font-weight="normal" fill="#222" color="#222" >DAC</text>
<rect x="43.75" y="534.00" width="2.50" height="1.00" fill="#3a3a3a"/>
<rect x="54.08" y="534.00" width="2.50" height="1.00" fill="#3a3a3a"/>
<rect x="64.41" y="534.00" width="2.50" height="1.00" fill="#3a3a3a"/>
<rect x="74.74" y="534.00" width="2.50" height="1.00" fill="#3a3a3a"/>
<rect x="85.07" y="534.00" width="2.50" height="1.00" fill="#3a3a3a"/>
<text transform="translate(109.58,528.80) rotate(-90)" x="0" y="0" font-size="8.0" text-anchor="end" fill="#333" color="#333" style="stroke-width:0.08px">0.5</text>
<text transform="translate(119.91,528.80) rotate(-90)" x="0" y="0" font-size="8.0" text-anchor="end" fill="#333" color="#333" style="stroke-width:0.08px">0.5</text>
<text transform="translate(130.24,528.80) rotate(-90)" x="0" y="0" font-size="8.0" text-anchor="end" fill="#333" color="#333" style="stroke-width:0.08px">0.5</text>
<text transform="translate(140.57,528.80) rotate(-90)" x="0" y="0" font-size="8.0" text-anchor="end" fill="#333" color="#333" style="stroke-width:0.08px">0.5</text>
<text transform="translate(150.90,528.80) rotate(-90)" x="0" y="0" font-size="8.0" text-anchor="end" fill="#333" color="#333" style="stroke-width:0.08px">0.5</text>
<rect x="167.71" y="534.00" width="2.50" height="1.00" fill="#3a3a3a"/>
<rect x="178.04" y="534.00" width="2.50" height="1.00" fill="#3a3a3a"/>
<rect x="188.37" y="534.00" width="2.50" height="1.00" fill="#3a3a3a"/>
<rect x="198.70" y="534.00" width="2.50" height="1.00" fill="#3a3a3a"/>
<rect x="209.03" y="534.00" width="2.50" height="1.00" fill="#3a3a3a"/>
<text x="18.70" y="556.30" font-size="8.3" text-anchor="start" font-weight="normal" fill="#222" color="#222" >OR21</text>
<rect x="43.75" y="554.00" width="2.50" height="1.00" fill="#3a3a3a"/>
<rect x="54.08" y="554.00" width="2.50" height="1.00" fill="#3a3a3a"/>
<rect x="64.41" y="554.00" width="2.50" height="1.00" fill="#3a3a3a"/>
<rect x="74.74" y="554.00" width="2.50" height="1.00" fill="#3a3a3a"/>
<rect x="85.07" y="554.00" width="2.50" height="1.00" fill="#3a3a3a"/>
<rect x="105.73" y="554.00" width="2.50" height="1.00" fill="#3a3a3a"/>
<rect x="116.06" y="554.00" width="2.50" height="1.00" fill="#3a3a3a"/>
<rect x="126.39" y="554.00" width="2.50" height="1.00" fill="#3a3a3a"/>
<rect x="136.72" y="554.00" width="2.50" height="1.00" fill="#3a3a3a"/>
<rect x="147.05" y="554.00" width="2.50" height="1.00" fill="#3a3a3a"/>
<text transform="translate(171.56,546.00) rotate(-90)" x="0" y="0" font-size="8.0" text-anchor="end" fill="#333" color="#333" style="stroke-width:0.08px">0.5</text>
<text transform="translate(181.89,546.00) rotate(-90)" x="0" y="0" font-size="8.0" text-anchor="end" fill="#333" color="#333" style="stroke-width:0.08px">0.5</text>
<text transform="translate(192.22,546.00) rotate(-90)" x="0" y="0" font-size="8.0" text-anchor="end" fill="#333" color="#333" style="stroke-width:0.08px">0.5</text>
<text transform="translate(202.55,546.00) rotate(-90)" x="0" y="0" font-size="8.0" text-anchor="end" fill="#333" color="#333" style="stroke-width:0.08px">0.5</text>
<text transform="translate(212.88,546.00) rotate(-90)" x="0" y="0" font-size="8.0" text-anchor="end" fill="#333" color="#333" style="stroke-width:0.08px">0.5</text>
<text x="247.50" y="503.50" font-size="8.3" text-anchor="start" font-weight="normal" fill="#222" color="#222" >EPZ</text>
<rect x="272.80" y="500.00" width="2.50" height="1.00" fill="#3a3a3a"/>
<text transform="translate(286.98,496.80) rotate(-90)" x="0" y="0" font-size="8.0" text-anchor="end" fill="#333" color="#333" style="stroke-width:0.08px">0.5</text>
<rect x="293.46" y="500.00" width="2.50" height="1.00" fill="#3a3a3a"/>
<rect x="303.79" y="500.00" width="2.50" height="1.00" fill="#3a3a3a"/>
<rect x="314.12" y="500.00" width="2.50" height="1.00" fill="#3a3a3a"/>
<rect x="334.78" y="500.00" width="2.50" height="1.00" fill="#3a3a3a"/>
<text transform="translate(348.96,496.80) rotate(-90)" x="0" y="0" font-size="8.0" text-anchor="end" fill="#333" color="#333" style="stroke-width:0.08px">0.5</text>
<rect x="355.44" y="500.00" width="2.50" height="1.00" fill="#3a3a3a"/>
<rect x="365.77" y="500.00" width="2.50" height="1.00" fill="#3a3a3a"/>
<rect x="376.10" y="500.00" width="2.50" height="1.00" fill="#3a3a3a"/>
<rect x="396.76" y="500.00" width="2.50" height="1.00" fill="#3a3a3a"/>
<text transform="translate(410.94,496.80) rotate(-90)" x="0" y="0" font-size="8.0" text-anchor="end" fill="#333" color="#333" style="stroke-width:0.08px">0.5</text>
<rect x="417.42" y="500.00" width="2.50" height="1.00" fill="#3a3a3a"/>
<rect x="427.75" y="500.00" width="2.50" height="1.00" fill="#3a3a3a"/>
<rect x="438.08" y="500.00" width="2.50" height="1.00" fill="#3a3a3a"/>
<text x="247.50" y="521.00" font-size="8.3" text-anchor="start" font-weight="normal" fill="#222" color="#222" >DS</text>
<rect x="272.80" y="516.00" width="2.50" height="1.00" fill="#3a3a3a"/>
<rect x="283.13" y="516.00" width="2.50" height="1.00" fill="#3a3a3a"/>
<text transform="translate(297.31,511.80) rotate(-90)" x="0" y="0" font-size="8.0" text-anchor="end" fill="#333" color="#333" style="stroke-width:0.08px">0.02</text>
<text transform="translate(307.64,511.80) rotate(-90)" x="0" y="0" font-size="8.0" text-anchor="end" fill="#333" color="#333" style="stroke-width:0.08px">0.1</text>
<text transform="translate(317.97,511.80) rotate(-90)" x="0" y="0" font-size="8.0" text-anchor="end" fill="#333" color="#333" style="stroke-width:0.08px">0.5</text>
<rect x="334.78" y="516.00" width="2.50" height="1.00" fill="#3a3a3a"/>
<rect x="345.11" y="516.00" width="2.50" height="1.00" fill="#3a3a3a"/>
<text transform="translate(359.29,511.80) rotate(-90)" x="0" y="0" font-size="8.0" text-anchor="end" fill="#333" color="#333" style="stroke-width:0.08px">0.02</text>
<text transform="translate(369.62,511.80) rotate(-90)" x="0" y="0" font-size="8.0" text-anchor="end" fill="#333" color="#333" style="stroke-width:0.08px">0.1</text>
<text transform="translate(379.95,511.80) rotate(-90)" x="0" y="0" font-size="8.0" text-anchor="end" fill="#333" color="#333" style="stroke-width:0.08px">0.5</text>
<rect x="396.76" y="516.00" width="2.50" height="1.00" fill="#3a3a3a"/>
<rect x="407.09" y="516.00" width="2.50" height="1.00" fill="#3a3a3a"/>
<text transform="translate(421.27,511.80) rotate(-90)" x="0" y="0" font-size="8.0" text-anchor="end" fill="#333" color="#333" style="stroke-width:0.08px">0.02</text>
<text transform="translate(431.60,511.80) rotate(-90)" x="0" y="0" font-size="8.0" text-anchor="end" fill="#333" color="#333" style="stroke-width:0.08px">0.1</text>
<text transform="translate(441.93,511.80) rotate(-90)" x="0" y="0" font-size="8.0" text-anchor="end" fill="#333" color="#333" style="stroke-width:0.08px">0.5</text>
<text x="247.50" y="538.40" font-size="8.3" text-anchor="start" font-weight="normal" fill="#222" color="#222" >DAC</text>
<rect x="272.80" y="534.00" width="2.50" height="1.00" fill="#3a3a3a"/>
<rect x="283.13" y="534.00" width="2.50" height="1.00" fill="#3a3a3a"/>
<rect x="293.46" y="534.00" width="2.50" height="1.00" fill="#3a3a3a"/>
<rect x="303.79" y="534.00" width="2.50" height="1.00" fill="#3a3a3a"/>
<rect x="314.12" y="534.00" width="2.50" height="1.00" fill="#3a3a3a"/>
<text transform="translate(338.63,528.80) rotate(-90)" x="0" y="0" font-size="8.0" text-anchor="end" fill="#333" color="#333" style="stroke-width:0.08px">0.1</text>
<text transform="translate(348.96,528.80) rotate(-90)" x="0" y="0" font-size="8.0" text-anchor="end" fill="#333" color="#333" style="stroke-width:0.08px">0.1</text>
<text transform="translate(359.29,528.80) rotate(-90)" x="0" y="0" font-size="8.0" text-anchor="end" fill="#333" color="#333" style="stroke-width:0.08px">0.1</text>
<text transform="translate(369.62,528.80) rotate(-90)" x="0" y="0" font-size="8.0" text-anchor="end" fill="#333" color="#333" style="stroke-width:0.08px">0.1</text>
<text transform="translate(379.95,528.80) rotate(-90)" x="0" y="0" font-size="8.0" text-anchor="end" fill="#333" color="#333" style="stroke-width:0.08px">0.1</text>
<rect x="396.76" y="534.00" width="2.50" height="1.00" fill="#3a3a3a"/>
<rect x="407.09" y="534.00" width="2.50" height="1.00" fill="#3a3a3a"/>
<rect x="417.42" y="534.00" width="2.50" height="1.00" fill="#3a3a3a"/>
<rect x="427.75" y="534.00" width="2.50" height="1.00" fill="#3a3a3a"/>
<rect x="438.08" y="534.00" width="2.50" height="1.00" fill="#3a3a3a"/>
<text x="247.50" y="556.30" font-size="8.3" text-anchor="start" font-weight="normal" fill="#222" color="#222" >OR21</text>
<rect x="272.80" y="554.00" width="2.50" height="1.00" fill="#3a3a3a"/>
<rect x="283.13" y="554.00" width="2.50" height="1.00" fill="#3a3a3a"/>
<rect x="293.46" y="554.00" width="2.50" height="1.00" fill="#3a3a3a"/>
<rect x="303.79" y="554.00" width="2.50" height="1.00" fill="#3a3a3a"/>
<rect x="314.12" y="554.00" width="2.50" height="1.00" fill="#3a3a3a"/>
<rect x="334.78" y="554.00" width="2.50" height="1.00" fill="#3a3a3a"/>
<rect x="345.11" y="554.00" width="2.50" height="1.00" fill="#3a3a3a"/>
<rect x="355.44" y="554.00" width="2.50" height="1.00" fill="#3a3a3a"/>
<rect x="365.77" y="554.00" width="2.50" height="1.00" fill="#3a3a3a"/>
<rect x="376.10" y="554.00" width="2.50" height="1.00" fill="#3a3a3a"/>
<text transform="translate(400.61,546.00) rotate(-90)" x="0" y="0" font-size="8.0" text-anchor="end" fill="#333" color="#333" style="stroke-width:0.08px">0.1</text>
<text transform="translate(410.94,546.00) rotate(-90)" x="0" y="0" font-size="8.0" text-anchor="end" fill="#333" color="#333" style="stroke-width:0.08px">0.1</text>
<text transform="translate(421.27,546.00) rotate(-90)" x="0" y="0" font-size="8.0" text-anchor="end" fill="#333" color="#333" style="stroke-width:0.08px">0.1</text>
<text transform="translate(431.60,546.00) rotate(-90)" x="0" y="0" font-size="8.0" text-anchor="end" fill="#333" color="#333" style="stroke-width:0.08px">0.1</text>
<text transform="translate(441.93,546.00) rotate(-90)" x="0" y="0" font-size="8.0" text-anchor="end" fill="#333" color="#333" style="stroke-width:0.08px">0.1</text>
<text x="20.20" y="580.40" font-size="9.4" text-anchor="start" font-weight="normal" fill="#222" color="#222" >TL-Om1</text>
<line x1="50.30" y1="589.00" x2="50.30" y2="688.40" stroke="#333" stroke-width="0.9" />
<line x1="49.90" y1="687.90" x2="189.50" y2="687.90" stroke="#333" stroke-width="0.9" />
<line x1="46.70" y1="687.90" x2="50.30" y2="687.90" stroke="#333" stroke-width="0.8" />
<text x="41.90" y="690.65" font-size="7.9" text-anchor="end" font-weight="normal" fill="#333" color="#333" >0</text>
<line x1="46.70" y1="669.86" x2="50.30" y2="669.86" stroke="#333" stroke-width="0.8" />
<text x="41.90" y="672.61" font-size="7.9" text-anchor="end" font-weight="normal" fill="#333" color="#333" >20</text>
<line x1="46.70" y1="651.82" x2="50.30" y2="651.82" stroke="#333" stroke-width="0.8" />
<text x="41.90" y="654.57" font-size="7.9" text-anchor="end" font-weight="normal" fill="#333" color="#333" >40</text>
<line x1="46.70" y1="633.78" x2="50.30" y2="633.78" stroke="#333" stroke-width="0.8" />
<text x="41.90" y="636.53" font-size="7.9" text-anchor="end" font-weight="normal" fill="#333" color="#333" >60</text>
<line x1="46.70" y1="615.74" x2="50.30" y2="615.74" stroke="#333" stroke-width="0.8" />
<text x="41.90" y="618.49" font-size="7.9" text-anchor="end" font-weight="normal" fill="#333" color="#333" >80</text>
<line x1="46.70" y1="597.70" x2="50.30" y2="597.70" stroke="#333" stroke-width="0.8" />
<text x="41.90" y="600.45" font-size="7.9" text-anchor="end" font-weight="normal" fill="#333" color="#333" >100</text>
<line x1="77.70" y1="687.90" x2="77.70" y2="690.10" stroke="#333" stroke-width="0.8" />
<line x1="105.10" y1="687.90" x2="105.10" y2="690.10" stroke="#333" stroke-width="0.8" />
<line x1="132.50" y1="687.90" x2="132.50" y2="690.10" stroke="#333" stroke-width="0.8" />
<line x1="159.90" y1="687.90" x2="159.90" y2="690.10" stroke="#333" stroke-width="0.8" />
<line x1="187.30" y1="687.90" x2="187.30" y2="690.10" stroke="#333" stroke-width="0.8" />
<polyline points="77.70,594.54 105.10,600.41 159.90,597.25" fill="none" stroke="#3aa83c" stroke-width="1.1"/>
<line x1="77.70" y1="590.48" x2="77.70" y2="598.60" stroke="#3aa83c" stroke-width="0.8" />
<line x1="76.50" y1="590.48" x2="78.90" y2="590.48" stroke="#3aa83c" stroke-width="0.8" />
<line x1="76.50" y1="598.60" x2="78.90" y2="598.60" stroke="#3aa83c" stroke-width="0.8" />
<circle cx="77.70" cy="594.54" r="1.7" fill="#3aa83c"/>
<line x1="105.10" y1="591.84" x2="105.10" y2="608.97" stroke="#3aa83c" stroke-width="0.8" />
<line x1="103.90" y1="591.84" x2="106.30" y2="591.84" stroke="#3aa83c" stroke-width="0.8" />
<line x1="103.90" y1="608.97" x2="106.30" y2="608.97" stroke="#3aa83c" stroke-width="0.8" />
<circle cx="105.10" cy="600.41" r="1.7" fill="#3aa83c"/>
<line x1="159.90" y1="595.90" x2="159.90" y2="598.60" stroke="#3aa83c" stroke-width="0.8" />
<line x1="158.70" y1="595.90" x2="161.10" y2="595.90" stroke="#3aa83c" stroke-width="0.8" />
<line x1="158.70" y1="598.60" x2="161.10" y2="598.60" stroke="#3aa83c" stroke-width="0.8" />
<circle cx="159.90" cy="597.25" r="1.7" fill="#3aa83c"/>
<polyline points="77.70,622.05 105.10,650.92 159.90,671.66" fill="none" stroke="#c2102c" stroke-width="1.1"/>
<line x1="77.70" y1="607.62" x2="77.70" y2="636.49" stroke="#c2102c" stroke-width="0.8" />
<line x1="76.50" y1="607.62" x2="78.90" y2="607.62" stroke="#c2102c" stroke-width="0.8" />
<line x1="76.50" y1="636.49" x2="78.90" y2="636.49" stroke="#c2102c" stroke-width="0.8" />
<circle cx="77.70" cy="622.05" r="1.7" fill="#c2102c"/>
<line x1="105.10" y1="636.49" x2="105.10" y2="665.35" stroke="#c2102c" stroke-width="0.8" />
<line x1="103.90" y1="636.49" x2="106.30" y2="636.49" stroke="#c2102c" stroke-width="0.8" />
<line x1="103.90" y1="665.35" x2="106.30" y2="665.35" stroke="#c2102c" stroke-width="0.8" />
<circle cx="105.10" cy="650.92" r="1.7" fill="#c2102c"/>
<line x1="159.90" y1="666.25" x2="159.90" y2="677.08" stroke="#c2102c" stroke-width="0.8" />
<line x1="158.70" y1="666.25" x2="161.10" y2="666.25" stroke="#c2102c" stroke-width="0.8" />
<line x1="158.70" y1="677.08" x2="161.10" y2="677.08" stroke="#c2102c" stroke-width="0.8" />
<circle cx="159.90" cy="671.66" r="1.7" fill="#c2102c"/>
<polyline points="77.70,624.76 105.10,663.55 159.90,678.88" fill="none" stroke="#c41a2a" stroke-width="1.1"/>
<line x1="77.70" y1="607.62" x2="77.70" y2="641.90" stroke="#c41a2a" stroke-width="0.8" />
<line x1="76.50" y1="607.62" x2="78.90" y2="607.62" stroke="#c41a2a" stroke-width="0.8" />
<line x1="76.50" y1="641.90" x2="78.90" y2="641.90" stroke="#c41a2a" stroke-width="0.8" />
<circle cx="77.70" cy="624.76" r="1.7" fill="#c41a2a"/>
<line x1="105.10" y1="660.84" x2="105.10" y2="666.25" stroke="#c41a2a" stroke-width="0.8" />
<line x1="103.90" y1="660.84" x2="106.30" y2="660.84" stroke="#c41a2a" stroke-width="0.8" />
<line x1="103.90" y1="666.25" x2="106.30" y2="666.25" stroke="#c41a2a" stroke-width="0.8" />
<circle cx="105.10" cy="663.55" r="1.7" fill="#c41a2a"/>
<line x1="159.90" y1="677.08" x2="159.90" y2="680.68" stroke="#c41a2a" stroke-width="0.8" />
<line x1="158.70" y1="677.08" x2="161.10" y2="677.08" stroke="#c41a2a" stroke-width="0.8" />
<line x1="158.70" y1="680.68" x2="161.10" y2="680.68" stroke="#c41a2a" stroke-width="0.8" />
<circle cx="159.90" cy="678.88" r="1.7" fill="#c41a2a"/>
<polyline points="77.70,632.88 105.10,669.86 159.90,681.59" fill="none" stroke="#1d5a8a" stroke-width="1.1"/>
<line x1="77.70" y1="624.76" x2="77.70" y2="641.00" stroke="#1d5a8a" stroke-width="0.8" />
<line x1="76.50" y1="624.76" x2="78.90" y2="624.76" stroke="#1d5a8a" stroke-width="0.8" />
<line x1="76.50" y1="641.00" x2="78.90" y2="641.00" stroke="#1d5a8a" stroke-width="0.8" />
<circle cx="77.70" cy="632.88" r="1.7" fill="#1d5a8a"/>
<line x1="105.10" y1="668.06" x2="105.10" y2="671.66" stroke="#1d5a8a" stroke-width="0.8" />
<line x1="103.90" y1="668.06" x2="106.30" y2="668.06" stroke="#1d5a8a" stroke-width="0.8" />
<line x1="103.90" y1="671.66" x2="106.30" y2="671.66" stroke="#1d5a8a" stroke-width="0.8" />
<circle cx="105.10" cy="669.86" r="1.7" fill="#1d5a8a"/>
<line x1="159.90" y1="680.23" x2="159.90" y2="682.94" stroke="#1d5a8a" stroke-width="0.8" />
<line x1="158.70" y1="680.23" x2="161.10" y2="680.23" stroke="#1d5a8a" stroke-width="0.8" />
<line x1="158.70" y1="682.94" x2="161.10" y2="682.94" stroke="#1d5a8a" stroke-width="0.8" />
<circle cx="159.90" cy="681.59" r="1.7" fill="#1d5a8a"/>
<polyline points="77.70,659.04 105.10,674.37 159.90,683.39" fill="none" stroke="#163e78" stroke-width="1.1"/>
<line x1="77.70" y1="651.82" x2="77.70" y2="666.25" stroke="#163e78" stroke-width="0.8" />
<line x1="76.50" y1="651.82" x2="78.90" y2="651.82" stroke="#163e78" stroke-width="0.8" />
<line x1="76.50" y1="666.25" x2="78.90" y2="666.25" stroke="#163e78" stroke-width="0.8" />
<circle cx="77.70" cy="659.04" r="1.7" fill="#163e78"/>
<line x1="105.10" y1="670.76" x2="105.10" y2="677.98" stroke="#163e78" stroke-width="0.8" />
<line x1="103.90" y1="670.76" x2="106.30" y2="670.76" stroke="#163e78" stroke-width="0.8" />
<line x1="103.90" y1="677.98" x2="106.30" y2="677.98" stroke="#163e78" stroke-width="0.8" />
<circle cx="105.10" cy="674.37" r="1.7" fill="#163e78"/>
<line x1="159.90" y1="682.04" x2="159.90" y2="684.74" stroke="#163e78" stroke-width="0.8" />
<line x1="158.70" y1="682.04" x2="161.10" y2="682.04" stroke="#163e78" stroke-width="0.8" />
<line x1="158.70" y1="684.74" x2="161.10" y2="684.74" stroke="#163e78" stroke-width="0.8" />
<circle cx="159.90" cy="683.39" r="1.7" fill="#163e78"/>
<line x1="197.00" y1="618.50" x2="207.00" y2="618.50" stroke="#3aa83c" stroke-width="1.1" />
<circle cx="201.60" cy="618.50" r="1.5" fill="#3aa83c"/>
<text x="211.20" y="621.40" font-size="8.2" text-anchor="start" font-weight="normal" fill="#333" color="#333" >EPZ</text>
<line x1="197.00" y1="629.40" x2="207.00" y2="629.40" stroke="#c2102c" stroke-width="1.1" />
<circle cx="201.60" cy="629.40" r="1.5" fill="#c2102c"/>
<text x="211.20" y="632.30" font-size="8.2" text-anchor="start" font-weight="normal" fill="#333" color="#333" >DAC</text>
<line x1="197.00" y1="640.50" x2="207.00" y2="640.50" stroke="#c41a2a" stroke-width="1.1" />
<circle cx="201.60" cy="640.50" r="1.5" fill="#c41a2a"/>
<text x="211.20" y="643.40" font-size="8.2" text-anchor="start" font-weight="normal" fill="#333" color="#333" >OR21</text>
<line x1="197.00" y1="651.30" x2="207.00" y2="651.30" stroke="#1d5a8a" stroke-width="1.1" />
<circle cx="201.60" cy="651.30" r="1.5" fill="#1d5a8a"/>
<text x="211.20" y="654.20" font-size="8.2" text-anchor="start" font-weight="normal" fill="#333" color="#333" >DAC+EPZ</text>
<line x1="197.00" y1="662.20" x2="207.00" y2="662.20" stroke="#163e78" stroke-width="1.1" />
<circle cx="201.60" cy="662.20" r="1.5" fill="#163e78"/>
<text x="211.20" y="665.10" font-size="8.2" text-anchor="start" font-weight="normal" fill="#333" color="#333" >OR21+EPZ</text>
<text transform="translate(19.40,638.70) rotate(-90)" x="0" y="3.02" font-size="8.4" text-anchor="middle" fill="#222" color="#222" textLength="50" lengthAdjust="spacingAndGlyphs">Cell growth (%)</text>
<line x1="319.00" y1="588.00" x2="319.00" y2="688.20" stroke="#333" stroke-width="0.9" />
<line x1="318.60" y1="687.70" x2="461.00" y2="687.70" stroke="#333" stroke-width="0.9" />
<line x1="315.40" y1="687.70" x2="319.00" y2="687.70" stroke="#333" stroke-width="0.8" />
<text x="310.60" y="690.45" font-size="7.9" text-anchor="end" font-weight="normal" fill="#333" color="#333" >0</text>
<line x1="315.40" y1="669.50" x2="319.00" y2="669.50" stroke="#333" stroke-width="0.8" />
<text x="310.60" y="672.25" font-size="7.9" text-anchor="end" font-weight="normal" fill="#333" color="#333" >20</text>
<line x1="315.40" y1="651.30" x2="319.00" y2="651.30" stroke="#333" stroke-width="0.8" />
<text x="310.60" y="654.05" font-size="7.9" text-anchor="end" font-weight="normal" fill="#333" color="#333" >40</text>
<line x1="315.40" y1="633.10" x2="319.00" y2="633.10" stroke="#333" stroke-width="0.8" />
<text x="310.60" y="635.85" font-size="7.9" text-anchor="end" font-weight="normal" fill="#333" color="#333" >60</text>
<line x1="315.40" y1="614.90" x2="319.00" y2="614.90" stroke="#333" stroke-width="0.8" />
<text x="310.60" y="617.65" font-size="7.9" text-anchor="end" font-weight="normal" fill="#333" color="#333" >80</text>
<line x1="315.40" y1="596.70" x2="319.00" y2="596.70" stroke="#333" stroke-width="0.8" />
<text x="310.60" y="599.45" font-size="7.9" text-anchor="end" font-weight="normal" fill="#333" color="#333" >100</text>
<line x1="346.80" y1="687.70" x2="346.80" y2="689.90" stroke="#333" stroke-width="0.8" />
<line x1="374.60" y1="687.70" x2="374.60" y2="689.90" stroke="#333" stroke-width="0.8" />
<line x1="402.40" y1="687.70" x2="402.40" y2="689.90" stroke="#333" stroke-width="0.8" />
<line x1="430.20" y1="687.70" x2="430.20" y2="689.90" stroke="#333" stroke-width="0.8" />
<line x1="458.00" y1="687.70" x2="458.00" y2="689.90" stroke="#333" stroke-width="0.8" />
<polyline points="346.80,603.07 374.60,603.98 430.20,603.98" fill="none" stroke="#3aa83c" stroke-width="1.1"/>
<line x1="346.80" y1="598.52" x2="346.80" y2="607.62" stroke="#3aa83c" stroke-width="0.8" />
<line x1="345.60" y1="598.52" x2="348.00" y2="598.52" stroke="#3aa83c" stroke-width="0.8" />
<line x1="345.60" y1="607.62" x2="348.00" y2="607.62" stroke="#3aa83c" stroke-width="0.8" />
<circle cx="346.80" cy="603.07" r="1.7" fill="#3aa83c"/>
<line x1="374.60" y1="597.61" x2="374.60" y2="610.35" stroke="#3aa83c" stroke-width="0.8" />
<line x1="373.40" y1="597.61" x2="375.80" y2="597.61" stroke="#3aa83c" stroke-width="0.8" />
<line x1="373.40" y1="610.35" x2="375.80" y2="610.35" stroke="#3aa83c" stroke-width="0.8" />
<circle cx="374.60" cy="603.98" r="1.7" fill="#3aa83c"/>
<line x1="430.20" y1="598.52" x2="430.20" y2="609.44" stroke="#3aa83c" stroke-width="0.8" />
<line x1="429.00" y1="598.52" x2="431.40" y2="598.52" stroke="#3aa83c" stroke-width="0.8" />
<line x1="429.00" y1="609.44" x2="431.40" y2="609.44" stroke="#3aa83c" stroke-width="0.8" />
<circle cx="430.20" cy="603.98" r="1.7" fill="#3aa83c"/>
<polyline points="346.80,620.36 374.60,650.39 430.20,670.41" fill="none" stroke="#c2102c" stroke-width="1.1"/>
<line x1="346.80" y1="609.44" x2="346.80" y2="631.28" stroke="#c2102c" stroke-width="0.8" />
<line x1="345.60" y1="609.44" x2="348.00" y2="609.44" stroke="#c2102c" stroke-width="0.8" />
<line x1="345.60" y1="631.28" x2="348.00" y2="631.28" stroke="#c2102c" stroke-width="0.8" />
<circle cx="346.80" cy="620.36" r="1.7" fill="#c2102c"/>
<line x1="374.60" y1="635.83" x2="374.60" y2="664.95" stroke="#c2102c" stroke-width="0.8" />
<line x1="373.40" y1="635.83" x2="375.80" y2="635.83" stroke="#c2102c" stroke-width="0.8" />
<line x1="373.40" y1="664.95" x2="375.80" y2="664.95" stroke="#c2102c" stroke-width="0.8" />
<circle cx="374.60" cy="650.39" r="1.7" fill="#c2102c"/>
<line x1="430.20" y1="665.86" x2="430.20" y2="674.96" stroke="#c2102c" stroke-width="0.8" />
<line x1="429.00" y1="665.86" x2="431.40" y2="665.86" stroke="#c2102c" stroke-width="0.8" />
<line x1="429.00" y1="674.96" x2="431.40" y2="674.96" stroke="#c2102c" stroke-width="0.8" />
<circle cx="430.20" cy="670.41" r="1.7" fill="#c2102c"/>
<polyline points="346.80,624.00 374.60,663.13 430.20,677.69" fill="none" stroke="#c41a2a" stroke-width="1.1"/>
<line x1="346.80" y1="605.80" x2="346.80" y2="642.20" stroke="#c41a2a" stroke-width="0.8" />
<line x1="345.60" y1="605.80" x2="348.00" y2="605.80" stroke="#c41a2a" stroke-width="0.8" />
<line x1="345.60" y1="642.20" x2="348.00" y2="642.20" stroke="#c41a2a" stroke-width="0.8" />
<circle cx="346.80" cy="624.00" r="1.7" fill="#c41a2a"/>
<line x1="374.60" y1="660.40" x2="374.60" y2="665.86" stroke="#c41a2a" stroke-width="0.8" />
<line x1="373.40" y1="660.40" x2="375.80" y2="660.40" stroke="#c41a2a" stroke-width="0.8" />
<line x1="373.40" y1="665.86" x2="375.80" y2="665.86" stroke="#c41a2a" stroke-width="0.8" />
<circle cx="374.60" cy="663.13" r="1.7" fill="#c41a2a"/>
<line x1="430.20" y1="674.96" x2="430.20" y2="680.42" stroke="#c41a2a" stroke-width="0.8" />
<line x1="429.00" y1="674.96" x2="431.40" y2="674.96" stroke="#c41a2a" stroke-width="0.8" />
<line x1="429.00" y1="680.42" x2="431.40" y2="680.42" stroke="#c41a2a" stroke-width="0.8" />
<circle cx="430.20" cy="677.69" r="1.7" fill="#c41a2a"/>
<polyline points="346.80,651.30 374.60,676.78 430.20,682.24" fill="none" stroke="#1d5a8a" stroke-width="1.1"/>
<line x1="346.80" y1="649.48" x2="346.80" y2="653.12" stroke="#1d5a8a" stroke-width="0.8" />
<line x1="345.60" y1="649.48" x2="348.00" y2="649.48" stroke="#1d5a8a" stroke-width="0.8" />
<line x1="345.60" y1="653.12" x2="348.00" y2="653.12" stroke="#1d5a8a" stroke-width="0.8" />
<circle cx="346.80" cy="651.30" r="1.7" fill="#1d5a8a"/>
<line x1="374.60" y1="675.42" x2="374.60" y2="678.15" stroke="#1d5a8a" stroke-width="0.8" />
<line x1="373.40" y1="675.42" x2="375.80" y2="675.42" stroke="#1d5a8a" stroke-width="0.8" />
<line x1="373.40" y1="678.15" x2="375.80" y2="678.15" stroke="#1d5a8a" stroke-width="0.8" />
<circle cx="374.60" cy="676.78" r="1.7" fill="#1d5a8a"/>
<line x1="430.20" y1="681.33" x2="430.20" y2="683.15" stroke="#1d5a8a" stroke-width="0.8" />
<line x1="429.00" y1="681.33" x2="431.40" y2="681.33" stroke="#1d5a8a" stroke-width="0.8" />
<line x1="429.00" y1="683.15" x2="431.40" y2="683.15" stroke="#1d5a8a" stroke-width="0.8" />
<circle cx="430.20" cy="682.24" r="1.7" fill="#1d5a8a"/>
<polyline points="346.80,669.50 374.60,681.33 430.20,684.06" fill="none" stroke="#163e78" stroke-width="1.1"/>
<line x1="346.80" y1="664.04" x2="346.80" y2="674.96" stroke="#163e78" stroke-width="0.8" />
<line x1="345.60" y1="664.04" x2="348.00" y2="664.04" stroke="#163e78" stroke-width="0.8" />
<line x1="345.60" y1="674.96" x2="348.00" y2="674.96" stroke="#163e78" stroke-width="0.8" />
<circle cx="346.80" cy="669.50" r="1.7" fill="#163e78"/>
<line x1="374.60" y1="679.51" x2="374.60" y2="683.15" stroke="#163e78" stroke-width="0.8" />
<line x1="373.40" y1="679.51" x2="375.80" y2="679.51" stroke="#163e78" stroke-width="0.8" />
<line x1="373.40" y1="683.15" x2="375.80" y2="683.15" stroke="#163e78" stroke-width="0.8" />
<circle cx="374.60" cy="681.33" r="1.7" fill="#163e78"/>
<line x1="430.20" y1="683.15" x2="430.20" y2="684.97" stroke="#163e78" stroke-width="0.8" />
<line x1="429.00" y1="683.15" x2="431.40" y2="683.15" stroke="#163e78" stroke-width="0.8" />
<line x1="429.00" y1="684.97" x2="431.40" y2="684.97" stroke="#163e78" stroke-width="0.8" />
<circle cx="430.20" cy="684.06" r="1.7" fill="#163e78"/>
<line x1="468.10" y1="618.50" x2="478.10" y2="618.50" stroke="#3aa83c" stroke-width="1.1" />
<circle cx="472.70" cy="618.50" r="1.5" fill="#3aa83c"/>
<text x="481.40" y="621.40" font-size="8.2" text-anchor="start" font-weight="normal" fill="#333" color="#333" >DS</text>
<line x1="468.10" y1="629.40" x2="478.10" y2="629.40" stroke="#c2102c" stroke-width="1.1" />
<circle cx="472.70" cy="629.40" r="1.5" fill="#c2102c"/>
<text x="481.40" y="632.30" font-size="8.2" text-anchor="start" font-weight="normal" fill="#333" color="#333" >DAC</text>
<line x1="468.10" y1="640.50" x2="478.10" y2="640.50" stroke="#c41a2a" stroke-width="1.1" />
<circle cx="472.70" cy="640.50" r="1.5" fill="#c41a2a"/>
<text x="481.40" y="643.40" font-size="8.2" text-anchor="start" font-weight="normal" fill="#333" color="#333" >OR21</text>
<line x1="468.10" y1="651.30" x2="478.10" y2="651.30" stroke="#1d5a8a" stroke-width="1.1" />
<circle cx="472.70" cy="651.30" r="1.5" fill="#1d5a8a"/>
<text x="481.40" y="654.20" font-size="8.2" text-anchor="start" font-weight="normal" fill="#333" color="#333" >DAC+DS</text>
<line x1="468.10" y1="662.20" x2="478.10" y2="662.20" stroke="#163e78" stroke-width="1.1" />
<circle cx="472.70" cy="662.20" r="1.5" fill="#163e78"/>
<text x="481.40" y="665.10" font-size="8.2" text-anchor="start" font-weight="normal" fill="#333" color="#333" >OR21+DS</text>
<text transform="translate(287.80,637.20) rotate(-90)" x="0" y="3.02" font-size="8.4" text-anchor="middle" fill="#222" color="#222" textLength="50" lengthAdjust="spacingAndGlyphs">Cell growth (%)</text>
<text x="0.00" y="703.50" font-size="8.5" text-anchor="start" font-weight="normal" fill="#222" color="#222" >DAC or OR21</text>
<text x="18.80" y="717.20" font-size="8.5" text-anchor="start" font-weight="normal" fill="#222" color="#222" >EPZ</text>
<text x="76.00" y="703.80" font-size="8.3" text-anchor="middle" font-weight="normal" fill="#222" color="#222" >0.1</text>
<text x="76.00" y="718.00" font-size="8.3" text-anchor="middle" font-weight="normal" fill="#222" color="#222" >0.5</text>
<text x="102.70" y="703.80" font-size="8.3" text-anchor="middle" font-weight="normal" fill="#222" color="#222" >0.2</text>
<text x="102.70" y="718.00" font-size="8.3" text-anchor="middle" font-weight="normal" fill="#222" color="#222" >1.0</text>
<text x="157.60" y="703.80" font-size="8.3" text-anchor="middle" font-weight="normal" fill="#222" color="#222" >0.4</text>
<text x="157.60" y="718.00" font-size="8.3" text-anchor="middle" font-weight="normal" fill="#222" color="#222" >2.0</text>
<text x="184.60" y="703.80" font-size="8.3" text-anchor="start" font-weight="normal" fill="#222" color="#222" >μM</text>
<text x="184.60" y="718.00" font-size="8.3" text-anchor="start" font-weight="normal" fill="#222" color="#222" >μM</text>
<text x="268.10" y="703.30" font-size="8.5" text-anchor="start" font-weight="normal" fill="#222" color="#222" >DAC or OR21</text>
<text x="291.00" y="716.30" font-size="8.5" text-anchor="start" font-weight="normal" fill="#222" color="#222" >DS</text>
<text x="346.20" y="703.30" font-size="8.3" text-anchor="middle" font-weight="normal" fill="#222" color="#222" >0.1</text>
<text x="346.20" y="717.00" font-size="8.3" text-anchor="middle" font-weight="normal" fill="#222" color="#222" >0.5</text>
<text x="374.40" y="703.30" font-size="8.3" text-anchor="middle" font-weight="normal" fill="#222" color="#222" >0.2</text>
<text x="374.40" y="717.00" font-size="8.3" text-anchor="middle" font-weight="normal" fill="#222" color="#222" >1.0</text>
<text x="430.80" y="703.30" font-size="8.3" text-anchor="middle" font-weight="normal" fill="#222" color="#222" >0.4</text>
<text x="430.80" y="717.00" font-size="8.3" text-anchor="middle" font-weight="normal" fill="#222" color="#222" >2.0</text>
<text x="452.20" y="703.30" font-size="8.3" text-anchor="start" font-weight="normal" fill="#222" color="#222" >μM</text>
<text x="452.20" y="717.00" font-size="8.3" text-anchor="start" font-weight="normal" fill="#222" color="#222" >μM</text>
</svg></body></html>
